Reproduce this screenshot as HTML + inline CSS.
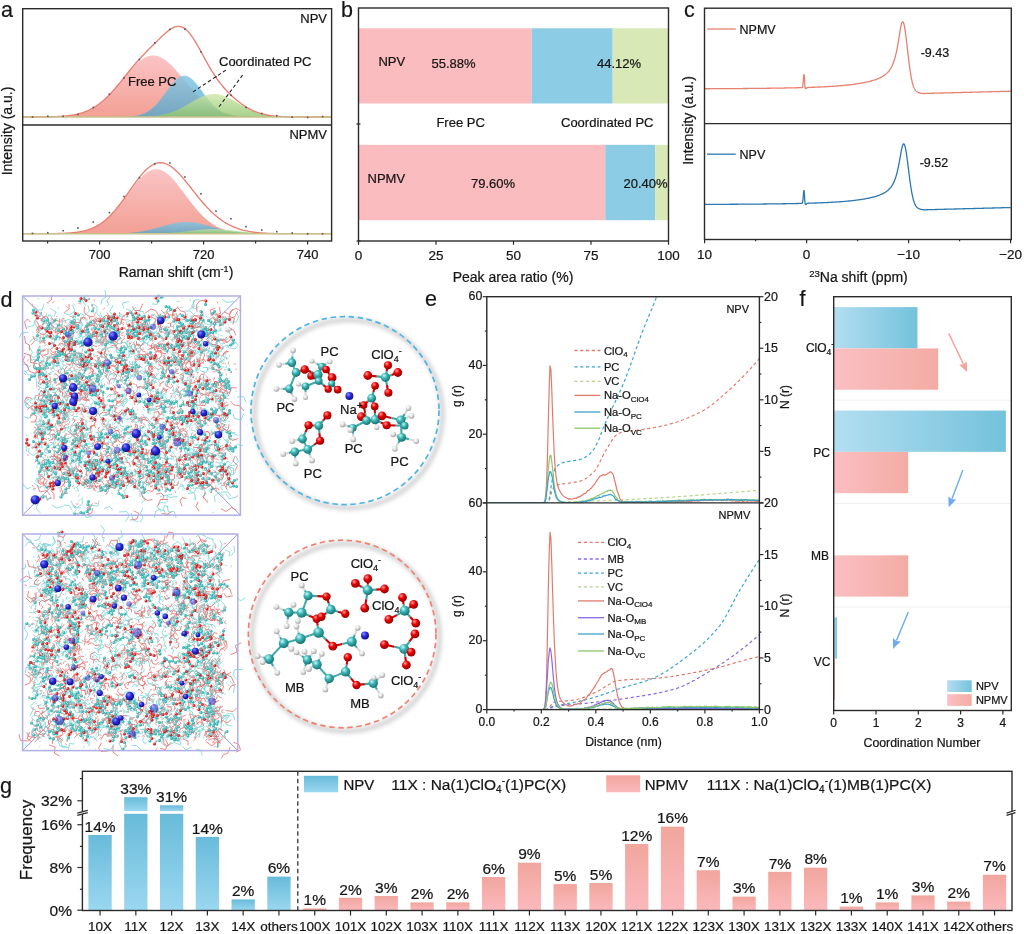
<!DOCTYPE html>
<html><head><meta charset="utf-8"><title>Figure</title>
<style>
html,body{margin:0;padding:0;background:#fff;overflow:hidden;}
svg{display:block;}
text{font-family:"Liberation Sans",Arial,sans-serif;fill:#161616;stroke:#161616;stroke-width:0.22px;}
</style></head><body>
<svg width="1024" height="934" viewBox="0 0 1024 934">
<rect width="1024" height="934" fill="#fff"/>
<defs><radialGradient id="at_C" cx="0.38" cy="0.33" r="0.72" fx="0.35" fy="0.3"><stop offset="0" stop-color="#c4fafa"/><stop offset="0.45" stop-color="#38b0b0"/><stop offset="1" stop-color="#176a6a"/></radialGradient><radialGradient id="at_O" cx="0.38" cy="0.33" r="0.72" fx="0.35" fy="0.3"><stop offset="0" stop-color="#ff9a9a"/><stop offset="0.45" stop-color="#e40000"/><stop offset="1" stop-color="#8a0000"/></radialGradient><radialGradient id="at_H" cx="0.38" cy="0.33" r="0.72" fx="0.35" fy="0.3"><stop offset="0" stop-color="#ffffff"/><stop offset="0.45" stop-color="#e4e4e4"/><stop offset="1" stop-color="#9a9a9a"/></radialGradient><radialGradient id="na_g" cx="0.38" cy="0.33" r="0.72" fx="0.35" fy="0.3"><stop offset="0" stop-color="#8c8cff"/><stop offset="0.45" stop-color="#2a2ad8"/><stop offset="1" stop-color="#0a0a80"/></radialGradient><filter id="blur3" x="-20%" y="-20%" width="140%" height="140%"><feGaussianBlur stdDeviation="2.2"/></filter></defs>
<line x1="22.6" y1="296" x2="54.6" y2="328" stroke="#8a8ac8" stroke-width="0.9"/>
<line x1="240.4" y1="296" x2="208.4" y2="328" stroke="#8a8ac8" stroke-width="0.9"/>
<line x1="22.6" y1="515.2" x2="54.6" y2="483.2" stroke="#8a8ac8" stroke-width="0.9"/>
<line x1="240.4" y1="515.2" x2="208.4" y2="483.2" stroke="#8a8ac8" stroke-width="0.9"/>
<g transform="scale(.5)" fill="none"><path d="M356 758l-3 4M421 678l-6-2M75 958l-4-2M237 634l-2 6M261 874l0-3M229 904l-3 4M427 934l0-5M172 919l-3-3M322 814l-4 4M385 683l-2-4M157 822l-4 3M321 911l0-5M457 729l2 3M261 710l-6 0M231 752l-5 0M375 807l-5 4M130 906l0 6M77 867l2 4M82 635l3 3M208 674l-2-2M123 655l-2-3M127 790l3-3M404 903l-4 2M313 694l-2 3M343 650l0 4M402 949l-6 0M452 707l-2-4M167 924l3-1M428 821l1 5M440 812l1-6M156 712l-3 0M349 901l-4 5M315 914l-1-3M339 952l-4 5M168 844l-3 2M188 874l-3-3M414 901l-1 5M78 886l-1-3M305 886l3 1M323 900l-4-1M319 959l-4 0M219 925l1 4M449 786l-5 3M177 648l-4 2M338 839l-5 2M381 829l-4-3M339 972l-2-4M185 751l4-1M150 740l-2-5M327 640l4 5M153 692l-4 3M115 844l-5 3M139 820l0-4M369 666l2 3M191 654l-3 5M372 761l4 1M170 881l2-2M186 757l4 2M96 967l-4 2M373 654l-6 1M191 688l1-6M243 807l5 3M253 946l-5-4M414 635l-3-6M225 712l-5-4M330 886l3-4M248 786l0 6M374 646l3 1M379 633l4-2M188 847l4-3M348 854l5 0M336 658l4 4M358 718l1 6M84 725l4-4M136 936l-5 0M111 659l-3 4M159 640l-1 3M345 791l5-2M132 896l-4-3M339 803l4 2M313 737l-3-1M139 881l-1 5M241 937l-1 3M312 877l-1 3M87 708l-3 2M131 845l3-2M404 667l0-4M172 737l-2 2M384 784l-2-3M151 637l-3 3M125 659l-5-2M169 673l4 3M163 747l-3 5M266 891l5 0M258 745l3 0M439 960l-3 4M453 734l-4 2M86 664l-3 4M288 637l4 1M432 667l-2-5M163 721l4-2M77 818l-1-6M372 857l2-4M87 763l0 4M405 648l-3 5M97 646l-3 6M222 764l1 4M232 884l-6 0M232 949l0-4M446 672l-5-1M303 871l-4-2M378 769l1 6M80 766l1 5M361 647l5 3M182 657l4 2M177 884l-3-4M362 952l-2 6M110 761l4 2M288 670l2 4M378 806l-3-4M436 895l6 1M166 899l3 0M287 768l3 2M400 899l1 6M134 858l3-5M224 882l-5-3M158 755l0-4M459 709l-1 6M276 946l4 4M97 724l3 3M371 870l2-4M279 745l3-1M112 664l2-4M402 726l1-5M240 678l-2 3M352 633l3 1M175 896l-2-6M371 636l3-5M444 717l5 4M380 703l6-1M125 714l5 0M352 946l-4-4M216 650l2-6M259 673l1 6M442 797l2 4M271 979l-2-4M218 961l-2 2M174 954l-2-6M296 722l5 1M189 918l0 5M383 676l0-4M415 882l0 6M100 965l-2 2M130 670l-3-6M196 664l5 3M154 638l3 1M307 807l-1 5M296 933l-6 1M414 655l2-3M222 677l-3 4M433 693l-2-5M418 798l-5-2M273 744l-1-5M398 884l-4 0M230 883l2-5M446 827l-3 0M113 765l-3 1M278 874l5-3M372 907l-2 4M393 688l3-1M193 771l-6-1M329 745l-3 5M221 820l-2 3M126 630l2 3M196 951l-6-1M230 948l0-3M159 686l-3-1M421 674l1-4M94 868l5 1M416 900l4 0M320 752l2-3M191 697l5 3M344 919l-3 0M125 836l0 6M310 699l-4-4M161 998l-4 5M334 1014l3-1M279 639l4-3M139 698l2-5M149 946l-4 5M128 600l-2-3M191 886l-5-1M294 676l1 4M341 842l0 6M365 678l-5 2M370 842l5 4M191 764l-6 1M435 792l4-4M315 918l3-4M281 912l-4 1M110 865l-3-5M71 961l4-3M131 662l3-3M385 927l2-3M292 664l-3-2M386 680l3-1M239 911l-4-1M109 714l1 6M263 695l-1 6M113 660l1-5M342 673l-3 2M381 848l4 1M88 809l-2 5M312 950l-3-5M274 752l2 4M166 790l-1 6M338 631l-5 1M79 921l-1 3M128 776l-3-3M101 693l4-4M328 715l-6-2M341 863l-5 0M332 654l3-1M224 721l-1-5M394 891l-5 0M310 830l-5 3M350 847l3-4M236 847l-4-5M216 779l-1-3M399 968l-5 0M335 863l-1 4M267 887l4 1M440 771l4-1M432 790l3-1M90 979l-2-5M374 720l3 3M261 950l2 4M85 776l3 3M296 796l0 4M85 849l-1-3M391 976l-6 1M382 945l3 4M93 730l4 5M459 818l0 4M210 644l-1-6M249 787l1 3M224 696l6-3M253 727l-4-4M376 840l-4 2M418 782l5-2M185 980l5-3M151 824l-3-3M182 964l0-3M240 958l0 6M300 891l4 3M99 924l2 3M219 682l-3 2M79 868l1-6M326 920l-1 6M284 898l2 4M189 641l-1-3M400 894l3 5M194 672l0-6M436 714l3 3M379 841l-5-1M121 844l-3 3M208 910l1-3M348 896l6 2M400 741l6 2M294 905l6 2M359 684l6-2M224 683l1 5M136 814l-3-5M376 839l-5-4M135 732l-3 0M323 675l1 3M106 953l-4 3M424 909l4-4M249 756l0-6M366 961l-3 4M212 665l-4 0M260 869l1-6M118 975l-3 1M258 748l2-4M222 901l6 2M270 681l-2 5M125 736l-3 4M295 969l6-1M381 742l5 2M434 951l-5 2M442 815l5 2M257 949l-2 3M125 882l-1-5M149 786l-2-4M178 796l-1 5M430 766l-4 1M411 923l-4 1M408 896l5-2M390 934l4 3M205 648l4-3M189 905l-1-3M424 770l-3-4M197 642l-3 1M214 715l-3-5M293 866l-5 0M294 834l-5 2M272 715l3-1M406 800l-3 5M188 962l-3-2M286 787l3 2M220 828l-5 0M311 904l3-3M137 772l-4-2M87 845l-4 3M233 670l4 4M313 653l2 6M228 678l-1 5M451 912l2-2M431 667l3 0M84 691l-4 4M397 785l4 4M192 974l3 4M187 683l2 3M420 637l-2-3M461 754l-4 3M424 641l-4-3M107 830l-5 1M277 648l-1 4M269 709l1-4M204 956l3 6M364 653l-6-2M385 906l3 1M168 734l-3-3M345 896l4 0M308 891l4-2M283 745l-3-3M261 867l3 0M335 870l4-1M140 894l-6-1M323 752l4-2M142 957l-3 3M365 800l3 5M134 964l5 1M159 830l3-4M133 965l-6-2M300 852l-2-3M328 762l-1 3M319 691l3-5M265 899l-5 0M442 926l-6 0M286 818l5 4M398 908l5-3M249 913l3 5M299 680l0-5M71 677l4 2M400 929l2 3M93 803l-1 4M294 788l-3-1M105 951l0-5M120 675l0 4M176 713l5 2M93 827l-2 2M355 753l-5 1M314 835l-2 6M383 843l-6 0M296 957l-4 5M401 919l-5-2M148 892l-6-1M253 785l2-6M345 910l-2-3M154 912l5 2M313 724l4 0M432 911l-2-3M136 629l3 0M399 773l2-3M179 872l-1-4M330 829l-3 4M413 709l0 3M162 678l-3-2M205 683l4-2M332 739l-1 6M230 802l-5-4M288 949l4 0M83 749l-2-5M427 951l-5 0M308 825l1 5M440 873l-2 3M253 709l-5 3M388 936l-2 3M364 679l1 3M175 640l-4 3M161 752l0-4M110 910l-3 0M312 702l-4 4M354 966l4-3M294 708l2-4M202 670l-4 5M91 805l5-2M262 933l-6 1M48 597l2 3M301 908l1 4M244 632l-4 2M89 668l2 5M182 639l0-4M267 633l-2 5M174 953l-1 5M223 956l3 3M355 739l-5-2M209 774l-5 0M238 705l-6-1M130 907l4-1M436 914l5 2M150 974l-2 4M148 843l-1 4M82 801l-3 0M338 885l-2-3M136 649l1-3M132 860l-3 3M273 685l1 3M286 663l-5 3M365 698l5 0M285 914l-2-5M417 925l3-1M190 928l1 4M129 738l-4-2M324 927l3-3M400 851l-3 2M196 727l4 0M446 932l6-1M186 968l-4-4M93 726l-5 0M76 657l3 4M87 790l-5-3M389 753l-5 3M140 737l0 4M395 735l-3-5M382 817l5 2M274 955l6 1M87 651l-3-2M297 968l-4-4M103 737l1 4M449 959l3-2M165 891l1 6M371 790l-1 6M135 830l-1 4M394 727l-5 3M166 714l-2 6M253 954l3 2M147 864l-1-3M119 961l5 3M389 652l-2-5M394 764l4 0M176 711l4-4M299 698l5 1M161 644l-2-5M158 893l1 3M129 690l3-2M124 636l5 1M402 759l0-4M93 658l-2-3M162 734l0-6M94 801l1 5M280 877l-3-4M112 847l-2 4M335 978l-4-1M320 671l3-1M432 970l-1 5M402 766l-4 2M365 705l5-2M396 898l-2-3M180 799l4-4M273 889l-6-1M117 676l2-3M392 734l-1 5M234 737l-5-2M235 854l-6 0M213 831l-4-3M224 679l3-2M273 653l-3 2M439 711l-3-2M409 798l3 4M225 646l-1-4M205 877l6 0M447 636l0-4M252 917l4 5M418 733l1 5M276 685l2 3M261 657l-3 5M363 791l-2 3M107 866l3 3M437 667l1 4M434 936l0 5M203 828l-4-2M264 713l-6 1M379 653l-4-2M116 762l-4-5M363 791l0 5M120 890l4-1M364 632l-4 3M335 718l-4 3M241 833l0-3M156 739l-4 0M349 697l4-5M386 799l2 5M169 809l2-3M85 808l1-5M231 815l3 4M190 793l0-4M196 969l-2 4M192 938l-4-3M181 951l-6-2M155 670l6 0M98 869l-2-3M106 783l-2 3M418 909l4 2M389 738l5 1M329 908l-2 4M302 943l-5 4M263 878l-3 4M167 931l2-3M334 915l2-3M442 894l-3-3M228 882l-3 3M406 890l5 3M169 663l3-5M138 723l-2-6M198 685l-5 1M399 724l-3-2M301 825l-1 5M217 676l4 1M239 934l-3-1M123 921l-6-1M398 896l3 1M417 716l6 0M418 932l-3 4M314 648l4-4M157 795l4-2M232 827l-4 3M284 903l-2-3M354 641l1-6M150 867l-3 0M98 807l5-2M198 828l-4-2M313 863l-2-2M76 767l0-5M129 787l4 1M89 957l0 4M162 672l-1-4M425 966l-3 2M253 825l-1 5M325 968l-5 1M232 893l5 0M92 847l-4 2M73 636l4 3M255 850l-5 3M191 798l4 3M327 752l-4-4M126 899l4-4M184 791l-2-3M343 704l-4 0M306 931l2 2M292 885l5 0M181 905l3 5M228 880l1-4M85 726l-2-5M388 639l1 6M124 925l-3-3M175 860l-4 1M109 972l-2 3M175 959l4-3M185 974l4 0M176 862l3-4M325 861l-5 0M451 884l5-3M241 968l3 2M396 858l0 3M146 979l3-3M213 637l1 6M132 690l4-3M91 947l-3 4M459 924l-4-2M189 648l3-2M48 746l4 4M277 962l-3-2M432 830l3-1M200 931l0 5M276 930l-6-3M262 658l0 4M439 807l-2-6M354 899l-1 3M217 679l-2 4M147 633l3-1M355 857l-2-4M132 662l3 3M352 927l4 3M163 899l5 1M432 935l-3-4M393 899l2 5M443 758l-2 3M163 869l6-1M166 768l-4 3M133 677l4 2M222 677l3 5M362 737l-2-4M392 975l4 1M152 828l5-2M445 786l3 2M140 890l5-1M394 694l-4-4M332 866l6 2M102 662l-2 4M455 940l3-3M291 904l4 0M433 792l-2-6M331 672l0 4M215 895l-4 3M161 853l4 1M294 715l5 1M238 916l-3 3M400 732l0-4M394 664l0-4M421 803l3 3M188 769l1 5M349 736l4 3M353 647l2-5M211 879l-2-6M53 1018l-1-3M336 958l1 5M455 647l2 3M119 673l3 2M366 648l-2 6M147 951l3-1M324 626l-3 4M343 780l3 1M288 641l-4 1M363 780l-3 5M55 808l-4-2M96 859l-3 2M414 890l2 6M336 651l0 6M250 805l-4-4M196 883l1 6M134 836l-3-5M421 702l6 0M139 934l-4-3M275 948l-1-4M324 664l-5 0M281 787l-2-6M118 831l1 4M245 676l-5 1M151 851l1-4M386 819l3-1M202 681l0 6M135 678l4 0M379 823l-3-2M368 712l1-4M392 995l-5 3M144 948l-3 1M348 721l4-1M152 632l-5 0M186 890l4 1M108 810l4 5M273 964l1-4M237 956l5 3M317 908l6 1M97 718l0 3M340 816l-4-2M200 664l0-4M195 660l4 2M173 929l3 2M324 877l3 2M411 885l3 1M300 641l1-3M375 805l3 3M143 716l-4 1M344 959l0 5M85 833l-1-5M420 691l-4-2M130 760l0-4M258 709l-1-4M376 628l-5 2M148 894l1 3M164 880l-1-4M92 912l-3 2M429 775l-2-4M293 906l1 3M346 794l5 2M183 690l-3 2M359 717l0-4M331 835l3 5M144 708l5 0M451 857l-2-6M460 843l-5-1M196 722l-3 1M303 909l0 5M323 768l3-3M307 667l4-5M329 713l-3 2M131 889l2-4M141 732l-4-2M309 917l-3-4M333 900l-2 4M311 960l3 0M446 798l1 6M87 751l3 1M102 630l-5 0M453 792l6 0M82 819l5 0M58 733l4-1M372 841l-4-3M230 759l-5-1M118 673l5 2M405 757l-3 2M114 917l-3-5M100 745l3 2M198 770l0 4M109 864l4 2M94 647l4-2M139 910l-3 2M323 698l-3-5M295 776l-4 0M239 951l-3 4M282 956l-5 3M327 953l-3 3M185 854l-4 4M281 729l-3 0M81 660l-6 0M355 772l2 3M406 645l-1-4M146 624l3 2M474 784l-3-4M368 721l1 4M154 652l0 3M244 902l5-2M201 890l1 3M374 898l3-3M354 914l-4-1M244 690l-2 6M369 779l0 5M364 978l5 3M223 929l-2-2M315 748l-3 5M420 779l-5-3M443 734l5 0M439 755l2-4M299 956l3 3M435 640l-5 1M420 891l-6 2M355 874l5-1M83 727l-6-2M372 938l0 4M157 887l4-3M277 708l-2-4M416 755l-4-1M439 934l2-5M193 670l3-1M205 884l5 1M215 916l-4 1M383 890l-1 5M72 931l3 5M276 953l1-3M392 957l-5 2M422 945l-5 1M119 864l3 4M304 844l0 4M96 877l3-1M172 705l2 2M98 882l-1-6M314 750l4-4M175 732l3-2M345 741l-4-1M437 875l2-4M202 726l2 5M284 930l-1-6M101 930l2-5M154 745l-3 2M316 740l0 3M88 860l0-5M211 715l3 3M418 704l-4-3M210 929l3 1M307 680l2 5M181 774l4-2M458 948l-3-5M357 847l-3 4M201 704l-2 5M200 744l3-1M293 720l-1 4M102 849l4 2M322 736l-1-3M344 880l4-4M122 833l-3-5M149 938l-4-4M256 948l3-5M136 823l6 2M162 665l-2-3M401 698l-2 4M84 945l-4-2M319 654l2-3M169 663l0-5M263 725l4 0M287 713l-4 0M374 716l-6 1M204 847l5 0M148 649l-1-6M118 672l3 2M437 673l-2 4M157 690l-3-5M184 939l-6 1M362 718l-6 0M227 989l-5-4M220 956l3 1M304 690l2 5M88 635l-4-1M139 809l-6 0M218 943l-6 1M430 718l3-3M406 856l0-4M286 906l-1 4M355 692l-5 3M151 884l-2-4M432 666l3-4M231 726l4-1M231 701l-3 5M231 757l-3 3M389 801l-4-1M150 633l1 4M80 835l-1 5M130 933l-3 1M108 748l3-1M217 719l0 3M253 906l-5 3M366 727l-6 1M134 717l5 2M117 910l4-2M353 636l1-4M283 908l-1-4M280 950l-5 1M180 634l3-2M149 896l-3-3M171 768l3-1M421 733l1-4M221 633l1-3M315 848l-5-4M190 934l-4-3M159 690l-4-4M104 655l-6-2M428 931l-5-4M177 868l-3-2M181 696l-5-2M333 643l2-5M104 883l0-3M411 847l-1 3M332 950l4-1M370 897l4-3M109 851l2 6M174 970l5 2M237 927l-3 3M318 764l-2-3M87 699l-5-1M368 859l-5 0M422 675l-2-4M129 758l3-5M152 908l1 4M155 982l-4-1M386 702l4-1M345 938l1 3M117 878l-2 5M425 926l0-5M321 918l-1-5M452 895l5 0M171 632l-3 3M293 968l1 3M227 955l6-1M288 906l-1 5M327 728l0-5M334 1014l-5-3M208 913l-5 3M180 727l-5 0M157 749l-5-1M379 719l-4 3M404 692l-1 4M241 945l-3 1M327 896l4-1M107 695l4 4M280 930l4 5M96 888l4 0M163 650l3 1M311 916l0-4M125 898l5 1M100 826l4 2M131 839l2 3M443 733l-4 5M390 881l-3-1M450 707l3-3M180 861l-3 1M338 769l0-6M311 748l4-1M412 917l4 1M80 953l-4-3M338 873l5 0M255 833l-3 2M214 689l-1 6M99 900l-5 4M243 712l3 3M333 690l0-4M409 689l3 5M344 867l-2-4M208 876l-2-5M453 735l-1-5M209 890l3-5M215 763l0 4M216 892l5 3M449 770l0-3M206 687l1-6M181 675l5-3M269 874l-5-1M250 959l-4-5M180 929l5-1M141 818l2-5M204 891l5-2M92 720l2-4M392 909l4 3M438 907l-5 1M84 769l4 4M108 752l2-5M75 778l5 2M320 969l3 4M382 954l-4-2M222 724l2 4M248 826l2-4M131 736l3-2M340 938l-1-3M309 864l2 2M405 810l1-4M215 635l-1-5M167 745l4-3M395 694l-2-3M407 750l6 0M112 798l5 2M384 750l-6 0M446 861l-4 2M364 737l3-4M204 877l5 3M132 731l-3-2M355 897l0-4M452 685l3-2M307 883l3 0M422 961l3-2M189 769l-3-4M317 842l-6 2M408 886l4-4M401 964l2 3M209 975l-3-3M218 679l-2-4M88 862l4-4M321 785l3-1M92 632l2-5M104 868l5 0M458 729l-2-4M338 925l-3 5M259 954l-1-5M353 660l4-2M123 690l2-5M319 964l5-1M456 826l6-2M95 676l-4-4M328 720l-2 2M118 767l-3 3M417 756l-3 1M443 746l4 0M214 957l-3-1M182 957l5-4M323 680l2 4M413 944l4 3M406 929l-2-5M333 862l3 5M211 825l3 2M332 900l-2-4M353 644l-3-1M313 659l3-4M165 795l5-3M314 728l-3-1M400 758l1-6M285 932l4-1M278 753l-3-2M254 918l0 5M172 860l-3 1M256 673l1-3M326 823l5-3M328 671l3-1M261 778l-3-4M131 671l3 2M256 900l-2-6M148 874l0-6M340 880l1-3M284 865l-2-5M189 805l2-2M318 890l-4 2M144 906l5 4M384 684l0-3M368 643l5 2M206 912l-2 4M320 654l3-4M79 775l-3-4M245 968l-4 0M337 822l5 0M444 795l-4 2M394 781l-3 3M459 907l3 2M222 652l-1-4M376 882l-4 3M281 675l-3 3M83 901l-3 2M226 844l-1 6M112 658l5 2M404 649l0-5M447 968l5-3M358 897l4 3M118 886l2-6M100 772l5 0M385 714l-2 4M222 925l-3 0M155 713l-5-2M403 667l3-1M171 641l-1-3M313 800l2 6M334 666l-2-3M390 813l4 1M171 854l4-2M263 826l3 1M123 747l4-3M343 967l-2 5M443 733l-6 0M96 850l4 2M254 687l3-5M281 974l2 4M297 764l-1-3M427 814l6 3M192 948l-5 2M438 633l-5-3M117 676l-4 1M260 955l-5 4M124 811l0 4M191 966l-6 1M356 953l-5-3M407 922l0-4M254 682l3 2M97 784l1-3M82 668l-2-3M102 705l-3-2M228 658l-2-4M206 694l0 5M345 940l-4 1M150 717l6 2M398 942l3 1M202 890l-3-2M351 675l-3 4M333 935l-1 5M136 946l0 4M155 754l3-6M403 788l3-1M231 631l5 0M436 889l1-5M69 982l-2-6M100 852l5-3M202 713l4 0M207 890l-3-1M308 782l-5 3M52 872l2-4M285 657l0-6M116 705l0 3M243 889l-1-5M317 658l6-1M76 887l-1 5M376 658l-1 3M389 976l-3-1M321 828l-4-1M207 873l0 4M363 691l0-4M151 747l-1 4M424 691l-5-2M170 654l4 0M370 662l3-3M182 855l1-4M228 673l3-2M124 969l4-3M321 894l-4 0M410 815l-1 4M303 921l4-3M249 676l-3-3M284 966l2-5M97 770l0 5M379 766l3 0M314 935l-6-1M155 656l3-3M281 692l-2-3M98 608l-5-3M125 865l4-2M264 941l-3-1M206 736l5 1M146 731l-5-2M372 662l-3-2M271 648l-3 1M451 813l0 5M146 925l-3 2M333 660l-1-3M120 978l-2-5M132 935l3-2M250 735l5 2M79 887l-1 3M93 813l0-3M354 650l0 5M302 871l-3-2M97 863l-3-5M390 635l-2-2M175 903l0-4M392 908l0-4M347 864l0 4M424 684l-2-6M359 946l-4 3M177 760l4 4M394 738l-1 6M135 660l5 1M424 1026l5-2M164 766l3-1M176 973l-4-2M426 771l6 1M337 955l-2 5M335 906l2-5M227 732l-1-3M359 788l5 2M293 641l2 5M388 841l-3 3M408 912l3-1M153 806l-3 2M203 736l0-6M152 718l1 4M126 756l-2 5M367 741l1 3M401 900l-5 0M124 932l5 3M399 841l1-6M231 691l1-6M113 864l5 4M138 923l1-3M325 897l-4 4M76 957l-1 3M353 969l4 2M97 949l-4-1M294 926l3-4M404 703l4-2M235 925l6-1M400 801l-1 6M84 824l2-5M108 764l-6-1M128 784l-1 4M179 779l1 5M233 771l0-4M175 957l-3 1M118 618l-2-4M132 935l4-2M395 753l-4 3M130 780l-6 0M104 649l-1 3M275 845l-5 2M124 738l3-6M135 737l3 2M394 666l3 4M381 602l-1-5M208 706l2-5M312 650l-2-3M269 979l-3 2M252 828l2 3M388 705l-5 4M157 638l-3 1M141 717l3-5M361 631l4 3M440 780l1-5M395 962l-1-6M448 740l4-1M301 925l6 2M91 777l-6 0M120 687l1 5M366 749l3-5M199 882l3-5M215 730l5 2M395 747l-2-4M344 650l-2-4M83 956l-6 0M300 661l-6 1M376 874l0-3M437 927l-3-3M181 957l-3 5M322 673l3-1M450 794l2-4M410 762l-1-5M343 694l0-3M331 711l-4 1M341 962l-3 2M371 835l4-2M440 647l-5-4M104 950l1-6M156 994l3-5M375 785l3 2M428 901l0-3M243 910l-4-5M110 801l3-3M252 715l4 1M112 725l-4 1M315 724l3 2M127 793l-2-2M444 703l-4 1M313 925l0-6M428 635l-3-4M99 954l-5 2M198 823l-1 4M420 979l-2 5M135 911l3 2M241 776l6-1M145 767l-3 2M138 852l-1 4M89 777l3 5M209 955l2 3M387 887l5 3M407 807l-4 5M307 672l5 0M154 786l-6 0M452 975l3 5M431 702l-3 5M259 640l-5-1M297 988l-2-3M106 830l-2-6M340 671l-2-3M210 670l1-4M364 726l2 3M253 960l-2-5M150 733l-4 5M258 670l-3 4M445 763l-3 5M447 786l0 5M449 778l-1 5M92 670l-3 1M151 635l2-6M266 700l4 4M328 838l-3-4M199 948l0-3M427 712l-1 6M428 954l-1-4M152 821l-3 2M99 662l-6 0M322 636l3-2M302 665l-2-4M349 696l5-4M133 911l1 4M210 727l5 0M420 948l0-5M158 715l-2 5M233 882l-6 0M367 892l-5-4M150 795l-2 3M305 975l2 2M335 954l3-3M368 778l3-5M279 836l4 3M403 694l1-4M345 695l3-2M416 769l-6 0M158 927l-1-3M391 675l3-5M168 848l1 5M350 734l1 5M75 597l4 1M354 603l6 0M134 906l0 3M375 754l-1 6M422 796l4 1M319 632l2-5M216 739l-4 1M262 776l3 0M352 919l4 2M327 773l1 5M113 691l-3-1M301 791l-5-3M416 835l-4-2M414 879l-3 5M446 663l-4-3M200 674l-5-4M225 812l2-3M345 943l-3-5M451 855l6 0M428 932l-3-1M116 798l-3-5M352 673l-1-6M93 920l3 3M127 671l2-5M418 937l-4 2M379 786l5-1M329 876l4 3M393 806l-5 3M157 866l3 3M423 677l0-3M79 908l3 0M290 901l1-4M403 889l1 4M221 685l3-2M363 596l3 2M263 792l3 3M405 691l-4 3M208 882l2 3M276 670l-2-6M120 849l-2 5M170 974l-2-4M284 669l3-3M375 657l-5 1M419 708l-2-4M369 763l0-4M383 664l-4-2M94 662l-3 2M403 822l1 5M263 659l4-2M448 822l-1 4M149 611l-2-4M423 871l-3 1M365 615l-6 0M198 951l-4 3M454 767l4-4M327 807l0-4M112 886l-3-3M261 773l-3-1M184 971l-6 2M118 841l-3 0M400 716l1-4M87 648l-4-3M249 637l-2-5M158 735l0 6M146 880l4 0M215 613l0-3M197 894l-1-4M210 754l4-1M110 855l4-1M84 896l-1-5M291 684l2 4M380 761l-1-5M105 836l3-5M381 707l0 4M299 821l-5 0M423 865l1-3M336 740l5-1M82 831l-2 3M178 720l3 3M452 710l-3 3M256 964l4 1M111 639l4-3M97 693l-4-3M153 664l4 3M277 905l-2 5M188 713l3-1M137 776l0 6M254 638l-3 5M382 858l4-3M453 708l-5 0M358 634l-1-6M152 948l-5-2M357 769l2-3M178 948l0-4M309 936l4 3M447 858l0 4M457 807l-2 5M256 697l2-5M322 676l3-1M287 791l3-2M184 678l4-3M301 796l-3 2M387 910l-6-3M253 942l-3-2M128 941l-4-4M153 925l-2 5M379 661l-1 4M369 747l0-4M450 738l-2 3M231 666l-2-6M192 931l1 6M450 656l5 0M130 751l-3 3M289 944l-4 0M84 731l4 4M161 787l0 5M128 890l3 4M225 777l-5 0M174 834l5-1M96 786l4-1M176 630l4 2M302 654l3 1M137 900l5 1M291 962l3 3M101 735l-1 3M385 823l5 0M333 954l-1-5M133 860l3 0M399 669l2 6M410 807l-2-5M454 662l5 2M103 650l-4 1M228 693l5-3M145 765l-6-3M139 656l5 2M120 931l-4 1M395 812l-3-5M440 656l-1 5M424 682l3-5M204 726l5-1M149 934l4-2M264 914l-6-2M100 810l4-3M336 727l-5 3M240 703l5 3M424 645l0 4M311 770l-3 1M413 850l-6 1M327 707l5 0M135 803l-1-4M137 701l-5-3M145 806l-3 2M257 697l6-1M135 882l1-5M383 948l-1-4M357 865l-1-3M408 896l-1 6M331 843l4-2M295 771l-1-4M183 762l3-6M324 827l3 2M92 853l6 0M158 900l0 4M332 784l0 6M100 637l4-2M98 924l-4-1M378 904l4-2M72 960l0 6M144 778l-4-3M276 821l-1-3M382 710l4 2M396 960l4-2M433 935l-1 3M75 928l1 3M73 874l4 5M423 689l0-5M92 730l-5 0M107 732l6-1M455 784l5 1M451 676l2 3M445 765l6 0" stroke="#8adada" stroke-width="1.4"/><path d="M325 756l4 0M306 906l0 3M77 791l-5 0M430 815l2 5M362 860l-4 2M142 767l3-1M114 764l-3 4M407 669l2 5M436 849l4 0M72 855l-5-1M182 742l-1-6M343 645l-2 3M86 941l2 3M137 817l-1 4M350 706l3 1M456 946l4-1M242 695l-1 3M343 863l-3 3M359 936l-5-1M124 902l2-3M213 851l-5 3M245 715l0 6M149 850l-5 2M314 632l5 3M426 920l-4-4M158 929l-1 6M340 902l-1 3M416 968l-3-2M100 885l4 0M271 752l-3-5M438 713l-5 0M438 654l3-2M229 660l4 1M324 952l-5 1M418 700l1-5M409 952l-2-6M117 692l3-5M116 711l-5-1M138 942l-1-6M202 659l0-5M82 641l4 1M162 933l3 4M367 860l5-3M337 698l4-2M145 832l2-5M146 946l3-4M89 685l-4-5M421 828l5 2M194 666l6 0M408 998l-1-4M422 713l-1 4M84 964l-1 4M76 910l0-5M452 747l1 4M146 807l1-6M79 732l6-2M342 794l3 0M248 892l-2 5M114 966l-3 4M399 875l-4 1M350 637l4 4M279 939l4 2M250 658l-3-5M415 787l-5-1M330 662l-3-5M311 792l-4-4M88 910l4 1M246 960l3 3M394 745l4-1M184 864l-5 1M164 966l0-4M283 799l-2-2M415 924l1-5M355 766l3-5M427 953l5-3M431 831l0-6M451 899l2-3M361 719l-3-5M121 843l2 3M122 762l1-4M226 687l4-1M350 912l1 3M101 731l-3-3M80 826l-5 0M295 650l0-4M379 920l-4 0M298 865l-4 4M156 629l0-4M397 662l4 0M355 713l-3 4M417 921l3 5M309 701l0-5M283 902l3 5M376 700l-4 3M347 726l-1 4M291 635l0-3M369 695l3-5M186 673l4 0M239 908l-3-2M381 921l0 4M123 820l4-4M239 629l0-5M72 900l3 1M101 804l1-4M264 646l-3-2M430 660l-3 3M385 772l-5 0M394 901l-3 2M380 738l2-3M398 866l-4 1M420 863l0 6M456 774l-1-3M285 841l1-4M84 643l0-3M105 835l5-1M133 646l-3-1M91 631l-3 4M339 947l4 2M66 613l-2-6M172 925l4-4M327 934l3-4M398 941l1 3M131 722l-1-4M99 950l-3 5M160 917l1 4M190 640l-4 4M302 710l-3-6M159 744l-5 2M417 807l-4-2M140 938l-1 3M408 778l3-3M277 633l-2 2M125 933l-6 2M260 747l-4 1M335 974l-6 1M368 960l4-5M357 713l-4 2M364 911l-3 5M81 745l-1 5M125 773l6-1M206 657l-4 4M151 775l2 3M147 645l-4-5M417 685l1-4M150 737l0 6M112 834l-4-2M218 704l-1-3M462 888l-2-4M259 688l4-3M322 790l1-6M225 676l-2-5M417 773l2 5M359 656l0-4M323 688l-4-2M397 647l-6 0M178 903l6 0M297 967l4 3M458 723l-2 4M296 657l3-1M317 932l3 6M123 693l2-2M184 745l-3-4M443 872l3 3M152 665l5-2M116 819l0-4M203 655l-5-1M123 935l3 0M136 712l-2 4M78 855l-4 1M425 737l4-4M131 958l2-4M331 934l3 4M341 646l-6 1M396 846l0 4M305 678l0 5M289 934l-2 4M87 802l-5-3M256 891l-3 0M253 942l4 1M408 742l0 3M453 938l4-4M189 940l-2-5M457 702l-3 3M122 643l4 3M393 913l0 6M274 925l3-3M124 899l-2-3M135 831l1-4M411 783l5 3M126 814l2 3M112 772l3-3M374 864l-2 3M370 869l5 0M215 644l1-5M455 893l4 0M187 890l-3 1M126 905l-3 2M346 681l-5-2M248 913l3-1M418 770l-2-4M181 843l-4-1M431 786l-4 3M454 916l1 3M205 784l-3-3M160 853l0 5M442 873l0-6M402 818l-3-4M128 835l-4 0M82 973l-1 3M247 793l-3 2M111 647l4 2M268 933l-2-5M379 889l3-5M208 843l-5 0M171 669l5 1M220 945l1-4M86 670l2-4M222 831l1 3M187 624l0-4M190 637l3-2M317 667l-3 2M220 880l4-5M268 797l3 1M375 778l5-3M431 932l5 2M140 633l6 0M359 840l5-1M362 749l5-4M385 741l-1 4M109 727l-2-3M292 761l0 5M91 825l2-4M278 655l5-2M256 761l4-1M275 895l3 2M84 963l0 4M163 915l3 2M318 694l-4-2M148 971l-4 3M151 710l-1 4M269 901l6 0M72 719l5 2M201 917l-1 3M184 863l-5 2M368 776l0 5M111 710l-4 1M303 780l4-4M329 951l5-2M430 965l-4-1M250 903l-2-3M436 712l5-2M381 936l-4 5M317 687l1-4M138 932l-2 6M267 757l3-3M348 847l-2-4M168 703l4 3M404 719l4 5M364 818l-4-1M267 792l1-5M408 719l-4 0M193 672l-1-5M331 938l4 4M270 968l-1-3M234 920l3-5M141 961l-5 2M320 965l1-6M337 683l1 5M152 1014l-5-4M114 673l-1-3M379 930l-3 3M450 633l0 5M185 898l4-2M133 943l4-3M452 715l2 4M325 934l0-4M162 739l-5 4M273 651l1 5M132 687l-3 3M259 685l2 3M122 933l-3 5M303 629l5 2M111 734l4-2M435 713l-2 6M142 909l2-4M184 656l0 3M222 791l-4 2M379 882l4 0M142 737l-5 1M121 666l0-4M403 828l3-1M356 741l-3 3M205 978l-4-4M355 845l-3 2M164 915l-3 3M236 666l-2-5M402 668l-1-6M77 878l-3-3M157 1008l-5 0M223 911l-4-3M366 640l-2-3M256 965l1 4M379 694l3-2M392 687l4 3M178 952l4 3M79 675l4-1M264 697l-2-6M258 779l5-3M353 686l-1 3M134 844l1-3M255 865l-4 2M224 656l-1-4M86 861l-6 0M124 801l3-1M176 682l6 0M421 915l-1-5M421 671l6 2M447 847l-5 0M164 893l-5-3M446 786l2 5M381 712l1-5M88 751l-4 1M155 760l-4-2M375 840l0-5M428 911l-5-4M206 619l4-3M334 843l-2 3M414 956l0-4M130 847l0-6M418 896l-6-1M98 900l4 2M238 888l2 2M170 779l2-6M197 664l-5 2M140 910l4 3M66 978l6-1M405 697l3-5M453 968l0 6M150 758l-4 1M368 737l5-3M286 695l0 5M443 634l4 4M273 794l-2-3M81 842l-4-2M214 885l3 5M144 656l-4 0M301 974l5-4M452 796l5 2M317 697l1-5M179 815l-3 3M271 740l2-5M87 677l1 5M274 741l-5 0M242 908l-1 4M139 836l-4 4M137 897l-5-1M74 743l-2-5M200 703l3 4M85 684l6 2M383 958l4-1M143 700l-5-1M77 753l3-2M349 633l-3-5M133 695l2-3M429 914l3-1M242 705l5 0M106 640l-4 0M169 763l3 3M445 710l3-4M156 946l2 6M200 840l5-1M203 651l0-3M121 798l0 3M429 756l-2 5M90 774l2 3M452 641l-3-3M391 689l3-2M280 665l1 5M146 767l-4 0M257 953l-5 2M312 877l0 5M400 852l2 4M118 915l-4 0M57 718l-2 5M334 704l0 4M254 838l3-1M73 666l2-4M326 898l3-3M201 652l5 0M105 940l0-6M184 699l4 3M226 665l6 3M396 863l-3-4M276 663l4 5M165 666l3-5M173 937l2 5M353 868l4 3M133 868l-3-3M163 608l-6-1M206 721l-1 4M294 916l3 1M112 931l-3-5M173 814l-2-2M319 642l5 0M181 653l4-3M296 947l-5 1M340 787l5 1M132 903l-5 0M412 905l3 1M387 693l1 3M119 891l1 3M439 959l-5-2M179 939l-4-1M81 701l4 3M191 712l5-1M439 908l2-5M202 690l0-6M444 971l4 0M127 658l-3 2M114 867l-3 4M105 725l1 4M258 966l5 1M185 745l1-3M79 656l5 0M77 671l5-1M196 692l5-2M451 726l-1 3M264 921l0 4M277 887l3-1M385 921l-6-1M232 724l3 2M169 960l5 3M453 663l-1-4M205 891l5-4M133 832l-1-5M356 847l-2-3M107 901l-4-4M127 921l0 3M138 777l-2 5M262 687l-5 1M448 777l3-6M308 939l2 3M265 907l4 5M455 660l3-1M160 932l-3-5M322 854l1-5M378 694l-5 4M89 752l3 0M449 637l-3 3M284 775l3 3M324 644l-2-5M213 669l-4 4M166 874l-5 2M242 842l4 5M124 874l0 6M419 765l4-2M434 948l-2-3M108 795l2 4M97 850l1 4M100 844l-1 5M231 683l-1-3M360 895l-2 3M431 950l4-3M343 938l5 0M167 639l4-4M297 964l1-3M448 640l-2 2M405 791l-5-2M87 744l0 3M420 791l2-2M292 950l-2 3M292 715l0 4M322 869l-5 2M346 914l-4-3M163 787l-3 6M438 804l4 1M232 737l3-4M434 603l2 4M131 825l3 2M350 981l1 5M158 917l-3-3M323 944l1-6M422 915l1 4M118 970l5 3M58 910l-4 0M80 691l-3 5M244 940l-2 3M448 948l-5 1M85 722l4 1M318 727l0 6M418 789l4-3M266 767l5 2M267 970l-1-6M97 855l3-1M364 778l5 3M188 599l1 4M452 780l2 4M400 814l5 3M375 915l-1-3M205 886l4 0M308 908l-4 0M211 685l-1-4M81 910l-5 1M80 657l3 1M397 688l-4-4M195 930l-1-3M94 805l1 3M79 950l6-1M120 935l1 5M144 643l0 5M213 928l1 5M133 754l-4 0M172 957l0 4M302 693l0-3M443 829l1 6M132 836l3-1M170 848l4 3M418 785l4 0M149 682l-5 4M85 856l2 3M246 811l-3 0M376 679l-1-4M321 766l-3 0M256 754l1-4M383 938l4 3M135 868l-5 3M415 675l1-4M362 675l4 0M195 1007l-6-1M169 719l-1 4M242 768l2 2M423 923l5 0M373 688l-4-3M98 922l1 5M227 742l-2-3M92 973l-3-4M136 719l2-5M442 959l-3-2M101 767l-1 4M102 914l-3 1M75 674l-4 0M441 744l1 5M344 703l3 4M429 832l-5 0M242 667l6-2M242 713l4 3M250 918l3-1M305 669l2-3M407 902l2-4M257 671l3 1M298 883l3-3M374 859l2 3M454 704l-1-4M160 755l-2-6M280 853l4-3M253 647l2 4M113 691l-5-2M414 1006l1-5M212 891l0-6M451 708l-2-2M440 893l5-2M378 761l-6 1M388 912l2 3M118 782l3 2M262 678l-5 3M77 808l-4 3M318 740l-4-3M61 830l0 5M416 913l-6 3M79 819l-2-6M429 754l-1 4M253 736l2 5M256 732l6 2M216 890l2-5M132 642l-5-2M78 800l-1-6M350 794l1-3M129 689l0-6M123 758l0-6M74 903l4 2M88 688l3-2M224 715l4-2M413 753l3 2M252 659l-4-3M349 782l4 2M313 633l-4-3M294 944l-4-2M439 723l5 2M121 827l-2 6M113 861l1-5M394 696l3 1M177 701l-2-2M265 846l2-3M388 630l3 3M393 940l-6-2M129 974l-2-6M129 879l-2-5M425 917l5-1M437 919l-6-1M236 699l-3-5M305 676l-2 4M173 947l2 5M380 748l1 4M452 766l-4-3M208 797l-4-1M334 904l-2 5M222 662l-6 0M179 708l2 5M309 966l3 1M338 948l5 1M113 742l4 0M324 974l1 6M84 766l-3 1M282 931l5 3M333 734l-1-5M287 709l-4 0M322 638l-4 3M213 961l3 2M417 863l-5 0M163 843l-4-4M454 835l1-3M96 717l-1-4M221 870l-4-2M237 806l-5 2M408 627l-4-3M301 942l-2-4M378 763l5-2M391 843l-4-2M339 631l-3-5M210 828l4 1M302 815l-3 5M102 766l-3-2M236 904l3-2M144 790l-5 3M411 767l6 0M124 656l2 3M178 938l-3-1M79 637l-6 0M286 937l2 3M293 886l-5 1M129 637l-5 1M206 903l4-1M388 751l-1-3M205 860l-3 4M329 657l5-3M428 712l-4-5M193 952l-5 2M285 814l4 2M431 924l3 0M398 903l0 4M283 873l3-1M353 895l-1 5M313 788l-2-6M120 852l6 0M184 787l2-2M475 991l-2 3M266 904l4-2M333 774l-2-6M383 663l4 5M137 870l2-3M419 950l-2-3M147 787l3 2M275 716l5 2M122 862l-6-1M104 707l-3 0M107 958l0-5M372 704l3 3M327 720l3-1M433 979l-1 5M81 957l-3-1M375 686l-1-3M298 950l-3-1M417 852l-2-3M301 742l5 1M160 859l-3-4M222 833l-3-2M104 606l5-3M217 928l-5 0M271 750l-1 3M253 991l-6 0M76 780l4-3M403 899l-3-4M390 816l-4 0M339 696l5-3M313 845l-4-4M69 925l3-3M329 692l-1-5M170 659l-1 4M330 714l-3-4M263 842l1 3M202 915l2-2M262 888l4 5M193 755l-1 4M160 861l2-6M94 857l5-2M83 754l5-2M411 844l2 4M438 627l3 2M150 648l4 3M300 929l-2 3M123 843l3 2M102 943l3-5M427 779l-1 3M237 870l4 0M73 888l-5 3M340 630l-2 2M196 736l4 3M128 956l2-3M216 759l-4-5M388 916l0-4M435 847l-1 6M122 665l-1 5M114 632l-2 2M415 796l4-5M189 647l3-3M157 951l3 4M90 701l3-4M157 920l2 4M295 687l1 5M293 980l-4 0M344 858l-1-5M95 699l4-1M174 936l-1 4M122 642l3-5M267 960l-4 4M175 893l4 4M337 847l1-5M325 972l-5 2M128 880l-5-3M157 786l4 3M154 712l3 2M341 875l1-3M178 965l3 2M411 672l4-3M299 675l4 4M195 636l-3 3M446 852l5-3M134 675l6 1M362 869l-5-2M258 798l5-1M406 626l-3-4M444 809l-3 3M364 817l-5 2M307 944l2 4M382 941l0 6M379 796l-2-4M226 683l-3 4M444 956l-1 6M454 966l3-3M297 709l-5-3M431 744l-6-1M231 928l3-2M259 654l4-1M417 883l4-2M369 886l-2 5M87 704l-2-4M403 719l2 3M192 822l4 2M139 838l-3-2M398 957l-5 0M431 977l-4 2M242 907l-6-2M195 714l4 4M215 750l-3 4M155 873l-3 3M111 715l4 4M329 739l-3 0M118 694l4 5M426 632l-6-3M140 729l-2 3M270 977l3-5M467 729l5-2M288 769l1 6M276 913l-1-3M166 899l3 2M328 885l6 0M208 716l5-3M175 767l3-6M239 637l-2-5M117 768l4 2M451 812l4-1M361 928l6 2M115 962l-4-3M271 939l-3-1M120 765l4 1M193 900l5-3M382 766l1-3M365 943l4 4M280 903l-5-2M289 839l3-4M117 865l5-2M379 798l1 5M441 847l0-4M168 872l3 2M136 749l1-5M331 732l2-4M413 671l-6 3M411 882l-4-4M79 637l6 1M112 974l1-5M403 867l3-2M414 657l-1 5M403 802l0 5M177 748l5-4M131 612l5 3M142 861l-5 2M190 975l-2 6M362 740l1-3M212 851l0 6M374 957l3 2M161 940l-4 3M256 674l3-1M192 785l-6-1M391 921l-3-5M289 849l-3-2M292 812l1-6M308 852l-5 0M473 740l-2-3M331 814l-4 3M387 664l-3-1M129 767l-3 0M309 712l-3 2M84 717l3-3M424 721l2-4M421 893l-2-3M75 923l0-4M154 934l-3-4M146 693l-3 3M148 824l-6 0M143 944l5 0M126 880l4 4M236 918l4 4M177 763l-3 5M324 640l0-6M342 734l3-3M263 895l0-5M339 946l0 5M200 943l3 0M349 887l5-1M347 802l3 4M300 973l5 0M83 681l0 3M123 764l1 4M115 769l5-3M242 763l5-2M220 953l-2 3M214 748l-3 6M256 747l-2-4M103 793l-2-5M77 716l3-1M361 944l-2-2M357 714l-1-5M187 824l2-5M413 799l-1 3M442 745l-4 1M383 656l4 1M122 739l3-2M307 931l5 3M94 657l0-5M399 755l1 4M322 673l2 2M178 698l4 3M192 679l-3-3M179 634l0 5M153 776l-3 3M379 857l1-4M436 859l5-3M397 691l3-1M166 914l-1-4M400 897l0 5M313 638l-3-2M263 663l5 4M292 744l-4 2M108 654l-4 2M223 856l-2 3M249 674l0-3M296 879l-3 1M325 885l0-6M99 717l1-4M370 838l3 2M361 670l3-2M389 849l4-5M100 972l-3-6M170 719l6-1M163 644l-3-2M413 965l-4 0M332 899l1 6M383 868l-1 4M399 819l6 1M270 918l-3-3M192 971l-1 4M217 696l-3 0M336 968l-3 2M302 820l3-5M120 979l1 5M140 734l4 1M118 949l3 4M378 735l4-1M177 893l-4-3M103 634l2 4M297 906l-5 0M459 875l1 3M429 830l-2 3M413 955l-3-2M104 886l4 1M142 862l-1-3M393 659l-1 5M370 915l6 1M297 950l4-3M382 654l1-5M244 649l0-4M287 685l-1 5M118 712l-5 3M444 729l4-4M354 881l-1 5M169 835l-4-3M124 776l-3 1M93 689l-4 3M439 799l1-3M138 974l-4 3M96 916l-1-3M241 710l-3 3M406 699l-6 1M344 653l3 1M166 637l-5-2M239 638l4 0M427 905l-5 3M401 793l-1 4M186 711l4 3M325 939l0-5M230 951l-5 0M438 739l-1-6M138 716l2-3M404 662l2 5M77 866l2-2M95 661l-2 3M350 749l-3-2M388 665l2-4M158 695l4-3M211 849l-6-1M346 885l-1 4M197 816l3-2M72 877l-6-3M379 833l5 2M85 939l-3 5M305 731l-2 4M221 713l3 0M386 692l-3-5M312 934l2-2M74 775l-1-4M388 614l-5 0M407 899l6-2M209 767l0 4M326 675l2 4M199 698l-3-1M304 724l-1 4M189 631l2-6M330 933l-2-3M370 716l-5-2M132 877l6 0M444 771l5 3M446 857l5 2M431 802l1 5M453 821l1-3M398 645l2 4M235 816l-5-2M439 968l5-3M133 756l5-2M358 729l-4-4M248 646l-3-3M309 671l-4 2M282 666l-3-1M449 796l1-5M71 796l1-3M183 773l6 0M221 742l2 6M447 676l-2 3M106 939l-2 2M309 952l-4-2M360 657l0-4M186 638l1 4M151 779l-2-4M404 772l-3-2M364 924l3 4M292 642l0-4M339 937l1-6M129 827l3-4M415 736l0 4M170 932l3-4M282 633l3 0M354 845l1 4M175 971l-5-3M192 723l-2-4M427 976l-5 0M142 853l3-5M109 894l-5 2M452 803l2 3M306 865l2 2M82 673l-2 6M211 680l-5 1M177 666l-3-2M319 684l3-2M406 724l1 4M373 944l5-1M109 798l2-4M97 974l-3 1M219 813l1-4M402 958l6-1M197 890l4 4M108 889l4-4M88 829l3-2M86 799l4 4M376 755l2-2M383 867l3-2M363 755l-5 3M413 895l5 0M86 636l-4 2M391 856l3-2M177 683l3 4M120 840l-3 2M343 853l5 3M114 905l4-1M422 878l-2-4M417 758l5 1M149 948l-3-1M104 970l-3 1M346 947l-6-1M363 943l-2 3M90 728l4 1M355 881l1 3M92 680l-5 2M447 903l3-4M316 822l2 6M363 906l-4-1M219 968l-2-5M333 728l4 3M298 940l6 2M334 959l2 3M340 910l5 4M231 855l-3-3M85 711l6 0M251 936l0 5M131 771l1 3M394 898l4-1M454 968l-5-1M159 941l-3-2M243 819l5 2M448 950l-6 2M138 770l-3 1M442 902l3-5M280 936l-1-3M195 720l-2 3M340 694l3-5M445 762l4 0M197 801l1-4M211 910l2-6M169 787l1 4M167 830l-5-3M409 907l3-3M217 860l-5 0M88 697l0 4M237 632l4-1M243 808l-4-5M290 656l5 0M456 935l3-3M168 976l3-2M436 765l-3 3M234 895l-1 5M239 663l3 2M150 799l-4-3M148 839l4 2M454 665l-4-4M440 818l4 2M392 755l0 5M211 942l-1 4M433 804l-2-4M232 683l3 3M296 663l1 5M295 651l1 4M243 648l-6 2M392 824l-2 3M193 704l3-1M312 666l4 2M201 909l0-4M142 673l-3 5M382 757l1 4M246 671l-5-1M309 777l5 4M382 727l-1 5M254 685l0-4M407 642l3 4M149 925l4-4M357 774l-3-3M64 970l4 5M392 960l-2 3M386 874l-5-1M136 799l-2-6M212 944l5 4M373 891l2-4M426 961l2-4M169 655l-1 6M171 688l4 2M357 702l3 3M236 891l-4-1M133 803l-3-5M323 971l2 5M233 928l-6-3M304 743l-4 3M352 882l-3 4M174 958l-5 1M125 679l2 4M346 698l-2-4M167 864l-2 4M172 930l-3-5M155 712l2-4M148 913l1-3M87 761l2 4M167 783l-4 1M161 775l-5 1M102 749l-6-2M199 639l-6 2M440 884l-3 1M142 754l5-1M393 773l-2 6M106 668l1 5M248 716l3-2M238 766l-4-2M429 646l2-4M123 783l-4 4M273 890l-2-3M107 961l-3-1M171 726l2-4M318 976l0 4M369 867l3 5M154 920l-3-3M246 651l2-4M193 736l3-2M289 937l2-4M101 738l4-3M251 781l-5-1M332 717l-3-2M253 908l4 2M275 713l-5-3M346 772l-4-4M324 884l4-2M351 677l6 1M445 848l-3 3" stroke="#ec7676" stroke-width="1.4"/></g>
<g transform="scale(.5)" fill="none"><path d="M242 837l-3 8 2 7 6 1M321 853l-7 2-5 7 3 5M146 720l-8-1-4 3M228 840l5 4 8-1 5-6M155 676l5-5 0-7M157 915l7 0 6-6-1-7M206 843l-3 6 5 6-6 6M255 911l4-6-5-6M199 892l4 4-2 7 3 4M215 913l-3 7 3 5-6 5M389 602l-6 11 7 5 7-5M133 800l-5-5 2-6M263 1027l3 13 10 4M427 940l6 6 8-1 0-9M122 740l-3-9-7 0M282 713l-4-6 4-8-5-7M76 828l8 7-4 13-9 1M103 933l-2 5-6 3M100 816l-8-2-4 5M383 679l0 5-8 3M134 867l-4 7-7 0M169 886l2-7 7-2M313 915l-6-5 3-5 6 3M80 854l-8-3 0-6M308 644l-2 8-5 2-5-5M204 917l1-8 7 0M73 712l9-7-3-13M284 918l5-5-1-5 5-6M214 679l-7 5-6-6-5 2M260 827l-6-6-7 5M215 824l-4-7-7 3M182 680l-6 3-8-3M115 734l4-8-2-5M404 685l-3 8-6-2-6 5M93 765l3-4 7 2M136 862l5 6 7 0 3-5M145 662l6 0 1-5 8-2M332 931l-2-7 6-6-1-5M120 918l-5 2 0 9 5 4M180 886l-8 1-4 5-7 1M161 841l8-2 6 5M439 723l7-2 4-7 6 3M206 831l8 0 4-4M306 718l9 1 5-4M371 761l1 5 7 2 4-6M96 783l-5-6 2-7-5-3M411 760l0 6-6 2M259 866l6 3-1 6-7 2M230 830l-6 2-4-4-7 2M415 836l0-8 4-4M351 690l-2 5-8-1M158 965l-2-5 4-5M195 984l11-3 0-8M159 690l3-7 7-2 2-5M347 892l-5 5-6-1M278 697l-9 1 0 9-6 2M255 744l-7 2-3-6-6 0M352 865l-1 6 5 3M164 703l3-8-5-8-6 0M407 966l-8 3-4-7M192 655l-3-6 2-5-8-4M407 909l2-7 4-3M126 749l-6-4 3-7M265 841l-5-4-6 3-4-3M446 937l6-3 8 3M426 910l-7-5-7 5-1 6M196 865l2 8 7 4M416 888l2 8-4 4-7-1M434 632l-1 11 12 6 8-5M247 768l-3-7 2-5M98 923l-6 4 0 6M189 732l0-5-7-1-4 6M138 832l-2 8 4 4-4 6M456 661l5 9-7 10-12-1M284 965l6 0 3 6-4 6M348 695l-4 5 3 5 7-1M440 792l-5 6-5-2M191 660l-3-5 2-6-7-3M345 752l-1-8-6-2-2-6M161 627l8 4 10-9-3-11M444 931l0 8-7 2M200 655l5-4-1-8M84 896l-1-5 2-5M158 689l0-9-8-4M272 747l-3 5-6 1-4-7M288 654l5 7 7 0M368 666l-6-4-7 6 2 7M444 926l7 2 3-5 5 1M437 813l6 3-2 6M345 788l7-5 1-8M460 880l-4-11 8-4 12 6M382 708l8-1 2-8M323 808l0 9 6 2 1 7M378 619l10-5-1-13 11-2M131 704l1 7-8 5M221 876l6-4 7 1 1 5M137 701l7 3-1 6 6 6M353 789l7 1 2 6-4 3M300 910l4 6 7-3-1-6M355 742l-7 3 1 9 6 3M275 809l4-5-2-5 5-5M222 936l5 0 3-4M418 686l6 6 7-2 5 6M144 691l6-6-4-4M203 702l2 6 6 3 5-3M216 875l-6 1-6-5-5 5M443 957l-2-6 5-4M80 1025l-8-9 6-13M71 902l6-7 0-13M150 720l2 7 5 3M331 874l8 0 6-6 6 3M376 908l5-3 6 2M107 743l-6 2-3 5M78 953l11-1 0-11 8-1M325 867l-5-2 0-8 8-1M330 1011l-4 7 5 10 11 2M266 857l-6 4 1 5-7 2M75 905l-9 6-9-6 1-9M442 879l-5 2-1 8M253 708l-3 4 5 4M172 792l-6-6 0-8 5-2M352 779l2 6 8-1M124 809l7 2 1 6-6 2M65 813l-11 2-5-10 8-6M147 700l1 6 6 4 0 8M209 772l-6-3-1-8 6-5M303 870l-4-7 6-6M229 748l-8 0-5 6 1 8M176 732l2-8-5-7 5-5M383 738l1-7 5-3 0-8M135 795l5-3 7 2 1 9M202 608l2-9 8-5-2-13M250 633l-9-5-8 11M100 725l7 4-2 6 5 4M78 701l-3 11-9 3-9-7M386 836l-5-4-7 5 3 6M417 824l-4-6-6-1M439 926l5-1 1-6-5-1M413 951l1-9 4-4M344 965l-6 1-4-5 3-5M422 859l2 6 9 0M475 794l12-1 5 11M303 964l-4-7 1-7M187 821l-8-2-2-6-6 1M309 733l7 6 6-2M97 907l-8-3 1-7 7-3M116 846l-5 2-1 5-5 0M361 700l9 2 6-3 2-6M347 775l-1 7 4 5M303 874l0-7-5-2M405 944l-5 5-9-1-1-8M227 949l1 7-5 2-3 7M211 842l-4-7-6 0-4-8M325 855l-3-4 4-6 7 2M313 934l2-7-6-3-6 4M255 666l3 4 8-1 5 4M323 870l-7 5-6-3M190 767l-7-2-4-8M156 917l5-1 4 4M274 749l4-6 7-2 4 5M272 754l-3-5-7 2-1 5M293 674l0 6-6 4M404 929l-1-5 6-4M151 726l-6 2 1 7M240 877l-6-3 1-5-4-6M366 882l-5 2 0 7 8 3M370 677l-6-2 0-8-7-6M257 960l1-6 8-5M415 738l-3 7-7-2M259 723l1 5 8 1 3-7M413 708l5-6 9 1M65 722l-5-8 5-9-5-9M259 780l-8 2-4-8M434 731l-1-5-5-3-2-7M260 973l8-6-3-8M370 916l3 4 8 2M125 921l-5 4-1 7M107 785l6-1 4-8 7 3M211 931l-4 3-8-2M319 914l8 3 5-6M292 668l1 7 4 3M142 852l-1 8 4 5 6-4M255 695l-1-8-6-3M199 669l-5 1-1 8M314 766l-8-4 1-5 7 0M235 947l2 5 9 1M214 794l4-5 8 0M186 893l-7 0-3 7M321 993l12-3 7 5 14-2M229 957l-3-7 3-6M445 599l9 6 13-2M126 736l4 6-1 6M183 918l-6 7 6 6M363 936l-6-3 3-8-4-5M193 941l5-5 0-6 7-4M451 845l-7-4-1-5 5-2M223 721l8 3 2 5M442 656l-1 6-8 0M355 814l0-8-5-4 2-5M216 852l0-9 7-3 4-8M153 917l7 4-3 7 5 7M87 638l8 0 1-7 8 1M276 915l-6-6-9 1M374 665l-5 2-3 7-7-2M225 695l-7 0-5 6-7-3M367 749l0 7-6 4M341 818l5 5-1 5 6 6M266 643l-6-2-7 4M284 651l5 5-3 7-8 3M440 965l4 4-3 7 5 4M261 836l6-3 7 5 5-1M168 875l6-1 2-8 8-3M321 751l8 0 4 4M76 825l-12 3-6 9-9-3M163 849l4 3 5-3 0-8M127 857l8-2 6 4M438 804l-7-5 1-9 5 0M161 873l7 2 4-4M254 970l-1 7-6 5 4 7M467 922l-9 9 5 12-4 12M104 889l-8 2-4-7M135 708l7-1 5 4-1 7M110 960l0-8 4-4-1-6M172 676l6 3 5-1-1-9M315 944l6 0 6 6M428 820l8-1 3-7M157 676l6-4-1-8 8-3M84 650l4-4-1-7-7-1M161 640l1 5-7 4M224 680l-6-1-5 5M283 651l8 4 4-3M269 913l-3-8 3-6M258 891l5-3-3-6M234 852l-3 5-7 1M147 912l-4 3-6-2-5 3M334 1011l3 13 11-1 4 12M195 763l2 8-5 3-5-4M260 965l-6 7-8-4-7 5M172 805l3-5-4-7-5 2M324 780l-4 6-7 0-2 6M207 643l4 7 5-2 0-6M239 944l8-3 8 3 4-5M315 820l-7-4-7 5M220 881l6 4-3 6M398 936l-7-1-2-6-8-3M424 785l0 7 4 5-2 6M304 917l-6 0-4-7M283 941l4-4-5-7 4-7M459 644l14 0 4-11-4-8M435 874l-5-1-3-7M168 1022l4 13 11-2M439 678l0 7 5 3 5-1M265 799l4 4 5-1 5 3M346 958l3 5-2 7-7 0M443 984l13 0 5 7M400 978l9 2 3 9-7 4M298 825l7-5 5 1M453 896l5 7 5-3-3-8M384 922l4 7-2 7-8 0M205 809l-6-6-8 1-7-5M346 745l-8-4 0-8-6-6M82 756l-5-7 4-5-3-8M129 627l10 3 11-8-5-12M434 901l4 3-2 7 6 2M435 710l5-5-3-6M367 971l-8 2-3 6M147 869l6-1 7 5 8-1M220 594l-6 7 4 9M172 908l-3-6 6-6 6 2M332 834l3 4 6 0 3 8M151 914l0-7-5-4-6 2M436 710l-6-2-5 6-6-2M165 928l5 2 6-5M284 663l-6 0-1-9M404 780l4-6 8-2 3-6M139 649l-6 6 3 6M417 763l0 5-8 2-3-8M112 790l-6 1-5 5-6-3M276 929l-8-4-1-7M107 819l6 2 0 8 6 6M104 684l5 7-4 6M285 654l-5 4-7-1-3 7M84 679l-5 5-6-3M431 783l-6-6-6 2-2 8M447 992l-9-8-9 8 1 11M163 916l-4-3 3-6M398 851l5-4-4-8M229 870l-7-3-5 3M93 722l4 5 8-2 4-7M139 807l6 2 5-6M261 838l2-5-2-6M153 886l4-5-1-5-6-2M395 819l-1-7-5-5 0-5M198 924l-4 4-6-1M256 692l-5-6-7-1M260 889l9-1 2 7M94 920l-1 7 8 3 5-3M215 810l-7 1-1 6M198 1002l-2 10-14-1-6 10M423 891l-8-1-3 6M264 647l7-3 4 6M202 746l-7 2 0 8-7 0M175 782l-1 6 7 3 3-4M149 810l2-7-5-3-8 4M318 872l2-9-6-3 2-5M270 953l1-8-4-5M189 731l3-5 9-1 5 6M154 659l7 5 8-2 7 5M121 767l4 8-3 6-5 1M357 674l-5-2-7 4 1 7M97 957l5 2 5-5 8 0M273 744l-3 5 2 5 8-2M304 667l-2 8 4 6M264 909l7-3-1-7-7-3M297 643l6-6-1-6 8-3M74 809l-5-10 2-9M314 661l-5 6-5-2-6 2M154 915l-1 8-7 2M396 918l3-5-2-6 6-6M203 692l-2-6-8 0M137 908l9 2 2 5-7 3M125 897l-4-3-5 4-5-4M406 635l-6 1-2 5 2 5M404 638l1 9-6 2 2 7M424 675l7-2 7 6 5-2M391 1000l-2-13-12-7M138 816l7 0 4-7-3-5M410 683l-6 0-1-7M447 724l-6-5 2-8 5 1M412 966l-5 6 3 6M105 940l0-8 5-1M252 866l3 4 9-1 4-7M414 903l3-5 5-2M160 876l3-5 5 1 5-7M189 883l-5 6-7-1M442 841l-4-4-7 4M472 913l5 10-8 8-8 0M278 643l7-2 0-6-5-4M76 869l12-1 5-13-10-4M390 768l7 2 6-5 5 2M94 816l-4 7 3 7M128 822l7 3-1 8M329 973l-1-10 8-5 12 2M140 863l5 7-3 5-7 2M305 780l-8 1-3-5-6 3M416 742l0-7-9 0M244 682l-3 6-5-1M276 691l8 0 5-5-5-6M461 696l9 2 6-7-8-11M378 717l4-4-1-7M183 787l8-4 0-7M183 731l7-1 6-7-2-9M421 669l-3 6 6 4M277 897l4 7-1 5M144 957l7 1 5-3 0-5M324 891l2 6 7-1 2-6M453 850l-9-2-1-7M439 639l9 1 0 5-5 6M292 773l-6 2-4-3-5 2M132 714l-2 5 3 5M71 638l-4 13-12 3M250 831l-8-2 1-5M98 826l0-6 7-3-2-9M180 671l-7-1-6 4M360 832l8 1 5-5M94 817l-4 3-7-4-4 5M201 658l-4 3-6-6-8 1M429 903l6-5 1-8M172 668l-4-7-9 1M117 892l5-2 1-7-5-7M448 775l7-3 4 5M144 715l3 5 7 1M190 827l6-3 0-7 5-3M125 917l6 0 2 6M295 764l4 4-3 6 5 6M88 816l-3 7-8 2M275 948l4 3 8-2 1-8M370 686l-6 1 0 7M279 904l4 3-4 7-5-2M276 901l-2 6 4 4M144 832l-7-6 3-6-5-7M188 912l-5 4-1 6M223 686l1-5 8-4 8 2M108 633l4-9-11-7M329 787l-6 2-7-4-1-7M293 873l2 5-6 6 1 9M306 690l8 0 4 5M147 1012l6 7-6 7M69 613l7 7 8 0 4-11M225 855l-8-1-3-6M248 691l-2 5-6 2-6-4M206 935l-5-2-4 5 0 6M365 884l-7 1-2 5-8 1M253 798l-5 0-2 6M405 789l7 2 2 6M355 680l6 4-3 8-7-2M271 615l-8 7-10-4M107 689l3-6-3-7M136 648l-3 4 1 8M98 799l1 7 7 0 1 6M233 871l-3-5-7-1-3-7M295 801l7-1 4 3 6-2M121 910l1-6 5-3 0-7M207 874l3-8 8 0 3 4M87 787l2 6 6 0 3 4M406 942l-1-6-7-3M394 714l1 8 4 2 2 5M162 747l-7 4-1 7M282 746l6 3 4-5-2-7M92 774l-2 6 7 4M425 711l7 5 6-5M191 777l-8 2-2 9 6 6M99 640l6 6 5-1 0-6M243 869l-8 1-4 5-6 0M108 891l-1-7 5-5M228 848l5-5-3-6M397 649l0-5 7-4M110 917l3 5 6-1M455 787l-9-1-7-10M426 923l-1 8-5 3M128 722l-6 1-4-7-7 1M87 832l-2-6 5-3M455 860l6 7 9-2M192 722l5 4 0 8-6 1M430 871l5 6-4 6 3 5M287 641l7-3 5 6-1 6M272 888l3-5 7 3-2 6M424 882l0 7-8 1M455 885l-4 13 10 6 11-7M132 794l-8-1-4-4-7 5M272 838l-5 4-6-4M227 777l-8-2-5 3M417 697l-6 6-7-1M366 876l6-3 3-5-4-7M329 1022l-10-4-8 5-2 12M416 691l-3 7-9 1-3-5M87 683l3-7 8-2 5 4M430 876l1-6-3-5M253 695l-8-1-3 7M363 655l7-1 0-5M295 947l8 3 5-4 5 1M272 828l-6 4 0 6M110 936l2 6-5 6M252 667l6 1 0 5 6 5M185 681l-5 7-7-4 2-6M393 799l1 6-6 5 1 7M408 640l1 6 8 4 8-3M409 695l-2 8-8-2-4 7M137 909l-1-7-5-2 1-8M441 690l5 3-2 7-4 3M317 806l-4-4 3-8M308 768l3-8 8-1M445 956l-2-7-6-2M215 911l1 7-5 5M89 843l-7-3-6 4-6-3M222 819l-5 4-1 5M159 970l-6 4 4 8M222 971l3-7-5-4-5 2M450 824l0 5 7 6M387 811l-2-8-8-1M384 845l-5 7-7 0M287 977l-4 12 8 9-7 8M156 1014l9-7-1-12M178 923l-7 2-7-3M389 627l-9 10 1 13M176 931l0-9 5-3M118 726l-7-1 1-7 5-1M81 749l9 2 3-8M88 733l-4-6 4-5M208 691l5-7-4-7 6-6M120 897l1-6 9-2 2-8M137 676l-5 6-8-3M398 825l-5 2-6-3M293 746l5 7-4 5M315 878l3-5 7-2M133 741l9 0 3 6 6 2M85 652l1 5-4 4-7-2M219 689l5-4 7 3M383 860l8 3 5-7-5-8M107 811l7-1 2-6-7-5M380 946l3 7-3 8 6 3M272 932l5 3-3 6 2 8M95 919l-6 0-5-6M436 771l-5 6 1 6-4 5M467 950l0-13-10-4M274 755l2-5-4-4 2-5M116 649l-3 7-8 0-3 6M453 892l4-8-7-4M102 875l-3-6-5 0-6-7M319 806l3-5 8-1M172 731l3 8 5-2M378 702l8-1 5 7M406 926l7 0 5 5 0 7M354 718l-6-1-2-9M221 865l4-5-6-5 0-7M399 860l6 4 4-4M354 634l-7 5 2 6M79 684l1-6-5-7M290 734l7-5 5 2 5-4M361 914l5-1 5-7-3-8M405 771l-6 1-5-6 5-6M83 726l-5 0-3-7-9 0M315 678l5-7-3-6 3-5M271 671l8 3 2 5M336 738l-3 4-8-1M240 788l0 8-5 0M101 711l-3 4-8-3M364 781l7 3 0 6 9 2M390 742l8-3 1-6-6-7M339 827l7 1 3 6-4 4M167 723l2 6 8 2M453 696l3-5 9 0 3-6M213 948l6-4 1-6M323 818l5 7 6-2M383 684l-3 5-8 2M405 802l6-2 2-5M101 913l7 0 2-5M393 889l6-1 4 4M447 693l8-3 3 6M136 796l-3 7 2 5 7-1M114 928l-6 0-6-5-6 5M299 943l6 2-2 8M293 752l-5 0-5 4M303 778l-3 7 3 6M316 789l6 3 8-2M171 611l-6-10 9-11M409 801l3-4-1-6 4-4M411 666l-8-4-1-8 6-3M201 776l2 8 8 3M116 956l9-1 7 6-3 5M184 782l-2 8-6-1-2 5M208 752l7-3 3-8M209 859l-5 0-4 7-8-1M298 683l-5 4-7-5-6 1M348 921l-4-4-6 0M221 941l-1 7 5 7 5-2M187 690l-4 5 0 7M423 693l7 0 3 6 7-1M91 866l-8-2-3 5 4 7M317 778l-2 5 7 5 6-6M305 608l9 1 3-11 10-3M247 830l-2-6 6-5M133 924l0 8-6 6-8-1M370 765l-7-4 1-5-5-6M215 648l-1-5-5-3-1-6M224 673l4 5-1 8-5 2M187 609l7 4 0 14 9 10M232 842l3-5 8 3 2 5M332 735l5 2 5-6M257 858l-8 4-5-5M377 944l-6 0 0-5-7-4M184 971l-1 6-8 0M226 971l4-8 8 3 0 7M377 785l2-5-5-3M314 670l-6 3-5-5 1-6M116 914l6 2 5-6M132 839l-6-5-4 3M303 937l4-7 7-2 3-6M375 883l3-8 6-2M322 891l-4-5-6-1-1 6M70 747l-13 3-7-8M230 830l-6-3 1-5 7 0M150 639l1-6-5-2M271 792l5-4 5 5M452 950l6-3 6 3 7-5M210 727l-6 1-7-5 2-6M206 637l-6 3-1 7-6 5M305 820l6 0 2-7M270 975l10 4 0 14M348 930l6-3-2-9 7-5M241 705l-6 0-3-6M394 647l1 8 9 0M380 760l0 7-5 5-8-5M354 634l-5-3-2-7 7-3M203 983l8-11 8 4 12-8M401 840l-2 7 4 5M310 795l5-2 3-8M369 709l3 7 8 4 1 7M437 969l-3-9-6 0M179 663l-7-3-5 4M381 824l6 3 8-4M286 635l3-6-3-7-9 2M194 965l6-4 1-6-5-1M335 970l5-4-1-7-6-4M126 1013l-13 3-9-6M48 744l10-5-4-10-9-1M308 833l-1 8 8 2M447 877l4 4 6-4M322 796l-3 7 7 4M283 961l-4-4 0-5 6-5M158 809l7-1 4 4M152 847l-1 9 5 1M332 1006l-11-1-7 8 8 10M197 790l4-7-4-7M215 737l5 6 0 7M107 802l-5-3-8 3-4-6M345 904l4 5-3 8M377 938l2-7-3-5M285 1017l-4 10 5 8-5 9M291 679l-6-4-6 6-7-4M425 635l6 1 0 9-5 5M118 655l6-5 1-8M124 640l5 4 7-6 7 3M324 863l-8-3-7 3M466 828l3 9 13 3 5-12M56 665l-13 1-4 9M105 737l4-6-2-6 3-5M278 853l6 4 7-4-2-5M129 709l-4-7-7 3M346 689l-7-1-4 4M107 674l5-3 8 4-2 7M155 873l-4-4 1-6M359 942l1-6-5-1 0-6M62 889l-10 3 1 10M376 898l-2 8 4 6 8-4M319 951l8-3-2-8M182 815l0-7 7-5M246 913l-3 8-7 1M417 679l1 8 8 2M125 932l-6-2-4 8M75 805l-6 5-11-7-7 8M104 879l7-3 1-7 8-3M257 715l3-8 8-1M387 893l2 9 8 4 2 8M159 683l5-1 2-7-5-3M393 726l5 0 3-5-5-6M386 907l1-7-5-3-4 5M423 704l6-4 5 6-2 8M277 844l4-8 8 3M453 842l-7-5 3-6 7 1M372 887l5-4-2-5 2-5M400 804l-1-7-6-5 1-6M319 724l5-3 4 4 0 6M146 947l-4-4 1-8M407 649l-6 5-8-2M327 948l-2-8 5-2M84 829l3-7-7-5-5 5M339 757l-7 6-1 7M228 751l6-3 7 5 0 9M88 656l7 0 3 4M370 917l0-8 5-3M115 944l-8-1-3-5 4-7M78 803l-9-7-8 5-10-5M298 920l-5-3-6 2M287 964l7-3 3-7M462 953l-4-11-9-4M280 838l-6 7-8-2M330 822l-5 3 2 7M405 706l-1-6 7-2 8 4M93 849l-4 5-6 0M230 692l-3-8-7-3M387 629l-7-7-10 0M394 658l1 7 6 4M239 927l6-1 5 3M87 758l4-6-3-6-8 3M379 898l-1-5-7-4 2-7M413 938l0 6 3 4M416 713l6-6 6 4 6-3M122 718l5 4-2 5 4 5M392 701l-7 1-6-5-8 1M342 706l3 5-4 4-7-3M137 680l6-1 5 3M360 968l5 1 1 6 7 4M245 844l0-8 6-6 0-9M247 616l-2-10 12-3M106 768l-1 8-8 3 0 5M375 675l3-7 7 2M270 690l-5-1-5 5-6-1M247 935l-8 4 2 8M188 708l-6 0-2-5M183 695l0-5-6-2-4-7M377 971l6 6-3 4M90 821l-5-3-6 4-6-4M297 797l8 2 4-4M261 967l-1-6 5-3M452 988l7 10 13-4M334 1004l0-14 10-1M451 795l2-9 7-2 2-7M227 632l-8-9 7-12M145 841l3-8 7 0M287 788l-5 6 3 7 6 4M236 857l6 6 5-3M238 644l-7 5-1 6M130 861l2-5-4-4M266 699l-7-6 1-6M104 799l0-7-9-1 0-8M236 665l1 7-5 4 2 5M377 689l4 6-4 4M340 809l-4-3-5 3-2 8M191 813l3-8 9 1 2-8M239 1024l14-1 6 8-8 12M375 953l6 0 7 5 8-2M217 893l-4-4 4-6 8 4M357 781l4 8 9-1M126 993l-1-9 9-10M167 634l-8 9 4 7M221 925l1-6-5-5M303 770l-5-4-4 4-5-4M303 663l4 5-1 6M234 758l-5 2-2 5M394 865l-5 5 3 8M470 879l-10-2-8 11M72 756l1 13 10 7M415 877l-8-2-5 5M253 797l3 4-6 7M247 814l2-5-5-4 3-5M441 850l4 4-2 9M294 873l-6-3 0-7M204 653l-5 5-6-1M82 954l-8 4 2 6M163 655l2-7-4-5M80 896l-1-5-5-1M406 644l-1-7-5-4 3-7M136 653l-3 8-8-2M274 930l6-1 3-5M75 635l-6 9 6 12 14-1M358 689l-3 4 5 6M291 861l8-4-2-8M61 975l-7 3-9-11M266 722l-1 7-6 1M323 664l-1-9-5-4M146 943l8-5 6 4M328 968l-7-2-6 6M196 906l-6 0-3-6M343 791l-2 7-6 2-5-7M211 634l-8 0-2-8M401 976l-9 0-4 9-11 2M441 836l5 6 6-1 5-7M350 834l5 7-4 7M237 972l-11 4-8-6-12 4M121 918l-7-4 0-8M302 664l5 5 4-3 6 1M466 896l9-7 10 2M142 1002l6 12 12 2M295 842l6 1 4 7 8-3M157 728l6 1 2-5M363 703l6 6-4 7M405 707l-4-6-5 1-5 7M284 691l5-6-3-6M248 793l4 3 1 6-7 3M265 774l-5-3-2-7M233 670l7-5 1-6M347 658l0-8 7-5M437 738l3-5-3-6 5-4M69 967l11 8 9-5M345 813l-3-6 5-6M183 852l-2 5-8-1-5-7M89 716l-3 6-7 0M350 862l-7 2 1 7 5 2M141 930l5 6-4 8 3 8M128 1010l10 1 6 9M415 823l3 7 8 2M224 813l8-3 6 3 6-6M339 614l0 9-12 2M208 732l-2 7-5 1-3 5M277 717l-6 1-2-6M101 778l-3-7 4-4M209 1017l10-4 6 6M360 685l7 1 1 6-7 4M313 959l6 3 5-5M299 842l-5-7-5-1-3-5M403 660l0 6 6 6 5 0M83 858l6 2 6-5M275 777l-2 7-8 4M344 732l1-6-6-5-5 0M141 745l7-4 5 2M99 912l4 5 5-1 5 4M122 815l4-8-4-5 5-6M76 679l-8-3-9 8M256 926l-4-6 2-5 5 2M193 685l6-5 7 5-1 6M225 859l-6 1-6-4-1-7" stroke="#74d4d4" stroke-width="1.6" stroke-linecap="round"/>
<path d="M188 851l-7 1-1 6M124 837l4 7-5 3M214 626l6 8 10-5M109 860l-7 0-3 7 7 4M299 731l5 7-6 7-5 0M226 866l6-6 7 4-1 5M389 733l-5 0-3-6M288 955l-4-7-6-1M278 689l-8 2-3-6M129 625l9-7 0-9M125 791l0-7-5-1-2-8M300 742l-3-8 6-3 5 6M323 865l4 6-4 5-7-4M233 809l1-6 6-1 5-6M202 712l-6 5 3 6M208 802l-1 5 5 4-4 7M80 687l4-6 5 1M438 734l-6-5-6 1-4 7M435 631l1 13-9 3M324 822l-1 7-6 1M182 832l6 3 5-3 1-6M381 936l8 3 0 6M412 951l3-7 5-2-2-5M290 908l5-1 4-7 7 1M316 910l4-7 6 1 3 5M174 639l-7-5-6 3 0 6M441 839l-3-9-5 1-5-5M176 735l7 1 4 4-2 8M382 931l5 7-6 6M321 897l9 0 1 6M229 976l-9-2-5-11 7-6M146 725l6 5 5-2M125 660l7 1 2-5-6-5M231 896l-6-4 2-6 7-4M204 688l8 0 5-4M274 634l1 8 11 6 7-5M145 728l3-6-4-6M328 688l-2 9 3 5M188 929l-6 4-2 5M145 721l-4 8-8-1M250 735l1 6 6 1M212 989l5-8-8-11M215 895l-4-7-7-1M291 656l3 5 6 1 1 5M378 709l4 7-3 6 3 8M187 909l6-1 3 5 6-2M368 831l-6 0-4 6M76 850l0 14 12 3-1 8M304 999l-9 2-9-5-4-13M243 827l-6 7-6-4M398 672l5 3 2 5-7 4M231 950l5-1 3-7-5-3M337 700l0-8-6-3M184 885l6 7 5-3M234 662l4-8-5-4-5 0M333 815l6-2 8 4 3-4M414 661l0 7 5 1M365 758l0 7 5 4M444 737l-6 4-6-2M389 761l-2 5-6 1-1 6M275 912l4-6 7 3M434 910l-7 2 1 7-4 4M265 840l6-3 1-5M184 668l2-5-4-5M128 857l0-5 7-4M76 815l-12-4-9 8M211 719l-5 6 2 5M76 663l3-10-6-11M457 791l-3-8-11-5M299 713l-5-5-5 3-2 9M293 722l-9-1 0-6 5-2M462 860l-7 4-7-7M445 817l4-5 7-2M323 621l7 8-5 7M92 737l-9-1-5-7M475 623l-6 11-13 3M226 771l5 3-1 8 6 4M332 888l0-5 6-4-2-7M199 924l0-6 5-4-2-7M121 748l-5-4 2-5M282 847l2-8-8-4M439 861l2-8-6-5M373 864l-6-3-7 3M446 856l7 5 4-4 1-8M392 655l8-2 3-8M178 976l8-5 8 3 8-4M213 825l-7-1-7 6M388 964l3 5 8-4 5 2M465 619l-6 10-10-5M327 801l6-1 2 7M328 755l8 1 3 7M459 787l4-12 10 1M104 653l-1-6-6-4M179 802l-4-3-8 1-5-5M434 858l4-4 9 0 2-5M332 785l1-6-6-2-3 6M170 962l-4-5 6-6 1-8M212 671l0 8 6 5M87 864l-3 5 3 7 6 3M279 837l4-3 6 1 5 6M193 639l-2 6 4 6-3 6M331 637l-1-6 4-5M356 662l5 2 4-6M296 917l-6 2 0 9M115 840l0 9 6 2 4-3M344 691l5 2 0 7M206 677l6-6-3-5M422 971l6 6 7-1 3 4M296 952l-4 7 1 6 8 1M454 685l-4-5-9 0M446 712l3-8 7-1M329 641l-7 5-2 9M89 920l-5 2 0 9M225 634l-1 5-7 0-2-7M422 889l7 1 1 8 7 4M382 656l8-1 2-8-7-5M286 889l-7-1-6-6M447 799l-7-4-6 4M379 719l-4 7-6 0-4 5M241 871l6 3-1 5M291 779l5 5 0 6 4 4M309 864l1 7 7-1 4-7M93 794l2 5 8 0 4-8M358 774l-4 6 4 6M420 835l-7-4-8 2M317 704l-7-4-1-5 6-3M371 653l-5-2-2-5-6 0M80 890l3-5 9-1M75 971l5 13 13-3 7 9M221 633l-10-2-7 7-9-1M446 684l9 0 6-5 6 4M412 864l-6 0-2 6-8 4M178 1028l-4-12 11-8M164 836l-2 8-5 2M420 761l-5-1-4 8 5 4M80 965l0-5 7-5M335 999l-14 0-5 12M235 687l-4 6 3 5M130 783l4 6-5 5M162 866l5 6-1 7M132 793l4-3 7 5 1 5M233 897l-3 7 5 5 5 0M347 971l8-1 2-6M170 797l2-5-4-5M367 894l-4-8 2-5 6-3M117 690l4-4 8 3M113 670l7-6 9 2 3 7M266 815l-4 8 4 6M326 776l4 6 6-4M80 823l-3-6-6-1-7 5M156 720l2 6 6 0M142 701l-6-2-5 4-1 8M191 784l-2 7 8 4M81 740l-2 6-7-1M164 684l2 5-5 5M118 663l5 2 6-2M256 865l8-2 2 5 8 0M61 644l-6-6-6 6 4 13M448 842l4-7-7-6-8 3M253 946l6 2 2 5 7-2M404 890l2 6-6 4M369 812l-3-5 1-5M431 696l6-2 4 3 6-1M273 897l-6-1-1-7 6-5M257 626l-12 7-3 14M69 746l-10-3-5-13M225 686l3-4 5 3 5-7M270 643l0-6 7-5M370 684l-5 3 1 6-6 7M252 792l2-6 5 0 3 8M85 968l6 0 3-7-4-4M259 909l6-4 1-8-8-4M161 887l-3 8-7 2-2-5M129 967l0-9 4-3M342 948l-5-3 2-5-6-6M316 666l4 3-1 6M105 979l2-12 12-5 0-8M398 1022l-6-9 4-9M223 916l-4-6-6 3M365 735l1-7-8-4-4 6M200 970l-2 6 3 7M189 632l-10 2-11-9 1-11M393 692l-5 5-4-3M118 658l-3-5 5-7-1-8M415 761l-2 7 4 7 6 0M369 652l1 8-7 3M337 666l7 0 6 6-2 7M214 857l6-2 1-6M156 889l7-4-2-6M397 930l3-7 9 1M220 651l5-7 6-1M318 632l-7-11-9-3-11 8M274 710l8-2 4 4M327 874l-6-2-2 5M139 698l5-3-2-8M95 605l8-5 0-9M125 780l3-5 5 2M186 919l8 1 1 7M211 671l0 6-5 3 0 6M275 664l-1 7-8 1M291 655l-6 2-8-3M152 731l5 4 5-1 3 7M280 690l-7-1 0-6M176 774l5 0 6 5M391 933l8-3 6 4M291 704l-6-2-5-8 5-7M252 785l7 1 3-7-6-5M416 668l2 6-5 5 4 5M333 969l1-6 6-5-3-6M284 712l7-4 7 5M335 885l-9-1-3 6 2 8M327 664l-7 0-1-7 7-4M136 913l-6-6-9 0M128 968l-6 7 3 9M196 967l-5-2-3-6M406 968l-1 6 6 3 5-3M312 712l-1-6 4-5 7 4M232 948l-5 5 3 7M299 797l6 0 5 6 7 0M189 651l-9-1-3 4-8 1M384 739l-8-1-5-7 4-7M339 846l6-2 3-8 7-1M443 1018l9 5 11-8 9 5M302 633l10 6-4 12-13 5M81 759l6 1 4 5 8-4M253 737l1-8-4-3 2-8M306 740l-3-8-5 1-1 7M126 683l8 1 3-8 8-2M111 748l6 4-2 5-5 1M132 657l5-1 7 5M295 841l-8-2-5 4-6-4M193 662l-5 0-2 6-6 0M406 788l-6-2-3-8-6 0M197 809l5-3 7 4M369 962l5-6 6 2 5-7M167 730l6 6-2 7M164 792l-2-7 5-7M313 988l9-2 6 6-3 7M251 640l-7-1-3 7M103 861l-5-7-7 2M117 811l5-2 0-5M279 862l1 7 5 2-2 8M214 956l-5-3-6 4M150 763l5 1 1 6-8 4M186 872l0 8 5 5 5-4M182 925l-6 2-4-5M387 844l-8-4 1-5-5-3M356 615l-10 7-2 13 10 8M159 645l-9 0-5 6-6-1M139 760l1 8 6 4M336 656l5-3 0-6M222 732l5-2 6 5 5-1M278 657l2 6-5 7 5 5M458 902l-6-9-13 5 1 10M172 779l-5-4 3-7M117 779l-7-3-7 4M106 973l-4 8 6 7 0 10M355 852l3 7 9-2M180 879l6 1 3-5 8 0M269 718l7 2 6-3 9 3M292 898l2 6-3 5-7 0M96 699l0 9-7 2M174 973l9-2 8 11M426 790l4 3 8-1M113 916l4-7 6 2 0 7M264 863l-5 2-4-2M262 780l-7-4-6 6M402 898l-3-5 3-5 9 1M357 738l-5 2-1 6 6 1M274 794l-1 6-5 3 1 6M104 919l8 0 3 5 7 1M312 813l8-1 2-6 6 1M420 843l-7-5-5 4M49 673l2 13 8 4 0 10M191 746l-7 3-3 8 3 4M155 952l4 3 2 7M169 893l5 5-1 6M177 650l8-1 4 5M63 797l-9-3-5 8 9 9M138 821l0-9-6-3-4 5M222 692l8-2 3 4M422 965l6-2 3-6 8 0M160 792l0-5-8 0M132 902l-3 6-8-2-4-8M189 657l-1 5 4 5M410 668l-3-6 3-8M327 763l-7 5 0 5M127 945l8 1 3-5M117 791l-6-1-1-5M154 856l4-5-3-6M399 960l-8 3 0 6-5 1M441 791l0 5 5 5M455 776l-7 10-10-4M368 727l1-7-8-2M133 954l5 6-5 5M204 639l-6 4-5-1-4-6M436 854l3 5 8 2M364 668l-6-2-3 8 3 4M275 735l3-4 6 4M434 768l-3 5 7 5 6-6M160 897l-4-5-7 0M466 648l3-11-10-4M236 961l7 1 2-8 6-1M411 600l-12 2-6 8 1 13M177 903l7-3 4 7M126 654l-7 3-1 6-7 1M109 713l7 5 0 8M316 843l-2-8-8-1-4 5M217 631l7 5 0 8-7 5M179 691l-4-4 3-5M393 723l7-2 0-6M380 774l-4 4 3 8M294 647l-1-6 5-5-1-6M238 860l-6 2-6-7-6-1M272 850l-3 8-5 2M340 928l-6-2-8 4M369 738l-5 2-4-8 4-3M63 826l11 7-4 11-8 0M82 969l-6-4 2-6M322 727l-4-6-6 3-7-6M134 733l-5 7 1 7M262 963l-2-8-6-3M320 697l-7 0-1-8M363 710l-6 0-1-5M289 986l7-5 9 2 7-11M278 925l1-5-4-7M76 718l-9 7 0 11 8 4M217 917l-2 8-8-1M454 674l-8 7-12-1M191 768l-8 0-5-5M308 749l-8 3-5-2 0-8M217 643l-6 0-1 5-5 2M198 635l5 5 8-4M361 749l5 2 0 8M386 709l-3 5-7-1M246 756l-4-6 3-5 8-1M373 938l-5-1 0-9-4-4M219 812l8-1 4 7M110 914l6 5 6-5M376 697l1-8 7-4-1-6M218 768l2-9 7-2M105 869l5 0 2 6-3 5M249 677l-5 4-1 6M125 780l5-5-3-4 4-6M406 622l-6 10-11-1-8 7M150 702l6 5 7-1 5 3M120 915l-1 6-5 3 0 8M218 741l-6 6-5-2 0-7M413 700l-6 1-3 5M313 672l-6 0-4 6M320 915l-3-7 4-4M376 722l7 3 6-5M384 681l-3 6-5 0 0-9M200 788l-4 3-6-5M196 749l2 8-5 2M150 664l-4 4 0 6M170 731l8-3-1-8M373 910l6 0 3 5M320 850l-5-6 3-7 9 1M308 898l7 1 3 7-3 7M138 822l-7 6-7-1-1-7M422 841l-7-1-3-7M393 718l5 2 2 6M265 968l-7-4-8 2M405 825l-4 6-6-1-3 8M274 743l2 6 6 2M205 685l-9-1 0-6-4-4M194 943l1-5-4-5M382 943l-3-8 5-3 5 6M103 965l4 5-4 6M119 675l5 2 2 6 6 2M307 686l-4 3 0 7-7 3M182 727l0 9 5 4-3 8M431 649l-4 4 4 7M431 694l6 3-2 5 3 7M82 641l4-6 7-2 4 4M419 639l7-4 4 5-1 7M372 633l-2-9-9-2-6-8M285 659l3-5-5-6M238 874l9 0 5-5M280 678l8 0 2-6M372 997l-8-2-4 7 4 10M234 916l5 7 6-1 2 6M116 667l-6-2 1-7M80 667l7 3 6-5M437 849l-7-4 0-6M84 748l-8 5 3 8-2 6M131 665l3-7-2-5M366 929l3-4-3-5-8-2M376 703l6-4 5 3-1 6M240 715l3-4 8 1M434 628l-12 0-2-8 10-3M164 809l4 3 1 7 7 3M309 689l-2 7-5 2M212 698l-2 7 4 5M437 761l-3 4 3 6M359 838l-1 7-4 4-6-2M346 645l2-8 6-3-2-7M205 890l0 7 5 0M440 785l0-5 6-5M169 751l4 6-5 4-5-1M229 758l5-6-5-5M96 978l-10-9 3-12-11-9M447 955l0-9 5-4M343 851l-1 8 6 6 8 1M388 766l6-4 5 1 2-6M90 766l7 1 4-6-1-7M193 975l-6-11 3-13M169 786l7 5-3 6-7-2M74 727l-13-2 0-14-12-4M112 703l-7 2-4-6 4-5M387 685l4 5-3 5M50 712l-4 9 8 11M109 825l-8 2-7-4-7 5M414 874l6-2-2-7-5-2M361 787l-3 6 5 5M199 962l5 0 3 6M417 791l-8-3-5 3M122 760l6-3 8 3 5-6M406 654l7 1 0 7M371 746l4-4 6 1M146 872l6 3 2 5 7 4M462 803l6 7 11 1 8 10M399 851l5 5-4 5M419 896l-6 5-7-5-7 5M332 962l5-1 2-8M243 803l-8 2-5-7M425 681l4-8-4-6 2-6M217 896l-6 4 2 7-2 5M407 752l-1 8 7 5 1 7M208 850l0-5-3-4M395 852l5 7-1 8M163 766l-6-1-4-7M407 963l-7 4 2 7 5 3M413 803l-3 8-8 0M341 714l7 5 1 7M271 973l1-13-11-6M199 864l-3-5 3-5M412 687l7-3 5 5 8 0M280 933l2-5-3-7 7-5M355 708l5-6-3-5-5 3M458 655l10 6 3 9M205 808l-2-5 5-3-2-5M454 951l2 9-9 6 6 11M243 821l-6 6-8-4 2-6M408 653l2 7 8 1M408 954l1 7-5 4-7-2M322 725l-3-8 5-7-3-7M229 883l5-2-2-6 4-5M215 717l-6-6 0-8M157 872l-5-3-7 1-5-5M280 776l-5-1-3-6M261 932l-3-7-8-1M165 844l1-6-5-2M431 740l6 1 3 5-1 7M149 935l6 2 2 4M327 740l-1-6-8-5M332 661l7 2-1 7-6 3M331 724l-1 5 8 4-1 6M160 800l5-3 5 4 8-1M103 710l7-2 2-5M335 767l-1 5 7 4 4-3M152 654l0-8-8-2-2 5M452 905l-2 6-7 0M324 809l-2 6-8 4M115 715l-2-8 5-5 6 3M406 832l-4-7-6 3M76 800l2-8 11-3 12 7M274 913l-6 4-2 9M324 1027l10 2 8-5M349 949l0 8-6 4 0 7M406 918l0-6-7-4M317 692l-3 6 4 4 8-3M443 940l5 3 6-3 3-8M394 647l6-5 1-6-8-3M79 870l5 2 7-3M406 725l-8 3-4-8M146 846l4-4-4-5M383 682l-7 3 0 7 6 1M266 781l4 8-5 6-6-2M441 772l4-7 6 1 3 5M133 925l1 9 5 2M160 863l-5 5-6-5M252 826l-8 0-4 4-7 0M416 790l5-6 7 3M320 827l-5-4-7 2M319 937l7 1 3-6 8 1M401 660l1 6 8 4M209 733l-6 2-3-5-7-2M384 960l4-4-3-6M250 881l-4 5-8-3-3-6M315 687l8 3 1 5M99 881l7-3 0-6M86 714l-6-7 2-5 8-1M458 634l3-11 11-7 10 7M226 637l-6 7 1 6M349 716l4 5 8-2 6 6M270 849l5 1 0 7M158 817l-5 4-6-3M411 723l-5-7 3-4-1-6M444 868l-6-3 1-6-5-7M349 630l-10 0-6-7 4-8M447 772l-5-3-2-6M331 969l1-5-7-6 3-7M343 695l-6 2-5-6 4-6M107 661l-6-6-6 1M306 766l-8-1-1-9M403 805l-4 6-8-2M262 660l-1 6-8 0M444 633l-7 8-9-2M331 708l-7-2-3-5M84 723l-6 4 2 7-7 2M470 942l5-11-9-9 4-9M311 692l-7 4-5-6M291 632l-3 12 6 11-7 8M202 726l-6 3-7-2M308 852l-6-1-5-7M123 953l2-5-4-8M229 774l-2 7 4 6 5-2M154 955l3 6-3 7M66 673l4 8-7 8M282 977l-6-9 3-10 8-2M191 855l-3-6 4-7M102 912l6 2 2-5M173 817l-8 2-2 6M333 738l-1 9-5 0M413 1002l-6-8 3-9M243 748l-4-6-6-1-7 5M275 775l6-2 7 3M386 712l-8-1 0-7M348 674l6 2 5-4 7 1M354 924l-1-5 6-3 2-7M386 662l3-6 6-1M345 815l-5 4 1 6M235 723l0 5-7 6-7-4M409 748l-7 1-4 6 1 5M193 693l-7-2-3-5-5-2M395 930l-5 0-6 6M156 785l6 1 6-6 5 3M268 829l-4-4-6 2-2-6M130 870l-2 9 3 5-6 7M109 905l-2 6 8 4 1 6M183 868l-4 8 4 5M388 895l8 0 5-5 7 0M390 705l-3 8-6-2-1-9M138 699l1 8-8 3-7-5M302 679l4-4-2-7-7-5M131 932l-5-4-7 5-1 8M268 1022l10 5-4 11-13 2M431 630l10-3-2-12M189 664l5 4-3 5-7-1M127 913l-3-4 2-8M285 608l-5 13-11 0-4-7M254 778l1-7 6-2 1-7M255 653l8 1 3-4-1-9M184 674l5-3 7 3 4-5M462 863l-5 12 8 6 11-4M203 882l-7 1-3 7M151 818l4 6 6-2 2-5M302 719l1-9-7-3M200 918l5 1 3-7M402 910l-2 8-5 1-1 9M399 849l0-7 6-1 4 4M185 1017l-1 8-9 5M128 938l7 3 3-4M270 925l1 6 6 3M181 861l2-9 7-2M191 644l-4-4-6 4M357 865l7 2 3 7 8-1M272 674l-7 3-6-7M119 643l-5-2-5 2-5-6M175 787l-7-3-2-5M121 938l-6-5-5 2-2 6M328 917l6 4-2 8-8 0M83 652l-7 1-3 8M258 655l-1 8 5 8M296 910l-6-1-4-7M422 968l-4 5-5-3-2-8" stroke="#e86a6a" stroke-width="1.6" stroke-linecap="round"/>
<path d="M77 707l1 7M233 722l3-6 7 0 5 4 6 0M114 962l-1 7-6 2-1 7M268 639l5-3M307 950l-4 5 4 6 7 1 5-5M203 867l-4 5 0 7M133 757l6 2 7-2 4-6 7-1M311 886l-4-6 0-7M153 683l-6 0-4-7M221 969l4-6 6 2M407 947l-6 4-6-1-6 4 1 7M148 715l-4 7-7 0M384 970l-7 1-2 6M216 944l-3-5 5-5M135 809l2 7 4 4 7-2 2-7M330 854l3 5 5 2 5-5-2-7M122 823l-7 0-4-4-2-6-6 0M151 752l5 6 7-2 2-6-5-3M178 922l-7 2-1 7 3 5 7 2M203 677l-4 5-7 0M402 768l5 3M395 780l-4-7M424 828l3-5-4-5M225 930l5-4 2-6-4-4-5 3M324 639l-1 7-6 1 0 6M388 827l-5-4 2-6-5-6-7-1M420 926l5-2-1-6 5-6M101 996l-6 2-4-6-6 0-6 4M394 736l4-5M104 724l6-1 5 3M431 765l-5 3M165 662l6 1 4-5-2-6 2-6M215 874l5-4 7 2 6-2 5 4M383 667l-6 1-4-5M80 755l-1-6 5-2M254 864l-4-6 5-5 7 0M354 928l-1 6M378 747l5-2M385 665l-6 3-3 7-5 3M317 910l-2-6M449 827l7 1M133 746l5 4-2 7-6 2M246 949l0-7-6-3M317 833l-5 6 0 8-5 3-1 6M145 661l-6 0M116 878l6-3 7 2 2 7-5 3M179 959l-4 5-6 0-5 4-6-2M159 907l4-5 6 0M79 902l4 5-3 5-6 2M143 689l3-6M298 771l-5-5 4-6M354 677l-1 7 3 6 7 2M123 651l-6-1-4 6 4 6M78 788l4-6 6 3-1 6 6 4M242 694l-2 6 3 5-5 5-1 6M118 836l-3-6-7 0-3-7M82 626l-3 6-7-2 1-7M302 965l-5 4M110 640l-4 5-7 2-4-6-7 1M315 793l-6 3 2 6M86 827l-4-5 2-6-6-4-6 2M435 699l1-6-3-7 2-6-5-3M141 787l-6-5M409 886l1-6 4-4-4-7-7-1M394 844l4-5-2-6M97 716l7-1 4 6M266 666l5-4 2-6 6-1M234 920l-4-5M138 682l1 6M109 759l1 6M170 822l6 4M308 752l-6-4M246 904l-3-5M141 701l0-6 4-5-4-5M306 887l4 6M254 633l1-6 7-2 5 4 0 6M298 752l-2-6-5-4M78 888l-6-1-5-4M86 648l6-3 5 5 1 7M131 665l4 6 7 0 4-5-4-6M197 704l5 3 1 7 7 1 4 6M234 723l6 0 5-4 5 4 0 6M149 1028l6 1 6-4 6 1M424 868l6-3 7 2 5-4M307 869l-4-4-6-2M356 944l5-5 6 0M386 836l5 3M379 825l-1 6-6 2M232 721l-3-5-6-1-2-5M154 797l7 0M225 638l5 3 5-5M111 818l-3-6M146 884l5-5M265 923l4 4M113 954l-2-7-5-3M277 677l-4-6 1-7-5-4M99 821l-7 2-4 5 4 6M270 736l-6 3-6-2M304 849l4 4M411 940l7 2 5 5 7-3 5 5M150 642l-3 6 3 5 6-1M343 721l6 1 3-5M226 936l6 1 3-6M462 674l5 6-1 6-5 4M264 963l-7-1-3-5 0-6M310 754l-6-1M322 658l7 0 2 7M77 737l-6-1-2-7 1-6 5-4M254 817l5 5 7 0 5 6 1 7M138 697l-1-6-7 0-3 6M283 650l6-2 1-6 7-2 0-6M430 648l-2 6 3 7-5 5-6 0M188 936l5-6 6-1M286 854l-6 4-6-2M364 822l-6 4M187 929l-6 1-6-2M82 937l2-6 5-3 1-7M88 933l4-6M93 934l4 6M83 743l3 6 6 3 1 6M128 901l-1 6 3 7-4 5-6 1M164 864l-3-6-7-3-3-5M173 730l-7 2-6-3M81 852l6-4-1-6M374 775l-3-6-6-4-1-7M107 778l-6 0M287 676l6-4M425 913l-7-2-4 5-1 7 6 4M196 780l-4 6M205 700l6-5 0-6 6-5M397 824l-4 6-7 3M368 792l6-2 0-7 5-3 1-6M337 716l1 7-4 4-6-1-1-6M271 723l1 7 5 5M102 942l3-7M115 904l-6-2M218 735l-1-7 5-4M289 758l1 6 4 4 7-1 2-6M359 703l0-8-6-3 0-6 4-4M182 782l6 0 1 7M153 962l2-6 6-4M461 893l4 5 6-3M85 933l0 6-6 3-1 6M72 745l-3 7-6 1-4 6M416 713l1 7 5 4M445 635l-6-2M440 941l5-4 4 4M173 779l-4-6-7-1-3 6M149 709l-6-1-4 6-6 3M303 807l-6 0-2 6 3 5-1 7M328 639l-3-6-7 0M388 958l-1 6 5 2M303 710l-1 7M214 657l-4 5M166 732l6-3 3-5-4-5M288 909l-6-3M233 655l4 5 7-2M109 935l5 2 4-5M368 839l-6 0-5-5-7 4M230 673l7-2 1-6M79 858l-6 1-4 6 2 6M333 905l-3 6 3 7-1 7M403 916l3 7-3 5 1 7 7 3M262 674l-6 1M377 834l1 6-3 6M236 744l-2-7 3-7M372 884l-2 5 1 7 6 3M358 639l1 6 5 3M127 658l-4 5M396 934l-5-3M391 949l4-5-3-5-5-1-4 5M331 883l-5-5M164 946l-4-5-7 1-1 7M176 735l-6 4-2 7-5 5 0 7M311 957l2 6M336 763l3-6 6 1 4 6 6-1M388 729l0-6M149 883l2-6 6 0 3 5 6-3M249 943l0-7-7-2M81 768l6-3 7 2-1 7M445 942l6 1 2 6 6 1M287 930l6 3 1 7 7 2 5-4M439 842l-6 2 0 7M150 952l-5-5-6 3-7 0-5-3M298 951l2 6M196 736l3-6 7 0M155 859l-1-6M166 713l-2 5M358 878l-6 1-5-4-2-5-5-4M459 821l-1 6-6 3M270 942l7 3 2 7 7 2M245 747l6 5 6-2 1-6-3-6M327 681l-3-6-5-3M119 926l-2-6 5-4M406 640l-5-4 3-5-1-7M106 934l-7-3-5 4-3 6 3 5M322 884l-1 7M197 728l-6 4M449 928l-4 6-6-2-5 3M285 898l-3-5-7 0M370 911l-6 3-4 6M358 729l-3-6-6-3 1-7-3-5M311 677l-7-1M154 892l-6 0-4 6 5 6-1 6M382 841l-7 1-6-5-6 1M203 773l-5-4-2-6 3-6-5-6M416 827l-5 2-4-5M262 898l0 7 5 4M240 967l-6-1-5 3 0 6M237 846l5-5-4-6M419 777l-6 0-2-6 5-4-2-7M229 787l5 5-3 7-6 4-7-1M315 968l-3-6 2-7-6-4M449 908l-5 4 1 6M216 897l0 7 5 5M208 820l-1-6-7-1-3-5-6-2M385 881l0-6 5-5M444 957l-6 4M251 698l-4 6 0 7-5 3M77 664l-3 7M425 627l4-5M395 906l-7 3-3 5-6 3M167 896l-4-5M278 630l-6-3-7 3-4-6M192 956l-2 5M135 957l2-7 5-4 1-6M194 951l5-5M268 671l-5 4-6-1-3-6 1-6M197 759l0-7M362 664l-3 6-7 1-6-4M308 921l-3 5 4 5 7-2 6 2M159 718l6 1 5-5 6 0 4-6M341 730l-4-6-6-2-3-6M107 965l-6 1-1 6-7 2M454 759l0 7-4 4 2 5 7 2M74 873l1-7 7-3 7 2M129 775l3-6-3-5-7 0M315 879l6 1 3-5-3-7M142 644l5-3-1-6M192 642l-4 5-7-2-4 5M297 798l-6 0-3 7 3 6M152 821l5-5 7 0 4 6M211 841l-5-3M283 845l-1-6M108 824l-3-5M358 674l-2 6 4 6 6 0M320 849l6 2 5-2M379 719l-4-5 1-7 7-2 4 5M381 753l0-7-4-5M178 722l5-5-3-5 0-7 4-5M343 743l5 4 0 7-6 2-4-4M206 938l6 2 4-6 1-7 4-5M111 678l2-5M141 927l4-6 6 1 5-5-2-6M264 951l-2-6M438 744l4 5M229 908l-6-5 0-6-6-3M162 870l-3 6-6 3M432 959l-7 1-7-3-7 3-5-3M188 838l-7-2M247 966l-1 6-5 5M221 648l-6 2-2 6-5 4-2 6M424 978l-2 6M458 957l1 6 7 2 4-5 5-2M241 760l-6 3-2 7 6 4M157 880l-1 7-5 4-6-4 2-7M354 633l-1 6-5 3M230 974l4-6 7 0 4-5M178 923l6 3 0 6-5 4 2 6M354 659l1-6M204 957l-6 4-7 0M361 812l5-4M173 770l1-7 6-3 0-7 6-2M190 839l-5 3M248 693l-5 4 1 8M139 971l0-7-3-5-7-1M242 921l-4-5M185 622l2-6-3-6M199 722l6 4 2 6 6 3-1 6M342 968l3 7-5 5-7-2-3 5M377 946l3 7 6 4 0 6-7 3M294 720l-3 5M208 882l-4 4-1 7-5 4-7 0M85 874l0-7M397 762l3 6-1 6 7 3M454 864l6 2 2 6M379 664l-6 2M404 866l-6-4-1-6 4-5-4-4M330 893l-5-4-2-5-7-1M366 881l3 6 7-1 5 4 6-5M353 803l-5 4-7 1M200 642l7-1 4 4M345 934l-2 6-5 3-7-2M270 693l1 6 5 4M203 668l1 5M98 841l-2 6 4 5-2 7M276 746l-2-5-5-2M189 880l-2-7M457 663l5-4M342 690l-7-2-6 3-6-4-5 3M397 684l-6-1-4-5 0-7M90 823l5-5-3-5M364 825l-5-4-5 3M315 962l-7 0M89 783l0 6-4 4 0 7M388 806l-5-3-7 1M130 816l-1-7-4-5M133 882l-5-3-4 3M337 634l-6 0M155 755l5-3 6 2M223 814l-4 6-1 6 5 5 6 2M198 796l4 5 0 6 6 2M252 947l-5-3-5 3-7-3 1-6M316 945l-2-7-7-1M362 731l-6-4-5 2M243 917l0 7M387 778l6 1 1 7-3 6-7 3M223 672l2-6 6-3M373 665l1-7 5-5 6 0M114 842l6 2M114 961l3-6 6 1 2 6M275 741l-6 3-5-3 1-7M316 602l-4-6 5-5 6 2M162 666l-1-7-6-2M161 709l-3 6-6 0M275 977l-6-4M127 675l0 6M109 894l6-4 5 4-2 6M92 656l2 7 5 3 2 7 4 4M72 894l-7 1M76 867l6-1M109 691l-4-5-7 1M213 970l6 0M446 790l3 5-3 6-6 1M176 940l5-3 6 1 2-6M199 742l4 5-2 5-6 3-2 6M367 673l6 2 6-3 3-5 6-4M257 902l-7 0M72 820l0-6 6-4M440 757l-2 6-6 3M122 702l2 6-5 3-6 0-6 4M173 721l-5-5M278 713l4 4 6 2M390 874l6 4M230 839l0-6M192 938l6 5 7-2M362 651l5 4 1 6-4 4-7-1M78 743l3-6 7 0 5-5M134 693l3-5 7-2M390 947l3 6-4 4 3 5M96 801l6-3-2-7-5-3M218 868l-6 0M315 951l4 4 6 1 6-5M411 609l0-7M85 878l-3 6M359 956l-5-5 3-7-2-5 4-5M392 959l4 6 6 1 4 4-2 7M302 655l-6-2M392 954l4 5M161 716l2 6 7 1 1 8M125 920l-2 7 2 6-5 5M173 755l5 3M223 905l5 5 7 1M317 875l1 6 6 4 7 0 4-4M364 688l-2-5-4-4M366 689l-7-1-4-6M126 955l-6 4-3 6M264 795l6 2 2 6 7 1M181 872l2 6M388 778l-4 6 1 7M182 961l-8 0-3 5-6 3M96 736l-5 3M110 813l6 3 4 6 7 3M152 909l6 4-1 7 3 5M176 774l6 4-3 6 5 5 7-1M298 878l-3-7M100 799l-7 2M181 964l5-3 3-7M384 742l-2 6 4 6M339 901l3-6M132 913l-3 5 0 8M416 908l-5-6M352 863l-5-3 2-5-5-5M409 666l-3-6 3-5M222 646l-2 6 5 4M364 885l0-7-6-3-4 4-6 0M120 807l-3-6 1-6-6-5M88 802l2 6-3 5M131 945l6 1 2-6 7 1 6-4M420 717l0-6 3-5 7 0M329 898l0-7M102 950l-5 2M362 896l1 6M195 781l6-1 5 4 0 7M339 874l1-7 6-2 4 6M149 684l1 6-6 2 0 7 5 3M369 947l-3-5M77 822l3-5M108 919l-2 5-7 0-3-5M184 946l-1-7 6-3M75 705l2-6M409 911l-6 2-7-2M349 621l-7-2-4-5-6-1M193 909l-5-3-1-6 3-5 5-2M161 754l-5 5 1 7 5 5 6-4M174 858l-7-2-5 5 2 6 5 3M391 679l3 7 6 4-2 7M325 737l-1 7 4 6-5 5M278 638l-3 6 2 6 5 1 1 7M430 883l1 6 4 4-1 7M168 733l1-6M194 921l-5 4M229 651l5-4-1-6-6-2-5-5M187 930l-6 3M215 685l7-1M400 919l2 7-5 3-1 7-7 1M84 656l7 2 6-4 5 2M321 948l-2-6-6-2 0-7 4-4M279 862l-6-2M403 910l0 6M75 913l-1 7 4 6M85 812l-3-5 1-7M279 964l-1 6M210 923l-6-2-4 4-7 1M168 894l4-5-4-7-7 1-2-6M253 745l-7-4 2-6 5-4M222 654l6 3 4-4M81 851l6-4 6 0 4 4 6-1M129 837l-1-7 4-5-2-5 2-6M251 822l4-4 6 3-1 7M417 641l6 3M151 706l7 0 4 5 7-1M422 659l-6 0-4 5 2 7M372 955l6-3 6 2-1 7M201 651l6 2M284 913l4 5 7 2 3 5M291 664l-3-4 4-4M147 790l5 3 0 6 6 1M287 967l-2 6 4 4-1 7M449 807l-5 4 3 6-3 6 4 6M129 666l7 0M288 633l-6 4-6 0M435 892l3 6 7 0M239 725l5 4M290 870l-6 5-1 6 3 7M156 766l-4-5 1-7M100 807l3-5 6 0 5 4 6 0M284 905l2 6M160 685l5 4 5-3 7 1 4-7M132 719l1-6-4-4M458 739l4 5M290 664l-5 4-6-2M391 799l-6 4M275 916l2 6M149 688l6 0 6-4 6 3M262 661l5-3-2-6-7-2M423 933l-4 4M306 946l-7-2-5 6M423 774l7-3 2-5M289 654l7 3M214 666l-5-3-6 0-5-5-7-1M99 903l-6-4 3-6-6-5M222 647l0-6 6-5 1-7M340 930l-1 6-5 4-7-1-4 5M364 738l6 2 2 6 7 2 4-5M151 627l6 2M197 878l7-4 5 3M334 702l-4-5-7-2M119 864l3-6 6-2M75 636l-2-7-7-2 1-6M217 972l7-4 7 2 5-3-1-6M359 862l1 7M268 834l-2-6M386 811l-6 0-4-4M411 958l3 5-2 7M401 710l2-6M459 964l-3 5 5 6 6-3 7 1M289 647l5 3 2 7 5 5-2 7M342 695l6 4M87 827l5 6M104 853l-7 3M312 960l3 6-4 5 1 6 6 4M407 803l7 1 3-5 7-1M226 930l-7 2 0 7-7 3M453 891l6 0 1 6 5 4M357 938l6 3 6-3 1-6 5-2M261 768l-5 2-5-3 1-7 4-5M138 688l-6-3M275 879l5 3M391 905l2 6 5 3M376 706l-7-2-4 7 1 6 6 1M314 805l-7-3 0-7-5-3M258 883l-2 6 5 6M432 781l-5 3M347 825l2 6-5 5-8 0-2 7M363 730l-2-7 3-7M306 899l0 6 5 4 6-2M438 816l-5 4-2 6-5 3M148 939l-5 4-6 1M280 937l-1 6-5 3M270 898l-2 5-6 0-2 6M264 902l6 3 6-4M280 650l3 6M391 639l-5 5 2 7-4 5M362 945l7 2 4-6M414 667l-3-6 0-7M329 895l-1-7-7 0M322 813l5 4 2 6M413 897l-7 2-4-5M306 934l1-7M168 772l3-5M212 658l7 2 5 5M160 955l-7 0M404 880l7 3 7-1M445 918l5-2-1-7-7-3M437 809l6-2M365 631l5 3 3 6 7 0 4 7M114 862l2 7-5 3M410 836l7 2 5-4-2-6M248 899l7 2 4-6 0-7-3-6M371 918l2-5 5-3M316 634l5-4M217 636l-2 6 3 5M133 756l-2 7-6 3-1 6M238 958l-3-5-7-1M375 641l-7-3-3-7-5-3M404 851l-4-6M197 951l-4-4 0-7 5-4 5 4M386 937l3-7M249 866l-1 7-7 1M171 770l6 1 6-2 3-5M311 925l-2-7-5-4 0-7 3-6M432 741l-5-3-2-6M308 907l6 2 1 6 6 3M382 646l2-6 6 1M237 791l7 1M178 675l2-6-3-5-7-1M410 846l0-7M172 704l6-5 7-1M325 863l-2 6-7-1M430 772l6-3 3-6M158 764l-6-2-3-6-6-4M211 953l2-7M99 729l-6-3 0-6 4-6M152 866l-1-6 4-6 7-2 3-5M184 971l-5-4-6 0M185 785l-6-3M364 848l4-5 0-7-7-2-6 4M120 827l6-1 4 6 6-1M309 716l-6-1M217 969l-1 7-5 5-7-1-2-5M458 771l-1-7-4-6M343 804l-6-2-6 1-4 5 3 6M193 665l-6 2-3 5-7 0-1 6M362 941l-1 7 4 5M441 649l6 0 1-7M386 685l-7 0M360 662l-7-2-6 2-7-1-4 5M318 935l0 7 7 2 4 5 6 2M160 602l2-5 6 0 4 4 6-3M76 811l-5-5M291 663l6 0 4 6-3 5 3 7M86 683l2-7 6-4 7 0 2-7M333 954l4 5 0 6-6 3M125 705l-6 3M124 702l-7 1-3-5M293 889l-3-6M417 970l-4-5-6-1-3 6-6 2M57 890l-4-4 1-7M177 913l1 7 6 4 7-3M420 718l7 1 2 7 6 1 4 5M428 698l5-4 6 0 5 3M238 670l2 6M174 1023l6-5 1-6-5-3 1-6M139 969l-1 7-6 2 1 7-6 2M364 680l2-6 6-1 5 4M169 771l-1 8-6 3M399 894l1 7 6 1M290 713l-3 5M312 723l2-5-3-6-6 0-4-6M439 642l4 5 6-3 3-6 6 0M237 981l0 6 7 4 3 5 7-2M131 985l-6 3-3 6M371 767l4 5M266 702l-6 0M63 817l6 3-1 6-5 4M148 654l-6 0M442 761l6 1M315 785l-4 5 1 6 5 2 6-3M230 876l1-6M296 725l5 4M223 778l-7-1M307 914l0 6-7 2-6-2M333 938l0 6-5 6M287 775l6 1 3-6 6-1 4 6M273 915l4-4 6 1M203 948l-5-4 3-5M436 957l-6-4M331 655l2 5-3 7 5 6-3 5M292 810l7 2 6-2" stroke="#5cc4c4" stroke-width="1.6"/>
<defs><path id="cba" d="M77 707h0M77 714h0M236 716h0M248 720h0M113 969h0M268 639h0M273 636h0M315 962h0M320 957h0M203 867h0M200 872h0M200 880h0M133 757h0M139 759h0M145 757h0M311 886h0M307 879h0M153 683h0M143 677h0M226 963h0M231 965h0M401 951h0M390 961h0M144 721h0M137 721h0M384 970h0M377 971h0M218 934h0M137 816h0M148 817h0M339 861h0M122 823h0M110 819h0M151 752h0M156 758h0M164 750h0M159 747h0M171 924h0M173 936h0M427 823h0M423 818h0M225 930h0M230 927h0M232 921h0M223 920h0M324 639h0M323 645h0M388 827h0M383 823h0M385 817h0M420 926h0M429 911h0M86 994h0M115 726h0M426 769h0M175 658h0M173 652h0M227 872h0M233 870h0M238 874h0M383 667h0M79 749h0M84 747h0M251 858h0M256 854h0M378 747h0M379 667h0M377 674h0M372 677h0M317 910h0M455 828h0M133 746h0M130 759h0M246 949h0M145 661h0M139 661h0M116 878h0M129 877h0M131 884h0M176 964h0M170 964h0M159 907h0M162 902h0M168 902h0M84 907h0M81 912h0M74 914h0M146 683h0M354 677h0M354 683h0M357 689h0M117 650h0M117 661h0M87 790h0M93 794h0M240 700h0M243 705h0M238 710h0M108 830h0M110 640h0M99 647h0M95 640h0M88 642h0M315 793h0M309 797h0M310 802h0M72 815h0M435 681h0M136 782h0M409 886h0M410 869h0M403 868h0M266 666h0M271 663h0M272 656h0M234 920h0M231 914h0M138 682h0M139 688h0M109 759h0M246 904h0M242 899h0M141 701h0M146 689h0M306 887h0M262 625h0M267 634h0M298 752h0M296 746h0M67 883h0M97 650h0M98 657h0M131 665h0M135 671h0M145 666h0M245 720h0M249 730h0M149 1028h0M162 1025h0M167 1027h0M430 865h0M442 864h0M303 865h0M356 944h0M361 939h0M367 939h0M391 839h0M223 715h0M221 710h0M154 797h0M225 638h0M229 641h0M111 818h0M108 812h0M111 947h0M273 671h0M274 663h0M269 660h0M99 821h0M88 828h0M91 834h0M270 736h0M263 740h0M257 738h0M304 849h0M308 854h0M423 947h0M147 647h0M156 651h0M343 721h0M352 717h0M232 937h0M467 680h0M466 686h0M461 690h0M264 963h0M254 950h0M329 658h0M77 737h0M71 736h0M75 719h0M259 822h0M266 822h0M272 835h0M283 650h0M291 642h0M297 640h0M430 648h0M431 661h0M426 665h0M420 665h0M193 930h0M364 822h0M357 826h0M181 930h0M176 928h0M82 937h0M83 931h0M88 928h0M92 927h0M93 934h0M97 940h0M86 749h0M93 758h0M127 908h0M130 915h0M126 919h0M155 855h0M152 850h0M166 731h0M160 729h0M87 848h0M371 769h0M107 778h0M287 676h0M293 672h0M412 924h0M419 928h0M196 780h0M192 785h0M211 689h0M393 830h0M373 790h0M373 782h0M378 779h0M379 773h0M338 723h0M334 727h0M272 730h0M277 734h0M115 904h0M216 729h0M221 725h0M289 758h0M294 768h0M358 695h0M352 692h0M189 789h0M153 962h0M162 952h0M465 897h0M471 894h0M85 933h0M79 943h0M69 752h0M63 753h0M59 759h0M422 724h0M450 942h0M173 779h0M169 773h0M162 772h0M159 778h0M149 709h0M139 714h0M303 807h0M297 807h0M297 818h0M328 639h0M325 633h0M318 633h0M210 662h0M176 724h0M282 906h0M114 937h0M368 839h0M362 839h0M350 838h0M230 673h0M236 671h0M237 665h0M79 858h0M334 918h0M406 922h0M404 927h0M411 937h0M377 834h0M374 846h0M234 737h0M369 889h0M370 896h0M376 899h0M359 645h0M365 648h0M127 658h0M391 949h0M396 944h0M387 938h0M383 943h0M331 883h0M153 949h0M170 739h0M163 751h0M311 957h0M336 763h0M339 757h0M348 764h0M149 883h0M151 877h0M166 880h0M249 943h0M249 936h0M242 935h0M94 767h0M94 773h0M445 942h0M293 933h0M294 940h0M301 942h0M434 844h0M434 852h0M150 952h0M145 946h0M128 947h0M196 736h0M199 730h0M459 821h0M459 826h0M279 952h0M245 747h0M257 743h0M318 672h0M119 926h0M406 640h0M404 630h0M402 623h0M99 932h0M322 884h0M322 891h0M197 728h0M449 928h0M440 932h0M282 893h0M358 729h0M355 724h0M350 714h0M144 898h0M149 909h0M369 837h0M363 839h0M203 773h0M196 762h0M194 750h0M416 827h0M411 829h0M407 825h0M419 777h0M413 778h0M411 772h0M416 768h0M225 802h0M218 801h0M449 908h0M444 912h0M216 897h0M215 904h0M197 808h0M191 806h0M384 875h0M437 961h0M251 698h0M247 704h0M242 714h0M75 671h0M425 627h0M429 623h0M395 906h0M388 909h0M379 917h0M278 630h0M265 629h0M135 957h0M138 950h0M199 946h0M268 671h0M255 668h0M255 661h0M197 759h0M197 752h0M362 664h0M352 671h0M304 926h0M308 930h0M315 929h0M321 931h0M341 730h0M331 722h0M94 974h0M454 766h0M450 770h0M452 775h0M459 777h0M75 866h0M89 865h0M129 775h0M132 769h0M129 764h0M315 879h0M324 874h0M321 868h0M142 644h0M148 641h0M181 644h0M177 649h0M288 804h0M291 810h0M168 822h0M108 824h0M326 852h0M377 708h0M381 746h0M178 722h0M180 712h0M206 938h0M213 940h0M217 934h0M222 922h0M111 678h0M114 673h0M145 921h0M157 916h0M263 946h0M438 744h0M442 750h0M229 908h0M217 895h0M160 876h0M154 879h0M418 957h0M406 957h0M188 838h0M241 976h0M216 650h0M213 655h0M424 978h0M459 963h0M469 961h0M235 763h0M151 891h0M145 887h0M147 880h0M348 642h0M230 974h0M234 968h0M241 969h0M245 964h0M183 926h0M183 933h0M354 659h0M355 653h0M198 961h0M361 812h0M366 808h0M173 770h0M179 753h0M185 751h0M243 696h0M244 704h0M139 971h0M139 964h0M136 958h0M129 957h0M238 917h0M185 622h0M206 726h0M208 732h0M214 735h0M213 741h0M340 980h0M334 978h0M377 946h0M380 953h0M386 962h0M203 892h0M192 896h0M85 874h0M85 868h0M399 774h0M454 864h0M459 866h0M461 872h0M379 664h0M373 665h0M404 866h0M398 862h0M397 846h0M325 889h0M369 886h0M353 803h0M348 807h0M341 808h0M207 641h0M338 943h0M331 941h0M203 668h0M204 673h0M98 841h0M100 851h0M98 858h0M187 873h0M342 690h0M329 691h0M318 691h0M397 684h0M391 683h0M387 678h0M90 823h0M95 817h0M364 825h0M89 783h0M388 806h0M382 804h0M130 816h0M126 804h0M133 882h0M128 878h0M124 882h0M337 634h0M155 755h0M166 753h0M223 814h0M218 820h0M252 947h0M247 944h0M235 944h0M314 937h0M244 924h0M394 786h0M385 795h0M223 672h0M225 666h0M231 663h0M373 665h0M374 658h0M119 845h0M116 955h0M265 734h0M316 602h0M317 592h0M323 594h0M162 666h0M155 656h0M161 709h0M109 894h0M119 899h0M101 673h0M213 970h0M446 790h0M449 795h0M440 801h0M176 940h0M190 932h0M199 742h0M203 747h0M195 756h0M193 762h0M367 673h0M373 675h0M379 672h0M382 667h0M388 663h0M72 820h0M440 757h0M122 702h0M124 708h0M119 711h0M113 711h0M108 715h0M173 721h0M278 713h0M390 874h0M231 832h0M192 938h0M362 651h0M368 662h0M364 666h0M357 666h0M81 737h0M87 737h0M92 732h0M390 947h0M393 953h0M393 963h0M101 791h0M212 868h0M315 951h0M319 955h0M411 609h0M82 884h0M356 944h0M396 965h0M406 970h0M302 655h0M161 716h0M163 722h0M170 723h0M171 730h0M173 755h0M178 758h0M335 881h0M364 688h0M366 689h0M359 688h0M355 682h0M126 955h0M120 959h0M116 965h0M280 803h0M384 784h0M182 961h0M174 961h0M166 969h0M116 816h0M120 822h0M127 826h0M152 909h0M159 912h0M158 919h0M161 924h0M182 779h0M184 790h0M191 789h0M100 799h0M181 964h0M384 742h0M339 901h0M411 902h0M348 855h0M409 666h0M407 659h0M222 646h0M220 652h0M225 656h0M364 885h0M365 879h0M359 876h0M349 880h0M111 790h0M88 802h0M90 808h0M87 813h0M139 939h0M146 940h0M420 717h0M420 712h0M424 706h0M329 891h0M362 896h0M206 784h0M339 874h0M340 867h0M350 872h0M149 702h0M106 925h0M99 925h0M96 920h0M77 700h0M403 913h0M342 619h0M338 614h0M332 613h0M193 909h0M157 767h0M162 772h0M174 858h0M164 867h0M400 690h0M325 745h0M328 751h0M323 756h0M277 650h0M283 658h0M431 889h0M435 893h0M434 900h0M168 733h0M194 921h0M235 647h0M228 639h0M223 634h0M182 934h0M215 685h0M222 683h0M402 927h0M397 929h0M91 658h0M96 654h0M321 948h0M314 940h0M318 928h0M279 862h0M403 915h0M74 920h0M78 926h0M82 800h0M279 964h0M278 970h0M210 923h0M200 925h0M172 889h0M159 877h0M253 745h0M222 654h0M228 657h0M87 847h0M129 837h0M128 830h0M131 814h0M262 821h0M417 641h0M422 644h0M161 711h0M416 659h0M412 664h0M413 671h0M372 955h0M378 952h0M383 954h0M201 651h0M287 917h0M294 919h0M297 925h0M152 793h0M285 974h0M289 978h0M288 985h0M447 817h0M448 829h0M129 666h0M136 667h0M288 633h0M435 892h0M243 729h0M290 870h0M283 881h0M152 761h0M153 755h0M100 807h0M109 802h0M114 806h0M120 806h0M286 911h0M160 685h0M165 690h0M170 686h0M181 681h0M129 709h0M458 739h0M290 664h0M275 916h0M149 688h0M161 684h0M167 687h0M262 661h0M265 652h0M423 933h0M306 946h0M299 944h0M294 949h0M432 766h0M296 656h0M214 666h0M197 658h0M190 657h0M99 903h0M96 893h0M340 930h0M334 939h0M364 738h0M373 746h0M383 743h0M157 630h0M197 878h0M203 874h0M334 702h0M330 697h0M66 626h0M67 620h0M217 972h0M224 968h0M231 970h0M235 961h0M360 869h0M266 828h0M386 811h0M375 807h0M413 963h0M403 704h0M456 968h0M467 972h0M473 973h0M289 647h0M298 670h0M342 695h0M87 827h0M93 832h0M104 853h0M98 855h0M312 960h0M315 966h0M311 971h0M318 980h0M407 803h0M415 804h0M417 799h0M226 930h0M213 943h0M460 897h0M466 902h0M357 938h0M363 941h0M370 931h0M375 929h0M255 770h0M251 760h0M255 755h0M138 688h0M131 684h0M280 882h0M393 911h0M397 914h0M369 704h0M372 718h0M314 805h0M308 795h0M256 889h0M261 894h0M426 783h0M344 835h0M336 835h0M363 730h0M361 723h0M317 907h0M433 820h0M431 825h0M426 828h0M260 909h0M276 901h0M386 644h0M384 656h0M362 945h0M414 667h0M411 662h0M411 655h0M329 895h0M327 887h0M320 887h0M322 813h0M327 817h0M329 823h0M413 897h0M168 772h0M172 767h0M411 883h0M418 882h0M445 918h0M365 631h0M373 640h0M381 640h0M384 646h0M117 869h0M111 873h0M417 838h0M422 834h0M420 828h0M248 899h0M255 901h0M316 634h0M215 642h0M235 953h0M375 641h0M365 631h0M404 851h0M194 940h0M199 936h0M386 937h0M249 866h0M183 769h0M309 918h0M304 914h0M426 737h0M315 915h0M382 646h0M391 641h0M244 791h0M178 675h0M176 664h0M169 663h0M410 846h0M172 704h0M185 699h0M325 863h0M323 868h0M316 867h0M430 772h0M439 763h0M158 764h0M152 762h0M99 729h0M93 726h0M151 860h0M162 852h0M367 843h0M367 836h0M360 834h0M302 715h0M216 976h0M211 981h0M204 980h0M202 975h0M458 771h0M457 763h0M453 758h0M343 804h0M337 802h0M331 803h0M330 814h0M187 668h0M183 673h0M176 672h0M174 678h0M441 649h0M353 660h0M336 667h0M318 935h0M329 949h0M335 951h0M160 602h0M168 597h0M297 663h0M298 673h0M87 676h0M333 954h0M337 959h0M337 965h0M125 705h0M118 708h0M117 703h0M293 889h0M290 883h0M417 970h0M404 970h0M184 924h0M190 921h0M429 727h0M435 728h0M438 733h0M433 694h0M174 1023h0M179 1018h0M176 1009h0M177 1003h0M139 969h0M132 978h0M364 680h0M366 674h0M372 673h0M169 771h0M168 779h0M399 894h0M290 713h0M288 718h0M301 705h0M439 642h0M452 638h0M238 987h0M244 990h0M247 995h0M131 985h0M125 988h0M122 994h0M375 772h0M260 702h0M68 826h0M442 761h0M448 762h0M315 785h0M324 795h0M230 876h0M231 870h0M296 725h0M300 729h0M215 777h0M307 914h0M307 920h0M300 922h0M333 938h0M293 776h0M296 770h0M282 912h0M198 944h0M431 953h0M333 660h0M335 672h0M292 810h0"/></defs><use href="#cba" stroke="#3db4b4" stroke-width="6.4" stroke-linecap="round"/><use href="#cba" stroke="#a8eaea" stroke-width="2.56" stroke-linecap="round" transform="translate(-0.96,-0.96)"/>
<defs><path id="rba" d="M107 971h0M106 978h0M307 961h0M307 873h0M407 947h0M395 950h0M375 977h0M216 944h0M135 809h0M150 810h0M333 859h0M344 857h0M342 850h0M109 813h0M163 756h0M178 922h0M170 931h0M395 780h0M391 773h0M424 828h0M317 647h0M80 998h0M398 731h0M110 723h0M431 765h0M165 662h0M215 874h0M385 665h0M449 827h0M240 938h0M312 839h0M126 887h0M158 966h0M79 902h0M364 691h0M88 784h0M118 836h0M115 830h0M106 823h0M72 630h0M72 624h0M82 822h0M79 813h0M435 699h0M436 693h0M430 678h0M141 787h0M410 880h0M414 875h0M397 833h0M108 721h0M278 655h0M170 822h0M302 748h0M141 684h0M310 893h0M255 627h0M78 888h0M142 659h0M202 706h0M234 723h0M240 724h0M307 869h0M297 863h0M379 825h0M378 831h0M372 833h0M232 721h0M234 636h0M268 927h0M277 677h0M418 942h0M349 723h0M234 931h0M462 674h0M257 962h0M254 956h0M138 697h0M137 691h0M127 698h0M298 634h0M187 929h0M92 752h0M128 901h0M120 920h0M173 730h0M101 778h0M425 913h0M386 833h0M337 716h0M328 726h0M218 735h0M359 703h0M356 683h0M182 782h0M155 956h0M417 720h0M439 633h0M440 941h0M445 938h0M294 813h0M393 966h0M301 717h0M166 732h0M236 659h0M244 657h0M109 935h0M71 872h0M333 905h0M333 924h0M404 934h0M262 674h0M257 675h0M236 744h0M358 639h0M123 663h0M396 934h0M390 931h0M392 939h0M161 942h0M355 762h0M388 729h0M161 882h0M87 764h0M451 942h0M454 948h0M140 950h0M298 951h0M206 730h0M164 718h0M358 878h0M352 879h0M346 869h0M453 830h0M277 945h0M254 738h0M401 636h0M94 936h0M191 732h0M445 934h0M285 898h0M370 911h0M359 920h0M311 677h0M154 892h0M150 904h0M382 841h0M375 842h0M234 967h0M238 835h0M414 761h0M308 951h0M207 814h0M247 711h0M385 914h0M272 626h0M192 956h0M263 675h0M257 673h0M165 719h0M170 714h0M176 714h0M180 708h0M337 725h0M107 965h0M101 966h0M100 972h0M123 763h0M152 821h0M157 816h0M206 838h0M105 819h0M356 680h0M383 705h0M376 740h0M183 717h0M184 700h0M348 754h0M337 752h0M218 927h0M425 960h0M182 836h0M247 971h0M458 957h0M465 966h0M354 639h0M178 923h0M191 961h0M173 764h0M190 839h0M342 968h0M345 975h0M204 886h0M397 762h0M406 777h0M366 881h0M380 889h0M200 642h0M345 934h0M343 940h0M96 846h0M335 688h0M92 812h0M308 962h0M375 805h0M330 634h0M228 832h0M198 796h0M202 801h0M242 947h0M236 938h0M316 945h0M308 936h0M243 917h0M387 778h0M392 792h0M378 652h0M385 652h0M114 961h0M264 741h0M312 596h0M269 973h0M127 675h0M94 662h0M99 665h0M72 894h0M82 866h0M109 691h0M99 687h0M219 970h0M187 938h0M257 902h0M72 814h0M282 717h0M287 719h0M396 878h0M230 839h0M198 944h0M205 942h0M367 656h0M78 743h0M137 688h0M324 956h0M412 602h0M85 878h0M402 966h0M396 959h0M123 927h0M125 933h0M120 938h0M318 882h0M362 683h0M358 679h0M264 795h0M272 802h0M181 872h0M183 878h0M172 966h0M180 785h0M298 878h0M382 748h0M342 894h0M132 913h0M129 919h0M130 926h0M343 850h0M355 880h0M120 807h0M117 795h0M137 945h0M431 706h0M97 953h0M195 781h0M346 866h0M149 684h0M149 689h0M143 699h0M369 947h0M80 816h0M190 936h0M396 911h0M349 621h0M188 905h0M167 856h0M162 861h0M391 679h0M398 697h0M278 638h0M275 644h0M430 883h0M169 727h0M229 651h0M84 656h0M273 860h0M403 910h0M75 913h0M85 812h0M204 920h0M169 882h0M246 741h0M248 735h0M253 731h0M103 850h0M129 820h0M251 822h0M255 818h0M261 828h0M422 659h0M383 961h0M206 653h0M287 659h0M147 790h0M153 800h0M444 811h0M283 637h0M276 637h0M438 898h0M239 725h0M103 802h0M284 905h0M132 719h0M133 713h0M279 667h0M391 799h0M385 803h0M267 658h0M258 650h0M289 654h0M208 663h0M90 888h0M222 640h0M228 635h0M229 628h0M370 740h0M151 627h0M123 858h0M75 636h0M379 811h0M296 657h0M348 699h0M312 976h0M424 798h0M220 933h0M453 891h0M369 937h0M261 768h0M275 879h0M365 711h0M308 802h0M303 792h0M432 781h0M347 825h0M334 842h0M364 716h0M306 899h0M306 905h0M311 909h0M280 943h0M267 904h0M262 903h0M270 904h0M391 639h0M306 934h0M153 955h0M450 916h0M444 807h0M370 634h0M410 836h0M371 918h0M217 636h0M218 647h0M133 756h0M228 952h0M197 951h0M193 947h0M204 940h0M177 771h0M311 925h0M303 907h0M308 907h0M385 640h0M237 791h0M178 700h0M143 751h0M211 953h0M213 947h0M155 854h0M165 847h0M364 848h0M309 716h0M193 665h0M360 948h0M364 953h0M360 662h0M348 663h0M318 942h0M162 597h0M172 601h0M71 806h0M301 669h0M100 672h0M102 665h0M331 968h0M124 702h0M114 697h0M413 966h0M406 965h0M57 890h0M53 886h0M54 879h0M177 913h0M420 718h0M427 720h0M438 694h0M377 677h0M162 781h0M400 901h0M311 711h0M450 644h0M459 639h0M254 993h0M371 767h0M266 702h0M148 654h0M142 654h0M312 796h0M317 798h0M223 778h0M332 944h0M302 769h0M306 775h0M273 915h0M332 677h0"/></defs><use href="#rba" stroke="#dc1c1c" stroke-width="6" stroke-linecap="round"/><use href="#rba" stroke="#ff9a9a" stroke-width="2.4" stroke-linecap="round" transform="translate(-0.9,-0.9)"/>
<defs><path id="wba" d="M233 722h0M243 716h0M253 720h0M114 962h0M307 950h0M303 954h0M149 752h0M157 751h0M147 683h0M221 969h0M388 954h0M148 715h0M213 939h0M141 820h0M330 854h0M115 822h0M103 813h0M180 938h0M203 677h0M199 682h0M192 682h0M402 768h0M407 771h0M228 916h0M317 653h0M380 811h0M373 810h0M426 923h0M424 917h0M101 996h0M95 999h0M92 993h0M394 736h0M104 724h0M171 663h0M175 646h0M220 870h0M377 668h0M373 663h0M80 755h0M254 864h0M262 853h0M354 928h0M352 934h0M383 745h0M315 904h0M138 750h0M136 756h0M246 942h0M317 833h0M313 847h0M307 850h0M306 856h0M122 875h0M179 959h0M165 968h0M143 689h0M298 771h0M293 766h0M297 760h0M123 651h0M113 656h0M78 788h0M82 782h0M242 694h0M237 716h0M82 626h0M79 632h0M302 965h0M297 969h0M106 645h0M86 827h0M84 816h0M433 686h0M394 844h0M399 839h0M97 716h0M104 715h0M110 764h0M176 825h0M308 752h0M142 695h0M254 633h0M267 628h0M291 742h0M72 887h0M86 648h0M92 645h0M142 671h0M197 704h0M203 713h0M210 715h0M214 720h0M250 724h0M155 1029h0M424 868h0M437 867h0M386 836h0M229 716h0M161 797h0M146 884h0M150 879h0M265 923h0M113 954h0M106 944h0M92 823h0M411 940h0M430 944h0M435 948h0M150 642h0M150 652h0M226 936h0M310 754h0M305 754h0M322 658h0M331 665h0M68 729h0M70 722h0M254 817h0M271 828h0M129 691h0M289 648h0M428 654h0M188 936h0M199 928h0M286 854h0M280 858h0M274 856h0M89 921h0M88 933h0M83 743h0M164 864h0M162 857h0M81 852h0M86 842h0M374 775h0M365 765h0M364 758h0M417 912h0M413 917h0M205 700h0M211 695h0M216 685h0M397 824h0M368 792h0M326 720h0M271 723h0M102 942h0M105 935h0M109 902h0M290 764h0M302 767h0M304 761h0M352 686h0M187 782h0M461 893h0M85 940h0M78 948h0M72 745h0M416 713h0M445 635h0M143 709h0M133 717h0M296 825h0M388 958h0M388 964h0M303 710h0M214 657h0M172 729h0M171 719h0M288 909h0M233 655h0M117 932h0M357 834h0M73 859h0M69 865h0M331 911h0M403 916h0M377 840h0M236 730h0M372 884h0M326 879h0M164 946h0M154 942h0M176 735h0M168 746h0M162 758h0M313 963h0M344 758h0M388 723h0M157 877h0M81 768h0M460 949h0M287 930h0M305 938h0M439 842h0M133 950h0M301 958h0M155 859h0M155 854h0M166 713h0M347 875h0M341 866h0M270 942h0M286 953h0M250 752h0M256 750h0M327 681h0M323 675h0M117 920h0M121 916h0M106 934h0M91 941h0M94 947h0M434 934h0M275 893h0M364 914h0M349 721h0M347 709h0M304 676h0M148 892h0M198 768h0M198 756h0M262 898h0M263 905h0M268 909h0M240 967h0M229 970h0M229 976h0M237 846h0M241 841h0M229 787h0M234 792h0M231 799h0M315 968h0M312 962h0M314 955h0M444 918h0M221 909h0M208 820h0M200 813h0M385 881h0M389 870h0M444 957h0M77 664h0M167 896h0M163 891h0M261 624h0M190 961h0M143 946h0M143 940h0M194 951h0M359 670h0M346 667h0M308 921h0M159 718h0M329 716h0M454 759h0M74 873h0M82 863h0M321 880h0M146 634h0M192 642h0M188 646h0M297 798h0M291 798h0M164 817h0M211 841h0M283 845h0M282 839h0M358 674h0M360 686h0M366 686h0M320 849h0M331 849h0M379 719h0M376 714h0M387 710h0M381 753h0M180 705h0M343 743h0M348 747h0M342 757h0M141 927h0M151 921h0M155 910h0M264 951h0M223 903h0M223 898h0M162 870h0M432 959h0M411 960h0M247 966h0M221 648h0M208 659h0M206 665h0M422 984h0M474 959h0M241 760h0M233 770h0M239 775h0M157 880h0M156 887h0M354 633h0M178 936h0M180 943h0M204 957h0M179 760h0M185 842h0M248 693h0M242 921h0M187 616h0M184 610h0M199 722h0M331 983h0M386 956h0M379 965h0M294 720h0M290 725h0M208 882h0M198 896h0M400 768h0M396 856h0M400 850h0M330 893h0M324 883h0M317 882h0M376 886h0M386 885h0M211 646h0M270 693h0M272 699h0M277 703h0M276 746h0M274 741h0M269 738h0M189 880h0M457 663h0M462 659h0M323 688h0M387 671h0M359 821h0M354 824h0M315 962h0M90 789h0M86 793h0M85 800h0M130 808h0M160 751h0M218 826h0M222 831h0M203 807h0M209 809h0M362 731h0M356 727h0M351 730h0M393 779h0M114 842h0M122 956h0M125 962h0M275 741h0M269 744h0M161 658h0M158 715h0M152 715h0M275 977h0M128 681h0M116 889h0M121 894h0M92 656h0M105 677h0M65 895h0M76 867h0M105 686h0M446 801h0M181 937h0M201 753h0M250 901h0M78 810h0M438 763h0M432 766h0M168 715h0M134 693h0M143 686h0M390 957h0M96 801h0M103 798h0M97 788h0M218 868h0M330 951h0M359 956h0M354 951h0M355 939h0M358 934h0M392 959h0M404 977h0M296 653h0M392 954h0M125 920h0M223 905h0M228 910h0M236 911h0M317 875h0M324 886h0M331 886h0M270 796h0M388 778h0M385 791h0M96 736h0M90 739h0M110 813h0M176 774h0M295 872h0M93 801h0M187 961h0M189 954h0M386 754h0M416 908h0M352 863h0M346 860h0M410 654h0M116 801h0M131 945h0M152 936h0M329 898h0M102 950h0M362 902h0M201 781h0M206 791h0M143 692h0M365 942h0M77 822h0M108 919h0M184 946h0M183 939h0M75 705h0M409 911h0M188 899h0M191 894h0M196 892h0M161 754h0M156 759h0M168 767h0M169 871h0M394 686h0M325 737h0M282 651h0M189 924h0M234 641h0M187 930h0M400 919h0M395 936h0M388 938h0M101 657h0M319 941h0M314 932h0M81 807h0M193 926h0M168 894h0M161 883h0M233 653h0M81 851h0M93 847h0M97 851h0M132 825h0M151 706h0M157 706h0M168 711h0M284 913h0M291 664h0M291 655h0M159 801h0M287 967h0M449 807h0M444 823h0M445 899h0M284 875h0M286 888h0M156 766h0M177 688h0M462 744h0M285 669h0M277 921h0M155 688h0M419 937h0M423 774h0M430 772h0M202 663h0M93 899h0M222 647h0M339 935h0M327 939h0M324 944h0M380 748h0M208 877h0M323 695h0M119 864h0M129 856h0M73 629h0M236 967h0M359 862h0M268 834h0M411 958h0M412 970h0M401 710h0M459 964h0M461 974h0M294 651h0M300 663h0M220 940h0M459 891h0M250 767h0M391 905h0M376 706h0M366 716h0M258 883h0M349 830h0M438 816h0M148 939h0M143 943h0M137 944h0M280 937h0M275 946h0M270 898h0M264 902h0M280 650h0M284 656h0M388 651h0M369 947h0M372 941h0M406 900h0M402 894h0M306 927h0M212 658h0M219 659h0M224 665h0M160 955h0M404 880h0M449 909h0M443 906h0M437 809h0M114 862h0M259 896h0M259 888h0M256 883h0M373 912h0M379 909h0M320 630h0M131 763h0M125 767h0M124 773h0M238 958h0M368 638h0M360 628h0M400 845h0M389 930h0M249 873h0M242 874h0M171 770h0M186 765h0M306 902h0M432 741h0M425 731h0M314 909h0M320 918h0M180 669h0M410 840h0M436 769h0M149 756h0M94 720h0M98 714h0M152 866h0M184 971h0M179 967h0M173 967h0M185 785h0M179 782h0M355 838h0M120 827h0M126 826h0M129 832h0M135 831h0M217 969h0M327 808h0M362 941h0M446 649h0M447 642h0M386 685h0M379 685h0M341 661h0M325 944h0M178 598h0M76 811h0M291 663h0M301 680h0M86 683h0M94 671h0M398 972h0M178 920h0M428 698h0M444 697h0M238 670h0M240 676h0M181 1012h0M138 976h0M133 986h0M127 988h0M406 902h0M312 723h0M314 717h0M305 711h0M443 647h0M237 981h0M63 817h0M69 820h0M63 830h0M311 790h0M294 920h0M327 950h0M287 775h0M277 911h0M203 948h0M201 939h0M436 957h0M331 655h0M330 666h0M298 812h0M304 810h0"/></defs><use href="#wba" stroke="#a8a8a8" stroke-width="4.6" stroke-linecap="round"/><use href="#wba" stroke="#f4f4f4" stroke-width="1.84" stroke-linecap="round" transform="translate(-0.69,-0.69)"/></g>
<circle cx="160.67" cy="320.62" r="3.72" fill="url(#na_g)"/>
<circle cx="152.96" cy="326.79" r="3.1" fill="url(#na_g)" opacity="0.55"/>
<circle cx="113.11" cy="336.04" r="4.65" fill="url(#na_g)"/>
<circle cx="87.92" cy="342.21" r="4.65" fill="url(#na_g)"/>
<circle cx="68.12" cy="334.5" r="3.1" fill="url(#na_g)" opacity="0.55"/>
<circle cx="201.29" cy="334.5" r="4.03" fill="url(#na_g)"/>
<circle cx="205.66" cy="343.75" r="2.79" fill="url(#na_g)"/>
<circle cx="107.46" cy="362.78" r="3.41" fill="url(#na_g)" opacity="0.55"/>
<circle cx="171.72" cy="371.77" r="2.79" fill="url(#na_g)" opacity="0.55"/>
<circle cx="62.98" cy="378.2" r="4.03" fill="url(#na_g)"/>
<circle cx="73.26" cy="387.46" r="4.34" fill="url(#na_g)"/>
<circle cx="92.54" cy="388.48" r="4.03" fill="url(#na_g)" opacity="0.55"/>
<circle cx="74.55" cy="396.2" r="3.72" fill="url(#na_g)"/>
<circle cx="73.26" cy="401.85" r="4.03" fill="url(#na_g)"/>
<circle cx="128.53" cy="391.05" r="3.1" fill="url(#na_g)" opacity="0.55"/>
<circle cx="138.82" cy="394.91" r="2.48" fill="url(#na_g)"/>
<circle cx="149.1" cy="400.05" r="2.48" fill="url(#na_g)"/>
<circle cx="139.33" cy="377.69" r="2.79" fill="url(#na_g)" opacity="0.55"/>
<circle cx="190.23" cy="393.62" r="2.79" fill="url(#na_g)" opacity="0.55"/>
<circle cx="54.76" cy="405.96" r="3.1" fill="url(#na_g)"/>
<circle cx="93.06" cy="411.11" r="4.03" fill="url(#na_g)"/>
<circle cx="119.54" cy="418.3" r="2.36" fill="url(#na_g)" opacity="0.55"/>
<circle cx="192.8" cy="411.62" r="2.79" fill="url(#na_g)"/>
<circle cx="203.86" cy="412.9" r="3.41" fill="url(#na_g)"/>
<circle cx="215.94" cy="420.1" r="3.1" fill="url(#na_g)" opacity="0.55"/>
<circle cx="218.51" cy="434.76" r="3.72" fill="url(#na_g)"/>
<circle cx="136.25" cy="433.73" r="4.65" fill="url(#na_g)"/>
<circle cx="162.47" cy="427.04" r="3.1" fill="url(#na_g)" opacity="0.55"/>
<circle cx="177.38" cy="442.47" r="4.03" fill="url(#na_g)" opacity="0.55"/>
<circle cx="200" cy="432.19" r="3.1" fill="url(#na_g)"/>
<circle cx="159.38" cy="437.33" r="2.36" fill="url(#na_g)"/>
<circle cx="110.54" cy="431.67" r="2.79" fill="url(#na_g)" opacity="0.55"/>
<circle cx="125.96" cy="447.61" r="4.34" fill="url(#na_g)"/>
<circle cx="155.53" cy="450.95" r="4.65" fill="url(#na_g)"/>
<circle cx="116.97" cy="450.18" r="3.41" fill="url(#na_g)" opacity="0.55"/>
<circle cx="97.69" cy="446.58" r="3.41" fill="url(#na_g)"/>
<circle cx="64.27" cy="447.87" r="3.1" fill="url(#na_g)"/>
<circle cx="65.55" cy="457.89" r="2.79" fill="url(#na_g)" opacity="0.55"/>
<circle cx="88.69" cy="453.01" r="2.48" fill="url(#na_g)" opacity="0.55"/>
<circle cx="107.97" cy="461.23" r="2.48" fill="url(#na_g)"/>
<circle cx="92.54" cy="477.43" r="3.1" fill="url(#na_g)"/>
<circle cx="111.83" cy="477.94" r="2.79" fill="url(#na_g)" opacity="0.55"/>
<circle cx="57.84" cy="483.08" r="3.1" fill="url(#na_g)"/>
<circle cx="35.22" cy="499.79" r="4.65" fill="url(#na_g)"/>
<circle cx="118.77" cy="385.91" r="2.17" fill="url(#na_g)" opacity="0.55"/>
<rect x="22.6" y="296" width="217.8" height="219.2" fill="none" stroke="#b0b0e4" stroke-width="1.5"/>
<line x1="22.6" y1="534" x2="54.6" y2="566" stroke="#8a8ac8" stroke-width="0.9"/>
<line x1="237.8" y1="534" x2="205.8" y2="566" stroke="#8a8ac8" stroke-width="0.9"/>
<line x1="22.6" y1="750.6" x2="54.6" y2="718.6" stroke="#8a8ac8" stroke-width="0.9"/>
<line x1="237.8" y1="750.6" x2="205.8" y2="718.6" stroke="#8a8ac8" stroke-width="0.9"/>
<g transform="scale(.5)" fill="none"><path d="M112 1159l2-5M441 1155l-3-4M285 1156l-6-3M407 1306l-2 4M337 1144l0-4M178 1400l-3 4M307 1126l4 2M143 1461l-4-4M126 1475l-3 5M139 1452l6 0M137 1353l1-4M281 1171l3-2M414 1097l4-3M325 1127l-4-4M436 1159l4 0M82 1340l-1-5M236 1093l-3-2M435 1245l1 3M192 1475l3-1M324 1343l-1-3M209 1417l2 5M400 1227l-4 2M351 1314l6 1M383 1441l-1 3M78 1134l2-2M148 1405l3-2M155 1436l3 5M381 1410l0-5M150 1422l-1-6M181 1182l3-4M294 1113l-1 3M74 1306l1 4M380 1152l-4 0M298 1280l-4 2M202 1144l-5-2M331 1396l3 4M287 1087l2-5M246 1332l-4-4M369 1452l-4 4M372 1243l4-1M273 1451l5 0M116 1315l3 1M124 1343l-5 1M89 1446l-3 4M373 1315l2 3M288 1373l2-6M160 1188l-6 1M376 1188l0 5M134 1153l-5 1M213 1106l2-5M335 1397l2-5M423 1089l-4 4M81 1439l4 3M423 1326l-5 0M158 1364l3 0M414 1142l-4 1M269 1135l3 0M295 1124l6-2M229 1117l-3-1M120 1389l-4 1M202 1120l-3 1M419 1106l-3 4M131 1190l1-5M282 1409l2 3M208 1191l-2-4M402 1335l1-5M154 1085l-5 1M161 1346l-3-2M221 1128l6 0M244 1433l4-4M328 1195l-5-3M270 1227l4 3M385 1186l-3-2M90 1388l0 4M221 1231l5 0M363 1163l-4 3M199 1404l-3 4M285 1423l3 0M178 1116l-1-3M177 1331l3-3M157 1231l5-2M401 1411l3 4M128 1119l3-2M168 1458l-1 4M395 1476l2-4M334 1184l-5-3M128 1164l-2 3M295 1429l-1-3M446 1370l-5 2M393 1138l-2 5M131 1402l-5 1M362 1209l1 3M254 1351l-5-2M179 1240l0-4M156 1473l0-3M213 1097l5 3M306 1181l-3-4M395 1320l5-1M320 1120l-1-4M258 1456l4-5M150 1208l-2-4M172 1391l1-4M154 1157l2-4M331 1377l4-2M403 1135l-4 2M175 1417l0 3M398 1111l-3 3M426 1157l-1-4M382 1112l5 1M445 1176l1-5M432 1366l2-5M132 1152l1 5M133 1195l-1 5M402 1213l1-3M400 1258l-3-4M71 1463l-2 4M104 1449l3 1M246 1104l1 3M454 1368l-3-4M87 1364l3-4M124 1149l2-2M238 1451l0 4M397 1299l3-2M208 1215l-5 0M195 1396l4 0M141 1133l-1-6M332 1472l3 2M296 1097l4-2M206 1452l2 3M95 1262l4-2M132 1399l-3-1M178 1152l-3-1M445 1415l-5-2M99 1333l5 0M411 1378l-5-2M238 1231l0-4M370 1290l3-1M412 1251l-6 0M175 1482l0 6M112 1448l-2-6M301 1103l1-4M401 1089l3 5M423 1445l-3 0M80 1474l3 4M136 1197l5-3M338 1453l5-2M395 1290l6 0M320 1451l-3 1M67 1387l5 4M323 1190l-6 0M120 1139l2-3M95 1259l0-4M133 1360l-4-1M74 1346l4 1M306 1162l2-6M403 1154l3-3M180 1137l0-4M277 1350l-4-1M266 1115l1 5M116 1219l5 3M399 1176l2 3M385 1451l5-4M430 1114l-4 0M314 1222l3-3M73 1381l3 3M87 1305l5-1M367 1292l4 1M401 1384l0-4M325 1453l-2-5M411 1275l3-4M302 1221l-1-5M179 1334l-2 5M133 1332l-3 1M175 1183l6-3M305 1318l-4 3M403 1432l6 1M113 1352l0 5M232 1196l0-5M276 1458l-4 2M96 1431l-5 1M183 1105l-4 4M290 1421l3 2M77 1476l-2 3M142 1109l6-1M126 1116l-2 3M409 1118l-3-1M367 1278l4-4M321 1105l2 5M142 1347l0 3M94 1281l3 0M415 1150l3 2M102 1398l4 0M162 1470l1 4M311 1212l2-3M399 1396l0-5M71 1214l1-4M102 1099l2-3M98 1433l3 1M164 1177l-2-4M84 1236l1 5M366 1249l-5-2M299 1132l-5 0M80 1475l5-3M319 1189l-2 3M348 1437l6 1M407 1407l3 3M238 1473l-6 1M131 1154l-6-1M183 1466l1-4M219 1089l3 3M307 1121l0-6M411 1191l3-3M275 1453l6-2M438 1237l5-3M210 1221l-5 0M416 1146l-5 1M429 1395l-4-4M449 1420l-6-1M295 1134l1-3M333 1122l-5 4M111 1334l2-3M412 1388l-1-6M240 1247l-1-6M78 1347l0-6M385 1232l2-3M309 1095l1 3M352 1365l-1-5M77 1495l4-4M92 1233l5 1M422 1329l-4-2M135 1298l3 2M310 1271l1-4M121 1314l-5-3M77 1450l-1-4M294 1423l-2 4M390 1284l-6-3M309 1241l-2 2M148 1307l3-5M325 1400l0 6M82 1428l-4-4M385 1125l0-6M352 1460l4-3M360 1108l4-2M387 1235l-4-3M209 1385l-6 2M181 1109l4 2M183 1472l-2 2M426 1103l-2 2M273 1131l4-1M100 1389l-5 2M115 1378l0 5M423 1275l1-5M154 1134l-3 4M283 1440l5 0M223 1255l-5-2M151 1432l-3 2M347 1448l-2-2M124 1438l3 0M369 1227l-6-2M185 1448l2-5M422 1204l2 3M413 1168l-4 2M131 1315l3 0M440 1138l-3-1M137 1224l-1-3M412 1204l-2 3M149 1093l-1-6M137 1246l5 0M330 1186l-4-4M375 1260l1-3M382 1224l-4 0M422 1424l-3 3M264 1089l-2-5M116 1225l6-3M155 1122l2 5M78 1252l2 6M368 1382l4-4M157 1380l0 5M444 1423l6 3M414 1301l2 4M67 1298l4-2M363 1361l3-3M109 1354l-3 0M249 1466l-3 0M92 1329l4 1M284 1317l2 5M219 1374l-1 3M358 1099l-4-3M357 1330l5 1M327 1352l-6-1M84 1277l4 2M128 1204l-5 2M173 1368l4 0M345 1463l-6 1M159 1370l2-5M126 1117l-3-2M102 1199l1-6M303 1138l-6-1M106 1422l-1-3M275 1405l1-6M391 1395l2-4M253 1112l-3-5M265 1398l-3-3M293 1302l-4 0M307 1088l4 1M181 1447l-5 1M404 1090l0-6M378 1265l-3-4M87 1253l3 3M151 1222l-1-6M307 1409l3 5M395 1097l-3 3M240 1318l0 3M266 1454l-2 3M145 1279l1 5M81 1463l-3-1M353 1102l-5-1M263 1270l4-3M71 1302l3-2M181 1123l4-5M359 1220l-4 2M107 1300l2-3M81 1411l-6 0M147 1183l1-5M403 1148l1-4M148 1250l-5-4M141 1145l-3 3M248 1427l0-6M136 1133l-2-2M381 1420l-4 4M371 1441l1 3M290 1407l5 4M226 1112l-4 1M95 1377l4-1M207 1240l2 4M294 1114l2 5M427 1439l4-1M93 1194l-1-4M332 1292l-6 0M159 1455l4-2M415 1405l-1-6M297 1162l1-3M359 1192l1 4M248 1151l5 1M326 1403l-2-3M225 1091l4 3M181 1125l-3 4M401 1149l-4-4M307 1328l-3-2M424 1394l6-1M79 1185l3 1M406 1165l-5 3M74 1116l4-5M199 1455l-3 1M403 1418l6 0M145 1126l1-4M119 1110l-4-3M187 1415l4 0M69 1461l4-5M404 1286l4-5M91 1132l5 2M413 1404l-5-2M334 1151l-3 1M138 1225l-4-3M335 1480l-1-6M435 1332l-4 1M192 1497l-2 3M429 1227l6 0M241 1132l-3-5M387 1196l-5 0M83 1238l-3-1M98 1091l-5 0M144 1170l6 3M394 1277l0-4M377 1143l6-2M165 1407l1 4M72 1265l3-2M117 1227l5-2M239 1321l1-3M269 1126l4 1M93 1432l-4-4M153 1355l-5 1M49 1490l6 0M176 1252l-1 4M81 1172l4 1M269 1259l-6 0M374 1301l-3-3M354 1424l-4 0M440 1119l5-2M103 1114l6-2M315 1160l-3 3M437 1158l0 4M395 1174l4 3M213 1480l-1 4M310 1096l2-4M439 1245l-4-1M175 1098l1-3M428 1126l-3-3M364 1253l-6 0M426 1287l-5-3M223 1479l-1-6M222 1320l0 6M417 1232l5-1M281 1128l2 5M194 1152l-1-4M428 1403l3-5M219 1457l1-4M236 1444l2-3M291 1308l5-3M404 1268l-3-2M289 1425l-4 2M108 1426l3-5M173 1267l5 1M422 1145l-4 2M378 1369l6 1M205 1438l5 4M207 1113l1 4M244 1331l0-3M339 1418l4 4M421 1307l-2-3M389 1094l-3-2M186 1099l-3-5M425 1298l-5-3M260 1421l4 0M277 1254l-3 2M242 1405l3 3M407 1092l-1-4M79 1314l1-5M198 1407l-4-3M362 1268l-3-2M411 1324l3 5M255 1469l-1-6M336 1126l-3 3M177 1299l-3-1M81 1284l-2-6M182 1364l-3 2M167 1213l3 2M222 1454l-4-2M285 1469l2 3M409 1433l1 4M313 1292l-6 0M280 1137l-3-1M304 1216l4 0M132 1323l-4-1M146 1445l3-6M401 1163l-3-4M205 1138l4-4M253 1460l-1 4M367 1415l3-2M244 1434l-2-4M74 1275l5 0M334 1369l5-1M433 1200l-1 5M74 1242l0 3M113 1256l3 2M439 1313l-3-4M426 1398l-2 6M256 1317l6 0M371 1146l5-3M262 1348l-2 4M281 1160l-4-4M418 1403l3 4M172 1319l2-3M269 1081l4 3M251 1123l0 4M295 1475l0-4M119 1352l-2 3M278 1283l-3 1M96 1430l2-2M110 1415l6 1M334 1440l0-6M271 1416l3-2M141 1441l-4-1M157 1247l-4-5M211 1159l-5 2M434 1417l-1 3M275 1166l1 4M354 1445l2-6M228 1398l-1 4M422 1274l3-2M425 1131l4 2M421 1356l-2-3M220 1241l6-1M80 1339l1 3M278 1401l4 1M448 1228l-4-5M74 1126l-3 3M361 1116l0-4M257 1142l6-1M418 1113l-4-3M395 1388l-4 1M355 1151l3-3M108 1442l-4 1M125 1403l4 3M216 1401l3 0M74 1094l3-4M386 1178l2 4M437 1391l-3-3M418 1471l-4 0M336 1101l2 5M367 1177l5 3M386 1180l3 2M160 1114l-4-2M107 1297l-4 1M429 1114l5 1M254 1395l6 2M429 1321l2-3M421 1461l-5-1M325 1439l-4-1M200 1452l3 4M160 1449l2 4M102 1444l-3-5M82 1451l-3 0M227 1133l-2 3M205 1336l3 0M185 1463l-3-2M139 1385l6 0M87 1091l3-4M236 1462l-4 2M307 1394l-3-3M263 1114l-6-2M247 1145l1-3M417 1127l-3 1M108 1466l3-3M290 1410l-4-2M114 1231l3 1M429 1226l3 2M416 1306l-2-6M98 1257l5-3M302 1222l-4 1M433 1327l4 0M358 1397l2 4M98 1218l1-3M74 1412l-3 1M428 1204l3 5M220 1464l3-2M424 1360l-3-2M170 1480l-1 4M316 1420l-3 4M310 1397l-3 5M417 1366l5-3M159 1173l-3-1M92 1446l-3-1M289 1158l-3-2M122 1369l-4 4M95 1268l2 4M169 1492l-3 5M412 1314l2 4M123 1338l-4 5M161 1361l1 3M269 1088l5 3M201 1145l3-4M239 1466l4 2M106 1457l1 3M420 1416l4 2M272 1220l-1 4M312 1477l-4 0M432 1288l-1-6M66 1381l2 3M213 1183l-5-3M91 1109l-5 3M442 1144l4 3M265 1268l0-5M243 1392l-1-5M281 1437l3 4M159 1216l-3 2M69 1217l2 3M288 1124l2-6M427 1288l-5 2M356 1375l-3 5M292 1198l0 3M111 1482l4-1M178 1133l0-6M409 1388l6-1M174 1266l-4 4M89 1467l-3 3M433 1398l0-5M216 1358l-3 2M84 1435l1-6M408 1425l-5 0M317 1090l3 3M325 1422l3-4M277 1141l-4 3M416 1200l4-5M144 1232l2 4M425 1249l-3 0M248 1304l0 6M406 1417l1-5M329 1466l0-6M406 1342l2-2M147 1161l1 5M463 1130l-1 5M193 1386l-4-2M358 1461l-3 0M372 1248l4-1M417 1099l6-2M376 1248l3-1M150 1212l-4 2M165 1396l5-4M119 1194l-4 2M275 1086l6 1M420 1353l3 2M88 1326l-3-3M165 1107l3 4M319 1181l-3 2M313 1087l0-5M282 1419l-4 0M110 1207l-5 0M346 1194l-3-1M419 1349l2 2M403 1089l2 6M447 1295l3 2M192 1447l1 3M280 1159l5-2M266 1317l-5 3M70 1406l5 2M400 1392l1 6M269 1464l5 3M351 1472l-5 1M415 1463l-6 1M225 1402l3 0M390 1242l-2 6M403 1220l-4-5M80 1325l-5-3M368 1452l0 4M387 1419l-3-2M126 1423l0 4M322 1151l1-5M88 1412l-3-2M73 1321l1-3M154 1324l5-3M129 1453l-2 4M403 1219l6 3M243 1406l-2 4M288 1109l3-4M334 1450l3-3M417 1358l0-3M381 1369l1 4M71 1163l1-3M332 1161l4 0M397 1239l6-1M170 1200l0-3M169 1135l-1-3M88 1296l-1-3M435 1443l-3 3M394 1469l1 3M107 1239l-5 2M99 1316l-3-1M407 1325l-5 4M71 1162l4-1M436 1431l6-1M310 1434l5 1M324 1430l-1 5M319 1177l3-5M356 1289l-4-1M137 1326l0 3M226 1091l3 0M183 1302l-2 3M399 1459l-1 4M366 1199l-5-3M336 1319l-3 2M370 1114l-1-4M301 1254l-3 2M367 1374l-2 3M223 1400l-4 4M75 1477l3 3M163 1200l4 0M154 1107l4 2M153 1112l-2-2M263 1199l4 0M423 1211l3-3M321 1462l2 3M407 1273l-2-3M375 1223l2-4M300 1416l-2-2M349 1220l4-5M171 1445l3 4M69 1197l4 0M222 1463l4 2M129 1176l-4 2M127 1288l-1 3M105 1238l4-4M135 1159l5 1M202 1443l3 3M389 1153l3 3M378 1284l3-3M71 1393l-2 4M390 1155l-3 1M394 1196l0-3M67 1479l2-5M170 1279l5 0M366 1411l-5 3M397 1163l3-3M357 1367l-3-1M202 1163l-2 3M74 1168l1-6M182 1160l5-1M183 1098l0-5M249 1467l-2 4M344 1099l1 5M368 1389l-2-3M424 1143l1 4M227 1457l-5-4M138 1146l-6-1M125 1156l-5-1M234 1343l-2-5M240 1444l2 3M318 1379l-2 4M350 1471l-5-1M431 1110l0-5M365 1299l3-3M204 1151l-4 2M108 1157l1 6M363 1249l-2-4M233 1255l-2-3M446 1177l-4-4M375 1442l3 2M96 1154l-5 0M416 1268l-6-2M406 1471l1 6M231 1109l5-3M124 1371l-1-3M227 1111l-4 0M166 1190l-4 2M320 1205l-3-2M318 1385l4-2M352 1217l4 2M399 1235l0 6M308 1145l-3-3M185 1128l-5-2M79 1083l3 1M219 1270l-4 4M187 1131l4 5M335 1103l4 5M417 1196l3 3M302 1396l-4 4M87 1473l-3-5M377 1433l3-5M263 1297l-3-4M324 1415l4-1M377 1089l3-2M96 1421l-5 0M431 1307l5-1M344 1096l-6 0M442 1265l-3-1M394 1384l-3 3M261 1164l-4-4M171 1199l-1-3M218 1177l-3-1M438 1331l-1-5M310 1440l2 3M199 1446l5-3M430 1430l5 0M153 1348l1-6M402 1416l4-1M351 1249l0-6M67 1255l-6 2M123 1418l-3 1M181 1411l-3-5M122 1356l1-3M114 1220l6 2M396 1247l3 3M365 1180l4 1M263 1157l-4 0M95 1227l1-3M380 1443l2-3M105 1163l0 4M289 1424l3 4M165 1250l-5 4M270 1086l-1 3M370 1213l5 0M75 1149l3 2M378 1404l1-3M186 1447l-4 2M413 1199l3-5M86 1315l4 1M90 1134l5 1M246 1461l5 3M262 1102l3 3M222 1178l-4-4M348 1456l-3-2M79 1187l4 0M81 1093l-1 4M372 1189l3-6M322 1099l4 1M323 1168l4 5M110 1254l6 1M290 1247l-4-4M81 1187l3 2M402 1269l-3-2M351 1169l3-4M93 1259l6 1M199 1285l2-6M434 1241l1 3M393 1284l-4-1M431 1325l2 4M238 1197l-1-4M84 1094l6-2M95 1389l1-4M90 1361l2-3M248 1422l0 4M124 1326l-4 0M259 1214l-1-4M194 1470l-5 0M139 1202l-1 3M191 1459l3 1M170 1121l2-5M179 1137l4-1M288 1162l0 4M110 1408l1-3M249 1463l-1 6M112 1307l-1 4M438 1303l-3 3M100 1436l1 6M384 1248l0-3M198 1300l-1 6M184 1236l-5-2M324 1444l4-1M124 1199l3 4M112 1191l-5 1M420 1403l-2 5M398 1414l2 5M352 1161l-6 1M230 1134l-5 1M145 1379l-2-4M309 1142l5-1M360 1321l1 3M102 1125l-2-4M82 1147l6 0M206 1435l3 5M110 1258l-5-3M178 1169l4 5M194 1466l3-2M403 1117l-5-1M128 1371l-4 1M117 1287l-4 2M183 1108l3-3M198 1385l2-4M153 1092l-5-2M404 1361l3-2M252 1464l1-3M331 1378l1-6M423 1168l-2-3M249 1162l-4-2M142 1298l5 1M354 1187l-3 5M255 1413l1-3M145 1389l5 3M144 1268l0 3M79 1202l-1-5M195 1465l-3 2M374 1164l2 3M378 1294l-3 3M187 1462l5 2M110 1389l1 5M103 1424l4 3M202 1163l5-1M339 1414l3 1M151 1449l5-2M98 1177l-2 4M174 1150l-3 5M400 1185l-2 4M437 1322l3 2M206 1392l-3-3M106 1116l0-3M142 1250l5 2M417 1477l-5 2M71 1466l3 2M133 1440l-3-4M209 1453l-6-1M128 1207l-2 3M442 1160l3-2M137 1146l3 1M371 1197l-5 3M159 1406l4 4M206 1468l3 1M293 1422l2-3M66 1112l3 4M374 1150l2 6M145 1112l4 1M401 1161l5-3M281 1123l-4-2M146 1341l-2-3M95 1312l-2 4M232 1180l3 2M373 1160l1 4M360 1355l-2-6M204 1446l-2 3M255 1107l-5 3M389 1261l-5 2M244 1302l-4 5M369 1415l2-4M156 1419l-1-3M368 1362l-6-1M307 1208l-5-2M153 1148l-4-1M165 1401l-1 6M70 1330l3 5M88 1158l-3 5M315 1474l2-4M199 1110l-1-3M357 1219l-1-3M252 1298l3 1M320 1287l0 3M366 1385l-3-4M279 1429l-2 4M107 1413l4 4M113 1440l3-5M384 1430l4-1M209 1214l0-3M437 1128l-6 2M126 1353l-3-6M424 1428l5-2M102 1128l-3 3M73 1426l-4 0M394 1370l-2 3M169 1447l3-5M261 1450l3-4M127 1374l-1 4M183 1161l-4 0M325 1306l-3-2M274 1297l-4 3M113 1388l-3 1M238 1451l-2-4M366 1367l-2-3M214 1391l0 5M371 1104l1-5M97 1291l-4 0M152 1109l6-1M107 1342l0 4M271 1162l-1 6M323 1379l0-6M171 1195l5-1M256 1425l-3 0M59 1211l0 3M162 1471l-1 3M197 1413l4 4M67 1393l-1-4M173 1456l4 3M424 1456l2-4M319 1407l0-5M106 1129l-5-2M308 1160l5 0M207 1232l5-2M449 1130l6 2M418 1243l0-6M76 1186l2-5M321 1246l-6 1M214 1165l-1-3M353 1450l-4-5M416 1352l0 6M164 1434l2-6M232 1461l3 0M343 1372l-1-5M396 1306l-4 0M72 1317l-4 1M264 1465l-2-3M146 1269l2-4M327 1165l4 1M216 1152l-2-2M131 1344l-2 4M303 1458l1 4M407 1391l-4-1M173 1309l-3 1M145 1360l0 5M404 1383l-1-4M282 1175l1-5M422 1235l5 2M292 1203l4 2M380 1201l1 3M276 1446l1 6M169 1122l-2-4M115 1328l-2 3M200 1472l-1-4M229 1169l4 3M219 1167l0-3M447 1387l5 2M420 1151l5 4M97 1427l4-4M114 1313l5-4M221 1203l2-3M139 1260l2-3M408 1350l1-5M81 1245l-3-1M84 1260l4 4M99 1194l4-3M103 1389l5-3M114 1225l3 4M352 1212l-3-3M436 1344l-2-4M137 1465l0-3M441 1168l-4 4M117 1310l2 4M389 1435l-2-4M412 1342l-4 0M136 1168l-5 2M202 1464l-3 0M418 1207l5 3M177 1375l-1 4M160 1167l3-4M261 1126l-1-6M186 1195l2-3M196 1169l1 5M70 1120l3 3M223 1148l-4 5M197 1449l3-5M108 1319l3-4M115 1462l-1-3M98 1420l-2 3M169 1372l4 3M152 1443l-1 6M94 1104l-4-3M388 1473l3 3M74 1356l-1-5M99 1309l5 3M304 1441l3-5M413 1373l4-2M181 1437l4-2M80 1104l-4-3M153 1414l3-1M290 1251l4-1M101 1343l3 5M145 1312l-4-3M365 1186l-1 5M153 1323l5 2M446 1110l-6-2M84 1419l0 4M433 1137l-1-5M291 1171l2-5M376 1122l-4 3M202 1130l-6 2M172 1397l-3-4M252 1406l-5-3M259 1096l-3-4M81 1206l-4-1M158 1364l2-3M422 1291l0-4M411 1261l5 3M185 1420l-4 3M158 1111l5 4M353 1354l-1 5M401 1123l3-1M320 1176l6-1M301 1281l1 3M411 1147l4 3M406 1375l-2 3M284 1442l1 6M128 1110l-4 1M116 1243l4-1M123 1211l-4 0M188 1410l4-2M417 1156l0 4M278 1415l1 5M239 1423l6-2M370 1177l-6 2M302 1407l-5-2M390 1368l3-2M127 1199l-3-1M138 1430l3-3M71 1348l0 6M124 1131l-3 2M409 1190l2 3M394 1155l1-3M225 1400l4 2M103 1328l5-4M448 1448l-2 4M153 1140l3 3M86 1390l-3 3M425 1430l3-2M183 1434l-4 0M84 1410l-5-1M286 1399l0 5M113 1235l-1 5M93 1377l-2 6M167 1408l-5-3M181 1271l4-4M374 1253l-4-4M369 1387l-3 3M317 1421l-3 4M382 1098l5-3M326 1112l-4-3M374 1152l5-1M291 1114l-3-6M62 1212l1 6M70 1296l3-4M304 1393l5-1M374 1456l-3-4M333 1405l4-4M132 1405l-2-6M345 1430l-4-1M262 1160l2 5M107 1122l0-5M183 1465l5 3M286 1175l-3 0M294 1408l6-1M85 1179l-1-4M163 1464l-3-1M369 1411l-3 5M261 1318l3 3M434 1192l-6 1M266 1165l-1-4M413 1246l4 2M98 1464l3-4M161 1103l-4-5M133 1175l-4 3M357 1339l3-1M266 1138l-2-4M273 1350l2-4M99 1279l5 1M374 1337l-2 5M429 1228l-3-2M234 1166l-1 4M409 1329l-1-4M125 1173l-4 1M74 1281l-3 1M413 1165l3 1M99 1253l5-2M215 1153l4-1M402 1183l-3 1M369 1193l-1-5M211 1106l-2-3M114 1449l-1-5M437 1289l2-3M98 1420l5 0M439 1367l-3-1M229 1102l5-4M268 1416l-1-6M163 1135l-5 3M71 1345l2-5M106 1313l4 3M65 1235l3 1M428 1318l3 0M424 1393l1 6M296 1305l3-2M195 1441l3 4M210 1243l-4 3M172 1379l-1 4M100 1411l5 3M161 1385l-4-1M389 1366l2 4M362 1377l-2-5M112 1401l6 1M443 1139l-5-1M126 1300l-3-4M304 1133l-5 1M274 1406l2 6M386 1245l6-2M430 1419l-5 2M98 1261l3-1M253 1223l0 6M98 1387l3-6M248 1401l-5-1M279 1135l-4 4M342 1147l-1-4M403 1385l-4 0M122 1240l-5 2M139 1316l-4 3M283 1318l4-2M415 1364l-2 5M374 1274l0-5M75 1198l3 4M320 1435l5 0M390 1247l3-3M374 1221l-1 5M257 1472l-3-3M423 1325l-3 2M190 1171l2 3M82 1130l4-3M412 1335l-3-2M388 1383l2-3M318 1125l2 2M309 1175l3-4M426 1413l5 3M390 1451l-6-2M116 1252l-3 5M342 1411l1 4M67 1197l-5 1M360 1238l6 2M142 1129l3 2M346 1078l4 3M288 1400l-3-2M165 1307l-2-6M98 1137l4-5M238 1427l-3-3M341 1105l-4-2M313 1436l-5 3M284 1131l0-4M445 1174l0 6M194 1441l3-5M403 1142l5-1M167 1458l-5-4M247 1358l4 1M339 1471l-3-4M293 1149l4 5M384 1453l-2-6M175 1445l4 2M167 1131l3-3M401 1447l4-5M436 1477l4 0M87 1349l4-1M89 1126l0 4M231 1165l2-3M327 1200l-2 4M328 1461l-2 3M286 1142l4-3M152 1383l-3 0M91 1336l-5 2M159 1171l-3-5M256 1484l-3-4M275 1137l3 3M151 1106l0-5M254 1109l3-3M412 1383l2 2M82 1351l-3 2M279 1101l-5-1M313 1274l1 5M152 1361l4 0M139 1131l-1-5M75 1170l5-2M297 1136l-4 3M395 1347l1-3M213 1169l-4-3M302 1480l-2 4M435 1175l5 4M262 1443l4-1M385 1239l1 6M400 1188l2 3M390 1258l-4 5M331 1468l2-4M377 1373l4 4M406 1344l3 5M155 1406l4-3M138 1410l3 5M123 1261l-2-3M163 1169l-3-2M135 1192l-3 6M430 1480l-4 0M293 1278l3 1M287 1438l3 0M203 1280l2 5M291 1408l3-4M417 1209l-2 3M168 1467l4 1M204 1421l4 4M183 1452l-1 6M128 1411l-3-2M74 1223l2-5M236 1428l0 6M120 1238l0 3M247 1238l0 4M330 1093l2-5M189 1125l-5 3M315 1146l5-2M251 1139l5-1M87 1272l0-4M366 1135l4 1M355 1477l-1 5M140 1384l-6 2M192 1136l-2-3M358 1103l5 1M284 1448l2 5M251 1146l5 2M208 1115l3-2M431 1147l-3 4M166 1412l5-1M141 1095l-4-2M416 1295l-4 0M235 1104l5 3M160 1469l4 1M385 1378l5 3M77 1356l5-2M433 1125l-3 0M303 1097l5-2M218 1168l5-2M116 1249l-4 5M221 1227l5-1M131 1292l-5-3M71 1208l-3-2M361 1397l4-2M230 1248l-3-4M308 1113l3-5M91 1165l-6-1M72 1169l-6-1M276 1457l-6 2M339 1375l1 5M129 1201l-5 2M219 1439l4-4M282 1443l2 4M350 1200l4 2M349 1471l3 1M76 1251l-5 0M354 1227l1-6M156 1171l-1-3M317 1398l2-2M106 1336l3 3M445 1240l4 2M400 1429l-3-5M188 1452l-2-5M103 1387l-5-3M229 1159l1 5M383 1196l-4-1M102 1317l-5-1M83 1264l-1 5M104 1170l4-3M138 1220l6-2M258 1370l-5-1M161 1199l-3 2M91 1236l-2-6M376 1215l-3 3M171 1380l-1 4M357 1363l-5 2M232 1160l4 0M307 1393l0-3M78 1483l4-1M340 1145l2-5M270 1400l4 5M199 1088l-1-5M137 1207l-2-2M113 1233l-4 1M132 1110l-5 2M288 1429l-2 4M406 1319l4 2M118 1299l5-2M313 1414l-2 4M352 1139l1-6M191 1400l-3 2M187 1392l2-3M431 1382l-4 1M241 1152l3-3M423 1461l-6 1M156 1152l-3 3M234 1108l-2-5M108 1267l1-4M168 1357l-2 5M382 1133l3 3M117 1381l0-5M329 1215l-4-2M80 1372l-1-6M327 1346l2-3M360 1440l5-2M194 1412l0-5M407 1369l5-4M256 1446l4 4M124 1289l-4 2M393 1375l1 4M110 1266l2 3M402 1420l0-6M131 1406l-4-1M99 1381l4 3M86 1469l-1-3M151 1434l3-5M396 1455l-2 5M375 1193l-4-4M427 1461l5-1M242 1408l-3-3M343 1174l-4-2M116 1138l3-3M305 1442l-6 1M312 1215l-2-4M193 1317l2-3M333 1411l3-3M400 1145l-3-1M350 1350l4 0M426 1128l4-1M398 1342l-1 6M176 1173l2-6M366 1286l6-1M332 1178l6 3M409 1349l-2-5M91 1133l-2 3M386 1444l-4-3M393 1138l1-5M419 1360l4-2M152 1237l-4 4M366 1448l4-1M439 1375l4-3M433 1378l-5-2M352 1166l1 3M82 1326l4-5M442 1389l3-2M355 1151l1-3M310 1114l2-4M114 1125l-3-4M367 1322l-3-3M387 1293l2 3M270 1395l0 5M459 1372l-4-4M295 1397l-3 1M74 1459l-4-3M262 1283l-2-5M70 1216l3-6M438 1293l-3 2M184 1473l-4 1M117 1084l2-4M70 1328l-1 6M321 1457l-6 1M146 1123l-4-1M375 1401l-4 3M377 1423l5 3M306 1110l-3-2M175 1457l0-6M347 1170l0-4M408 1164l2-5M196 1209l4-2M398 1335l3-2M366 1186l6 1M78 1192l2 2M328 1160l0-4M348 1435l-3 0M267 1156l-2-3M165 1362l3 4M359 1116l1 5M146 1208l-4 1M106 1358l5-2" stroke="#8adada" stroke-width="1.4"/><path d="M312 1092l-4-2M309 1353l-4-2M242 1387l5 4M351 1371l-5 2M348 1151l1-6M427 1408l3 1M152 1238l3-4M182 1190l0-4M200 1414l-3-3M336 1370l2 3M201 1125l2-4M203 1126l3 4M75 1346l1 3M214 1157l3 4M153 1226l1 5M253 1171l-6-2M268 1107l-4 4M173 1343l4 1M429 1242l1-4M337 1091l4 4M334 1460l-2 3M250 1126l4 3M363 1327l2-5M429 1179l5 3M91 1422l-5 2M414 1349l-1-5M227 1410l3-2M173 1130l-5-2M168 1151l1-5M170 1086l6-1M282 1230l-3-5M372 1217l2 5M408 1329l2-5M103 1121l-5 0M424 1323l4 4M176 1469l4 0M147 1249l2 3M371 1470l0 3M88 1266l-1-3M156 1211l3 3M342 1124l3 4M320 1411l-2-4M416 1322l3 4M218 1091l-4-2M241 1453l-2 6M144 1260l-4-3M166 1197l3 1M104 1256l-2-3M283 1147l-5-3M233 1128l0 3M152 1119l2 3M385 1288l2 4M176 1398l-3 4M265 1437l-3-2M197 1134l-2-6M145 1336l3 1M265 1293l1-3M86 1386l4-1M434 1222l3 5M428 1125l1-4M213 1159l-6-1M298 1187l1-4M168 1163l-1-4M104 1293l5-4M129 1417l3-5M412 1419l4 0M265 1106l1 3M86 1265l-4-4M280 1248l4 3M262 1450l-6-1M98 1443l4-2M436 1298l-4-2M187 1407l-5-3M426 1420l-5 1M133 1337l-3 5M307 1410l1 6M171 1179l4 1M333 1162l-4 2M382 1408l5 1M152 1456l-1-6M194 1107l3 5M279 1114l6-1M347 1446l0-4M413 1219l5 2M158 1431l3-2M389 1290l0 6M431 1195l0 5M217 1249l3-1M381 1227l-2-6M266 1308l-1 3M72 1421l-5-3M178 1417l5-3M402 1245l4 1M344 1178l2 3M408 1411l5-3M445 1472l-1 4M151 1245l5-2M305 1466l-1-4M136 1361l2-4M163 1429l3 3M175 1437l5-2M434 1424l-4-1M170 1411l1-4M93 1463l3-2M297 1457l1 4M113 1106l1 4M370 1420l3-3M267 1131l5-2M279 1380l-3 0M147 1415l3 2M403 1235l2 3M167 1439l-5 0M408 1334l-1-6M419 1221l5 0M242 1169l6 0M203 1158l-2-5M422 1444l-2-3M389 1266l-5 3M272 1166l4 1M394 1384l-4-3M108 1289l-3-3M300 1114l-3 3M379 1204l2-5M134 1457l3 2M253 1135l-3-2M401 1380l2 5M253 1479l-6-1M323 1428l3 3M226 1421l-3 4M384 1430l-2-3M378 1135l-3-2M330 1251l1 5M421 1270l-5 2M403 1300l0-5M71 1349l4 0M349 1403l1 4M235 1266l6-1M253 1327l3-1M140 1459l-3 3M201 1406l-4 2M382 1233l3 5M393 1354l-3 6M313 1343l5-1M96 1323l5-3M160 1247l-3 2M254 1116l-5-5M139 1430l-5 0M271 1442l0-3M412 1183l-2 4M302 1435l-5-1M196 1141l-5 1M416 1393l1 4M193 1134l3-3M412 1415l-4-3M321 1117l4 4M367 1314l-2-3M237 1449l4-3M258 1422l-2 4M438 1317l4 4M66 1414l0 6M115 1348l-3-5M244 1129l3 4M153 1122l0-4M288 1356l-6 1M284 1112l4 0M162 1460l3-1M363 1126l0-5M216 1452l0 4M126 1375l3-1M115 1163l2 4M84 1212l3 3M286 1142l-2 4M326 1274l-6 2M120 1112l2-4M89 1411l0-4M152 1333l3-2M148 1336l-3 1M153 1099l-1-3M304 1379l-4 1M384 1150l2 6M116 1342l0 5M429 1317l4 2M439 1230l3-3M116 1087l0 4M221 1133l-2 3M428 1300l3 1M100 1323l-1 3M386 1207l-6-1M142 1199l-4 4M75 1162l3-2M294 1467l1-3M266 1108l-4 0M215 1221l-4-1M267 1440l3 2M336 1380l1 3M369 1330l-3 3M200 1111l3-1M416 1350l5 0M99 1108l-1-6M274 1444l-1-5M181 1395l0 6M368 1442l0 4M302 1220l-6 2M283 1345l-3 3M295 1399l6 2M235 1136l6 2M417 1414l-3-3M189 1394l0-4M301 1267l3 3M248 1101l3 5M352 1114l-6 0M223 1406l-3 2M177 1449l-4 0M446 1420l-4 2M247 1480l-2-3M128 1381l4-2M102 1285l-5 1M255 1128l-3 1M350 1430l5 0M400 1093l-3-3M435 1403l-5 2M244 1390l6-2M98 1472l0-4M125 1480l-3 4M339 1141l-3-5M244 1436l6 3M398 1249l-5 1M414 1478l-3 4M69 1249l-2-3M84 1121l-4-4M361 1322l3 5M191 1440l1-6M284 1404l5 3M376 1465l-6 2M91 1181l-1-6M391 1477l-4 5M388 1356l-5-1M417 1310l3-1M444 1349l-2 3M431 1218l4 0M389 1451l-4-1M150 1320l1 4M242 1185l-4-3M71 1198l-3 5M364 1134l-2 2M135 1431l-3-3M424 1337l-2-6M301 1172l-3-3M177 1238l-5 2M270 1090l5 3M405 1108l4 3M373 1215l3-5M147 1329l2 3M440 1104l3-2M295 1470l-2 4M354 1164l-4 1M86 1086l4 3M288 1439l-4 1M96 1186l-4-4M421 1383l1 4M150 1110l-4 1M391 1458l4 1M272 1135l3-5M386 1223l-4-4M339 1197l-4-4M315 1088l4 0M69 1241l4 1M185 1390l2-6M321 1400l-3-5M358 1211l-2-4M379 1461l1 5M330 1314l0 3M343 1388l-5-3M445 1106l2 4M304 1109l-4-4M385 1462l1 3M118 1328l4-2M163 1392l3-2M413 1368l1 4M302 1118l-2-3M174 1151l-2 4M225 1464l0 5M314 1436l-3-3M383 1339l-5-1M201 1130l5-2M211 1094l4-3M306 1367l1 3M228 1399l-4-2M358 1275l-2 4M71 1205l4-5M185 1169l1 6M67 1300l-5 4M184 1104l-1-4M400 1254l1 3M280 1379l-4 0M172 1447l3 1M377 1143l1 3M240 1460l2 4M412 1083l1-3M92 1095l1 5M171 1415l-1-5M403 1297l1-3M220 1404l0-4M330 1391l-4 2M402 1240l3-4M405 1446l-3 5M86 1310l2 2M235 1464l4-1M300 1195l3-3M365 1191l-5 2M200 1178l-4 3M209 1077l-2-3M315 1495l-4 5M318 1445l4 1M316 1434l0 3M78 1124l1-3M120 1226l-4 0M107 1169l-3-5M207 1419l3-1M119 1296l-2 6M287 1115l-6 2M212 1130l-3-3M99 1287l0-4M74 1094l4-2M82 1109l4-4M376 1131l-2 6M186 1463l4 3M111 1334l4 4M303 1146l2-6M279 1472l-4 1M162 1456l4-1M107 1226l-2 5M142 1376l2 5M426 1240l-5 1M231 1406l-2-4M69 1344l-1 4M374 1394l-3-4M83 1296l3-5M181 1447l-1 4M156 1224l4-1M336 1192l-4-2M329 1143l-6-1M354 1352l2-4M305 1432l3-2M398 1384l1 5M88 1293l-5 2M200 1099l3-4M436 1220l-5-2M117 1396l-4-1M345 1270l-2-5M428 1231l-1 5M192 1452l-5-1M447 1088l5-1M293 1097l-1 3M276 1108l3 2M121 1227l2-4M370 1171l-5-2M374 1366l-5-2M382 1254l3 2M313 1464l-1 4M232 1121l3 0M245 1379l-3-2M418 1474l-2-5M381 1146l-4 3M391 1329l1-4M307 1178l4 4M251 1146l4-2M215 1107l-5-1M426 1147l0-6M325 1444l-2 5M399 1337l-4 0M110 1195l4-4M417 1266l-1-4M302 1286l3-2M273 1455l3 0M390 1401l4-5M85 1143l4 2M111 1226l3-4M238 1094l-4-2M408 1373l3-3M205 1186l-5 0M78 1179l0 4M342 1298l5-4M120 1147l2 4M375 1393l2-3M308 1383l0-6M426 1415l1 4M76 1153l4-5M356 1271l-3-2M371 1356l3-3M338 1363l5 1M114 1084l3-2M71 1366l-6-3M404 1297l-4-2M225 1101l-1 4M166 1120l-1 4M201 1242l4-2M309 1169l-1 4M404 1445l0-6M229 1405l3-3M363 1093l0 5M342 1401l-5 3M343 1150l0 6M199 1418l-1-4M207 1128l-5-2M440 1487l-3-5M310 1336l-5-2M297 1325l0-4M134 1490l-4-3M445 1297l2 3M228 1470l0 4M417 1263l-4 2M424 1162l-3-5M388 1281l-5-4M366 1211l2 3M398 1243l4 0M278 1433l-4 1M365 1335l6-2M238 1150l-5-1M100 1457l5 3M141 1176l4 3M316 1285l3-5M86 1214l-4 4M226 1167l4-2M301 1171l2-4M306 1095l-4 3M120 1320l5-1M280 1258l-4 2M317 1393l-1-5M307 1193l-3-2M396 1119l5-3M100 1158l4-1M375 1322l0-4M147 1203l5 1M92 1224l0 5M394 1137l-2-3M274 1438l2-3M91 1416l-4 1M69 1146l0-6M116 1269l-5 3M81 1374l3-4M356 1174l-1 4M438 1336l3-1M401 1258l1-6M166 1198l3-3M349 1466l-5-3M368 1205l1 3M373 1410l-3-1M131 1331l4-4M447 1432l6 2M256 1313l-1 6M409 1384l-3 3M272 1441l1 6M72 1340l4 1M356 1197l3-5M130 1155l2 6M267 1407l-4 1M131 1451l4-3M367 1438l1 4M433 1307l2 2M81 1248l4-2M221 1122l-4-2M368 1440l4-2M154 1357l6 1M81 1366l0-4M268 1357l5 3M129 1112l4 0M210 1428l0-4M142 1241l3 1M419 1453l-4 2M315 1439l4-2M80 1381l5 1M119 1457l0-5M123 1213l5 2M301 1399l6-1M227 1430l3 5M115 1341l2-5M285 1385l-4-5M181 1381l0 6M341 1371l-2 3M76 1240l-1 3M79 1140l-4-5M428 1445l5 2M144 1394l1-3M418 1216l-4-4M256 1472l2 3M352 1406l2 3M217 1317l-4 2M110 1296l-2-5M134 1174l6-1M69 1187l3 5M148 1103l-5 1M185 1154l-4-1M121 1283l-6-1M385 1454l0-3M414 1124l2 3M142 1225l3 4M270 1226l-2-5M295 1395l-2 6M155 1374l-1 5M357 1146l-3 2M411 1226l-5-2M143 1469l-3 1M98 1160l5 2M226 1309l-2 6M266 1435l4 0M226 1123l6 0M398 1213l4-2M325 1436l2 2M88 1092l3 1M442 1291l4-2M79 1323l-6 0M388 1463l-1 5M139 1314l0 4M433 1320l-3 3M274 1461l-4 1M363 1207l5 1M417 1227l-5-4M70 1096l-5-1M361 1172l-3-2M200 1462l3-4M82 1465l-1-4M217 1398l5 3M423 1389l3-2M191 1130l-5 4M107 1298l3-6M442 1424l4 1M323 1140l-3 5M303 1228l6-1M390 1108l-4-4M346 1478l3-2M446 1260l4-4M398 1112l-6 2M107 1404l-3-5M161 1109l-1 6M201 1426l1-3M159 1320l-1-4M261 1307l-1-4M133 1278l-3-2M376 1164l-2-3M294 1106l6-1M319 1182l2 5M437 1335l-2-5M209 1440l2-5M101 1272l-5 1M435 1332l3 5M76 1220l-2 4M70 1259l3 0M175 1382l-1 5M341 1431l-1-4M129 1467l2-5M348 1346l-3-5M282 1132l5-2M75 1434l2-3M141 1407l4-1M448 1245l5 3M213 1444l2-3M285 1466l-1-4M428 1301l0 5M231 1452l-3 3M279 1403l4 4M340 1473l3 1M370 1358l0 5M219 1150l-5-2M104 1450l-2-3M261 1130l0 4M435 1478l-1-4M195 1229l-3-2M332 1303l-4-2M260 1288l-2-4M353 1440l-5 1M140 1461l-3-1M237 1305l4 1M233 1142l4-2M336 1176l3 4M306 1410l4 1M99 1263l-4 4M104 1250l4-4M424 1098l2 3M355 1102l5 3M321 1087l-1-3M119 1106l0-4M227 1423l-1-5M404 1321l-3-5M306 1175l3 5M166 1405l3 0M188 1374l-3-4M137 1240l-2 5M324 1148l-4 3M347 1218l-5 4M393 1254l3 2M358 1190l0 4M271 1344l-1 3M73 1281l0 4M308 1150l-1-6M405 1360l1 4M353 1096l1 3M271 1405l-4-3M334 1176l0 5M67 1288l0 4M150 1325l3 0M304 1262l0 6M102 1463l-3 4M365 1306l-4 2M327 1353l2-5M438 1351l-3 4M71 1216l-1 3M117 1282l1 4M96 1109l2 4M383 1415l5 2M252 1358l1-6M183 1380l-4 0M426 1093l4-4M376 1324l3 3M110 1452l-3 4M89 1224l4 2M301 1122l-6 2M239 1176l0 4M443 1309l-1-3M163 1106l4 5M134 1347l3 0M374 1459l-4-1M426 1457l2 3M372 1296l-2 4M223 1120l-2 3M267 1244l-4 1M132 1087l-5-3M126 1231l1-5M410 1188l-2 5M197 1113l5 3M111 1429l0 6M73 1331l4 3M313 1103l-3-2M281 1330l-3 3M361 1436l3-5M415 1253l4-1M102 1125l2-5M259 1471l-5-3M96 1275l3 3M431 1485l-6-3M287 1384l-5 3M392 1479l-4-4M107 1159l4-1M278 1227l-6 0M230 1127l2-4M89 1361l4-1M425 1344l1 5M265 1464l0 3M354 1387l-5-4M142 1206l0 3M71 1331l-5-3M120 1335l3 6M281 1096l3-4M106 1228l-1-3M70 1364l-4 3M393 1173l3-2M233 1120l3 0M250 1317l4-1M84 1290l2-5M129 1379l2-4M393 1136l5-1M435 1455l-5 1M318 1108l-4-5M230 1221l-3 2M205 1146l-5-3M124 1097l6-1M328 1477l-2-3M441 1231l-4-4M90 1408l5 3M276 1130l-1-6M232 1184l4-3M169 1393l1 5M124 1377l-5 0M259 1454l2-3M213 1196l5 1M373 1270l5 0M170 1195l6 0M266 1468l-6 0M106 1338l-4-2M360 1325l4-1M267 1463l-4 1M435 1429l3 2M216 1435l-5 0M172 1450l-1-5M112 1436l4 5M292 1412l-1 6M363 1100l-4-3M174 1432l-1-6M239 1153l-2-4M439 1111l-4 1M233 1095l-2-4M244 1463l-6-1M180 1462l-4-1M424 1425l-5 2M166 1100l0-4M90 1255l-1 4M231 1414l-5 4M201 1469l2 3M109 1113l-6-1M439 1217l-5 3M95 1242l-2 2M146 1458l-2 4M90 1289l1-3M74 1176l2 3M134 1319l-2 2M297 1435l-2-3M382 1461l5 3M236 1119l-3-3M120 1375l4 2M357 1410l3-1M338 1459l-5-3M195 1473l3-3M289 1469l-4 5M94 1435l-2-4M431 1167l1 6M351 1181l-4 4M331 1184l-5-3M206 1444l-6 0M77 1281l1 4M207 1159l-4-2M257 1190l-6 2M272 1275l1-5M238 1397l-2 3M83 1339l4-1M354 1324l-3 1M128 1190l-3-2M96 1420l3-5M444 1281l4-2M355 1284l-6 2M153 1194l-3 1M350 1230l6-1M329 1371l2-2M308 1213l-3-3M406 1374l-4 4M110 1212l-3-4M157 1171l-3-2M369 1327l-6-2M305 1153l-5-1M216 1382l-1-5M282 1405l6 0M242 1464l-1 6M408 1098l-2 4M133 1256l-4 3M329 1187l3-1M209 1319l-3 1M284 1134l1 4M231 1170l6 1M82 1213l1-4M392 1401l-1 3M137 1115l3-4M429 1411l-1-4M287 1218l-4-4M70 1299l-1 4M98 1323l3 5M211 1416l-2-3M420 1136l-3-5M244 1346l-5 0M371 1257l1-5M121 1309l4-3M423 1338l-5 0M352 1173l2 4M126 1406l1 6M218 1161l5 2M429 1221l-4-2M280 1147l-4 0M314 1451l-4-4M91 1315l1-3M364 1177l4 3M317 1330l2-3M159 1203l-2 2M87 1327l-6-2M215 1471l-1 3M300 1449l1-6M171 1087l-2 3M142 1147l3 2M137 1328l-3 3M238 1443l-3 5M411 1196l1 6M435 1147l-1 4M403 1402l1-5M148 1156l1 5M180 1129l3 4M396 1218l2 5M181 1442l4 3M76 1141l5-2M307 1136l4 4M90 1158l3-2M95 1456l4 1M397 1395l-5 1M296 1447l-2 4M441 1168l-4 4M428 1178l3-1M414 1088l1 4M316 1091l-4-5M160 1164l-3 5M259 1128l4 1M67 1470l-5 0M188 1476l3 4M452 1283l-4 1M122 1191l-5 4M293 1104l-5-3M424 1401l-4 0M423 1260l1 5M161 1217l-4 1M369 1254l-1-4M114 1287l-3-2M358 1228l6-2M442 1278l-6-1M157 1405l-4 0M191 1178l3 2M111 1387l-1 3M189 1424l4 0M429 1349l-1-4M412 1223l-4-2M388 1303l-4 4M318 1218l-4 3M71 1199l-5-3M95 1396l0-3M401 1254l0 4M69 1449l2 5M422 1348l4-2M422 1184l4 0M390 1395l4-3M91 1179l-2-5M156 1384l0 5M427 1322l-3-4M135 1301l-2-4M190 1452l3 0M152 1464l1 6M326 1140l-1 5M236 1474l0-5M267 1159l-5-1M146 1261l0-6M362 1437l2 6M309 1125l-1 3M139 1120l-3 1M389 1126l-5 0M208 1148l4 0M203 1474l-4 3M105 1235l-4 5M76 1458l-3-1M414 1458l2 4M262 1475l1 6M168 1465l0 4M157 1412l2-5M115 1173l-1-4M183 1405l3-5M242 1186l-4 4M280 1362l1-4M417 1442l-4 0M299 1319l-6-2M379 1108l2-4M128 1323l-1 5M220 1300l4 2M108 1434l0 3M296 1460l1-3M54 1171l-5-1M334 1454l4 1M326 1466l3-1M79 1228l-2 3M243 1141l-2 4M413 1396l4 4M343 1430l0-4M102 1190l-2-5M342 1380l-2 3M226 1474l3-3M378 1297l-3-1M93 1281l1-5M261 1105l-4 3M321 1181l4-4M429 1433l3 1M306 1405l1-4M113 1172l-2 5M338 1158l-4 3M419 1214l-2-3M80 1327l-2 3M224 1235l4-2M217 1147l-2 3M118 1457l3-3M370 1387l2-3M439 1395l6 1M265 1132l-2-5M371 1323l-4 0M193 1180l5 1M262 1452l-6-3M379 1091l-5-3M113 1445l3 4M236 1135l3-5M437 1473l2-6M210 1147l6-1M379 1334l5-2M293 1421l-4 0M401 1391l-5-2M140 1108l4-3M83 1099l2-5M86 1400l6 3M163 1442l-1-3M130 1118l2 5M291 1120l-4 4M392 1316l3-2M309 1131l-6 1M381 1176l-3 1M115 1153l3-6M128 1121l4 2M419 1441l-5 4M260 1366l-5-2M356 1395l-6 2M68 1223l3 5M363 1376l1 5M414 1231l1-4M271 1410l-2 5M376 1325l5 3M235 1430l2 3M204 1107l2 3M371 1128l2-6M383 1408l-2-2M208 1408l-1 4M61 1232l-3 3M322 1344l0 3M268 1167l-5 4M309 1214l3 5M360 1362l4-4M417 1334l-2 6M347 1122l-1 3M187 1457l-1-3M445 1225l3-2M359 1228l-6 1M149 1348l-2 6M165 1112l-6 0M172 1453l-3 2M443 1124l-4 3M127 1280l4-2M150 1392l3-2M428 1217l1-5M96 1260l3 3M131 1111l5 0M356 1343l1-6M331 1436l2 2M159 1213l-1-4M430 1358l4-4M404 1211l4 1M418 1459l2-4M344 1227l6 1M346 1278l-4 0M81 1389l2-4M91 1299l2-3M159 1471l4 1M243 1144l6 1M392 1365l-4 3M253 1449l2-3M406 1155l-5 1M93 1182l-3-5M117 1419l0-4M78 1344l5 4M420 1452l2 3M131 1283l3 4M314 1195l0-4M398 1406l4-1M110 1198l3-5M330 1216l6 1M440 1394l-6-3M132 1234l2-3M244 1369l3-6M385 1379l3-4M93 1199l-2 3M340 1242l0 4M102 1135l3-2M329 1099l-5-3M274 1140l-3-6M334 1119l-4-2M184 1430l3 1M93 1273l-3 2M376 1346l-5-4M176 1196l-3-6M156 1121l-2 3M132 1138l-4-3M172 1386l-2 4M418 1166l-4-2M68 1331l-2 3M148 1456l-6 0M366 1475l0 5M304 1133l3 0M165 1156l0 4M353 1421l6-2M194 1245l0 6M143 1088l-2 4M424 1485l4 1M194 1226l0-6M296 1166l-2 4M99 1132l3 4M441 1174l2-5M253 1198l1-6M136 1224l1-4M195 1379l2 6M294 1130l2 3M232 1472l2 3M72 1134l0 4M396 1232l4 1M301 1120l5 0M327 1324l0 4M127 1403l4 2M423 1435l1-6M449 1245l2-4M137 1474l3-2M196 1091l4 0M308 1125l-4-4M399 1129l-6-2M158 1388l5 1M155 1105l-1-4M230 1241l6 2M163 1319l4 1M97 1358l0-5M424 1359l-4-3M106 1117l0 5M66 1305l-2-4M193 1437l3-5M250 1143l4 0M99 1366l4 4M86 1102l-4-5M367 1240l0-4M440 1459l3-1M278 1246l-1-6M335 1417l2-3M329 1263l3-1M68 1355l5 0M357 1447l4 4M356 1230l4 5M81 1176l1 5M225 1317l-3-2M329 1212l-5-4M231 1168l3 1M314 1275l4 4M116 1175l3-1M135 1275l2 2M113 1281l-6 2M412 1092l0-3M350 1092l5 0M247 1167l3-5M110 1200l2 4M114 1309l-5-4M426 1436l-2-6M102 1301l5 0M187 1397l-5 0M374 1143l4 0M221 1132l-6 1M284 1104l1-5M220 1132l0-4M366 1335l4 1M330 1171l5 2M180 1422l5-2M114 1133l-1-5M343 1108l0 4M282 1163l4 3M436 1116l3-1M413 1122l-4-2M228 1369l4 4M106 1166l-1-4M73 1154l-5-2M206 1442l-2-2M382 1383l4 0M255 1461l-4 2M400 1471l-4-4M143 1115l2 2M100 1383l4 0M325 1412l-3-1M409 1274l2-3M314 1374l-3 1M114 1282l3 3M437 1312l4 2M66 1438l-2 5M116 1279l-4 3M391 1086l-4 2M205 1251l1-5M366 1089l5-3M432 1373l5 3M115 1257l3-2M147 1281l4 4M225 1457l2 6M105 1183l4-3M255 1200l3-2M153 1198l0 3M248 1212l-3 0M199 1164l0 6M351 1203l-4 3M438 1142l5 0M124 1330l-3-4M294 1372l-1-4M427 1390l3 5M319 1450l-2 4M398 1094l5-3M135 1166l-3 1M245 1422l-5 0M445 1440l-3 4M338 1089l-2 2M436 1462l5 3M416 1338l3 1M223 1087l4 2M244 1363l0 6M242 1177l1 3M82 1165l-5 3M200 1152l5 0M280 1146l-4-5M291 1469l0-3M95 1110l-4-1M297 1413l2-3M84 1234l2-5M143 1106l2 3M99 1154l1-4M163 1387l0-4M385 1284l-3-4M205 1273l-5 2M187 1334l-1-3M360 1132l-2 4M307 1112l4-4M270 1450l-2-2M312 1425l0 5M224 1439l-1-4M448 1104l0 4M118 1329l-1 3M95 1186l-6 3M394 1396l-5 0M379 1254l1 5M388 1239l6 1M84 1390l5 2M182 1429l-3 3M110 1190l4 0M176 1155l3 6M369 1207l-4 1M417 1129l-3-2M278 1347l-4-1M336 1148l-3-3M348 1250l-2-3M226 1457l-3 3M89 1467l-2 5M278 1327l5-3M241 1160l-3-2M148 1201l-2-4M169 1355l6 0M397 1469l4-3M300 1204l5-3M150 1107l-2-3M406 1409l-5 1M374 1367l-6 3M325 1355l-1-3M338 1438l-1 3M433 1384l-2 5M354 1185l-4 2M424 1325l1 6M247 1460l-5 0M412 1195l-2 3M340 1104l3-2M262 1445l3 3M181 1151l1-6M104 1450l4 2M111 1236l-2 4M301 1290l3 2M205 1264l-2-3M104 1245l1-5M317 1090l-5 1M128 1156l0-4M275 1151l-3-4M205 1386l-4 0M90 1473l-6-1M318 1387l-2-3M165 1190l-5 3M94 1195l-4-2M430 1098l1-5M245 1316l4-3M389 1374l2 5M327 1145l5-1M123 1296l4-4M425 1118l-2-3M373 1268l-3-3M245 1234l-5 3M69 1273l-2-4M359 1443l4 4M440 1325l-2-5M364 1131l-2-2M199 1124l-3-1M426 1354l-5-1M224 1444l3 5M371 1349l-3-5M96 1143l3-5M251 1133l-4-4M359 1314l-4-3M430 1090l3 4" stroke="#ec7676" stroke-width="1.4"/></g>
<g transform="scale(.5)" fill="none"><path d="M83 1324l0 6 5 5-2 9M123 1277l-4 4 0 7M289 1473l-4 7 3 6 5 0M316 1213l7 5 7-2 4 6M428 1494l10-2-1-13-8-6M365 1493l7 7 11-6M187 1128l-6 3-5-4M325 1139l1 6-4 4 3 8M121 1423l0-7 6 0M231 1097l-6 1-3-6-5 1M421 1155l-5 1-4 7M303 1236l-4-7 1-5 6-3M308 1427l5-2 0-7M276 1325l-4-4-8 0M75 1361l-3-4 3-7-3-5M462 1111l7-8-1-11M196 1158l-8-1-3-5-8 1M162 1381l-4-7-7 2M408 1188l-1-6 5-6M126 1442l-5 0-1-7M201 1406l-3 5 1 6M298 1396l-4-6-5 3-9-3M219 1204l5 7-4 4M180 1407l-5 2-5-5M200 1267l-7 5 1 7-6 5M129 1269l5-4-3-6M404 1230l2 5-5 5M124 1114l-5 6-7-5 0-8M141 1220l7-1 3 4M467 1385l2-13-9-10M297 1177l-8-1-2 6-6 2M185 1454l0-7-6-2M221 1445l6-5 7 1 0 5M424 1443l4 6 7 2M95 1191l4-4 8 2M301 1306l-7 5-4-4 2-8M276 1223l7-4 2-9M278 1141l4-2 4 6 7-3M114 1337l2 5 8 0 3 5M198 1192l7-4 6 6M422 1419l4 4 8-3 6 5M112 1403l-7-4-6 1-3-5M412 1383l-4-5 4-7 6 2M351 1238l-6-2-2 4 2 8M295 1274l7-1 3-4-5-6M304 1404l-3-7-5-2 1-7M101 1154l-5-4 2-7M71 1196l1 10-9 7M256 1289l-6 3-4-4-5 3M341 1379l-1-8 8-3 6 2M180 1199l-3-7-7 0M259 1242l-9-1-5 6-7 0M132 1471l5 3 6-5-1-8M268 1363l7-1 2 7-5 4M271 1272l8 4 5-3M358 1107l8-3 6 2 3 7M140 1391l8 1 3 6M263 1092l7-2 2-5-4-7M383 1201l-5-3 0-6 6-3M283 1300l-2 8 5 6-1 8M392 1147l-5-4-1-6-6-4M84 1321l-5-7 6-7 8-1M81 1335l-3 7-6 1-3 8M378 1210l7 1 0 6M304 1423l-6 3-7-4 2-6M156 1265l4-6-3-4M458 1432l-6 8 0 9 11 3M379 1181l6 5 1 6M263 1407l-5-3 0-8-8-3M328 1400l3 8 7 2 5-4M304 1251l4-6-3-4M291 1266l-3-6-9-1-4-4M409 1424l-7 2-3-6-6 0M245 1154l1-7 6-2 2-6M89 1191l5 2 5-6-1-7M336 1490l13-5 11 5M137 1305l0-7 8-1M172 1388l5-2 3 4-5 5M216 1273l6-6-1-6M382 1152l3 4 9 2M157 1084l8 0 2-11M84 1246l-4-3 0-6-8-2M289 1225l-7 1 0 7-8 1M270 1458l-8 2-4 6-7-3M307 1215l-7 3-7-5M112 1137l4-3 6 2M83 1248l-4-3-1-9-5-1M423 1398l3-7 5-2 0-7M336 1248l3-5 7 4M383 1292l-8-1-1-5M257 1475l7-8 10-1 2-8M366 1229l-1-6 7-2M200 1291l-5 7-6-2M134 1255l5-5 0-7M442 1444l4-13 13 0M117 1350l-7 3 2 7 5 1M162 1170l-3 7-7-1-2-5M96 1302l-1-8-7-4M264 1374l5-6 7 4M141 1393l6-6-3-6M284 1459l5-1 3-8M363 1185l-3 5 5 4M414 1237l-4 5 1 5M154 1182l-5 1-4-8 3-7M326 1196l5 3 8-4M403 1376l-3 8 4 8M297 1100l4-4-5-6M248 1139l-1-8-5 0-2 5M176 1376l-7 3-5-2M423 1410l-1 6 7 2 7-3M76 1088l9 10 12-7M444 1444l-3 13-8 6M286 1313l4 5-1 9M329 1339l-2-6-5-2M362 1425l0 7-3 4-8-2M224 1321l4-4 6 1 2-6M300 1097l-5-5 3-6M333 1453l4 3 4-2 4 4M409 1389l1-6-3-5 2-6M441 1355l10-5 5 7M366 1174l8 0 2-5M424 1415l5-2 5 4M91 1125l5-6-1-8M403 1264l4 3 7-2 5 3M408 1447l-3 6-7 1M335 1100l2-8-7-4-5 6M424 1384l-2 8-7 3-6-4M333 1216l-6 5-7-6M264 1337l-2 6-5 2M413 1142l-7-2-7 6M248 1217l-8-2-5-7-7-1M421 1250l5-1 5 6M91 1253l1 5 9 0M90 1401l0 8 6 6M88 1443l-7-2-8 5M210 1344l7 6 5 0M297 1268l-3-5 5-5M57 1143l3 13-8 7-12-1M400 1100l-5 5-5 0-4-5M207 1130l4 6 7 1M208 1497l13 3 7-11M114 1248l-4-3 1-5 7 0M399 1369l5 1 4-7M396 1241l-6-5-5 1-6-5M272 1471l4-6 7 3 4-4M218 1217l6-3 1-7M280 1093l-7 3 2 5-2 5M185 1313l2 7 7 4M278 1317l-6 0-3 5-7 2M426 1093l-1 8 7 4 0 8M76 1224l-6-1-4 3-7-1M199 1401l8 0 1-6 7-3M272 1400l-5-6 3-8-5-2M280 1347l8-4 0-6M458 1112l2-8-10-4M218 1193l-5 0-2 5M224 1117l-4-7 7-5M132 1092l13 3 4 7M385 1279l4 8-6 4M411 1327l9 0 3-5M432 1206l4-6-6-6 3-5M310 1125l-3-6-8 0-4-7M175 1415l-6-7 2-8M246 1446l5 5 8-3-1-7M312 1219l7 2 5-2 2-5M227 1322l6 3 3-4M310 1359l-7-1-5-5M247 1253l-5 0 0-5M63 1334l-11 1-1 10M330 1172l6-4 4 4-4 5M300 1435l5-2 7 5M144 1163l-7-6-6 1M96 1178l-6-5 0-7M68 1288l1-13 8-5-1-11M366 1320l5 4-4 6M434 1173l-1 5-5 2M273 1215l-8 1-5-6M316 1375l-3 8 3 7M285 1109l5-1 3-6M284 1236l-8 4-7-3M234 1192l0 7 6 6M305 1400l1 7 7 5M303 1164l8-4 2-6-7-4M254 1345l3 6 7 0 4-7M396 1401l5-6-3-6M295 1286l5 0 1-6 7-2M202 1229l5-6 5 3 7-4M231 1458l6 4 8-2M221 1390l-7 6-8-1M417 1114l5 5-2 6M404 1327l-7-1-2-8M340 1337l-8 0-4-6M230 1422l0 6 4 4M212 1155l8-3 6 3M136 1237l-7 0-3-8M264 1120l0 7-7 4M368 1394l5 1 3 6-2 5M416 1167l-1 5-7 2-4-4M131 1398l-3 8-6 0-5-5M122 1476l-7 4 5 12 12 1M249 1220l5 2 0 9 7 5M126 1312l1-8 5-1 3 4M408 1453l-3 7-8 1M303 1444l-8 3 1 5 6 4M338 1274l3 4-1 6M346 1422l-7 3-7-3M284 1129l0-5 8-3M378 1280l1-7 8-2 2-5M194 1398l-2-6 6-3-2-5M250 1090l-8-1-5-13M418 1104l-6 5-8-3-6 5M287 1230l5 6 9-2M158 1107l-4-7 4-3M310 1363l0-7 6-2M149 1393l6-2 2-6M233 1090l3-13 9-4-3-12M112 1198l-1 6-7-1-2-5M385 1342l-7 5-5-2-3-7M112 1461l-7 4-7-6-7 4M184 1173l-4 3-1 6-5 3M252 1266l1-7-4-5 2-5M420 1190l-1 6-5 1-2 6M303 1347l1 7 7 1 3 5M184 1420l-1 8-7 3M236 1302l-5 3-4-4-6 6M350 1394l-4 6-6-3M459 1432l-12 7-6-6M294 1360l4 8 7-2M163 1207l1 7-5 6 2 5M364 1383l1-6-6-5M276 1331l5-7-1-9M148 1488l-9-1-2 12M88 1395l6 3 2 8M120 1125l-1-6-5-2M299 1269l-5-3 0-5M429 1159l-2 9-7 1M197 1253l2-6-7-5M437 1169l1 6 9 1M394 1222l-5-2-3 4M80 1149l-1-5-8-3M110 1436l0 7 8 2M232 1335l7-2 2-7M263 1320l6-1 4 5-4 5M290 1387l6 2 4-7M262 1436l-3-4-7-1M245 1445l-4 7-5-2M211 1339l5 2 0 7 4 4M325 1155l1-9 8 0M268 1096l0 5 6 3M291 1468l4 6 7 2 3-8M396 1345l-3 8-8-2M328 1174l7-2 4 7M317 1189l4 7-3 8 4 5M234 1455l2-5-5-5M443 1191l-1 10 7 9-3 13M79 1087l12 4 3 11M385 1120l-8 0-1-7M131 1226l1 6 5 0 1 6M408 1235l-4 6-5-1-3 4M265 1117l0 5-6 1M191 1265l2 6-4 8 4 6M271 1197l-6 1-7-6-1-6M101 1303l0-6-5-3-1-5M441 1311l-8 9 4 13M394 1129l3-8 9 2 2 6M360 1344l6 6-3 5-6-1M279 1303l-9 0-4 7 3 7M277 1200l-1 5-5 2M258 1109l4 7-3 5 7 6M118 1172l7 2 2 5-3 5M310 1354l9-3-1-7M146 1137l7 3-1 8M333 1298l-6 0-4 4-6 0M362 1310l-1 6-8 0M285 1354l-7 5-5-5 6-6M225 1325l-3-5-7 1M293 1113l2 8-6 3M195 1206l6 1 4-8M195 1196l3-4-3-9M363 1427l-8-3 0-7M386 1389l7-4-1-6M109 1214l-2-5 3-4 7 0M113 1125l5 4 6-2M223 1341l6-2 2-7 7-3M287 1162l4 5-2 5-6-1M67 1087l-10-3-7 8M270 1276l6-2 5 7M317 1398l-4 4 1 8 5 0M310 1418l-7-2-4 7 2 6M145 1461l-5-4-1-9 4-3M202 1091l-11-3 0-9M107 1101l2 7-3 5M107 1310l9 1 2 6M305 1308l-5 2-3 8 5 5M276 1260l-5 7-8 0M74 1332l6 1 2 9M331 1147l6 4-2 9-6 2M198 1359l-3 4-7-2 0-5M66 1456l-3 12 7 8M77 1322l8 3-1 9M143 1179l-3 4-8-1M137 1332l8-4 0-7M190 1411l3 5 7-1M145 1152l8-2 5-7M80 1390l3-5-3-4M235 1301l-4-7 6-7M82 1128l-5 7 4 4 7-4M121 1441l8 4-2 7M142 1295l-6-6 0-8M238 1308l6 0 1 6-7 3M386 1432l-1-8-7-4-2-8M203 1309l-7 1-5-5-7 2M155 1155l-4-7-6 2M427 1233l-5 1-3 5-6 1M343 1261l8 2 5-4M312 1163l2-9 6 0 3-5M68 1368l10 1 5-8M355 1213l-6-3-4 3 4 8M141 1397l4 8-2 8 4 5M270 1117l0 6 5 5 5-3M200 1380l-2-7-5 0-6 5M290 1432l-2 8 4 7M430 1094l2-5-5-3-2-8M208 1083l-4-11 5-12-7-9M336 1119l4 4-4 6M149 1365l0 8-6 5 3 5M426 1312l-6 5 3 5M377 1278l0 6 9 1 2-6M218 1303l5 1 2 8-4 3M270 1264l-5 6-5 1-6-6M200 1109l4 3 5-2M398 1157l-7-3 1-8 4-4M341 1428l-3 5-7 0-6 6M76 1384l-1-6-5-5-4 3M140 1094l6 0 2-7-6-4M412 1305l-6-3-7 3-6-6M427 1462l-4 6-6 0-4 7M185 1086l5-11-5-9M440 1101l4-12-4-7M426 1386l-2 6-8 3-3-4M364 1091l-8-8-11 7M94 1306l6 2 3 6M210 1236l-5-5-5 1M380 1467l0-7 4-3M164 1429l-4-5-7 2-3-5M262 1297l-4 6-6-2-3 4M285 1167l4-6-4-5M428 1222l-7-1-2 7M180 1381l2-7 6-1 1-6M191 1095l-5-2-7 5M93 1256l-7-1-5 7 4 4M413 1191l4 7-2 5M401 1329l0-8 5-2M233 1188l3 8 8 4 3 8M175 1472l-6-1-5 3 2 5M128 1170l-5 4 2 7-3 7M237 1251l1-6 7-1 3 7M432 1361l0-9 5-4M255 1287l9-1 3 8M124 1246l-2 8-5 2-1 7M392 1457l-6 1-4-7M387 1220l3-7 7-2M70 1404l-9 7 5 9-6 12M125 1122l-5 1-6-6M344 1171l3-6-4-4M398 1203l5 2 5-3M196 1329l5 2-1 9-7 2M369 1467l-4 3 4 6 6 0M266 1406l-8-3-1-6M104 1306l-4-6-5 0M349 1360l-1 5 5 4M385 1133l8-1 0-6 6-2M410 1324l-5 7-8-1-2 6M107 1396l2-4 5 1M368 1471l-7 2 1 6M76 1103l-2-8 4-5M286 1090l3-11-5-10M147 1305l-6-5 3-5 7 1M283 1174l7 0 3-4M142 1343l-2-5 6-6 7 4M385 1176l-5-6-7 3 0 7M383 1143l4 4 0 7 8 3M104 1107l-6-6-5 3 3 6M226 1209l-4 3-5-2 0-7M178 1435l8-4-1-6-8-1M95 1335l4 3 5-5M74 1431l-7 0-4 4 6 6M91 1146l1 7 5 4M203 1282l-8-3 2-6M195 1370l4-3 8 0M86 1452l-7 3 1 8M70 1345l3-11 11 1 9-9M350 1257l-5-7 1-6 4-3M136 1290l6 6 8-1M136 1495l-12-1-2-13-10-7M138 1171l-7-3-4 7-6 2M371 1155l2-7-6-3M183 1345l-6 4-2 8-8 1M282 1167l5 1 2-5M338 1475l-12 1-3 10 10 8M77 1130l-5 7-5-1 0-7M398 1436l5 0 5-5M93 1468l-7-2-4 3M346 1253l0-5-7-2-3-5M347 1382l-8-2 1-5M224 1417l8-2 4 7-2 8M179 1457l2 5-5 4 2 5M256 1276l1 8-4 6 3 5M307 1142l-7 5 5 7M188 1098l-5-3 0-6M86 1348l6-6 0-7M128 1111l9 2 2 5M107 1125l-5 3-6-1-1-5M102 1419l-5 6 1 5-5 3M429 1322l3 5 7 1 6-5M371 1212l5-2 4-7M337 1347l-2-6 6-3M360 1094l7 5 5-4-2-5M90 1445l1 9 7 2M272 1415l-3 7-8 0 0-8M321 1408l4-5 8 0 4-4M390 1111l6 0 4 5M254 1444l5-1 4 6M65 1287l4-10 8 2 5-12M398 1130l8 2 7-4 6 2M235 1309l-5-2 2-8-6-5M393 1369l-1-5 5-4 1-8M345 1098l-8 1-7-5M205 1444l0 6 6 2 2 5M50 1280l6-12-7-10 2-11M426 1367l5 6 7-5 5 2M385 1085l-5 6-10-5-5-12M174 1107l-3 5 4 3M412 1249l-5 0-1-7M200 1313l-3 8 6 4 6-2M104 1092l7-7-4-10M176 1418l7-1 5 4M349 1462l-6 0-5 5-4-3M327 1405l-3 8 4 3 0 8M328 1257l-4 7 3 8 9-2M303 1192l-5-4-7 5M350 1475l9 2 3 13M232 1464l-7 4-5-1-4 6M86 1149l-7 6-5-3M428 1384l5-4-5-7-7 3M206 1239l-2-5 5-6 7 0M57 1317l7-5 10 7M139 1285l-5 5 1 9M82 1246l-1-8-6-4M178 1477l10-4 6 9M221 1247l-5-8 6-6M391 1121l-4-5 4-7M126 1268l2 5 7 4 0 8M171 1147l0-6 8-1M235 1400l2-7-3-4M356 1278l-6 3-5-4-5 0M83 1369l-1-5 7-2 3-6M349 1416l5 3-2 5M208 1363l-6-6-8 4-4-3M246 1171l6 6-4 7M139 1443l6-2 1-6M391 1350l-3-8-5-2M295 1093l3 5-4 4 1 5M83 1094l-3 5-5 0M290 1466l-1-6-8-1M417 1281l-7 2-3 5M197 1469l0-8-6-6M337 1266l4 4 0 9M393 1452l-3 6-6 1M389 1087l-8 0-1-9M204 1263l-1 6-5 3M162 1271l-6 6 1 8 8 1M108 1110l-1 9-6 4 2 7M328 1422l-9 2-3-5M140 1152l-4-4 1-8-4-4M114 1176l-5-3 1-6M266 1292l1 5 5 2M98 1316l4-4 4 3M141 1418l-5-3-5 5M474 1194l7 8 9-6M275 1185l-2-7 4-5M341 1123l3 7 5 1-1 8M131 1302l-7 3-4-4M355 1400l5-7-3-8-6-1M109 1174l-6-5-8 0-6-5M334 1246l7-3 0-6 7-5M377 1461l-5 7-7-3M316 1456l3-5 8 2 1 6M252 1317l-4 5 1 8 9 0M156 1340l-3-4-6 1 0 7M428 1478l9 2 0 13M264 1491l9 0 10 10M198 1340l5 3 4-5M93 1099l5 4 7-3M393 1498l10 3 1 9M327 1252l4 3 8-3 5 5M403 1457l7 3 3 8M425 1295l-7 4-7-6M236 1206l-5 1-4 6 6 4M106 1309l-1-8-5-2-4 3M326 1419l6 0 1 5M319 1423l-6-3-2-9M377 1450l2-5-3-7M392 1460l1-5 8-1 3-8M310 1459l-2 8-8 2-5-3M179 1262l5-6-4-5M236 1118l5-2 5 3 0 6M127 1294l-8-2-2-5-5-2M402 1219l5-1 2-6 6-2M82 1397l6-7 4 3 7-1M93 1304l-5 7 2 7 9 1M66 1089l-5-9-8-2M421 1225l6 2 1 7 5 1M72 1198l10-8-3-11M366 1116l0-7 7-1 6 6M272 1210l-8 1-3-5M405 1460l-5 5-1 9M436 1325l-3 7 4 4M247 1137l-2 5-8 0M229 1101l-1-5-6-2M398 1134l-6-6-5 1M369 1102l4 5-3 6 1 5M393 1416l-3-5-7 2-3 4M384 1138l7-3 3-8M144 1300l5-2-1-8M274 1181l1 5-5 3M232 1285l7-3 1-5 7-1M104 1113l-3-4 4-6M311 1145l-5-2-3-6M93 1130l-7 2-4-6M300 1453l-4-7-6 1-5-4M244 1183l8-2 6 6 6-2M130 1132l8 0 3-4M324 1193l-5 1 0 5 6 1M344 1463l3 7 9-1 5 6M116 1180l0-5 5-3 0-7M124 1131l-7 6 2 7-5 5M147 1237l-3-8 5-4-5-7M438 1195l-6-5-6 2M360 1304l-4 3 1 6 6 6M192 1113l7 5 6-3M160 1388l-4-5-7 4M168 1193l-8-3-4 7-5 2M282 1144l2 5 6 1M237 1130l2-5 8 0 4-7M75 1322l8 2 4-8 8-4M265 1093l7 0 2-7 6-3M71 1254l5-13 14 1M392 1074l9-6 11 5M419 1443l0 8-7 2M306 1197l-3-4 1-7M426 1079l-11-4-6 6M296 1122l1-6 8-1 7 5M209 1120l-7 6-9-1M203 1108l3-5 6 0 3 5M305 1181l-5-5-6 4-6-3M172 1091l4 13-11 8 3 11M156 1237l2-6 8 1M211 1145l-5-3-7 5M436 1369l-6 5-8 0M148 1396l6 3 0 7-5 4M298 1392l-5 5-4-3-6 2M414 1206l4 8-7 4M229 1310l8 0 5-5 7 4M379 1258l-6 3 0 5-4 4M385 1122l-6-6-6 4M195 1185l-1 9 6 5 8-2M435 1139l5 6-3 5 3 5M211 1328l-3 6 5 6-3 7M295 1418l1 5 7 2 3-5M153 1093l-2 6 4 6M121 1097l-1 6-7 1M231 1112l6-1-1-8M184 1093l-3 5 4 7 6-1M443 1239l-5-6-9 0-5-12M472 1358l-6-9 4-10 14 0M258 1321l7 2 3-4M355 1111l-1 5 6 2 5-6M284 1396l6-2 5 5M245 1392l4-7 9-2M147 1095l6-1 2-7M212 1362l-7 2-2 7M329 1444l5 3 8-2M374 1132l-6 2-4-5M104 1210l6-5 6 6-2 6M240 1096l-7 5 2 8M158 1301l2-7-5-6M470 1440l-5-13-12 1-9 10M408 1267l2-7 5 0 4-6M144 1402l5 3-2 7M386 1240l1-9-8-3-5 5M331 1378l-6-5-6 3M406 1264l-3-6-5 1M293 1293l-2 6-8-1-3 5M205 1289l-5 2 1 6-7 4M104 1202l-6-4-7 5-8-3M341 1222l-5-1-3 7-9 0M404 1355l-1-6-7-1-1-6M345 1307l2-6-3-6M307 1166l1-7 6 0M103 1462l5-4 1-8 7-4M351 1263l-2-6 6-6 0-6M394 1246l-2 7-6 1M148 1279l0-6-7-5 0-7M387 1313l3 4 7-2M220 1155l5-6-2-6M316 1384l5-5-3-5-7 2M176 1436l5-3-2-6M330 1284l-2 6 6 6M81 1070l-3 9-8 2M81 1253l-7 5 3 5M115 1268l8-1 3-7M370 1354l-8 3-5-7M195 1158l2 8 6 0M251 1228l-3 7 6 6 6-2M132 1211l8 0 3 5-4 8M75 1171l-5 3-8-2-5 4M349 1153l4-5 6 1M339 1139l-5-1 1-7 5-1M318 1398l-2 8 4 5M379 1144l5-7 6 2 1 7M282 1323l-5-1-5 3 2 6M436 1420l-1 7 5 5M414 1447l3-7-2-5 5-3M240 1451l-5-6 1-5 6 0M387 1333l3 4-4 6-8-1M315 1154l8-2 0-6-6-4M154 1394l-4 5 6 6M298 1317l-5 6-9 1M200 1199l-5-7 4-6 8 4M335 1332l7 0 3 4M360 1213l-2 8-5 3 2 6M128 1437l0-6 4-4-4-7M97 1225l7 0 2 7M173 1477l3-11-9-8-10 5M178 1492l0-8-9-5M90 1088l13 2 7-7-4-10M278 1333l2-7 9 1M420 1347l2-6-5-3-6 4M79 1323l-4-3-8 1M65 1385l6-10 13-3 10 7M320 1146l-9 1-4 6-6 1M383 1214l5 2 0 6 6 3M167 1323l-5-3-1-5M138 1306l-5-6-6 3-3 9M127 1115l-3 8-7-1-6 6M233 1350l-5 6-6-3M134 1447l7-2 5 5 6 0M221 1284l-1 6-6 0M326 1426l4-6 7 1M184 1106l7-5 5 2M421 1415l-3 6 6 4M362 1476l-8 4-12-3 0-12M138 1260l4 7 7-1 4 5M288 1102l-1-8-6 0-5-4M110 1392l-2 5 4 7-4 5M315 1286l1-7-5-4M199 1448l-1 5 5 3 8-2M244 1281l-6-2-4 4M301 1113l-7 4 1 5-4 5M410 1364l2-8 8 1M150 1258l4 7 5 2 7-5M350 1234l-6 0-3 6 2 5M306 1261l3 7 6-1 2 5M107 1382l-8-2-1-5M110 1253l8-2 2 6-3 4M112 1095l7 1 2-5-3-7M260 1417l-4 6-5 1-6-7M432 1469l-6-1-6 5M93 1264l-1-7 4-4M337 1236l3 8-3 6M105 1358l-3 5 3 6 8 3M83 1169l6-3-2-6M418 1334l-7-5-4 4M435 1140l-6-3-3-8M396 1101l3-8 7 1M418 1109l-2 9 4 7M317 1237l3 4 6-3 1-9M138 1359l1 7-5 2-6-6M220 1394l-2 6-7 1M72 1154l-3-7 2-8M77 1261l-7 4-5-4M314 1132l-3-4 2-8-7-4M221 1191l5 3 9-2M257 1221l2-6 6-1 3-5M362 1464l-8 2 1 5M320 1374l-1 9 6 5M400 1384l-2-8 5-6 8 4M239 1436l9-2 5 6M311 1127l-3-6-5 1-5-6M148 1112l3-8 7 0 5 5M148 1103l-5-2 2-7-7-5M397 1277l-5 6-5-1M112 1195l7-2 2-5M225 1410l3 6-2 5M163 1115l7 2 1 8M258 1352l4-4 6 4M193 1292l8-3 3-5-3-6M112 1174l6 0 4 6M184 1316l5-6 6 4M359 1383l3-7 8 0 2 8M168 1406l-5 3-5-2-3 5M119 1297l-6-7 1-6M360 1107l4 4-1 7-7 6M403 1347l7-2 3 7M158 1113l4 4 0 5M300 1367l6 5 5-4 6 2M395 1438l-8 0-5 7M55 1354l9-5 7 7-3 8M123 1093l-3-8 7-5-1-6M127 1391l-5-5-7 2M204 1417l3-8-5-3-5 2M85 1302l4 6 8 1 1 6M180 1125l-2-7-8-2-1-6M193 1370l1-6-7-3-7 6M264 1155l0-7-5-4M410 1417l4-3 4 4M194 1359l-4-4-8 3M156 1278l-4 5 2 5M243 1497l-5-11 7-11M400 1463l-6 0-5-6M123 1376l6 3 2 6M289 1108l-8 1-3 6M352 1094l-6 2-2 5 7 6M304 1321l-4 4-1 8M101 1092l-8-5-7 2-3 7M231 1415l0 7 7 3 4-4M113 1456l5-2-1-9 6-2M230 1158l6 3 5-4M88 1262l-6-3 0-6 6-6M350 1140l-7 2-2 5M261 1366l3-7-4-6M250 1344l-3 7-8 4M196 1304l2-6 9-3-1-5M424 1384l1-6 8 0 1-6M79 1377l-4 3-2 6 7 3M406 1346l-1-7-5-2M322 1238l-7 6 3 7M154 1460l-6-2-2-7 5-6M427 1169l-7-2-6 3 1 9M90 1453l-2 6 4 7-6 6M144 1175l-5 1-2 6M258 1244l0 5-5 2-5-2M222 1108l6 3 7-5M317 1428l-4-3 2-8-7-3M106 1427l-6 4-5-5 5-7M51 1128l0 8-8 2M427 1206l7-3 3 4-1 8M414 1248l8 1 3 7M232 1337l-3-7 6-4M417 1321l-4 8 2 6 6 0M334 1272l-7 3 1 7M432 1327l4-6 5 3M392 1260l5-5-4-6 1-7M156 1270l-5 3-1 7 4 5M432 1460l7-3 5 5M226 1335l-1-6 5-3M365 1461l7 5 6-1M407 1435l0-6 7-4M132 1228l0 7-8 1-3-5" stroke="#74d4d4" stroke-width="1.6" stroke-linecap="round"/>
<path d="M360 1224l-5 6-5-3M149 1304l3-5-2-6M71 1475l-14-2-3-8M445 1478l-10 6 0 11M428 1419l7-6 5 4 5-5M163 1215l-5-4 4-6M165 1326l-5 4-5-1M242 1247l-6 1-2-5 7-6M165 1225l-3 6 1 5M141 1311l-1-9 8-3 4 3M245 1392l-5-3-4 2-4-4M347 1255l6 6 7 0 3-8M440 1486l-10-10-13 4M187 1133l2-7 5-1 5 7M365 1384l-6 6-1 9M135 1313l1-5 8-2 4-6M163 1184l-7 4 0 7M345 1317l-3-5-5-2M343 1259l-2 8 3 6-5 4M141 1110l8 2 3 7M88 1416l-9 2-3-7M113 1130l6-6 0-8 7-5M188 1445l5 7 5-3 5 1M87 1234l4 7 5-2M178 1187l5 3 5-4 5 3M367 1202l3-5-4-7-7 2M253 1217l6-1 2-8 8-4M366 1131l4 5 7-2M164 1172l3 7-4 7-8 0M161 1362l-2-7 5-4M406 1126l5 6 7-2 4 3M276 1267l-6-4-5 3M396 1449l-3-7 4-5-6-5M320 1106l5 0 3 7M435 1196l7-3 2-5M97 1272l2-7 6 0 3-5M230 1362l-4-3 1-7M211 1420l5 1 1 6 6 3M245 1305l-4 4 0 5-5 0M223 1458l0-8 7-3M193 1351l-3 6 1 5M407 1451l-2-6-6-1-6 4M72 1185l0 13-11 7-9-9M159 1330l7-6 9 0M140 1212l0 8-6 3 1 9M422 1225l-3 8 4 7 8 0M106 1149l6 1 7-6 0-7M308 1181l-9 1-6-5M152 1304l2-5 6-2-1-7M238 1242l-3-6-8-1-5 5M209 1438l9-1 4-4 5 3M408 1255l5 5 5-1 5 4M216 1148l0 8 8 2M275 1140l6 4-2 6M396 1139l-5 4-7-2M240 1092l-7 2-1 6M285 1371l6-3-2-6M340 1446l-2-4 4-8M215 1253l5-4-1-8-7-3M204 1371l6 0 1 6-5 3M229 1356l2 8 6 3M225 1412l-2-6-5-2M387 1361l4 5 7-2M287 1451l-1-8-8-1-4 7M198 1411l-3-5 6-5M226 1492l0 12 9 7M214 1145l4 3 7-2M441 1484l-8 0-9 8-11-8M346 1444l-6 3-6-3M325 1166l7-6 8 3M280 1291l4 8 9-2M272 1273l5-5-2-7-7 1M181 1157l-2-6 3-7-3-4M428 1279l7-3 6 4-1 8M438 1353l-2 6 5 3M176 1442l-5-5-4 4M259 1289l-1-6 4-5M241 1360l4-3-1-6 3-4M225 1466l-4 6-6 0-5-6M316 1083l7 6 13-4M207 1335l7 4 4-5M202 1445l4-4 6-1M179 1186l6-5 8 2 2-5M319 1091l1-8 8-1 2-10M248 1395l-2 7-6 3 1 9M253 1113l-2-5 8-5-1-8M421 1405l-1 6-7 1-3-4M188 1208l-6 0-4-7M278 1113l-6-5-9 1-1 5M155 1437l-7 0-1-7M149 1475l9-8 10 3M232 1218l-4-3 0-9 5-6M208 1149l-6-3 1-8M325 1462l7 3 5-4 5 4M165 1281l5 3-1 6M334 1363l-2 8 7 5M90 1239l-6 3-6-5 4-7M278 1259l7-2-1-9 5-4M377 1215l-8 3-4 7-5-2M381 1307l-2 6-6 0M377 1441l2 5-3 7 6 5M445 1182l8-8 7 4 3 10M367 1478l9 4 0 8M363 1376l-5 6-8-1-6 5M59 1465l-5 12 9 6M312 1389l-6-1-6 5-1 7M380 1332l-3-6-6-2M208 1375l1-8 7-1 2 8M186 1153l4 5 7-5 7 2M443 1442l-1-14-12-2-3 7M194 1096l-6-3 2-7-5-7M314 1361l-7 1-5-7M412 1312l7-4 1-8M145 1115l-9-2-2-8 5-3M432 1369l-1-8-5-2M72 1194l-9 3-8-4 2-10M399 1241l5-4 0-8M420 1184l-8-1-3-5M413 1443l8-2 3-6M420 1395l4-5-2-7 4-5M448 1187l5 7 12-2M433 1463l2 6-6 6 1 6M122 1162l-5 3-1 6 4 4M159 1359l-7 5-4-5 0-8M130 1235l-9 2-3-5 4-8M252 1322l-3 4 2 5M337 1253l-2-7-7-1-4-7M462 1309l12-5-3-13 11-5M177 1353l1-8 5-2 6 3M427 1350l1-8 5-4M141 1177l7 4 0 8 4 3M86 1109l5 2-1 5-6 2M233 1203l-1 7-5 3M430 1237l6 5 6-1 4-6M84 1452l0 7 5 4M255 1128l-2-5 3-7M247 1175l-6 0-6-5 1-7M144 1355l5-7 7 2M313 1223l5-5 7 2 7-4M359 1464l1-6 8-3 6 3M290 1412l-8 0-5 6M432 1129l6 4 6-3M272 1196l0-6-7-2M92 1136l3 5-3 4M358 1140l-5 3 0 7-5 5M203 1486l-6 10 5 7 14-1M391 1306l-4 5 6 6 6-3M327 1478l1 10 8 4 6-7M430 1231l0 9-8 1M438 1384l-6 1-4-7M108 1324l3-8-4-8-8-1M115 1273l6 3-2 7M186 1259l-3-7 5-7 9 1M323 1183l7 0 4-4 0-7M361 1139l-6-3-7 4M414 1269l-1 9-6 5M394 1376l5-5 5 2 4-5M70 1135l-12-2-3-12M87 1337l-6 1-4 7M308 1259l-6-6-6 4 1 5M150 1126l4 6 9 0 3 4M223 1252l3-7 6 1M420 1278l-5 5-5-2-5 2M341 1273l5-2 3-5M283 1344l-2 6 5 4-1 7M93 1324l-1-6-6 0M452 1421l14 2 7-7M144 1296l-5-1-3-5M252 1126l-2-6 5-7-2-7M220 1133l6-5 0-8M99 1198l-7 4-5-5 2-5M319 1429l3-8 7-3M448 1340l3 8 12 6 5 12M243 1469l-1 9 8 2M129 1371l-5 5-4-4 3-6M374 1392l7 5 4-5-4-7M155 1100l2 5-3 5 4 3M431 1336l-1 7 8 3 4-6M316 1350l1-8 7-5M70 1293l1-9 9-5 10 7M245 1142l6 4 1 8M328 1345l3 8 6 2M413 1229l0 7 8 4 6-3M181 1345l4 4 4-3M114 1135l5-4 0-8-4-4M338 1197l-6 2-3-6M349 1131l-4 4 3 9 6-1M255 1365l-6 4 2 6 5 3M311 1379l0-8-6-1M307 1135l-8 0-2-7M460 1495l-5 12-8 2-4 7M432 1363l1-5-3-4M220 1370l4-5 8 4 0 6M103 1260l8 0 6-6-4-5M158 1337l3-4 6 1 3 5M374 1119l2 5-3 8 5 7M190 1260l6 4 0 7M317 1302l-6 2-5-4M136 1104l6 0 2-5M187 1177l-3-7 2-6 5 0M385 1259l3-8-6-6M199 1201l-6-4-6 4 3 7M233 1191l3 6-5 7-5 1M81 1465l-6-4-2-8M401 1349l7 5-2 7 5 6M259 1137l-1-8-5-1-4-8M268 1182l-3 5 5 5M136 1347l-3-5 6-5-2-7M340 1130l5 6-1 9M76 1297l-3-8-6 0-4 7M425 1345l0 6 5 6 6-1M129 1230l-5-4 4-8M438 1381l-8 1-7-4-6 6M438 1307l3-8 5-2M146 1222l8 0 5-6 5 1M430 1189l-2-8 6-5 7 0M179 1131l-8-2-6 4M398 1095l0 5-6 5M291 1107l-6-3 0-7M441 1412l-3 10-13 1M221 1303l-2-8-8-2-1-5M315 1460l8 3 0 7M333 1075l5-11 9 2-1 11M90 1466l-5 4-8-2M90 1311l-3 6 3 6-4 7M378 1241l-3-5-5-1-3 5M105 1325l1 9-4 3M207 1319l-1 8 5 2-2 6M383 1267l0 8-5 4M117 1381l5-2 3 4M393 1098l0 5-6 0-5-5M131 1411l5 2 4-5 5 2M236 1191l1-6 8-5 5 5M434 1238l6 6-1 5M117 1071l10 4 4-8M425 1277l-5 5-5-2M86 1442l1-7-4-6 3-7M425 1439l-3-8 4-4-1-5M77 1345l5 0 4 5-3 4M185 1122l4-5 6 0 4-4M268 1310l6-3 6 3M120 1463l7-2 3-5M118 1347l-2-5-5-2M141 1239l-1-5 7-5 5 3M84 1253l-1 9 6 2 2 7M320 1358l0-6-6-1-4 3M96 1217l5-1 1-5-6-3M453 1282l1 13-6 7M153 1285l3 7-3 5M203 1175l2-8-7-5 1-5M437 1229l-3-7 5-3M125 1480l-10-7-9 2-1 12M277 1258l-6 3-5-7 4-5M351 1399l5 3 6-5M340 1172l-8 0-1-7-5-3M411 1083l-8-4-8 8M179 1219l-6-7-4 3M346 1409l4 6-2 5M336 1424l7-4-1-6-8-2M173 1134l5 4-1 7M131 1128l-2-6-5-3 1-6M297 1231l-2-9 5-5-3-5M261 1306l5-3 7 3M93 1311l2 8-6 3-2 6M110 1366l-6-7-5 2-6-7M375 1115l7 1 2-5 8 1M51 1349l10 6-1 11-10 4M205 1131l-5 2-2 7M301 1113l3 8-7 5 3 8M357 1428l-5 3 1 6-7 3M280 1086l8 4 7-11 14-1M117 1121l1-5-7-4M234 1209l-3-5-8 2M284 1301l6-1-1-8-7-4M425 1222l-4-3-1-6-5-1M193 1221l-6 3-6-6 1-7M344 1454l6-4 6 2 5-5M263 1397l-4 4 1 5-7 4M148 1182l2 8 5-1M401 1374l8-4 0-8-5-4M256 1288l6-1 3-5 7 3M411 1231l-5-7 1-8-5-1M277 1188l-7 3-5-2-3-7M316 1128l1 6-4 3M220 1215l-6 3-7-4M274 1224l6-4 4 4M405 1296l-7 2-3 7 4 5M310 1185l-7 4-8-2M63 1157l-10-5-11 7M334 1389l-5 3 1 5 8 2M407 1333l2 7 8 3 0 8M223 1408l-5-7 2-5 7 1M236 1432l-7 6 4 6-1 8M387 1305l-7-1-2 7M236 1360l-4-6-7 2-3 6M291 1302l0 6 6 5M401 1386l-5 3-4-6M434 1267l-6-2-3 7 6 3M186 1240l2-6-5-5M225 1475l8-8-3-10 6-7M165 1326l5 2 0 7-6 5M197 1181l2 8-3 7 2 6M429 1207l-6 6-6 0-4-4M287 1437l-4 3 4 6 8-1M104 1119l2-6-3-7-5-2M256 1216l7 3 0 5M215 1277l0-6-5-2M347 1268l1 8 5 2 1 7M168 1428l-4-5 6-6 9 0M310 1322l6-5-2-6 5-6M140 1257l1-8-6-5M83 1141l-6-2-1-6M148 1268l1 9-5 3 1 5M204 1236l-2-6-9 1-3 8M203 1364l6 0 5-5M277 1362l2 7 6 2 3 8M397 1131l-5 4 4 6M336 1340l-4 5 4 7 8 2M351 1152l-5-2-6 6-8-3M160 1373l3 8 7 0 1 8M148 1100l5 6 7-1 3 8M194 1404l5 5 6 0 1-7M384 1377l-3 8-6 2M119 1155l5-6-3-4M178 1355l-5-7 3-7M220 1211l-6-4-5 4 1 5M238 1128l-3 8 3 6M282 1323l5-5 8 3M302 1261l-5 3-4-4M440 1225l-9 0-2-5-7-2M106 1175l4 5 8-1M138 1312l5 7 8 2M140 1406l-3-4-8 2M351 1258l-3 5 5 5M138 1135l-5 1-4 6M189 1171l5 3-3 8 3 4M426 1467l3 6 8 0M353 1231l0-8-7-2-4 8M359 1223l5-2 2-8 7 1M270 1457l-6-1 0-7M352 1114l5 4-1 7 5 6M198 1439l-4 5 2 6M131 1167l-7 3-4-5 6-6M358 1331l-5 7-9 0M316 1156l5-4-2-9 5-6M94 1150l-1-8 6-6-4-4M370 1150l2-9-5-2M182 1468l7-4 2-5 8-1M283 1197l-8 3-5-6M125 1337l6 5-1 7M441 1174l5-12 13-3M339 1325l2 9 6 2M393 1414l5-7-3-6 4-5M230 1152l3-7 8-2 6 3M220 1280l4 7-3 6 4 4M188 1277l-8 1-5 7M123 1470l-7 3-1 6 6 5M318 1116l-4 4 3 6 7-1M134 1271l5 5-4 5M279 1138l3-7 6-3M156 1300l-1-6-7-3M178 1273l3-5-7-5 2-5M149 1435l-3 5 4 5M403 1442l1-7-8-4-7 3M274 1321l4-5 6 0 4 6M83 1436l8-1 6 5 0 7M77 1110l2 7-5 7M184 1158l-9-3-3-8M304 1345l-5-5 3-6M329 1451l-7 4-2 8M78 1423l-7 0-2 6M404 1181l-3 6-7-2-6 3M348 1293l4 4 5-3 1-8M102 1351l-4-4-5 1M353 1315l-5 1-5-4M254 1432l-8-1-3 5M267 1092l-1 10 10 10-8 10M431 1283l-6 1-3 7M351 1379l2 5 5-1 5 4M351 1460l-2 5-8-1M468 1485l9 3 4 12-8 4M360 1320l-6-6-6 0-1 5M302 1188l0-6-7-1-3 6M187 1360l2-8-5-6M101 1404l0-9 6-1 2-6M198 1323l-4-5-6 1-1 7M313 1157l-7 3-7-4M208 1162l-7-1-1-8M266 1471l-5-7 5-5-3-8M323 1325l6-2 2-8M176 1234l3-6-2-7M75 1157l-6 6 0 5 7 2M462 1440l-8 6-8-5-6 6M456 1348l-12 3-5-7M192 1092l4-6-5-5 3-5M299 1289l-3-7 3-5M296 1147l1-5-7-5-5 1M318 1324l-6 5-6-2-3-7M340 1241l2-5 5 0 3-6M260 1300l-3 5-8 1M404 1406l-4-6-7 1-2-6M261 1338l-1-7-6-4-4 4M119 1142l8 0 1 6M322 1134l4 8-7 5M188 1145l5 7-2 7M331 1479l5 10-5 10-10-2M205 1368l1-6 6-4 7 2M119 1119l5-4 7 4M154 1317l6-5 7 1M170 1259l5-2 2-6 7-2M320 1430l-7 3-6-3M356 1209l2 8 5 4 0 5M99 1490l11 4-1 12 10 6M407 1343l5-2-2-9M223 1397l6 6 7-1M156 1448l3-7-3-6 7-4M382 1126l-7-1-2 5M145 1270l-5-4-1-6M224 1411l-2-8 6-5 5 1M131 1364l-6-3-5 3-7-2M378 1100l5 2 4-7M424 1430l3 7 5 2 7-5M310 1313l4-6-2-8-5-3M193 1138l-6-6-7 1M191 1354l-6 3-5-5-5 2M314 1293l4-5 6 3-2 7M471 1369l-9 3-4 8M313 1348l-7 1-5 7-6 1M375 1156l-9-1-3-8M442 1384l5-10-3-11M92 1268l-8-2-6 4M241 1450l-4-8-8 3-7-5M140 1181l-3-7-7-3-5 6M421 1405l5-7 6 1 3-5M268 1449l-5 0-4 6 3 5M393 1219l0-8 3-4M313 1424l6 1 3 6 7-3M202 1479l6-10 12-2 8 11M157 1361l-8-4 1-7 6-2M404 1239l7-3 0-6M403 1380l-7 2 0 6-7 2M395 1394l7 4 6-2 3 6M337 1332l-3 4-6-2-1-7M97 1445l3 7-5 4 2 6M294 1401l-1 7-6 3 1 8M103 1341l-7 0-5 5 2 5M109 1243l4-7-3-4M271 1209l-3-7 1-5M196 1229l2 8 5 3 5-3M441 1299l10-6-4-9M114 1098l1 9-6 2 1 9M107 1130l-7 5-6-3M219 1089l3-8 12-1 3 13M133 1226l-3 7 4 4M232 1329l8 2 1 5M437 1359l6 4-2 7M230 1175l4 5 7-2M402 1252l6-1 5 3M89 1148l-5 5-6-1M289 1221l-6 3 0 9 4 3M194 1182l-6-6-7 1M262 1407l-6 1-6-5 4-6M256 1455l7 1 2 6M288 1232l-8 0-4-5-7-1M123 1225l-4-6 2-7 7 0M320 1119l-2 6 2 5-3 8M283 1340l2-7-3-6 4-4M183 1168l-5 4 1 5M389 1255l9-1 2 8-8 3M198 1416l1 6-7 4M113 1378l-6 1-3 5-6-1M277 1283l5 4 9 0 2 9M415 1104l-3-7 7-6M197 1290l-7 1-6-6-8 4M383 1342l-5 7 5 6 6 0M223 1340l0-7 9-2M127 1145l8-2 3-8M158 1309l-1-6 7-5M412 1470l3-8 8 2M390 1141l2-7 6-4 7 4M129 1112l-7-5 4-8M299 1252l8 4 5-4-3-8M415 1151l-4-3-5 6-5-3M285 1362l5 3-3 6-5 0M398 1182l-4-8 3-5-3-4M91 1204l-6-3-6 3 0 6M250 1128l2-7 5-1M426 1399l4 5 8-3M117 1094l5-4-1-6-7-4M339 1452l6 5-2 5M245 1302l5-1 0-6M141 1265l0-7 6-1M156 1259l-8 2-6-6 3-4M344 1208l-2 5-7 2-4-4M292 1352l-8 1-2 5-7 2M291 1353l5-2 1-5 5-1M426 1137l3-5 6 0M335 1359l-4 4 0 7M275 1137l3 6 5-1 3-5M461 1345l-11 7-10-4-9 4M399 1361l3 7-3 5-7 1M63 1362l4-9-11-9M223 1392l-1 7 7 2M411 1323l-3 4 2 8-6 2M327 1405l2 5-5 7M420 1476l-11-5 3-8 13-1M446 1461l-8-4-8 10 5 12M211 1189l-6-3-5 5 3 4M241 1388l-6-5 2-5M170 1101l0 6-7 5 2 7M330 1343l-5 5 1 9-5 3M354 1118l4-4-4-6M430 1175l-6-3-6 3-7-2M374 1415l4-3-1-8 8-4M312 1088l-10-8-11 1M343 1251l-5-7 6-5M143 1130l2 7-4 5-8-2M216 1390l-8 2-4-7-8 0M317 1375l5 4-1 7 5 4M175 1433l-3 8 3 5M115 1252l3 4 5 0 5-7M162 1364l4-7 7 3M135 1386l-4-3-8 2-2 6M136 1130l5-4 5 2 4-5M77 1435l4-8 7-2M185 1319l-5-2 2-9 7-4M105 1388l-9 1-1-6 3-6M71 1464l8 10-9 10M261 1257l-5 5-6-4-5 3M278 1124l7-5-3-6M106 1165l1 9-5 3 0 7M344 1261l0-9 8-2 4-6M433 1421l-7 5 3 5M254 1307l2 8-6 5M353 1330l6 6-1 7-7 4M272 1247l5 3 7-2 4 5M413 1423l-6-4 2-7M65 1474l-10 8-14-1-3-12M206 1422l-8-3-5 6M292 1444l3-7 7 2M283 1107l3 6-4 7 5 4M332 1123l8 4-1 7 5 5M178 1388l-4-6 5-7 0-6M303 1177l-7 2 1 7M112 1315l-6 5-8-2-2-7M296 1310l-7 4-6-7-8 1M149 1397l6 4 4-4 8 4M288 1279l-4-4 2-7-4-5M390 1132l4 8 8 2 4 8M270 1207l5-7 8-2M262 1112l7 1 7-5-3-8M279 1112l-6 2 0 8 4 5M237 1248l5-7-3-6 6-6M344 1461l5 0 2-7 7-3M171 1272l-2 7 3 5 7 0M242 1302l6-3 1-6M233 1432l-6 4-1 6-5 4M277 1394l0 7 6 2M426 1465l-8-1-1-7M355 1472l4-3 4 5 6-4M86 1258l5 7 7-2M209 1141l-6-4-5 6 1 9M186 1179l4-6-6-6-5 2M412 1082l-8 3-6-12M289 1214l1 9-6 3 1 6M151 1110l5-3 2-8M420 1232l5-3-1-8M105 1149l-4 3-1 7M268 1365l-9-2-3 7M224 1169l2 8-8 3 1 8M353 1359l-2 8 5 3-1 9M129 1458l-5 4 2 7-7 5M122 1426l8 3 3-4-2-7M379 1236l2 8-6 3 2 7M134 1234l5-7 7 1M156 1210l5-1 5-8-6-4M419 1213l-5 8 1 5-4 5M240 1410l-3-8 4-4M119 1129l-1 9-7 3-2 9M392 1184l-2 5 7 4-1 7M369 1154l5 3 0 7 6 6M189 1239l-3-5-8-2-7 5M278 1202l3-8-4-4-5 4M193 1247l0 8 6 4-1 7M218 1359l7-2 0-7 5-2M258 1461l5 1 4-5M372 1430l-8 4-2 6-7 1M265 1340l6 1 5 5M380 1427l1 9 7 1 3-6M226 1134l-2-7 4-7" stroke="#e86a6a" stroke-width="1.6" stroke-linecap="round"/>
<path d="M403 1150l5-5M252 1475l7-2M141 1424l-2 6 4 5M374 1175l0 7 5 5M418 1321l-5-4-7 1M354 1199l1-6-4-5 5-5 1-6M412 1240l-7-1M391 1158l6-2 1-6-6-3M147 1330l1 6M315 1431l6-4 5 2 6-2 3-7M399 1385l6 0M110 1177l2 6M336 1108l-7-1-2 6 3 6M262 1264l1-6M179 1226l0 6-6 2-5-5M356 1342l-7 0-3 5M358 1437l-6-3 1-6M268 1402l6 5 1 6-6 5-6-2M188 1348l-4 5-7 0-7 3-1 7M233 1133l2 5-4 4-6-1-3-6M346 1469l5-4 1-6 5-4M243 1483l7 3 2 7-5 5M249 1111l7-2M404 1188l6-1 3 6-3 5-7 2M292 1202l7-2 0-6-6-2M146 1461l6-1 3-6 7 2M173 1145l7 1 4-6M102 1255l-1 7M347 1189l4-5-1-7M129 1359l-1-6-7-3M65 1200l4 5M94 1250l-4-5 0-7 6-2M423 1360l-6-4-1-7 5-5 7 2M406 1102l-3-5 5-5 7 1M385 1369l-5 4 1 7-5 2M290 1098l-6 3-2 6M135 1437l-7 0-3 6-6 1M128 1265l-4 6-7 1M101 1162l7 2M239 1145l6-1 4 6 7 2 5 5M114 1166l4-5M114 1310l-2-6 5-4M434 1325l4-5M105 1160l-5-4 2-7-5-3 2-7M370 1464l4 5 6 0 5-5-2-7M276 1105l6-4 7 2M404 1304l-2 6M324 1163l-7 0-4 6 0 7M278 1282l-1-7 5-5 1-6M423 1276l-7-1-5 3-6-2-5 4M140 1112l3-6-4-5-6 1-2 7M269 1406l0 6M94 1228l-5-5-5 3-6-3M77 1442l4 5 1 6M251 1166l6 0 4 4 6-3M94 1260l-4-6-7-2-2-6M201 1405l-7-2-3 6 2 6M363 1118l-4 5M245 1165l5 3 0 6-5 4M251 1335l6-2 6 2M105 1137l0-6-5-4M424 1288l-4 6 2 5-6 4M246 1269l3-5 0-8M216 1444l-1 7 5 5-3 5M102 1180l-2-6-6-3 0-8M158 1198l6 3 1 7 5 6M157 1217l6-4 3-6M323 1125l-5 3-7-1-5 4M423 1196l5-4-1-7M328 1107l6 4M384 1104l-7-1-3-6-6-1M440 1128l0-7-5-5-7 3M231 1429l0-7 3-6M97 1230l-1-6 3-5M193 1149l1-6-5-4-7-1M224 1365l0 6 6 3 4-5 7-1M281 1450l-1-7M212 1168l-2-6M383 1230l2-6 5-3 5 4M88 1311l-7-2-4-4M232 1272l-1 8-4 6M419 1399l-6-3M107 1438l7 1 2 6 5 4M434 1306l-7 0M201 1366l1 7-3 6M101 1260l-6 2-4 5-7-2M250 1151l4 5 6-1 4-5M227 1406l-1 7 6 4M168 1129l6 3 1 7 5 4-1 6M145 1436l0-7M113 1398l7-3 5 5M67 1279l7 1 4 4-3 5-6 4M369 1369l6-5 6 2 5-5M190 1348l7 0 1 5M345 1389l-2 7 5 3M335 1151l7-4 2-7-3-6M220 1211l-6-2-4 6M423 1103l-5 3-6 0-4-6M373 1089l6 2 6-4 4 4 0 6M383 1115l6 4-3 6M348 1464l5 5-2 6 5 4M439 1107l5 4M255 1407l-3-6-6-2-6 3 1 6M141 1407l6-1 5 4M419 1133l6-1M93 1228l-6 2-4-6M293 1301l-6-4M110 1314l-1 7 5 2 2 7M257 1090l2-6 7-1M109 1413l-5 6 3 5 6-2M410 1128l-2 7M76 1255l-4 4M390 1246l-7 1-6-2-4 6M245 1161l5-2 5 6M226 1470l6 3M344 1119l-1 6 5 4 0 6-6 5M340 1290l1-6M341 1128l-6 3 2 7M224 1271l7-1 2 7 7 0M382 1385l-4 6 5 5M161 1372l0-6M404 1195l7 1 1 7M123 1146l-2 7-7 3-4-5 1-6M205 1181l6 2-1 6 3 7M187 1414l-3 7-6 3-6-1M118 1135l2-6 5-4-3-7-6-1M173 1463l-5-2-5 5-1 6 4 5M417 1293l3 5-3 6-7 1M111 1114l-3-5M388 1265l-3 6 3 6 7 1 0 6M421 1289l5 4M187 1156l-1-6 4-7M117 1073l0-8 7-1M345 1174l4 4M440 1135l1-6-3-5 4-5 0-6M206 1174l3-6-2-6-7-2-5 4M410 1225l2 6-5 3M163 1198l6 1M263 1238l-6 4-1 6 5 5M391 1332l-7 0-5-4-2-5-7 0M108 1403l4-4M445 1366l1-6 4-5-1-6-6 0M368 1167l4-4-1-7M363 1386l-6-3-1-6-7-1M120 1179l6 0 6-4 7 3 3 7M221 1105l7 1 5-5M142 1449l-7 3M223 1423l-5 5-2 7 3 5-4 6M122 1447l6 1 4 6-1 6M330 1350l4-5 6-2M103 1168l-5-3 0-7M420 1449l2-7M207 1165l-4-4 0-6 4-5M129 1421l3 5 6 3M103 1159l3 5M165 1245l-7-1M364 1110l5 2M421 1429l-3 5M209 1316l1 6 6 4-2 6M142 1339l6 0 3-6 7 1M378 1459l-6-5M189 1443l-6-2-5 4M429 1447l-1-6-5-4-1-7M81 1147l-6 3M441 1273l5-4 1-7M334 1167l-1 7-7 2 0 6M246 1133l6 0M399 1310l6-3-1-7 5-4M424 1469l0-6 4-4M162 1444l4-6-2-6M255 1322l6 1 3-6M227 1451l-5-5 3-6M316 1109l-2-6-7-3M405 1182l-7 2-4 6M134 1234l6 4 3 7-1 6-5 5M187 1116l4-5M91 1299l4-6-1-6 4-6-3-5M158 1196l6-2 3 5 0 6M424 1443l1-6M203 1115l3-6-2-6-6-3M103 1301l-6-1-3 6M116 1370l7-1M158 1143l-4 4M95 1337l-1 6M352 1428l-3 5M426 1333l-6-4M158 1451l1-7M163 1187l2-7-5-5-7 0-2-6M74 1322l-6 4-6-1M351 1447l3-7-6-4-6 1-5 5M414 1359l3 6-2 6M146 1284l3 5-2 6-6 2-1 6M316 1106l4-4M208 1210l4-6M304 1283l-3-6-7 1-5 5M71 1333l-4-6-7-2-3 5 3 7M133 1421l-5-3-2-6 3-7-3-7M201 1416l4-4 5 3M198 1424l-6 4-5-5-1-6-6-1M355 1117l4-4 7-1 4 4M83 1191l4-6M441 1239l2 6M227 1221l-3 7M366 1472l5-4 6 4M211 1114l5 5 1 7-5 4-6 1M246 1443l-6 2M205 1421l-6-2 0-7-3-5 0-7M270 1309l-4 4-6-2 1-5-6-4M415 1351l-4 6-6-1-4-4M426 1148l-4 6-6 1M386 1312l-7-1-4 7-7-2M412 1425l4 6-1 7-6 1M172 1195l-5 4 0 6 4 5-1 6M294 1116l-4 4-7 1-5-5 4-5M151 1194l-2 5M420 1269l-6-3-7 3-6-5-2-7M416 1304l-2 7-7 3-4-5M340 1139l6 2M108 1180l-5-3-5 3M361 1421l-2 6M392 1342l5 5M423 1347l1-7-4-5-1-8M250 1228l-7 1-5-3-1-7 5-4M396 1106l-3-5-6-2-5 3M431 1285l5 6 6-3M381 1142l5-5 1-7M399 1349l2 6-6 4-6 0M419 1410l2 7 6 3 0 6M99 1104l0 7-7 3-5-4 2-7M422 1432l-6-5M391 1474l1-7-4-5-6 3-5-4M376 1447l7 3 5-4-2-6 2-7M128 1351l6 1 6 5 6 1 2 6M132 1418l-8 0-4 6-6-1M362 1228l-3-6 4-6-2-6 4-5M408 1292l-5-5-6 3M197 1212l7-1 5-4M102 1142l-1 6M441 1127l-2-5M96 1185l5-5M438 1163l3 6 7 0 6 3M386 1365l-6 3M430 1331l-3 5-7 1-5-2-6 3M441 1353l5 5 5-3-1-6M370 1450l7 2 6-3 7 1M140 1251l6 1 5-4 7 3M353 1442l-3 6 3 5 0 7M400 1168l-2-7-6-4M375 1253l-4 6 4 5-4 6-6-2M171 1196l-3-7 2-5-5-4-7-1M181 1442l-3 6 1 7 5 4 6-3M374 1383l5-5M151 1395l6-5 6 2M115 1379l-1 7M333 1319l6 4 6-1 6 3 6-3M361 1209l4 7M181 1260l2 7 6 3 5-5-1-7M364 1395l6-2 2-6-6-3M70 1307l-3 6-6-1M147 1253l3 6 5 4 1 7-4 5M379 1381l6-1 1-6M251 1400l-7 1M120 1255l-4 5M253 1329l-2 6M132 1113l2-6-2-6M404 1211l-5 5 2 7-3 7 2 6M201 1145l-4 6 3 6 6 2 4 6M91 1354l-6 2 1 7 5 5-3 6M136 1408l-6 3M270 1475l-2-5-6-5-6 1M166 1090l-6 2-5-5-6 2-5-5M189 1093l-5 3-6-4-6 2M427 1464l-5 5M394 1330l2-7 7 0M150 1091l6-3 4 5 6 2M110 1149l6 4 0 6 6 4 0 7M227 1407l7 3 4-5 7-2M264 1272l2 5-3 5M76 1347l-6 1M113 1442l6 2M147 1316l3 5M216 1144l-5-4-1-6M90 1100l-7-1M282 1149l3 5 6 0 5-4M392 1189l-2-7M438 1201l-4-6M237 1160l3 5M290 1458l7 1 3 6 6-1 6 3M373 1250l3 5M146 1374l-4 5-6-3-4 4-2 7M341 1146l3-4 6 1 1 7M107 1478l-7-2-4-6 3-7 7-2M375 1318l6-4 7-1M92 1405l0 7 3 5M320 1251l2-7-4-5-1-7M301 1474l2-6 5-2 3-6M326 1087l-6 5-5-3 0-7-7-2M192 1265l-5-3-5 2-5-5-2-7M414 1365l5-4 0-6M393 1259l5 5 6-3 1-7-4-4M116 1240l0-7 4-6M283 1091l-4-5 4-5M100 1163l-3-6 4-5-4-6-7 2M385 1310l7-3M76 1315l6-1 1-7-3-5 4-6M365 1417l6 2 6-4M87 1317l-6-2 1-7M392 1102l6 1 3 6M332 1394l-5 5-7 0M322 1112l-3-5M276 1357l-7-1-4-5-6 2M419 1166l6 4 0 6M435 1132l-7 3-5-5-6 4-7-1M367 1308l5 2 5-4 0-6M87 1180l7-2M95 1394l6 2M304 1423l-4 5 2 6-6 3M380 1403l6 2 2 7M401 1178l1 6-6 4M395 1153l1 7 7 3M332 1461l0-6-5-4-3-7M91 1184l6 3M349 1142l5-4 5 3 6-2M439 1378l2 7M434 1448l2-5M414 1354l5 4 6-2M177 1104l-5-4-5 5-6-2-6 4M395 1190l5 6M382 1154l5-4M75 1450l-6 1-6-4M422 1262l1 7-3 5M332 1116l6-2M130 1407l1-7-5-4 0-6M123 1459l5 2M218 1328l-7 3M357 1471l0 8-7 1-7-2 0-7M381 1396l-1-7-7 0-3 5-6 0M94 1186l7-2M410 1304l-3-6-7 1M361 1371l7 3M438 1290l-2-6 3-5 7-2M295 1160l-6 5-2 6M278 1124l-1 7-6 3-6-4-2-6M143 1268l4 5 0 6M217 1445l5 3M70 1341l-5-5-5 3M265 1107l6-3 5 4-1 7-5 4M394 1130l6 3M402 1425l-4-6 0-6M284 1183l-6-3-6 1-5-3M304 1440l-2-5-6 1-3 6M319 1445l-6-1 0-7-7-3M420 1469l3-5-4-4M190 1458l6-4 3-7 6-3 0-6M408 1190l-7 0M336 1371l-5-4M339 1470l3 5M183 1241l6 0M93 1323l5-4-1-7M399 1434l6 3 6-4 0-8M422 1372l-2 7 5 5-4 5-6-2M291 1123l-2 6M438 1367l-3-6 4-6 6-1 2-6M210 1430l7-2 4 4 7 1 1 7M110 1442l4 6-3 5 4 4M141 1360l-7-2-5 4 1 6M435 1178l0 7M390 1090l3 7 6-1 3-5 7-2M131 1422l-5-5 0-6M167 1460l-8 0M358 1186l1-6-5-3M283 1423l-7 3-4-5M216 1469l2-5M168 1465l6 2 2 6-3 6M309 1184l-5 3-6-1-6 3-2 6M259 1412l-4-7 5-5M258 1129l-3 7-7-2-5-5-5-2M418 1167l2-6 6-3M154 1138l-4 5M145 1233l5 4 5-1 6 1M157 1130l-3-5M262 1086l3-6 6 1 0 7 6 4M422 1353l-6-5M95 1109l0 7 5 5-3 5M125 1218l-5 2-6-1M140 1381l2 7-3 6M279 1416l4 5-2 6M312 1141l0-7M110 1379l7 1 5-4 7-1 4 6M75 1349l-7-1-4-4 2-6M312 1117l-4-6 4-6M413 1187l-6 2-6-4M427 1236l1-6 5-3M281 1120l5-5 0-7-3-5M206 1255l6 0 4-5 7 1M102 1381l-2-6 4-7M98 1429l-4 6-6 2-7-2-5 5M373 1343l-6 4-1 6-7 1-3 5M446 1278l4 4M146 1120l-7 0-3-5-6-1M255 1412l1 6M379 1231l-7 0M382 1129l7-2 3 7M381 1337l-5 5-1 7 6 4 6 0M146 1203l0-7 5-3M454 1463l-4 4-1 7M384 1306l3-6 6 0 3 7 6-1M84 1315l-1-6M276 1110l1-8M113 1434l4-4M361 1121l1-6-4-4M415 1337l7 2 3-5-3-6 2-6M422 1471l6 1M311 1167l3 5M223 1215l-1 6-4 4M116 1462l-2 6-7 0-2-7M209 1414l5-5-1-7-5-4 3-6M127 1224l0 6M192 1190l-2 7-6 4M343 1457l-2 5-7 0M141 1170l3-6 6-2M220 1345l-6 1-3-7M165 1423l-6-1-1-7 6-2M394 1349l6 1 3 5M130 1291l0-7 3-5M270 1290l-1 6-6 3 0 7-6 2M142 1464l-4 5-1 7-4 5M366 1204l4 6-1 7M156 1133l-2 7 3 5M104 1351l-6 1-3 7M445 1386l-4-5M140 1404l-7 2 0 6 7 3 6-1M85 1288l4 5-2 6-6 3-7-2M240 1255l-6-1-3 5 3 5 0 6M393 1391l4-4-1-7M433 1146l5-3-3-7M173 1373l0-7M213 1403l0-6 5-3M340 1164l-6 3-1 7M391 1171l0 6-6 2-5-5M139 1240l2 7 7 0 3 6 7 2M344 1440l-6-2-4-5M259 1445l1-7 6 0M180 1449l3-5-2-6M211 1358l-2-6-6-1-2 6-7 3M68 1370l-3 6 4 5M292 1144l-5 4-1 6 4 6M417 1188l7 2 5 5 7-4 6 1M152 1209l4 4 5-4 0-7 6-2M213 1262l-3 5-7 2-4-6 4-5M360 1135l5-4-1-6-7 0-4-6M112 1130l7 1M278 1140l-2 5M327 1391l-5-4M403 1234l-5 3 0 6M349 1250l3-5-5-5 3-5M65 1248l-7 3-5-5M300 1472l4 5-4 5M207 1147l5-3 6 3 2 6-1 7M103 1421l4-4-2-6 3-6 0-6M366 1195l4-5M319 1301l1 7M291 1463l7-1 5 3M377 1301l7 0 2 6-6 4-5-3M146 1114l-7-1-5-5-6 0-2-6M423 1354l1-6 4-5 6 2M357 1204l-4-4-1-6 4-6M216 1128l5-3 7 2 5-6M113 1168l6-2 5 2M362 1354l-5 4 1 7M388 1177l7 2 3-5 6-3 4 4M349 1399l-6 0-3-5-7 2-3 7M379 1358l-7 2M179 1439l-7 1-4 3-6-3-7 4M293 1432l2-6 5-3M412 1191l-3-5-5-3-3-5M347 1407l6 1 7-2 5 3M150 1225l-7 2-1 6M349 1475l-5-5-7 2M146 1363l6-3 3-5-1-7M268 1464l-7-2-4-4-6 3-2 7M104 1200l2 6 6-1 1-6M109 1235l-6-2 0-8-6-3-6 1M248 1143l6 0 5-3 5 5 1 6M306 1169l-2-6M90 1251l0 6M128 1438l6-2 7 2M297 1298l0 6 4 5 7 2M228 1148l-5-4M128 1389l-3 6-6 2M89 1130l-3 6 3 6M150 1286l5-3 1-6-4-6 3-5M300 1430l7-1M124 1344l-7-3M367 1167l1 6 6 3 4 5 6 1M237 1310l-6 1-6 5 2 5M100 1121l-2-6M99 1125l-6-4M436 1460l-5-2-3-6M389 1161l-7 2M342 1374l-7 0M332 1391l-6 1-6-5M103 1310l-3 5-6 3-7-3M360 1410l2 6M390 1364l-6 0M260 1455l7 2 0 7-7 2-5-4M279 1428l-4 4M295 1426l7 0 3-6M400 1405l5 4M224 1154l1 6-4 5-1 6M251 1099l5 3 5-4 1-6-4-5M187 1166l5 2M343 1394l-7 0-6-4-7 1M310 1215l-4-5M70 1459l-5 5 3 6 7 0 1 6M193 1385l-4-5-7 1-3 6M316 1216l5 4M367 1295l6 0 4-4M418 1133l0-6M313 1141l6 3 3 6 6 2M309 1353l-1 6M116 1413l7-3 0-6M145 1450l-1 6 5 4 6-5M76 1279l-6 4 0 6-5 5M323 1474l-4 7-7 2-3 6M357 1399l7 1 4 4-3 5 1 6M377 1309l-4 6M97 1278l-7 1-5 6-6-3-3-6M307 1461l-6-2M123 1210l1 6 6 3 3 6 6 1M353 1100l-4-5-7 3-2 6M296 1167l6-3 1-7 4-4 7 3M362 1243l-7 0-2-7M225 1450l-6-4 0-6 6-1 0-6M369 1163l4 6M107 1465l6 1 5-5M203 1404l6-2 7 3M225 1211l6-1 0-6 5-2M161 1410l2 6M145 1109l2-6-4-5 3-5M317 1138l-6 4M443 1222l6-2 2-6M117 1228l-6-2-3-6 5-4 1-6M117 1264l1 6-5 4-5-5-6 3M410 1128l5 2-1 6-5 5 0 7M324 1326l5-4 0-6M134 1354l-3 6 3 5-5 5 0 6M154 1273l-2 5-5 3-7-2M195 1112l6 4M246 1275l7 0 6 5 6-4M229 1212l-7 0-5-3M311 1094l6 2M108 1290l-3 5 5 6 7 2M163 1196l4-5 6-2M202 1145l-2 6-7 2-5 5-1 6M380 1456l-7-1-4-5M152 1324l-2-5M223 1452l5 6M414 1218l-5-2-1-7M156 1408l3-5-3-6M235 1151l-5 5 3 6 7 1 5-3M102 1184l-3 6 5 4-1 6M145 1391l7-2 4-4M290 1107l-5 4 1 7 5 5M306 1116l-5-5 3-5M227 1187l-4 6 4 5M347 1155l-2-5 2-7 7-3-1-7M276 1464l-4-5-1-7M302 1415l2 6-3 7 4 5-1 7M361 1113l-7-2-2-6 4-6-1-6M136 1435l4-6M73 1383l1 7-4 6-6 2-7-2M344 1101l-7 2-7-2-4 4M135 1136l5 2 5-5M222 1464l7 1 3-6 5-3M201 1421l4 4 6 1M342 1116l-5 3-7-3M133 1311l4 5 7-1 4-6M184 1338l5 5 5-2-1-6M180 1161l6 1M412 1318l-2-6-6-5M322 1416l7 0M153 1376l6-1 4-6M234 1472l-6 2-2 7-6 1M408 1269l6-1 6 3 2 5M224 1168l-5-3M324 1353l6 0 5-6M341 1222l-6-5M371 1195l6 0 5 4 6-1 4 6M400 1142l-6 0-4 6-7-1M415 1416l-2 5 4 4 6-3 4 4M381 1184l-6-2-2-6M316 1462l3 7 7 1 3-5-3-5M291 1138l-6 2 0 6M295 1086l-5-4-5 2-3 7-6-1M339 1148l-7-1-2-6-7-3M145 1366l-6-3M435 1136l7 3M273 1169l-5-4-3-7 5-3M155 1333l-5 5-8 0" stroke="#5cc4c4" stroke-width="1.6"/>
<defs><path id="cbb" d="M403 1150h0M252 1475h0M141 1424h0M143 1434h0M374 1183h0M379 1187h0M407 1319h0M354 1199h0M356 1193h0M352 1188h0M357 1183h0M412 1240h0M391 1158h0M396 1155h0M147 1330h0M321 1427h0M405 1385h0M110 1177h0M112 1183h0M336 1108h0M329 1107h0M327 1114h0M330 1120h0M263 1258h0M168 1230h0M350 1342h0M347 1348h0M358 1437h0M352 1435h0M268 1402h0M273 1407h0M274 1413h0M269 1418h0M262 1416h0M188 1348h0M177 1352h0M170 1356h0M169 1363h0M235 1139h0M232 1143h0M226 1142h0M352 1459h0M357 1454h0M249 1485h0M246 1498h0M413 1193h0M410 1198h0M299 1201h0M298 1195h0M292 1193h0M152 1460h0M154 1454h0M162 1455h0M173 1145h0M180 1147h0M183 1140h0M102 1255h0M351 1184h0M350 1177h0M128 1353h0M70 1205h0M421 1345h0M428 1346h0M406 1102h0M414 1092h0M385 1369h0M381 1380h0M376 1382h0M290 1098h0M285 1101h0M128 1438h0M119 1445h0M128 1265h0M117 1272h0M101 1162h0M245 1144h0M249 1150h0M114 1166h0M118 1161h0M97 1146h0M370 1464h0M375 1469h0M385 1463h0M383 1457h0M276 1105h0M404 1304h0M402 1310h0M318 1163h0M314 1175h0M423 1276h0M415 1275h0M410 1278h0M140 1112h0M269 1406h0M90 1223h0M81 1454h0M251 1166h0M261 1171h0M267 1168h0M94 1260h0M90 1254h0M83 1252h0M81 1245h0M191 1409h0M363 1118h0M245 1165h0M249 1168h0M250 1174h0M245 1178h0M105 1137h0M422 1299h0M417 1304h0M216 1444h0M215 1452h0M220 1457h0M102 1180h0M95 1171h0M95 1163h0M158 1198h0M164 1201h0M165 1208h0M169 1214h0M163 1214h0M318 1128h0M307 1130h0M423 1196h0M428 1192h0M428 1184h0M328 1107h0M378 1103h0M369 1096h0M435 1116h0M231 1429h0M99 1218h0M193 1149h0M224 1365h0M224 1372h0M240 1369h0M281 1450h0M212 1168h0M210 1162h0M385 1224h0M88 1311h0M232 1280h0M228 1285h0M419 1399h0M434 1306h0M427 1306h0M201 1366h0M199 1380h0M101 1260h0M96 1262h0M92 1268h0M85 1265h0M227 1406h0M168 1129h0M175 1139h0M145 1429h0M120 1395h0M67 1279h0M74 1279h0M78 1284h0M75 1289h0M197 1348h0M342 1147h0M341 1134h0M214 1209h0M210 1214h0M412 1105h0M408 1099h0M385 1126h0M353 1469h0M351 1476h0M356 1480h0M439 1107h0M444 1111h0M255 1407h0M246 1399h0M241 1402h0M242 1408h0M419 1133h0M87 1231h0M293 1301h0M110 1314h0M114 1323h0M114 1423h0M410 1128h0M408 1135h0M72 1260h0M378 1245h0M374 1251h0M255 1165h0M344 1119h0M335 1131h0M337 1138h0M224 1271h0M231 1271h0M240 1278h0M382 1385h0M378 1391h0M384 1396h0M161 1366h0M412 1202h0M111 1150h0M112 1144h0M211 1184h0M210 1189h0M172 1423h0M120 1129h0M126 1125h0M173 1463h0M168 1461h0M163 1465h0M162 1471h0M417 1293h0M410 1304h0M111 1114h0M388 1265h0M426 1293h0M187 1156h0M190 1143h0M117 1066h0M443 1119h0M443 1113h0M206 1174h0M207 1162h0M200 1161h0M194 1165h0M163 1198h0M170 1199h0M391 1332h0M380 1328h0M371 1323h0M443 1349h0M372 1156h0M357 1377h0M350 1377h0M132 1176h0M139 1179h0M221 1105h0M232 1101h0M142 1449h0M223 1423h0M218 1427h0M216 1434h0M219 1440h0M128 1448h0M330 1350h0M420 1449h0M207 1165h0M203 1155h0M207 1150h0M103 1159h0M417 1433h0M209 1316h0M216 1326h0M148 1339h0M378 1459h0M372 1454h0M184 1440h0M179 1444h0M429 1447h0M428 1441h0M422 1430h0M75 1150h0M441 1273h0M447 1262h0M333 1174h0M326 1176h0M405 1307h0M409 1296h0M424 1463h0M429 1459h0M166 1438h0M227 1451h0M222 1446h0M225 1440h0M308 1100h0M405 1182h0M394 1190h0M143 1245h0M142 1251h0M137 1256h0M98 1281h0M165 1194h0M206 1109h0M204 1103h0M116 1370h0M123 1369h0M154 1147h0M95 1337h0M94 1343h0M349 1433h0M426 1333h0M159 1444h0M150 1169h0M74 1322h0M62 1325h0M336 1442h0M414 1359h0M418 1365h0M147 1295h0M140 1303h0M316 1106h0M320 1102h0M304 1283h0M71 1333h0M58 1330h0M60 1337h0M133 1421h0M129 1405h0M126 1398h0M205 1412h0M210 1415h0M180 1416h0M366 1112h0M441 1239h0M443 1245h0M227 1221h0M224 1228h0M376 1472h0M212 1130h0M246 1443h0M205 1421h0M199 1419h0M198 1412h0M195 1407h0M195 1400h0M266 1313h0M260 1310h0M255 1301h0M415 1351h0M405 1356h0M401 1351h0M422 1154h0M379 1311h0M375 1318h0M172 1195h0M167 1199h0M167 1205h0M171 1210h0M294 1116h0M283 1121h0M278 1116h0M149 1200h0M420 1269h0M415 1266h0M402 1264h0M400 1257h0M416 1304h0M108 1180h0M103 1177h0M98 1180h0M359 1427h0M397 1347h0M424 1340h0M250 1228h0M243 1229h0M387 1099h0M382 1102h0M431 1285h0M386 1137h0M399 1349h0M401 1355h0M395 1360h0M419 1410h0M421 1416h0M427 1426h0M99 1104h0M416 1426h0M382 1465h0M387 1446h0M385 1440h0M128 1351h0M132 1418h0M120 1424h0M362 1228h0M359 1222h0M363 1216h0M362 1209h0M408 1292h0M403 1287h0M397 1290h0M197 1212h0M204 1211h0M102 1142h0M101 1149h0M441 1127h0M439 1122h0M96 1185h0M100 1180h0M441 1169h0M448 1168h0M454 1172h0M386 1365h0M381 1368h0M419 1337h0M414 1335h0M451 1354h0M449 1348h0M370 1450h0M377 1453h0M382 1450h0M151 1248h0M353 1442h0M350 1448h0M353 1461h0M400 1168h0M391 1157h0M375 1253h0M371 1260h0M371 1271h0M365 1269h0M171 1196h0M168 1189h0M184 1460h0M190 1457h0M151 1395h0M163 1392h0M333 1319h0M339 1323h0M345 1322h0M351 1325h0M358 1322h0M361 1209h0M365 1216h0M183 1267h0M68 1312h0M147 1253h0M149 1259h0M155 1262h0M379 1381h0M120 1255h0M253 1329h0M133 1107h0M399 1235h0M201 1145h0M198 1151h0M201 1158h0M91 1354h0M86 1356h0M87 1362h0M136 1408h0M270 1475h0M268 1469h0M262 1465h0M256 1465h0M160 1091h0M154 1086h0M143 1083h0M189 1093h0M177 1092h0M172 1094h0M396 1323h0M150 1091h0M156 1088h0M160 1093h0M166 1095h0M116 1152h0M116 1158h0M122 1169h0M227 1407h0M233 1410h0M237 1406h0M264 1272h0M76 1347h0M113 1442h0M147 1316h0M150 1321h0M90 1100h0M83 1099h0M282 1149h0M285 1154h0M291 1154h0M296 1150h0M392 1189h0M300 1466h0M311 1468h0M376 1255h0M130 1388h0M341 1146h0M345 1142h0M351 1143h0M352 1150h0M107 1478h0M100 1476h0M99 1463h0M106 1461h0M375 1318h0M381 1313h0M92 1405h0M95 1417h0M320 1251h0M322 1244h0M318 1240h0M316 1233h0M303 1468h0M308 1466h0M311 1460h0M315 1089h0M175 1252h0M414 1365h0M397 1264h0M403 1262h0M116 1240h0M116 1233h0M120 1227h0M283 1091h0M280 1086h0M283 1081h0M100 1163h0M102 1152h0M385 1310h0M391 1307h0M76 1315h0M81 1314h0M365 1417h0M371 1419h0M377 1415h0M87 1317h0M82 1315h0M327 1399h0M322 1112h0M265 1350h0M259 1353h0M425 1170h0M435 1132h0M424 1129h0M417 1133h0M410 1133h0M367 1308h0M372 1310h0M378 1299h0M87 1180h0M93 1178h0M95 1394h0M102 1396h0M304 1423h0M300 1428h0M380 1403h0M386 1404h0M402 1184h0M396 1160h0M402 1163h0M332 1455h0M91 1184h0M96 1187h0M358 1142h0M364 1140h0M439 1378h0M434 1448h0M436 1443h0M424 1356h0M171 1100h0M166 1105h0M160 1103h0M154 1107h0M382 1154h0M387 1149h0M75 1450h0M63 1446h0M422 1262h0M130 1407h0M349 1480h0M343 1477h0M380 1389h0M370 1394h0M94 1186h0M401 1299h0M438 1290h0M446 1277h0M289 1165h0M288 1171h0M278 1124h0M277 1131h0M264 1130h0M263 1124h0M147 1279h0M217 1445h0M70 1341h0M66 1336h0M265 1107h0M270 1120h0M402 1425h0M399 1413h0M267 1178h0M304 1440h0M319 1445h0M313 1436h0M420 1469h0M419 1460h0M196 1454h0M198 1447h0M205 1444h0M408 1190h0M339 1470h0M343 1476h0M93 1323h0M399 1434h0M406 1437h0M415 1387h0M438 1367h0M435 1361h0M439 1354h0M444 1353h0M229 1433h0M110 1442h0M114 1448h0M116 1457h0M129 1362h0M399 1096h0M408 1089h0M131 1422h0M167 1460h0M159 1460h0M276 1426h0M218 1464h0M175 1473h0M289 1194h0M259 1412h0M261 1401h0M258 1129h0M418 1167h0M150 1144h0M151 1238h0M162 1238h0M154 1125h0M271 1082h0M277 1093h0M422 1353h0M97 1126h0M119 1220h0M140 1381h0M143 1387h0M279 1416h0M110 1379h0M121 1376h0M68 1348h0M312 1117h0M308 1111h0M401 1185h0M427 1236h0M428 1230h0M281 1120h0M286 1115h0M283 1103h0M212 1255h0M216 1250h0M223 1251h0M102 1381h0M99 1374h0M87 1438h0M80 1436h0M75 1441h0M368 1347h0M359 1354h0M446 1278h0M136 1116h0M371 1231h0M389 1127h0M376 1342h0M146 1203h0M454 1463h0M387 1300h0M393 1300h0M402 1306h0M84 1315h0M276 1110h0M276 1103h0M117 1430h0M361 1121h0M358 1111h0M415 1337h0M422 1339h0M422 1328h0M314 1172h0M222 1221h0M218 1225h0M116 1462h0M114 1468h0M108 1468h0M213 1402h0M207 1397h0M192 1190h0M184 1201h0M341 1462h0M334 1462h0M141 1170h0M144 1164h0M220 1345h0M165 1423h0M163 1413h0M394 1349h0M404 1356h0M130 1284h0M264 1299h0M258 1308h0M137 1476h0M369 1210h0M368 1217h0M156 1133h0M153 1140h0M98 1352h0M140 1404h0M134 1406h0M134 1412h0M147 1414h0M88 1293h0M81 1301h0M240 1255h0M235 1271h0M393 1391h0M395 1380h0M436 1136h0M173 1373h0M213 1403h0M391 1171h0M385 1179h0M380 1174h0M139 1240h0M147 1247h0M150 1253h0M156 1256h0M344 1440h0M337 1439h0M333 1434h0M259 1445h0M180 1438h0M203 1351h0M287 1148h0M286 1154h0M290 1160h0M424 1190h0M429 1195h0M152 1209h0M161 1208h0M167 1200h0M213 1262h0M203 1269h0M204 1259h0M360 1135h0M363 1126h0M356 1125h0M352 1119h0M112 1130h0M276 1145h0M327 1391h0M322 1387h0M399 1237h0M399 1244h0M349 1250h0M352 1245h0M54 1247h0M300 1472h0M300 1482h0M219 1147h0M220 1160h0M103 1421h0M105 1410h0M108 1405h0M108 1399h0M369 1190h0M319 1301h0M320 1308h0M291 1463h0M377 1301h0M384 1301h0M374 1307h0M146 1114h0M133 1108h0M128 1108h0M126 1101h0M423 1354h0M352 1195h0M356 1189h0M216 1128h0M222 1126h0M229 1127h0M119 1166h0M362 1354h0M357 1358h0M358 1365h0M398 1174h0M404 1171h0M408 1176h0M349 1399h0M340 1394h0M334 1396h0M331 1403h0M179 1439h0M172 1440h0M168 1443h0M155 1443h0M294 1426h0M347 1407h0M349 1475h0M344 1470h0M336 1471h0M261 1462h0M257 1458h0M251 1461h0M104 1200h0M114 1200h0M104 1225h0M248 1143h0M259 1139h0M264 1144h0M265 1150h0M306 1169h0M304 1162h0M90 1257h0M134 1435h0M223 1144h0M128 1389h0M120 1397h0M86 1136h0M150 1286h0M155 1283h0M156 1277h0M152 1271h0M155 1266h0M377 1181h0M231 1311h0M100 1121h0M98 1115h0M99 1125h0M94 1120h0M431 1458h0M427 1452h0M382 1163h0M342 1374h0M335 1374h0M320 1387h0M87 1316h0M260 1455h0M260 1465h0M275 1433h0M400 1405h0M224 1154h0M226 1159h0M222 1164h0M260 1098h0M261 1093h0M192 1168h0M323 1391h0M306 1210h0M70 1459h0M68 1470h0M188 1380h0M316 1216h0M321 1220h0M367 1295h0M373 1295h0M378 1291h0M322 1151h0M328 1153h0M116 1413h0M123 1411h0M145 1450h0M144 1457h0M149 1461h0M71 1288h0M323 1474h0M319 1481h0M364 1400h0M368 1404h0M365 1409h0M377 1309h0M90 1279h0M85 1285h0M123 1210h0M130 1219h0M139 1226h0M353 1100h0M302 1164h0M313 1155h0M354 1236h0M225 1438h0M107 1465h0M118 1460h0M203 1404h0M215 1405h0M230 1203h0M163 1416h0M145 1109h0M148 1102h0M317 1138h0M311 1141h0M449 1220h0M117 1228h0M113 1217h0M119 1270h0M410 1128h0M408 1142h0M408 1149h0M324 1326h0M329 1316h0M131 1360h0M147 1281h0M246 1275h0M259 1280h0M264 1276h0M229 1212h0M317 1097h0M105 1296h0M117 1303h0M163 1196h0M173 1189h0M202 1145h0M200 1151h0M193 1153h0M188 1158h0M380 1456h0M373 1455h0M152 1324h0M228 1458h0M159 1402h0M156 1396h0M230 1156h0M245 1160h0M102 1184h0M104 1194h0M102 1200h0M145 1391h0M152 1389h0M156 1385h0M285 1111h0M286 1118h0M291 1122h0M303 1106h0M347 1155h0M345 1150h0M354 1133h0M276 1464h0M272 1452h0M302 1415h0M305 1433h0M361 1113h0M354 1112h0M140 1429h0M74 1390h0M70 1396h0M64 1397h0M344 1101h0M337 1103h0M135 1136h0M140 1139h0M145 1134h0M230 1465h0M232 1458h0M237 1456h0M206 1425h0M212 1426h0M342 1116h0M330 1116h0M133 1311h0M138 1316h0M184 1338h0M188 1343h0M193 1336h0M180 1161h0M186 1162h0M410 1312h0M322 1416h0M153 1376h0M160 1375h0M234 1472h0M228 1474h0M226 1481h0M408 1269h0M420 1271h0M224 1168h0M324 1353h0M335 1217h0M371 1195h0M382 1199h0M394 1142h0M382 1147h0M415 1416h0M413 1421h0M417 1425h0M423 1423h0M427 1427h0M381 1184h0M375 1182h0M316 1462h0M319 1468h0M326 1469h0M327 1459h0M285 1140h0M284 1084h0M281 1091h0M275 1090h0M333 1147h0M138 1364h0M273 1169h0M271 1155h0M149 1338h0"/></defs><use href="#cbb" stroke="#3db4b4" stroke-width="6.4" stroke-linecap="round"/><use href="#cbb" stroke="#a8eaea" stroke-width="2.56" stroke-linecap="round" transform="translate(-0.96,-0.96)"/>
<defs><path id="rbb" d="M259 1473h0M139 1429h0M397 1149h0M148 1337h0M315 1431h0M326 1429h0M333 1427h0M262 1264h0M179 1226h0M356 1342h0M353 1428h0M233 1133h0M222 1136h0M243 1483h0M249 1111h0M256 1109h0M410 1187h0M292 1202h0M101 1262h0M347 1189h0M129 1359h0M121 1351h0M90 1245h0M417 1357h0M416 1350h0M135 1437h0M256 1152h0M117 1300h0M282 1101h0M289 1103h0M276 1275h0M281 1270h0M405 1275h0M400 1279h0M143 1106h0M139 1102h0M134 1103h0M132 1110h0M78 1223h0M193 1416h0M251 1335h0M257 1333h0M420 1294h0M250 1257h0M100 1174h0M166 1208h0M188 1139h0M234 1370h0M281 1443h0M383 1230h0M390 1221h0M81 1309h0M232 1272h0M107 1438h0M114 1439h0M250 1151h0M260 1155h0M179 1148h0M145 1436h0M113 1398h0M126 1400h0M381 1367h0M385 1362h0M190 1348h0M199 1354h0M345 1389h0M345 1140h0M220 1211h0M423 1103h0M418 1105h0M373 1089h0M348 1464h0M152 1410h0M266 1083h0M347 1136h0M341 1141h0M341 1284h0M161 1372h0M411 1196h0M123 1146h0M114 1156h0M213 1196h0M187 1414h0M185 1421h0M178 1424h0M123 1118h0M418 1304h0M108 1110h0M388 1278h0M395 1279h0M421 1289h0M124 1064h0M442 1128h0M262 1253h0M385 1332h0M378 1323h0M108 1403h0M450 1355h0M363 1386h0M358 1383h0M120 1179h0M126 1179h0M142 1185h0M98 1159h0M129 1421h0M133 1425h0M139 1428h0M106 1164h0M158 1245h0M364 1110h0M214 1332h0M142 1339h0M189 1443h0M81 1147h0M446 1270h0M252 1133h0M404 1300h0M261 1323h0M265 1317h0M315 1103h0M398 1184h0M134 1234h0M91 1299h0M94 1287h0M95 1276h0M203 1115h0M198 1100h0M103 1301h0M97 1300h0M158 1143h0M352 1428h0M163 1187h0M152 1176h0M146 1284h0M149 1289h0M301 1276h0M67 1327h0M61 1325h0M126 1412h0M201 1416h0M198 1424h0M359 1113h0M83 1191h0M216 1119h0M206 1131h0M270 1309h0M426 1148h0M386 1312h0M368 1316h0M412 1425h0M409 1439h0M290 1120h0M413 1311h0M406 1314h0M402 1308h0M340 1139h0M346 1141h0M361 1421h0M242 1215h0M396 1106h0M436 1291h0M389 1360h0M92 1114h0M86 1110h0M376 1447h0M209 1208h0M430 1331h0M140 1251h0M158 1252h0M398 1161h0M375 1265h0M165 1179h0M158 1179h0M179 1456h0M374 1383h0M114 1387h0M193 1257h0M369 1392h0M156 1270h0M385 1380h0M251 1400h0M116 1260h0M251 1335h0M88 1373h0M148 1088h0M184 1096h0M427 1464h0M122 1162h0M296 1459h0M146 1374h0M136 1377h0M388 1313h0M420 1356h0M400 1251h0M98 1147h0M83 1308h0M392 1102h0M332 1394h0M269 1355h0M425 1177h0M377 1305h0M302 1434h0M388 1411h0M396 1188h0M332 1461h0M354 1138h0M418 1358h0M395 1190h0M421 1274h0M126 1397h0M127 1390h0M123 1459h0M128 1461h0M357 1471h0M342 1470h0M381 1396h0M364 1394h0M271 1134h0M274 1115h0M394 1130h0M400 1134h0M398 1419h0M278 1180h0M272 1182h0M306 1433h0M190 1458h0M401 1190h0M422 1372h0M289 1130h0M447 1347h0M230 1440h0M141 1360h0M130 1368h0M435 1178h0M126 1418h0M126 1412h0M354 1177h0M168 1465h0M172 1480h0M309 1184h0M304 1186h0M244 1129h0M420 1161h0M145 1233h0M156 1236h0M157 1130h0M262 1086h0M266 1081h0M95 1109h0M139 1393h0M283 1421h0M312 1135h0M129 1375h0M132 1381h0M407 1189h0M373 1343h0M356 1359h0M139 1120h0M392 1134h0M384 1306h0M396 1306h0M363 1116h0M422 1471h0M214 1409h0M190 1197h0M400 1350h0M264 1307h0M142 1464h0M138 1469h0M366 1204h0M441 1381h0M85 1288h0M235 1254h0M218 1394h0M334 1167h0M391 1177h0M211 1358h0M194 1361h0M435 1192h0M441 1193h0M200 1263h0M304 1477h0M207 1147h0M303 1465h0M380 1310h0M388 1177h0M372 1360h0M162 1440h0M293 1432h0M299 1423h0M412 1191h0M353 1408h0M360 1406h0M150 1225h0M154 1348h0M249 1468h0M97 1223h0M254 1143h0M128 1438h0M297 1298h0M301 1309h0M308 1311h0M126 1395h0M307 1429h0M124 1344h0M373 1176h0M237 1310h0M225 1316h0M227 1321h0M103 1310h0M267 1457h0M267 1464h0M302 1426h0M405 1409h0M221 1170h0M187 1166h0M343 1394h0M330 1390h0M310 1215h0M181 1381h0M313 1141h0M319 1145h0M309 1353h0M66 1294h0M309 1488h0M302 1459h0M348 1094h0M296 1167h0M306 1153h0M355 1243h0M219 1445h0M219 1439h0M225 1432h0M369 1163h0M113 1465h0M209 1402h0M161 1410h0M143 1098h0M146 1093h0M115 1211h0M117 1264h0M114 1274h0M329 1322h0M140 1279h0M223 1212h0M217 1209h0M311 1094h0M150 1319h0M223 1452h0M414 1218h0M240 1164h0M227 1187h0M223 1193h0M354 1140h0M304 1421h0M301 1428h0M304 1440h0M357 1101h0M356 1094h0M330 1101h0M149 1309h0M164 1369h0M220 1482h0M422 1277h0M331 1353h0M377 1195h0M392 1203h0M373 1176h0M329 1464h0M295 1086h0M289 1082h0M324 1139h0M268 1165h0M265 1158h0M155 1333h0"/></defs><use href="#rbb" stroke="#dc1c1c" stroke-width="6" stroke-linecap="round"/><use href="#rbb" stroke="#ff9a9a" stroke-width="2.4" stroke-linecap="round" transform="translate(-0.9,-0.9)"/>
<defs><path id="wbb" d="M409 1146h0M374 1175h0M418 1321h0M413 1317h0M358 1177h0M405 1239h0M391 1146h0M336 1421h0M399 1385h0M179 1232h0M173 1234h0M184 1352h0M346 1469h0M351 1464h0M251 1492h0M404 1188h0M402 1200h0M146 1461h0M65 1200h0M94 1250h0M91 1238h0M96 1236h0M423 1360h0M402 1097h0M407 1092h0M380 1373h0M282 1107h0M125 1444h0M124 1271h0M109 1164h0M239 1145h0M261 1157h0M114 1310h0M112 1304h0M434 1325h0M438 1319h0M105 1160h0M100 1156h0M102 1149h0M99 1139h0M381 1468h0M324 1163h0M314 1168h0M278 1282h0M282 1264h0M269 1412h0M94 1228h0M85 1226h0M77 1442h0M81 1447h0M257 1166h0M201 1405h0M194 1403h0M359 1123h0M263 1335h0M105 1131h0M100 1127h0M424 1288h0M246 1269h0M250 1264h0M218 1462h0M157 1217h0M323 1125h0M312 1126h0M334 1111h0M384 1104h0M374 1097h0M440 1128h0M440 1121h0M428 1119h0M230 1422h0M233 1416h0M97 1230h0M96 1223h0M193 1143h0M181 1138h0M230 1375h0M395 1224h0M77 1305h0M413 1396h0M116 1445h0M122 1449h0M202 1374h0M254 1156h0M264 1150h0M226 1413h0M232 1417h0M174 1132h0M180 1142h0M69 1293h0M369 1369h0M375 1364h0M343 1396h0M349 1399h0M335 1151h0M379 1091h0M386 1087h0M390 1091h0M390 1097h0M383 1115h0M388 1120h0M252 1401h0M141 1407h0M147 1407h0M425 1132h0M93 1228h0M83 1225h0M287 1297h0M109 1321h0M116 1330h0M257 1090h0M259 1084h0M109 1413h0M105 1419h0M108 1424h0M76 1255h0M390 1246h0M384 1247h0M245 1161h0M250 1160h0M226 1470h0M233 1474h0M343 1126h0M347 1130h0M340 1290h0M341 1128h0M233 1278h0M404 1195h0M121 1153h0M205 1181h0M118 1135h0M118 1117h0M166 1476h0M420 1298h0M385 1272h0M395 1285h0M186 1149h0M117 1073h0M345 1174h0M350 1178h0M440 1135h0M439 1123h0M208 1169h0M410 1225h0M411 1231h0M406 1234h0M263 1238h0M257 1242h0M257 1248h0M112 1399h0M445 1366h0M446 1360h0M449 1349h0M368 1167h0M372 1163h0M227 1106h0M135 1452h0M215 1446h0M122 1447h0M132 1454h0M131 1460h0M334 1345h0M341 1343h0M103 1168h0M98 1165h0M422 1442h0M203 1161h0M165 1245h0M369 1113h0M421 1429h0M210 1322h0M151 1333h0M158 1334h0M423 1437h0M334 1167h0M326 1182h0M246 1133h0M399 1310h0M424 1469h0M162 1444h0M164 1431h0M255 1322h0M316 1109h0M140 1238h0M187 1116h0M190 1111h0M95 1293h0M158 1196h0M168 1199h0M167 1205h0M424 1443h0M425 1437h0M94 1306h0M420 1329h0M158 1451h0M165 1180h0M159 1175h0M68 1327h0M351 1447h0M353 1440h0M347 1436h0M341 1437h0M416 1371h0M140 1296h0M208 1210h0M212 1205h0M293 1278h0M289 1283h0M128 1418h0M192 1428h0M187 1423h0M186 1417h0M355 1117h0M370 1116h0M87 1185h0M366 1472h0M370 1468h0M211 1114h0M217 1126h0M240 1445h0M261 1305h0M411 1357h0M416 1155h0M416 1431h0M415 1438h0M171 1216h0M282 1111h0M151 1194h0M408 1268h0M392 1342h0M423 1347h0M420 1335h0M419 1327h0M238 1226h0M237 1218h0M393 1101h0M442 1287h0M381 1142h0M387 1130h0M427 1420h0M99 1111h0M88 1104h0M422 1432h0M391 1474h0M392 1467h0M388 1462h0M377 1462h0M382 1450h0M388 1433h0M133 1352h0M139 1357h0M145 1358h0M147 1363h0M125 1418h0M115 1422h0M366 1204h0M438 1163h0M427 1336h0M407 1338h0M441 1353h0M446 1357h0M389 1451h0M147 1252h0M353 1453h0M170 1184h0M181 1442h0M178 1449h0M379 1378h0M157 1391h0M115 1379h0M181 1260h0M189 1270h0M194 1264h0M364 1395h0M371 1387h0M365 1384h0M70 1307h0M61 1312h0M152 1275h0M385 1374h0M244 1401h0M132 1113h0M131 1101h0M404 1211h0M399 1216h0M401 1223h0M398 1229h0M206 1160h0M211 1166h0M92 1368h0M131 1411h0M166 1090h0M422 1469h0M394 1330h0M404 1324h0M110 1149h0M244 1404h0M267 1278h0M263 1282h0M69 1348h0M119 1444h0M216 1144h0M211 1141h0M209 1135h0M389 1183h0M438 1201h0M435 1195h0M237 1160h0M239 1165h0M290 1458h0M306 1465h0M373 1250h0M142 1380h0M132 1381h0M96 1470h0M92 1412h0M301 1474h0M326 1087h0M320 1092h0M315 1082h0M308 1080h0M192 1265h0M187 1262h0M182 1264h0M177 1259h0M419 1361h0M393 1259h0M404 1255h0M98 1157h0M91 1149h0M79 1303h0M83 1297h0M82 1308h0M398 1103h0M401 1109h0M320 1399h0M319 1107h0M276 1357h0M419 1166h0M428 1134h0M296 1437h0M401 1178h0M395 1153h0M327 1451h0M324 1444h0M349 1142h0M441 1384h0M414 1354h0M177 1104h0M400 1195h0M69 1451h0M423 1269h0M332 1116h0M338 1114h0M131 1400h0M218 1328h0M212 1330h0M356 1479h0M373 1389h0M101 1184h0M410 1304h0M407 1298h0M361 1371h0M368 1374h0M436 1284h0M439 1279h0M295 1160h0M143 1268h0M147 1273h0M222 1448h0M61 1339h0M271 1104h0M276 1108h0M284 1183h0M301 1435h0M296 1436h0M292 1442h0M313 1444h0M423 1464h0M205 1439h0M336 1371h0M331 1367h0M183 1241h0M189 1241h0M97 1319h0M96 1312h0M412 1433h0M412 1425h0M420 1379h0M425 1385h0M421 1389h0M291 1123h0M210 1430h0M217 1428h0M221 1432h0M112 1453h0M134 1358h0M435 1185h0M390 1090h0M393 1097h0M401 1091h0M358 1186h0M359 1180h0M283 1423h0M272 1420h0M216 1469h0M174 1467h0M298 1186h0M292 1188h0M256 1405h0M255 1135h0M249 1134h0M239 1127h0M426 1158h0M154 1138h0M272 1089h0M416 1348h0M95 1116h0M100 1121h0M125 1218h0M113 1219h0M281 1427h0M312 1141h0M117 1380h0M75 1349h0M64 1344h0M66 1338h0M311 1105h0M413 1187h0M433 1227h0M286 1108h0M206 1255h0M103 1368h0M98 1429h0M94 1435h0M367 1353h0M450 1283h0M146 1120h0M130 1114h0M255 1412h0M256 1418h0M379 1231h0M382 1129h0M381 1337h0M375 1349h0M381 1353h0M387 1353h0M146 1195h0M151 1192h0M450 1466h0M449 1474h0M83 1309h0M113 1434h0M425 1333h0M425 1322h0M428 1472h0M311 1167h0M223 1215h0M106 1462h0M209 1414h0M210 1392h0M127 1224h0M127 1230h0M343 1457h0M150 1161h0M215 1346h0M212 1339h0M159 1423h0M158 1415h0M130 1291h0M133 1279h0M270 1290h0M269 1296h0M134 1481h0M156 1145h0M104 1351h0M95 1359h0M445 1386h0M141 1415h0M87 1298h0M74 1300h0M231 1259h0M235 1264h0M397 1387h0M433 1146h0M438 1143h0M172 1367h0M213 1397h0M340 1164h0M333 1174h0M141 1247h0M260 1438h0M265 1437h0M180 1449h0M183 1443h0M208 1352h0M200 1358h0M68 1370h0M65 1376h0M69 1381h0M292 1144h0M417 1188h0M157 1212h0M161 1202h0M210 1268h0M365 1131h0M119 1131h0M278 1140h0M403 1234h0M347 1240h0M351 1235h0M65 1248h0M59 1252h0M213 1143h0M221 1153h0M107 1416h0M366 1195h0M298 1462h0M385 1307h0M139 1113h0M424 1347h0M428 1343h0M434 1345h0M357 1204h0M353 1200h0M234 1122h0M113 1168h0M124 1168h0M395 1179h0M343 1399h0M379 1358h0M410 1185h0M404 1182h0M401 1177h0M365 1409h0M143 1227h0M142 1232h0M146 1363h0M152 1360h0M155 1355h0M268 1464h0M107 1207h0M112 1206h0M109 1235h0M104 1233h0M92 1224h0M90 1251h0M141 1437h0M297 1304h0M228 1148h0M89 1130h0M89 1142h0M300 1430h0M117 1340h0M367 1167h0M367 1174h0M382 1183h0M436 1460h0M389 1161h0M332 1391h0M326 1392h0M100 1315h0M94 1319h0M360 1410h0M362 1416h0M390 1364h0M384 1364h0M255 1461h0M279 1428h0M295 1426h0M305 1420h0M251 1099h0M255 1103h0M257 1088h0M336 1394h0M65 1463h0M75 1470h0M77 1476h0M193 1385h0M178 1387h0M418 1133h0M418 1128h0M308 1360h0M123 1405h0M154 1456h0M76 1279h0M70 1282h0M312 1483h0M357 1399h0M367 1416h0M374 1315h0M97 1278h0M79 1282h0M77 1276h0M307 1461h0M124 1216h0M133 1225h0M342 1098h0M340 1104h0M303 1157h0M362 1243h0M225 1450h0M373 1169h0M225 1211h0M231 1210h0M235 1201h0M443 1222h0M451 1214h0M112 1226h0M109 1221h0M109 1270h0M103 1273h0M415 1130h0M414 1136h0M134 1354h0M135 1364h0M130 1370h0M130 1376h0M154 1273h0M152 1278h0M195 1112h0M201 1117h0M253 1275h0M108 1290h0M110 1301h0M167 1192h0M186 1164h0M369 1450h0M409 1216h0M408 1209h0M156 1408h0M235 1151h0M233 1163h0M99 1190h0M290 1107h0M306 1116h0M301 1111h0M227 1198h0M348 1143h0M272 1459h0M353 1106h0M136 1435h0M73 1383h0M58 1395h0M326 1105h0M222 1464h0M201 1421h0M337 1119h0M145 1315h0M194 1341h0M412 1318h0M404 1307h0M329 1416h0M414 1268h0M219 1165h0M335 1347h0M341 1222h0M388 1198h0M400 1142h0M390 1147h0M291 1138h0M285 1146h0M339 1148h0M331 1142h0M145 1366h0M435 1136h0M442 1139h0M142 1338h0"/></defs><use href="#wbb" stroke="#a8a8a8" stroke-width="4.6" stroke-linecap="round"/><use href="#wbb" stroke="#f4f4f4" stroke-width="1.84" stroke-linecap="round" transform="translate(-0.69,-0.69)"/></g>
<circle cx="119.54" cy="546.99" r="4.03" fill="url(#na_g)"/>
<circle cx="138.05" cy="564.99" r="4.03" fill="url(#na_g)" opacity="0.55"/>
<circle cx="44.22" cy="564.22" r="4.03" fill="url(#na_g)"/>
<circle cx="57.84" cy="588.64" r="3.41" fill="url(#na_g)"/>
<circle cx="97.17" cy="573.21" r="3.1" fill="url(#na_g)" opacity="0.55"/>
<circle cx="118.25" cy="588.12" r="3.41" fill="url(#na_g)"/>
<circle cx="153.73" cy="577.84" r="2.79" fill="url(#na_g)"/>
<circle cx="176.61" cy="592.49" r="4.03" fill="url(#na_g)" opacity="0.55"/>
<circle cx="193.32" cy="601.75" r="3.1" fill="url(#na_g)" opacity="0.55"/>
<circle cx="93.06" cy="599.18" r="3.41" fill="url(#na_g)"/>
<circle cx="123.91" cy="597.63" r="3.1" fill="url(#na_g)"/>
<circle cx="129.05" cy="604.06" r="2.79" fill="url(#na_g)" opacity="0.55"/>
<circle cx="114.4" cy="606.12" r="2.79" fill="url(#na_g)"/>
<circle cx="68.12" cy="606.89" r="2.79" fill="url(#na_g)"/>
<circle cx="83.03" cy="613.06" r="2.48" fill="url(#na_g)" opacity="0.55"/>
<circle cx="157.33" cy="613.06" r="2.79" fill="url(#na_g)"/>
<circle cx="165.3" cy="616.4" r="2.79" fill="url(#na_g)"/>
<circle cx="168.38" cy="623.34" r="2.48" fill="url(#na_g)" opacity="0.55"/>
<circle cx="137.02" cy="632.6" r="4.65" fill="url(#na_g)" opacity="0.55"/>
<circle cx="184.32" cy="633.62" r="2.79" fill="url(#na_g)"/>
<circle cx="197.94" cy="634.91" r="2.48" fill="url(#na_g)"/>
<circle cx="71.98" cy="640.82" r="3.41" fill="url(#na_g)" opacity="0.55"/>
<circle cx="66.32" cy="647.25" r="2.79" fill="url(#na_g)"/>
<circle cx="195.37" cy="651.11" r="3.41" fill="url(#na_g)"/>
<circle cx="73.78" cy="667.3" r="2.79" fill="url(#na_g)" opacity="0.55"/>
<circle cx="52.7" cy="681.18" r="3.72" fill="url(#na_g)"/>
<circle cx="70.18" cy="681.95" r="3.41" fill="url(#na_g)"/>
<circle cx="87.92" cy="678.1" r="2.79" fill="url(#na_g)" opacity="0.55"/>
<circle cx="97.17" cy="679.9" r="2.79" fill="url(#na_g)" opacity="0.55"/>
<circle cx="101.54" cy="676.81" r="2.48" fill="url(#na_g)"/>
<circle cx="182.01" cy="683.24" r="2.48" fill="url(#na_g)"/>
<circle cx="55.27" cy="697.89" r="3.41" fill="url(#na_g)" opacity="0.55"/>
<circle cx="99.74" cy="693.01" r="3.1" fill="url(#na_g)"/>
<circle cx="129.82" cy="696.09" r="4.34" fill="url(#na_g)"/>
<circle cx="154.24" cy="708.43" r="4.34" fill="url(#na_g)" opacity="0.55"/>
<circle cx="141.39" cy="704.58" r="2.79" fill="url(#na_g)"/>
<circle cx="185.6" cy="696.61" r="2.79" fill="url(#na_g)"/>
<circle cx="212.08" cy="701.23" r="3.72" fill="url(#na_g)" opacity="0.55"/>
<circle cx="59.64" cy="720.51" r="4.65" fill="url(#na_g)" opacity="0.55"/>
<circle cx="116.2" cy="721.54" r="4.03" fill="url(#na_g)"/>
<circle cx="120.82" cy="717.94" r="2.79" fill="url(#na_g)"/>
<circle cx="132.39" cy="733.88" r="3.72" fill="url(#na_g)" opacity="0.55"/>
<rect x="22.6" y="534" width="215.2" height="216.6" fill="none" stroke="#b0b0e4" stroke-width="1.5"/>
<circle cx="348.5" cy="414.1" r="94" fill="none" stroke="#cccccc" stroke-width="4" filter="url(#blur3)"/><circle cx="345" cy="410.6" r="94" fill="none" stroke="#4db5e6" stroke-width="1.7" stroke-dasharray="5.5 3.6"/>
<circle cx="345.7" cy="637.5" r="93.8" fill="none" stroke="#cccccc" stroke-width="4" filter="url(#blur3)"/><circle cx="342.2" cy="634" r="93.8" fill="none" stroke="#f08272" stroke-width="1.7" stroke-dasharray="5.5 3.6"/>
<line x1="291.8" y1="362.7" x2="293.95" y2="367.6" stroke="#3aa8a8" stroke-width="2.1"/>
<line x1="293.95" y1="367.6" x2="296.1" y2="372.5" stroke="#3aa8a8" stroke-width="2.1"/>
<line x1="296.1" y1="372.5" x2="292.7" y2="380.65" stroke="#3aa8a8" stroke-width="2.1"/>
<line x1="292.7" y1="380.65" x2="289.3" y2="388.8" stroke="#3aa8a8" stroke-width="2.1"/>
<line x1="296.1" y1="372.5" x2="300.4" y2="371" stroke="#3aa8a8" stroke-width="2.1"/>
<line x1="300.4" y1="371" x2="304.7" y2="369.5" stroke="#d00000" stroke-width="2.1"/>
<line x1="304.7" y1="369.5" x2="311.35" y2="372.1" stroke="#d00000" stroke-width="2.1"/>
<line x1="311.35" y1="372.1" x2="318" y2="374.7" stroke="#3aa8a8" stroke-width="2.1"/>
<line x1="311.1" y1="376" x2="314.95" y2="378.55" stroke="#d00000" stroke-width="2.1"/>
<line x1="314.95" y1="378.55" x2="318.8" y2="381.1" stroke="#3aa8a8" stroke-width="2.1"/>
<line x1="318" y1="374.7" x2="319.9" y2="370.65" stroke="#3aa8a8" stroke-width="2.1"/>
<line x1="319.9" y1="370.65" x2="321.8" y2="366.6" stroke="#3aa8a8" stroke-width="2.1"/>
<line x1="318" y1="374.7" x2="318.4" y2="377.9" stroke="#3aa8a8" stroke-width="2.1"/>
<line x1="318.4" y1="377.9" x2="318.8" y2="381.1" stroke="#3aa8a8" stroke-width="2.1"/>
<line x1="321.8" y1="366.6" x2="323.95" y2="368.05" stroke="#3aa8a8" stroke-width="2.1"/>
<line x1="323.95" y1="368.05" x2="326.1" y2="369.5" stroke="#d00000" stroke-width="2.1"/>
<line x1="326.1" y1="369.5" x2="329.1" y2="373.6" stroke="#d00000" stroke-width="2.1"/>
<line x1="329.1" y1="373.6" x2="332.1" y2="377.7" stroke="#d00000" stroke-width="2.1"/>
<line x1="332.1" y1="377.7" x2="331.9" y2="380.7" stroke="#d00000" stroke-width="2.1"/>
<line x1="331.9" y1="380.7" x2="331.7" y2="383.7" stroke="#3aa8a8" stroke-width="2.1"/>
<line x1="331.7" y1="383.7" x2="329.95" y2="386.45" stroke="#3aa8a8" stroke-width="2.1"/>
<line x1="329.95" y1="386.45" x2="328.2" y2="389.2" stroke="#d00000" stroke-width="2.1"/>
<line x1="331.7" y1="383.7" x2="334.7" y2="386.7" stroke="#3aa8a8" stroke-width="2.1"/>
<line x1="334.7" y1="386.7" x2="337.7" y2="389.7" stroke="#d00000" stroke-width="2.1"/>
<line x1="318.8" y1="381.1" x2="312.15" y2="383.7" stroke="#3aa8a8" stroke-width="2.1"/>
<line x1="312.15" y1="383.7" x2="305.5" y2="386.3" stroke="#3aa8a8" stroke-width="2.1"/>
<line x1="318.8" y1="381.1" x2="323.5" y2="385.15" stroke="#3aa8a8" stroke-width="2.1"/>
<line x1="323.5" y1="385.15" x2="328.2" y2="389.2" stroke="#d00000" stroke-width="2.1"/>
<line x1="385.4" y1="377.3" x2="386.7" y2="371.3" stroke="#3aa8a8" stroke-width="2.1"/>
<line x1="386.7" y1="371.3" x2="388" y2="365.3" stroke="#d00000" stroke-width="2.1"/>
<line x1="385.4" y1="377.3" x2="391.6" y2="374.9" stroke="#3aa8a8" stroke-width="2.1"/>
<line x1="391.6" y1="374.9" x2="397.8" y2="372.5" stroke="#d00000" stroke-width="2.1"/>
<line x1="385.4" y1="377.3" x2="376.6" y2="376.4" stroke="#3aa8a8" stroke-width="2.1"/>
<line x1="376.6" y1="376.4" x2="367.8" y2="375.5" stroke="#d00000" stroke-width="2.1"/>
<line x1="385.4" y1="377.3" x2="386.9" y2="385" stroke="#3aa8a8" stroke-width="2.1"/>
<line x1="386.9" y1="385" x2="388.4" y2="392.7" stroke="#d00000" stroke-width="2.1"/>
<line x1="375.1" y1="385.8" x2="373.4" y2="392" stroke="#d00000" stroke-width="2.1"/>
<line x1="373.4" y1="392" x2="371.7" y2="398.2" stroke="#3aa8a8" stroke-width="2.1"/>
<line x1="371.7" y1="398.2" x2="367.65" y2="401.65" stroke="#3aa8a8" stroke-width="2.1"/>
<line x1="367.65" y1="401.65" x2="363.6" y2="405.1" stroke="#d00000" stroke-width="2.1"/>
<line x1="371.7" y1="398.2" x2="373.2" y2="402.3" stroke="#3aa8a8" stroke-width="2.1"/>
<line x1="373.2" y1="402.3" x2="374.7" y2="406.4" stroke="#d00000" stroke-width="2.1"/>
<line x1="363.6" y1="405.1" x2="365.1" y2="412.85" stroke="#d00000" stroke-width="2.1"/>
<line x1="365.1" y1="412.85" x2="366.6" y2="420.6" stroke="#3aa8a8" stroke-width="2.1"/>
<line x1="374.7" y1="406.4" x2="374.9" y2="413.05" stroke="#d00000" stroke-width="2.1"/>
<line x1="374.9" y1="413.05" x2="375.1" y2="419.7" stroke="#3aa8a8" stroke-width="2.1"/>
<line x1="361.4" y1="416.7" x2="364" y2="418.65" stroke="#d00000" stroke-width="2.1"/>
<line x1="364" y1="418.65" x2="366.6" y2="420.6" stroke="#3aa8a8" stroke-width="2.1"/>
<line x1="366.6" y1="420.6" x2="370.85" y2="420.15" stroke="#3aa8a8" stroke-width="2.1"/>
<line x1="370.85" y1="420.15" x2="375.1" y2="419.7" stroke="#3aa8a8" stroke-width="2.1"/>
<line x1="366.6" y1="420.6" x2="359.7" y2="424.2" stroke="#3aa8a8" stroke-width="2.1"/>
<line x1="359.7" y1="424.2" x2="352.8" y2="427.8" stroke="#3aa8a8" stroke-width="2.1"/>
<line x1="375.1" y1="419.7" x2="378.55" y2="417.75" stroke="#3aa8a8" stroke-width="2.1"/>
<line x1="378.55" y1="417.75" x2="382" y2="415.8" stroke="#d00000" stroke-width="2.1"/>
<line x1="382" y1="415.8" x2="391.4" y2="417.95" stroke="#d00000" stroke-width="2.1"/>
<line x1="391.4" y1="417.95" x2="400.8" y2="420.1" stroke="#3aa8a8" stroke-width="2.1"/>
<line x1="386.7" y1="425.3" x2="395.7" y2="425.5" stroke="#d00000" stroke-width="2.1"/>
<line x1="395.7" y1="425.5" x2="404.7" y2="425.7" stroke="#3aa8a8" stroke-width="2.1"/>
<line x1="400.8" y1="420.1" x2="402.75" y2="422.9" stroke="#3aa8a8" stroke-width="2.1"/>
<line x1="402.75" y1="422.9" x2="404.7" y2="425.7" stroke="#3aa8a8" stroke-width="2.1"/>
<line x1="400.8" y1="420.1" x2="401.25" y2="428.7" stroke="#3aa8a8" stroke-width="2.1"/>
<line x1="401.25" y1="428.7" x2="401.7" y2="437.3" stroke="#3aa8a8" stroke-width="2.1"/>
<line x1="375.1" y1="419.7" x2="380.9" y2="422.5" stroke="#3aa8a8" stroke-width="2.1"/>
<line x1="380.9" y1="422.5" x2="386.7" y2="425.3" stroke="#d00000" stroke-width="2.1"/>
<line x1="327.4" y1="415.4" x2="323.1" y2="420.55" stroke="#d00000" stroke-width="2.1"/>
<line x1="323.1" y1="420.55" x2="318.8" y2="425.7" stroke="#3aa8a8" stroke-width="2.1"/>
<line x1="318.8" y1="425.7" x2="313.65" y2="425.5" stroke="#3aa8a8" stroke-width="2.1"/>
<line x1="313.65" y1="425.5" x2="308.5" y2="425.3" stroke="#d00000" stroke-width="2.1"/>
<line x1="318.8" y1="425.7" x2="319.45" y2="433.2" stroke="#3aa8a8" stroke-width="2.1"/>
<line x1="319.45" y1="433.2" x2="320.1" y2="440.7" stroke="#d00000" stroke-width="2.1"/>
<line x1="308.5" y1="425.3" x2="305.5" y2="432.15" stroke="#d00000" stroke-width="2.1"/>
<line x1="305.5" y1="432.15" x2="302.5" y2="439" stroke="#3aa8a8" stroke-width="2.1"/>
<line x1="320.1" y1="440.7" x2="313.9" y2="445" stroke="#d00000" stroke-width="2.1"/>
<line x1="313.9" y1="445" x2="307.7" y2="449.3" stroke="#3aa8a8" stroke-width="2.1"/>
<line x1="302.5" y1="439" x2="305.1" y2="444.15" stroke="#3aa8a8" stroke-width="2.1"/>
<line x1="305.1" y1="444.15" x2="307.7" y2="449.3" stroke="#3aa8a8" stroke-width="2.1"/>
<line x1="307.7" y1="449.3" x2="301.25" y2="450.55" stroke="#3aa8a8" stroke-width="2.1"/>
<line x1="301.25" y1="450.55" x2="294.8" y2="451.8" stroke="#3aa8a8" stroke-width="2.1"/>
<line x1="293.1" y1="350.3" x2="292.45" y2="356.5" stroke="#d8d8d8" stroke-width="2.1"/>
<line x1="292.45" y1="356.5" x2="291.8" y2="362.7" stroke="#3aa8a8" stroke-width="2.1"/>
<line x1="279" y1="364.8" x2="285.4" y2="363.75" stroke="#d8d8d8" stroke-width="2.1"/>
<line x1="285.4" y1="363.75" x2="291.8" y2="362.7" stroke="#3aa8a8" stroke-width="2.1"/>
<line x1="312" y1="361" x2="316.9" y2="363.8" stroke="#d8d8d8" stroke-width="2.1"/>
<line x1="316.9" y1="363.8" x2="321.8" y2="366.6" stroke="#3aa8a8" stroke-width="2.1"/>
<line x1="330" y1="361.8" x2="325.9" y2="364.2" stroke="#d8d8d8" stroke-width="2.1"/>
<line x1="325.9" y1="364.2" x2="321.8" y2="366.6" stroke="#3aa8a8" stroke-width="2.1"/>
<line x1="298.3" y1="384.1" x2="301.9" y2="385.2" stroke="#d8d8d8" stroke-width="2.1"/>
<line x1="301.9" y1="385.2" x2="305.5" y2="386.3" stroke="#3aa8a8" stroke-width="2.1"/>
<line x1="305.5" y1="397.4" x2="305.5" y2="391.85" stroke="#d8d8d8" stroke-width="2.1"/>
<line x1="305.5" y1="391.85" x2="305.5" y2="386.3" stroke="#3aa8a8" stroke-width="2.1"/>
<line x1="276.4" y1="388.8" x2="282.85" y2="388.8" stroke="#d8d8d8" stroke-width="2.1"/>
<line x1="282.85" y1="388.8" x2="289.3" y2="388.8" stroke="#3aa8a8" stroke-width="2.1"/>
<line x1="294.4" y1="399.1" x2="291.85" y2="393.95" stroke="#d8d8d8" stroke-width="2.1"/>
<line x1="291.85" y1="393.95" x2="289.3" y2="388.8" stroke="#3aa8a8" stroke-width="2.1"/>
<line x1="376.8" y1="427.4" x2="375.95" y2="423.55" stroke="#d8d8d8" stroke-width="2.1"/>
<line x1="375.95" y1="423.55" x2="375.1" y2="419.7" stroke="#3aa8a8" stroke-width="2.1"/>
<line x1="342.6" y1="424.4" x2="347.7" y2="426.1" stroke="#d8d8d8" stroke-width="2.1"/>
<line x1="347.7" y1="426.1" x2="352.8" y2="427.8" stroke="#3aa8a8" stroke-width="2.1"/>
<line x1="350.3" y1="430" x2="351.55" y2="428.9" stroke="#d8d8d8" stroke-width="2.1"/>
<line x1="351.55" y1="428.9" x2="352.8" y2="427.8" stroke="#3aa8a8" stroke-width="2.1"/>
<line x1="353.3" y1="439.4" x2="353.05" y2="433.6" stroke="#d8d8d8" stroke-width="2.1"/>
<line x1="353.05" y1="433.6" x2="352.8" y2="427.8" stroke="#3aa8a8" stroke-width="2.1"/>
<line x1="408.5" y1="408.1" x2="404.65" y2="414.1" stroke="#d8d8d8" stroke-width="2.1"/>
<line x1="404.65" y1="414.1" x2="400.8" y2="420.1" stroke="#3aa8a8" stroke-width="2.1"/>
<line x1="411.5" y1="415.8" x2="406.15" y2="417.95" stroke="#d8d8d8" stroke-width="2.1"/>
<line x1="406.15" y1="417.95" x2="400.8" y2="420.1" stroke="#3aa8a8" stroke-width="2.1"/>
<line x1="393.1" y1="434.3" x2="397.4" y2="435.8" stroke="#d8d8d8" stroke-width="2.1"/>
<line x1="397.4" y1="435.8" x2="401.7" y2="437.3" stroke="#3aa8a8" stroke-width="2.1"/>
<line x1="416.2" y1="441.1" x2="408.95" y2="439.2" stroke="#d8d8d8" stroke-width="2.1"/>
<line x1="408.95" y1="439.2" x2="401.7" y2="437.3" stroke="#3aa8a8" stroke-width="2.1"/>
<line x1="394.8" y1="448.8" x2="398.25" y2="443.05" stroke="#d8d8d8" stroke-width="2.1"/>
<line x1="398.25" y1="443.05" x2="401.7" y2="437.3" stroke="#3aa8a8" stroke-width="2.1"/>
<line x1="292.3" y1="441.1" x2="297.4" y2="440.05" stroke="#d8d8d8" stroke-width="2.1"/>
<line x1="297.4" y1="440.05" x2="302.5" y2="439" stroke="#3aa8a8" stroke-width="2.1"/>
<line x1="283.3" y1="454" x2="289.05" y2="452.9" stroke="#d8d8d8" stroke-width="2.1"/>
<line x1="289.05" y1="452.9" x2="294.8" y2="451.8" stroke="#3aa8a8" stroke-width="2.1"/>
<line x1="295.7" y1="463.4" x2="295.25" y2="457.6" stroke="#d8d8d8" stroke-width="2.1"/>
<line x1="295.25" y1="457.6" x2="294.8" y2="451.8" stroke="#3aa8a8" stroke-width="2.1"/>
<line x1="312" y1="460.4" x2="309.85" y2="454.85" stroke="#d8d8d8" stroke-width="2.1"/>
<line x1="309.85" y1="454.85" x2="307.7" y2="449.3" stroke="#3aa8a8" stroke-width="2.1"/>
<circle cx="293.1" cy="350.3" r="2.86" fill="url(#at_H)"/>
<circle cx="291.8" cy="362.7" r="4.4" fill="url(#at_C)"/>
<circle cx="279" cy="364.8" r="2.86" fill="url(#at_H)"/>
<circle cx="296.1" cy="372.5" r="4.4" fill="url(#at_C)"/>
<circle cx="304.7" cy="369.5" r="4.18" fill="url(#at_O)"/>
<circle cx="311.1" cy="376" r="3.85" fill="url(#at_O)"/>
<circle cx="318" cy="374.7" r="4.62" fill="url(#at_C)"/>
<circle cx="318.8" cy="381.1" r="3.85" fill="url(#at_C)"/>
<circle cx="321.8" cy="366.6" r="3.85" fill="url(#at_C)"/>
<circle cx="312" cy="361" r="2.53" fill="url(#at_H)"/>
<circle cx="330" cy="361.8" r="2.53" fill="url(#at_H)"/>
<circle cx="326.1" cy="369.5" r="3.85" fill="url(#at_O)"/>
<circle cx="332.1" cy="377.7" r="4.4" fill="url(#at_O)"/>
<circle cx="331.7" cy="383.7" r="3.52" fill="url(#at_C)"/>
<circle cx="328.2" cy="389.2" r="3.63" fill="url(#at_O)"/>
<circle cx="337.7" cy="389.7" r="3.85" fill="url(#at_O)"/>
<circle cx="305.5" cy="386.3" r="3.85" fill="url(#at_C)"/>
<circle cx="298.3" cy="384.1" r="2.53" fill="url(#at_H)"/>
<circle cx="305.5" cy="397.4" r="2.53" fill="url(#at_H)"/>
<circle cx="289.3" cy="388.8" r="4.18" fill="url(#at_C)"/>
<circle cx="276.4" cy="388.8" r="2.86" fill="url(#at_H)"/>
<circle cx="294.4" cy="399.1" r="2.86" fill="url(#at_H)"/>
<circle cx="385.4" cy="377.3" r="4.62" fill="url(#at_C)"/>
<circle cx="388" cy="365.3" r="4.07" fill="url(#at_O)"/>
<circle cx="397.8" cy="372.5" r="4.4" fill="url(#at_O)"/>
<circle cx="367.8" cy="375.5" r="4.4" fill="url(#at_O)"/>
<circle cx="388.4" cy="392.7" r="4.07" fill="url(#at_O)"/>
<circle cx="375.1" cy="385.8" r="3.85" fill="url(#at_O)"/>
<circle cx="371.7" cy="398.2" r="4.4" fill="url(#at_C)"/>
<circle cx="363.6" cy="405.1" r="3.85" fill="url(#at_O)"/>
<circle cx="374.7" cy="406.4" r="3.85" fill="url(#at_O)"/>
<circle cx="361.4" cy="416.7" r="4.4" fill="url(#at_O)"/>
<circle cx="366.6" cy="420.6" r="4.4" fill="url(#at_C)"/>
<circle cx="375.1" cy="419.7" r="4.62" fill="url(#at_C)"/>
<circle cx="382" cy="415.8" r="4.4" fill="url(#at_O)"/>
<circle cx="386.7" cy="425.3" r="4.07" fill="url(#at_O)"/>
<circle cx="376.8" cy="427.4" r="2.53" fill="url(#at_H)"/>
<circle cx="352.8" cy="427.8" r="3.85" fill="url(#at_C)"/>
<circle cx="342.6" cy="424.4" r="2.86" fill="url(#at_H)"/>
<circle cx="350.3" cy="430" r="2.86" fill="url(#at_H)"/>
<circle cx="353.3" cy="439.4" r="2.86" fill="url(#at_H)"/>
<circle cx="400.8" cy="420.1" r="4.62" fill="url(#at_C)"/>
<circle cx="404.7" cy="425.7" r="3.85" fill="url(#at_C)"/>
<circle cx="401.7" cy="437.3" r="4.4" fill="url(#at_C)"/>
<circle cx="408.5" cy="408.1" r="2.86" fill="url(#at_H)"/>
<circle cx="411.5" cy="415.8" r="2.86" fill="url(#at_H)"/>
<circle cx="393.1" cy="434.3" r="2.86" fill="url(#at_H)"/>
<circle cx="416.2" cy="441.1" r="2.86" fill="url(#at_H)"/>
<circle cx="394.8" cy="448.8" r="2.86" fill="url(#at_H)"/>
<circle cx="327.4" cy="415.4" r="4.07" fill="url(#at_O)"/>
<circle cx="318.8" cy="425.7" r="4.4" fill="url(#at_C)"/>
<circle cx="308.5" cy="425.3" r="4.07" fill="url(#at_O)"/>
<circle cx="320.1" cy="440.7" r="4.07" fill="url(#at_O)"/>
<circle cx="302.5" cy="439" r="4.4" fill="url(#at_C)"/>
<circle cx="307.7" cy="449.3" r="4.4" fill="url(#at_C)"/>
<circle cx="294.8" cy="451.8" r="4.4" fill="url(#at_C)"/>
<circle cx="292.3" cy="441.1" r="2.86" fill="url(#at_H)"/>
<circle cx="283.3" cy="454" r="2.86" fill="url(#at_H)"/>
<circle cx="295.7" cy="463.4" r="2.86" fill="url(#at_H)"/>
<circle cx="312" cy="460.4" r="2.86" fill="url(#at_H)"/>
<circle cx="349.4" cy="396.1" r="4" fill="url(#na_g)"/>
<line x1="308.1" y1="595.7" x2="317.3" y2="596.15" stroke="#3aa8a8" stroke-width="2.1"/>
<line x1="317.3" y1="596.15" x2="326.5" y2="596.6" stroke="#d00000" stroke-width="2.1"/>
<line x1="326.5" y1="596.6" x2="328.7" y2="603.1" stroke="#d00000" stroke-width="2.1"/>
<line x1="328.7" y1="603.1" x2="330.9" y2="609.6" stroke="#3aa8a8" stroke-width="2.1"/>
<line x1="330.9" y1="609.6" x2="338.1" y2="611.65" stroke="#3aa8a8" stroke-width="2.1"/>
<line x1="338.1" y1="611.65" x2="345.3" y2="613.7" stroke="#d00000" stroke-width="2.1"/>
<line x1="330.9" y1="609.6" x2="326.15" y2="613.15" stroke="#3aa8a8" stroke-width="2.1"/>
<line x1="326.15" y1="613.15" x2="321.4" y2="616.7" stroke="#d00000" stroke-width="2.1"/>
<line x1="316.7" y1="618.8" x2="309.2" y2="615.8" stroke="#d00000" stroke-width="2.1"/>
<line x1="309.2" y1="615.8" x2="301.7" y2="612.8" stroke="#3aa8a8" stroke-width="2.1"/>
<line x1="301.7" y1="612.8" x2="304.9" y2="604.25" stroke="#3aa8a8" stroke-width="2.1"/>
<line x1="304.9" y1="604.25" x2="308.1" y2="595.7" stroke="#3aa8a8" stroke-width="2.1"/>
<line x1="301.7" y1="612.8" x2="295.25" y2="612.6" stroke="#3aa8a8" stroke-width="2.1"/>
<line x1="295.25" y1="612.6" x2="288.8" y2="612.4" stroke="#3aa8a8" stroke-width="2.1"/>
<line x1="316.7" y1="618.8" x2="317.65" y2="625.65" stroke="#d00000" stroke-width="2.1"/>
<line x1="317.65" y1="625.65" x2="318.6" y2="632.5" stroke="#3aa8a8" stroke-width="2.1"/>
<line x1="318.6" y1="632.5" x2="309.5" y2="635.6" stroke="#3aa8a8" stroke-width="2.1"/>
<line x1="309.5" y1="635.6" x2="300.4" y2="638.7" stroke="#3aa8a8" stroke-width="2.1"/>
<line x1="300.4" y1="638.7" x2="292.05" y2="640.95" stroke="#3aa8a8" stroke-width="2.1"/>
<line x1="292.05" y1="640.95" x2="283.7" y2="643.2" stroke="#3aa8a8" stroke-width="2.1"/>
<line x1="283.7" y1="643.2" x2="276.4" y2="651.15" stroke="#3aa8a8" stroke-width="2.1"/>
<line x1="276.4" y1="651.15" x2="269.1" y2="659.1" stroke="#3aa8a8" stroke-width="2.1"/>
<line x1="318.6" y1="632.5" x2="325.7" y2="639.35" stroke="#3aa8a8" stroke-width="2.1"/>
<line x1="325.7" y1="639.35" x2="332.8" y2="646.2" stroke="#d00000" stroke-width="2.1"/>
<line x1="332.8" y1="646.2" x2="342.3" y2="644" stroke="#d00000" stroke-width="2.1"/>
<line x1="342.3" y1="644" x2="351.8" y2="641.8" stroke="#3aa8a8" stroke-width="2.1"/>
<line x1="307.4" y1="659.9" x2="312.2" y2="662.3" stroke="#3aa8a8" stroke-width="2.1"/>
<line x1="312.2" y1="662.3" x2="317" y2="664.7" stroke="#3aa8a8" stroke-width="2.1"/>
<line x1="317" y1="664.7" x2="323.1" y2="671.6" stroke="#3aa8a8" stroke-width="2.1"/>
<line x1="323.1" y1="671.6" x2="329.2" y2="678.5" stroke="#3aa8a8" stroke-width="2.1"/>
<line x1="329.2" y1="678.5" x2="337.4" y2="675.15" stroke="#3aa8a8" stroke-width="2.1"/>
<line x1="337.4" y1="675.15" x2="345.6" y2="671.8" stroke="#3aa8a8" stroke-width="2.1"/>
<line x1="345.6" y1="671.8" x2="346.7" y2="664.55" stroke="#3aa8a8" stroke-width="2.1"/>
<line x1="346.7" y1="664.55" x2="347.8" y2="657.3" stroke="#d00000" stroke-width="2.1"/>
<line x1="345.6" y1="671.8" x2="351.05" y2="678.4" stroke="#3aa8a8" stroke-width="2.1"/>
<line x1="351.05" y1="678.4" x2="356.5" y2="685" stroke="#d00000" stroke-width="2.1"/>
<line x1="356.5" y1="685" x2="364.85" y2="684.1" stroke="#d00000" stroke-width="2.1"/>
<line x1="364.85" y1="684.1" x2="373.2" y2="683.2" stroke="#3aa8a8" stroke-width="2.1"/>
<line x1="367.8" y1="590.3" x2="367.8" y2="584.5" stroke="#3aa8a8" stroke-width="2.1"/>
<line x1="367.8" y1="584.5" x2="367.8" y2="578.7" stroke="#d00000" stroke-width="2.1"/>
<line x1="367.8" y1="590.3" x2="361.6" y2="586.85" stroke="#3aa8a8" stroke-width="2.1"/>
<line x1="361.6" y1="586.85" x2="355.4" y2="583.4" stroke="#d00000" stroke-width="2.1"/>
<line x1="367.8" y1="590.3" x2="376.15" y2="589.65" stroke="#3aa8a8" stroke-width="2.1"/>
<line x1="376.15" y1="589.65" x2="384.5" y2="589" stroke="#d00000" stroke-width="2.1"/>
<line x1="367.8" y1="590.3" x2="366.3" y2="599.25" stroke="#3aa8a8" stroke-width="2.1"/>
<line x1="366.3" y1="599.25" x2="364.8" y2="608.2" stroke="#d00000" stroke-width="2.1"/>
<line x1="404.7" y1="610.8" x2="403.6" y2="604.15" stroke="#3aa8a8" stroke-width="2.1"/>
<line x1="403.6" y1="604.15" x2="402.5" y2="597.5" stroke="#d00000" stroke-width="2.1"/>
<line x1="404.7" y1="610.8" x2="409.2" y2="607.6" stroke="#3aa8a8" stroke-width="2.1"/>
<line x1="409.2" y1="607.6" x2="413.7" y2="604.4" stroke="#d00000" stroke-width="2.1"/>
<line x1="404.7" y1="610.8" x2="396.75" y2="615.1" stroke="#3aa8a8" stroke-width="2.1"/>
<line x1="396.75" y1="615.1" x2="388.8" y2="619.4" stroke="#d00000" stroke-width="2.1"/>
<line x1="404.7" y1="610.8" x2="410.25" y2="617" stroke="#3aa8a8" stroke-width="2.1"/>
<line x1="410.25" y1="617" x2="415.8" y2="623.2" stroke="#d00000" stroke-width="2.1"/>
<line x1="404.2" y1="648.9" x2="394.3" y2="646.75" stroke="#3aa8a8" stroke-width="2.1"/>
<line x1="394.3" y1="646.75" x2="384.4" y2="644.6" stroke="#d00000" stroke-width="2.1"/>
<line x1="404.2" y1="648.9" x2="409.6" y2="641.4" stroke="#3aa8a8" stroke-width="2.1"/>
<line x1="409.6" y1="641.4" x2="415" y2="633.9" stroke="#d00000" stroke-width="2.1"/>
<line x1="404.2" y1="648.9" x2="407.7" y2="650.5" stroke="#3aa8a8" stroke-width="2.1"/>
<line x1="407.7" y1="650.5" x2="411.2" y2="652.1" stroke="#d00000" stroke-width="2.1"/>
<line x1="404.2" y1="648.9" x2="405.3" y2="656.95" stroke="#3aa8a8" stroke-width="2.1"/>
<line x1="405.3" y1="656.95" x2="406.4" y2="665" stroke="#d00000" stroke-width="2.1"/>
<line x1="301.7" y1="585.4" x2="304.9" y2="590.55" stroke="#d8d8d8" stroke-width="2.1"/>
<line x1="304.9" y1="590.55" x2="308.1" y2="595.7" stroke="#3aa8a8" stroke-width="2.1"/>
<line x1="276.4" y1="606.8" x2="282.6" y2="609.6" stroke="#d8d8d8" stroke-width="2.1"/>
<line x1="282.6" y1="609.6" x2="288.8" y2="612.4" stroke="#3aa8a8" stroke-width="2.1"/>
<line x1="293.5" y1="604.7" x2="291.15" y2="608.55" stroke="#d8d8d8" stroke-width="2.1"/>
<line x1="291.15" y1="608.55" x2="288.8" y2="612.4" stroke="#3aa8a8" stroke-width="2.1"/>
<line x1="286.7" y1="626.1" x2="287.75" y2="619.25" stroke="#d8d8d8" stroke-width="2.1"/>
<line x1="287.75" y1="619.25" x2="288.8" y2="612.4" stroke="#3aa8a8" stroke-width="2.1"/>
<line x1="297.8" y1="621" x2="299.75" y2="616.9" stroke="#d8d8d8" stroke-width="2.1"/>
<line x1="299.75" y1="616.9" x2="301.7" y2="612.8" stroke="#3aa8a8" stroke-width="2.1"/>
<line x1="296.5" y1="626.5" x2="298.45" y2="632.6" stroke="#d8d8d8" stroke-width="2.1"/>
<line x1="298.45" y1="632.6" x2="300.4" y2="638.7" stroke="#3aa8a8" stroke-width="2.1"/>
<line x1="276.6" y1="631.2" x2="280.15" y2="637.2" stroke="#d8d8d8" stroke-width="2.1"/>
<line x1="280.15" y1="637.2" x2="283.7" y2="643.2" stroke="#3aa8a8" stroke-width="2.1"/>
<line x1="357.7" y1="627.8" x2="354.75" y2="634.8" stroke="#d8d8d8" stroke-width="2.1"/>
<line x1="354.75" y1="634.8" x2="351.8" y2="641.8" stroke="#3aa8a8" stroke-width="2.1"/>
<line x1="362" y1="653.5" x2="356.9" y2="647.65" stroke="#d8d8d8" stroke-width="2.1"/>
<line x1="356.9" y1="647.65" x2="351.8" y2="641.8" stroke="#3aa8a8" stroke-width="2.1"/>
<line x1="257.6" y1="656.1" x2="263.35" y2="657.6" stroke="#d8d8d8" stroke-width="2.1"/>
<line x1="263.35" y1="657.6" x2="269.1" y2="659.1" stroke="#3aa8a8" stroke-width="2.1"/>
<line x1="262.7" y1="662.1" x2="265.9" y2="660.6" stroke="#d8d8d8" stroke-width="2.1"/>
<line x1="265.9" y1="660.6" x2="269.1" y2="659.1" stroke="#3aa8a8" stroke-width="2.1"/>
<line x1="277.3" y1="672.8" x2="273.2" y2="665.95" stroke="#d8d8d8" stroke-width="2.1"/>
<line x1="273.2" y1="665.95" x2="269.1" y2="659.1" stroke="#3aa8a8" stroke-width="2.1"/>
<line x1="291.4" y1="648.8" x2="287.55" y2="646" stroke="#d8d8d8" stroke-width="2.1"/>
<line x1="287.55" y1="646" x2="283.7" y2="643.2" stroke="#3aa8a8" stroke-width="2.1"/>
<line x1="296.5" y1="652.3" x2="301.95" y2="656.1" stroke="#d8d8d8" stroke-width="2.1"/>
<line x1="301.95" y1="656.1" x2="307.4" y2="659.9" stroke="#3aa8a8" stroke-width="2.1"/>
<line x1="382.3" y1="675.1" x2="377.75" y2="679.15" stroke="#d8d8d8" stroke-width="2.1"/>
<line x1="377.75" y1="679.15" x2="373.2" y2="683.2" stroke="#3aa8a8" stroke-width="2.1"/>
<line x1="373.7" y1="677.8" x2="373.45" y2="680.5" stroke="#d8d8d8" stroke-width="2.1"/>
<line x1="373.45" y1="680.5" x2="373.2" y2="683.2" stroke="#3aa8a8" stroke-width="2.1"/>
<line x1="380.7" y1="695.5" x2="376.95" y2="689.35" stroke="#d8d8d8" stroke-width="2.1"/>
<line x1="376.95" y1="689.35" x2="373.2" y2="683.2" stroke="#3aa8a8" stroke-width="2.1"/>
<line x1="325.4" y1="689.5" x2="327.3" y2="684" stroke="#d8d8d8" stroke-width="2.1"/>
<line x1="327.3" y1="684" x2="329.2" y2="678.5" stroke="#3aa8a8" stroke-width="2.1"/>
<line x1="304.5" y1="651.6" x2="305.95" y2="655.75" stroke="#d8d8d8" stroke-width="2.1"/>
<line x1="305.95" y1="655.75" x2="307.4" y2="659.9" stroke="#3aa8a8" stroke-width="2.1"/>
<line x1="313.8" y1="651.2" x2="310.6" y2="655.55" stroke="#d8d8d8" stroke-width="2.1"/>
<line x1="310.6" y1="655.55" x2="307.4" y2="659.9" stroke="#3aa8a8" stroke-width="2.1"/>
<line x1="321.8" y1="653.8" x2="319.4" y2="659.25" stroke="#d8d8d8" stroke-width="2.1"/>
<line x1="319.4" y1="659.25" x2="317" y2="664.7" stroke="#3aa8a8" stroke-width="2.1"/>
<line x1="303.2" y1="672.1" x2="305.3" y2="666" stroke="#d8d8d8" stroke-width="2.1"/>
<line x1="305.3" y1="666" x2="307.4" y2="659.9" stroke="#3aa8a8" stroke-width="2.1"/>
<line x1="309" y1="668.9" x2="313" y2="666.8" stroke="#d8d8d8" stroke-width="2.1"/>
<line x1="313" y1="666.8" x2="317" y2="664.7" stroke="#3aa8a8" stroke-width="2.1"/>
<circle cx="301.7" cy="585.4" r="2.86" fill="url(#at_H)"/>
<circle cx="308.1" cy="595.7" r="4.62" fill="url(#at_C)"/>
<circle cx="326.5" cy="596.6" r="4.18" fill="url(#at_O)"/>
<circle cx="330.9" cy="609.6" r="4.73" fill="url(#at_C)"/>
<circle cx="345.3" cy="613.7" r="4.18" fill="url(#at_O)"/>
<circle cx="301.7" cy="612.8" r="4.95" fill="url(#at_C)"/>
<circle cx="288.8" cy="612.4" r="4.62" fill="url(#at_C)"/>
<circle cx="276.4" cy="606.8" r="2.86" fill="url(#at_H)"/>
<circle cx="293.5" cy="604.7" r="2.86" fill="url(#at_H)"/>
<circle cx="286.7" cy="626.1" r="2.86" fill="url(#at_H)"/>
<circle cx="297.8" cy="621" r="2.86" fill="url(#at_H)"/>
<circle cx="316.7" cy="618.8" r="4.18" fill="url(#at_O)"/>
<circle cx="321.4" cy="616.7" r="4.18" fill="url(#at_O)"/>
<circle cx="296.5" cy="626.5" r="2.86" fill="url(#at_H)"/>
<circle cx="318.6" cy="632.5" r="5.28" fill="url(#at_C)"/>
<circle cx="300.4" cy="638.7" r="5.28" fill="url(#at_C)"/>
<circle cx="283.7" cy="643.2" r="4.95" fill="url(#at_C)"/>
<circle cx="276.6" cy="631.2" r="2.86" fill="url(#at_H)"/>
<circle cx="332.8" cy="646.2" r="4.4" fill="url(#at_O)"/>
<circle cx="351.8" cy="641.8" r="4.95" fill="url(#at_C)"/>
<circle cx="357.7" cy="627.8" r="2.86" fill="url(#at_H)"/>
<circle cx="362" cy="653.5" r="2.86" fill="url(#at_H)"/>
<circle cx="269.1" cy="659.1" r="4.95" fill="url(#at_C)"/>
<circle cx="257.6" cy="656.1" r="2.86" fill="url(#at_H)"/>
<circle cx="262.7" cy="662.1" r="2.86" fill="url(#at_H)"/>
<circle cx="277.3" cy="672.8" r="2.86" fill="url(#at_H)"/>
<circle cx="291.4" cy="648.8" r="2.86" fill="url(#at_H)"/>
<circle cx="296.5" cy="652.3" r="2.86" fill="url(#at_H)"/>
<circle cx="307.4" cy="659.9" r="4.62" fill="url(#at_C)"/>
<circle cx="317" cy="664.7" r="4.73" fill="url(#at_C)"/>
<circle cx="329.2" cy="678.5" r="4.73" fill="url(#at_C)"/>
<circle cx="345.6" cy="671.8" r="4.73" fill="url(#at_C)"/>
<circle cx="347.8" cy="657.3" r="4.18" fill="url(#at_O)"/>
<circle cx="356.5" cy="685" r="4.18" fill="url(#at_O)"/>
<circle cx="373.2" cy="683.2" r="4.73" fill="url(#at_C)"/>
<circle cx="382.3" cy="675.1" r="2.86" fill="url(#at_H)"/>
<circle cx="373.7" cy="677.8" r="2.86" fill="url(#at_H)"/>
<circle cx="380.7" cy="695.5" r="2.86" fill="url(#at_H)"/>
<circle cx="325.4" cy="689.5" r="2.86" fill="url(#at_H)"/>
<circle cx="304.5" cy="651.6" r="2.86" fill="url(#at_H)"/>
<circle cx="313.8" cy="651.2" r="2.86" fill="url(#at_H)"/>
<circle cx="321.8" cy="653.8" r="2.86" fill="url(#at_H)"/>
<circle cx="303.2" cy="672.1" r="2.86" fill="url(#at_H)"/>
<circle cx="309" cy="668.9" r="2.86" fill="url(#at_H)"/>
<circle cx="367.8" cy="590.3" r="4.95" fill="url(#at_C)"/>
<circle cx="367.8" cy="578.7" r="4.4" fill="url(#at_O)"/>
<circle cx="355.4" cy="583.4" r="4.4" fill="url(#at_O)"/>
<circle cx="384.5" cy="589" r="4.4" fill="url(#at_O)"/>
<circle cx="364.8" cy="608.2" r="4.4" fill="url(#at_O)"/>
<circle cx="404.7" cy="610.8" r="4.95" fill="url(#at_C)"/>
<circle cx="402.5" cy="597.5" r="4.4" fill="url(#at_O)"/>
<circle cx="413.7" cy="604.4" r="4.4" fill="url(#at_O)"/>
<circle cx="388.8" cy="619.4" r="4.4" fill="url(#at_O)"/>
<circle cx="415.8" cy="623.2" r="4.4" fill="url(#at_O)"/>
<circle cx="404.2" cy="648.9" r="4.95" fill="url(#at_C)"/>
<circle cx="384.4" cy="644.6" r="4.4" fill="url(#at_O)"/>
<circle cx="415" cy="633.9" r="4.4" fill="url(#at_O)"/>
<circle cx="411.2" cy="652.1" r="4.4" fill="url(#at_O)"/>
<circle cx="406.4" cy="665" r="4.4" fill="url(#at_O)"/>
<circle cx="365" cy="635.5" r="4" fill="url(#na_g)"/>
<text x="320.5" y="355.8" font-size="13" >PC</text>
<text x="276.4" y="411.5" font-size="13" >PC</text>
<text x="344.7" y="452.7" font-size="13" >PC</text>
<text x="390.5" y="465.5" font-size="13" >PC</text>
<text x="303.8" y="478" font-size="13" >PC</text>
<text x="371.3" y="359.3" font-size="13" >ClO<tspan font-size="9" dy="3">4</tspan><tspan font-size="9" dy="-8">-</tspan></text>
<text x="340" y="413.7" font-size="13" >Na<tspan font-size="10" dy="-5">+</tspan></text>
<text x="290.5" y="581.1" font-size="13" >PC</text>
<text x="285" y="691.7" font-size="13" >MB</text>
<text x="350.2" y="707.8" font-size="13" >MB</text>
<text x="350.7" y="568.4" font-size="13" >ClO<tspan font-size="9" dy="3">4</tspan><tspan font-size="9" dy="-8">-</tspan></text>
<text x="372.1" y="610" font-size="13" >ClO<tspan font-size="9" dy="3">4</tspan></text>
<text x="390.9" y="684.8" font-size="13" >ClO<tspan font-size="9" dy="3">4</tspan><tspan font-size="9" dy="-8">-</tspan></text>
<text x="0.5" y="306.8" font-size="21.5" >d</text>
<defs><linearGradient id="ga_p" x1="0" y1="0" x2="0" y2="1"><stop offset="0" stop-color="#fbc4c6"/><stop offset="1" stop-color="#f2a094"/></linearGradient>
<linearGradient id="ga_b" x1="0" y1="0" x2="0" y2="1"><stop offset="0" stop-color="#7fc6e3"/><stop offset="1" stop-color="#5aa6c8"/></linearGradient>
<linearGradient id="ga_g" x1="0" y1="0" x2="0" y2="1"><stop offset="0" stop-color="#cde6a4"/><stop offset="1" stop-color="#8cc56a"/></linearGradient></defs>
<polygon points="22.7,117 22.9,116.99 24.2,116.99 25.5,116.99 26.8,116.99 28.1,116.98 29.4,116.98 30.7,116.98 32,116.97 33.3,116.97 34.6,116.96 35.9,116.96 37.2,116.95 38.5,116.94 39.8,116.93 41.1,116.92 42.4,116.91 43.7,116.89 45,116.88 46.3,116.86 47.6,116.83 48.9,116.81 50.2,116.78 51.5,116.75 52.8,116.71 54.1,116.66 55.4,116.62 56.7,116.56 58,116.5 59.3,116.43 60.6,116.35 61.9,116.26 63.2,116.16 64.5,116.05 65.8,115.93 67.1,115.8 68.4,115.64 69.7,115.48 71,115.29 72.3,115.09 73.6,114.87 74.9,114.62 76.2,114.35 77.5,114.06 78.8,113.73 80.1,113.38 81.4,113 82.7,112.59 84,112.15 85.3,111.66 86.6,111.14 87.9,110.59 89.2,109.99 90.5,109.35 91.8,108.66 93.1,107.93 94.4,107.16 95.7,106.34 97,105.47 98.3,104.55 99.6,103.58 100.9,102.56 102.2,101.49 103.5,100.38 104.8,99.22 106.1,98 107.4,96.75 108.7,95.44 110,94.1 111.3,92.71 112.6,91.29 113.9,89.84 115.2,88.35 116.5,86.83 117.8,85.29 119.1,83.74 120.4,82.17 121.7,80.59 123,79 124.3,77.42 125.6,75.85 126.9,74.29 128.2,72.76 129.5,71.25 130.8,69.77 132.1,68.33 133.4,66.94 134.7,65.6 136,64.32 137.3,63.1 138.6,61.96 139.9,60.89 141.2,59.91 142.5,59.01 143.8,58.2 145.1,57.49 146.4,56.88 147.7,56.37 149,55.96 150.3,55.67 151.6,55.48 152.9,55.4 154.2,55.44 155.5,55.58 156.8,55.83 158.1,56.19 159.4,56.66 160.7,57.23 162,57.9 163.3,58.67 164.6,59.54 165.9,60.49 167.2,61.52 168.5,62.64 169.8,63.83 171.1,65.08 172.4,66.4 173.7,67.77 175,69.19 176.3,70.65 177.6,72.15 178.9,73.68 180.2,75.23 181.5,76.79 182.8,78.37 184.1,79.95 185.4,81.54 186.7,83.11 188,84.67 189.3,86.22 190.6,87.75 191.9,89.24 193.2,90.71 194.5,92.15 195.8,93.55 197.1,94.91 198.4,96.23 199.7,97.51 201,98.74 202.3,99.92 203.6,101.05 204.9,102.14 206.2,103.18 207.5,104.17 208.8,105.1 210.1,105.99 211.4,106.84 212.7,107.63 214,108.38 215.3,109.08 216.6,109.74 217.9,110.35 219.2,110.93 220.5,111.46 221.8,111.96 223.1,112.42 224.4,112.84 225.7,113.24 227,113.6 228.3,113.93 229.6,114.24 230.9,114.51 232.2,114.77 233.5,115 234.8,115.21 236.1,115.41 237.4,115.58 238.7,115.74 240,115.88 241.3,116.01 242.6,116.12 243.9,116.22 245.2,116.32 246.5,116.4 247.8,116.47 249.1,116.54 250.4,116.59 251.7,116.65 253,116.69 254.3,116.73 255.6,116.77 256.9,116.8 258.2,116.82 259.5,116.85 260.8,116.87 262.1,116.89 263.4,116.9 264.7,116.92 266,116.93 267.3,116.94 268.6,116.95 269.9,116.96 271.2,116.96 272.5,116.97 273.8,116.97 275.1,116.98 276.4,116.98 277.7,116.98 279,116.99 280.3,116.99 281.6,116.99 282.9,116.99 284.2,116.99 285.5,116.99 286.8,117 288.1,117 289.4,117 290.7,117 292,117 293.3,117 294.6,117 295.9,117 297.2,117 298.5,117 299.8,117 301.1,117 302.4,117 303.7,117 305,117 306.3,117 307.6,117 308.9,117 310.2,117 311.5,117 312.8,117 314.1,117 315.4,117 316.7,117 318,117 319.3,117 320.6,117 321.9,117 323.2,117 324.5,117 325.8,117 327.1,117 328.4,117 329.7,117 331,117 331.6,117" fill="url(#ga_p)" fill-opacity="1"/>
<polygon points="22.7,117 22.9,117 24.2,117 25.5,117 26.8,117 28.1,117 29.4,117 30.7,117 32,117 33.3,117 34.6,117 35.9,117 37.2,117 38.5,117 39.8,117 41.1,117 42.4,117 43.7,117 45,117 46.3,117 47.6,117 48.9,117 50.2,117 51.5,117 52.8,117 54.1,117 55.4,117 56.7,117 58,117 59.3,117 60.6,117 61.9,117 63.2,117 64.5,117 65.8,117 67.1,117 68.4,117 69.7,117 71,117 72.3,117 73.6,117 74.9,117 76.2,117 77.5,117 78.8,117 80.1,117 81.4,117 82.7,117 84,117 85.3,117 86.6,117 87.9,117 89.2,117 90.5,117 91.8,117 93.1,117 94.4,117 95.7,117 97,117 98.3,117 99.6,117 100.9,117 102.2,117 103.5,117 104.8,117 106.1,117 107.4,116.99 108.7,116.99 110,116.99 111.3,116.99 112.6,116.98 113.9,116.98 115.2,116.97 116.5,116.96 117.8,116.95 119.1,116.93 120.4,116.91 121.7,116.89 123,116.86 124.3,116.82 125.6,116.77 126.9,116.72 128.2,116.65 129.5,116.56 130.8,116.46 132.1,116.33 133.4,116.18 134.7,116 136,115.79 137.3,115.54 138.6,115.25 139.9,114.91 141.2,114.52 142.5,114.07 143.8,113.55 145.1,112.97 146.4,112.31 147.7,111.57 149,110.74 150.3,109.83 151.6,108.83 152.9,107.73 154.2,106.54 155.5,105.25 156.8,103.88 158.1,102.42 159.4,100.87 160.7,99.26 162,97.58 163.3,95.86 164.6,94.09 165.9,92.31 167.2,90.52 168.5,88.75 169.8,87.01 171.1,85.33 172.4,83.72 173.7,82.21 175,80.82 176.3,79.56 177.6,78.45 178.9,77.52 180.2,76.76 181.5,76.21 182.8,75.85 184.1,75.7 185.4,75.77 186.7,76.04 188,76.52 189.3,77.19 190.6,78.06 191.9,79.1 193.2,80.3 194.5,81.64 195.8,83.1 197.1,84.67 198.4,86.33 199.7,88.05 201,89.81 202.3,91.59 203.6,93.38 204.9,95.15 206.2,96.9 207.5,98.6 208.8,100.24 210.1,101.81 211.4,103.3 212.7,104.71 214,106.03 215.3,107.26 216.6,108.4 217.9,109.44 219.2,110.39 220.5,111.25 221.8,112.02 223.1,112.71 224.4,113.33 225.7,113.87 227,114.35 228.3,114.76 229.6,115.12 230.9,115.43 232.2,115.7 233.5,115.92 234.8,116.11 236.1,116.27 237.4,116.41 238.7,116.52 240,116.61 241.3,116.69 242.6,116.75 243.9,116.8 245.2,116.85 246.5,116.88 247.8,116.91 249.1,116.93 250.4,116.94 251.7,116.96 253,116.97 254.3,116.97 255.6,116.98 256.9,116.99 258.2,116.99 259.5,116.99 260.8,116.99 262.1,117 263.4,117 264.7,117 266,117 267.3,117 268.6,117 269.9,117 271.2,117 272.5,117 273.8,117 275.1,117 276.4,117 277.7,117 279,117 280.3,117 281.6,117 282.9,117 284.2,117 285.5,117 286.8,117 288.1,117 289.4,117 290.7,117 292,117 293.3,117 294.6,117 295.9,117 297.2,117 298.5,117 299.8,117 301.1,117 302.4,117 303.7,117 305,117 306.3,117 307.6,117 308.9,117 310.2,117 311.5,117 312.8,117 314.1,117 315.4,117 316.7,117 318,117 319.3,117 320.6,117 321.9,117 323.2,117 324.5,117 325.8,117 327.1,117 328.4,117 329.7,117 331,117 331.6,117" fill="url(#ga_b)" fill-opacity="0.82"/>
<polygon points="22.7,117 22.9,117 24.2,117 25.5,117 26.8,117 28.1,117 29.4,117 30.7,117 32,117 33.3,117 34.6,117 35.9,117 37.2,117 38.5,117 39.8,117 41.1,117 42.4,117 43.7,117 45,117 46.3,117 47.6,117 48.9,117 50.2,117 51.5,117 52.8,117 54.1,117 55.4,117 56.7,117 58,117 59.3,117 60.6,117 61.9,117 63.2,117 64.5,117 65.8,117 67.1,117 68.4,117 69.7,117 71,117 72.3,117 73.6,117 74.9,117 76.2,117 77.5,117 78.8,117 80.1,117 81.4,117 82.7,117 84,117 85.3,117 86.6,117 87.9,117 89.2,117 90.5,117 91.8,117 93.1,117 94.4,117 95.7,117 97,117 98.3,117 99.6,117 100.9,117 102.2,117 103.5,117 104.8,117 106.1,117 107.4,117 108.7,117 110,117 111.3,117 112.6,117 113.9,117 115.2,117 116.5,116.99 117.8,116.99 119.1,116.99 120.4,116.99 121.7,116.99 123,116.98 124.3,116.98 125.6,116.98 126.9,116.97 128.2,116.96 129.5,116.96 130.8,116.95 132.1,116.93 133.4,116.92 134.7,116.91 136,116.89 137.3,116.87 138.6,116.84 139.9,116.81 141.2,116.78 142.5,116.74 143.8,116.69 145.1,116.64 146.4,116.58 147.7,116.51 149,116.43 150.3,116.34 151.6,116.23 152.9,116.12 154.2,115.99 155.5,115.84 156.8,115.68 158.1,115.5 159.4,115.3 160.7,115.08 162,114.83 163.3,114.57 164.6,114.27 165.9,113.95 167.2,113.61 168.5,113.23 169.8,112.83 171.1,112.39 172.4,111.93 173.7,111.44 175,110.91 176.3,110.36 177.6,109.77 178.9,109.16 180.2,108.52 181.5,107.86 182.8,107.18 184.1,106.47 185.4,105.75 186.7,105.01 188,104.26 189.3,103.5 190.6,102.75 191.9,101.99 193.2,101.24 194.5,100.5 195.8,99.78 197.1,99.08 198.4,98.41 199.7,97.76 201,97.16 202.3,96.59 203.6,96.07 204.9,95.61 206.2,95.19 207.5,94.83 208.8,94.54 210.1,94.3 211.4,94.14 212.7,94.03 214,94 215.3,94.03 216.6,94.14 217.9,94.3 219.2,94.54 220.5,94.83 221.8,95.19 223.1,95.61 224.4,96.07 225.7,96.59 227,97.16 228.3,97.76 229.6,98.41 230.9,99.08 232.2,99.78 233.5,100.5 234.8,101.24 236.1,101.99 237.4,102.75 238.7,103.5 240,104.26 241.3,105.01 242.6,105.75 243.9,106.47 245.2,107.18 246.5,107.86 247.8,108.52 249.1,109.16 250.4,109.77 251.7,110.36 253,110.91 254.3,111.44 255.6,111.93 256.9,112.39 258.2,112.83 259.5,113.23 260.8,113.61 262.1,113.95 263.4,114.27 264.7,114.57 266,114.83 267.3,115.08 268.6,115.3 269.9,115.5 271.2,115.68 272.5,115.84 273.8,115.99 275.1,116.12 276.4,116.23 277.7,116.34 279,116.43 280.3,116.51 281.6,116.58 282.9,116.64 284.2,116.69 285.5,116.74 286.8,116.78 288.1,116.81 289.4,116.84 290.7,116.87 292,116.89 293.3,116.91 294.6,116.92 295.9,116.93 297.2,116.95 298.5,116.96 299.8,116.96 301.1,116.97 302.4,116.98 303.7,116.98 305,116.98 306.3,116.99 307.6,116.99 308.9,116.99 310.2,116.99 311.5,116.99 312.8,117 314.1,117 315.4,117 316.7,117 318,117 319.3,117 320.6,117 321.9,117 323.2,117 324.5,117 325.8,117 327.1,117 328.4,117 329.7,117 331,117 331.6,117" fill="url(#ga_g)" fill-opacity="0.78"/>
<polyline points="22.9,116.99 24.2,116.99 25.5,116.99 26.8,116.99 28.1,116.98 29.4,116.98 30.7,116.98 32,116.97 33.3,116.97 34.6,116.96 35.9,116.96 37.2,116.95 38.5,116.94 39.8,116.93 41.1,116.92 42.4,116.91 43.7,116.89 45,116.88 46.3,116.86 47.6,116.83 48.9,116.81 50.2,116.78 51.5,116.75 52.8,116.71 54.1,116.66 55.4,116.62 56.7,116.56 58,116.5 59.3,116.43 60.6,116.35 61.9,116.26 63.2,116.16 64.5,116.05 65.8,115.93 67.1,115.8 68.4,115.64 69.7,115.48 71,115.29 72.3,115.09 73.6,114.87 74.9,114.62 76.2,114.35 77.5,114.06 78.8,113.73 80.1,113.38 81.4,113 82.7,112.59 84,112.15 85.3,111.66 86.6,111.14 87.9,110.59 89.2,109.99 90.5,109.35 91.8,108.66 93.1,107.93 94.4,107.16 95.7,106.34 97,105.47 98.3,104.55 99.6,103.58 100.9,102.56 102.2,101.49 103.5,100.38 104.8,99.21 106.1,98 107.4,96.74 108.7,95.44 110,94.09 111.3,92.7 112.6,91.27 113.9,89.81 115.2,88.31 116.5,86.79 117.8,85.24 119.1,83.66 120.4,82.07 121.7,80.46 123,78.85 124.3,77.23 125.6,75.6 126.9,73.98 128.2,72.37 129.5,70.76 130.8,69.17 132.1,67.6 133.4,66.04 134.7,64.51 136,63 137.3,61.51 138.6,60.05 139.9,58.61 141.2,57.2 142.5,55.81 143.8,54.44 145.1,53.09 146.4,51.76 147.7,50.44 149,49.13 150.3,47.83 151.6,46.54 152.9,45.25 154.2,43.96 155.5,42.68 156.8,41.39 158.1,40.11 159.4,38.84 160.7,37.57 162,36.32 163.3,35.1 164.6,33.9 165.9,32.75 167.2,31.65 168.5,30.62 169.8,29.66 171.1,28.8 172.4,28.05 173.7,27.41 175,26.92 176.3,26.57 177.6,26.38 178.9,26.36 180.2,26.52 181.5,26.86 182.8,27.4 184.1,28.13 185.4,29.05 186.7,30.16 188,31.45 189.3,32.92 190.6,34.55 191.9,36.33 193.2,38.25 194.5,40.29 195.8,42.43 197.1,44.67 198.4,46.97 199.7,49.32 201,51.7 202.3,54.1 203.6,56.51 204.9,58.9 206.2,61.27 207.5,63.59 208.8,65.88 210.1,68.11 211.4,70.27 212.7,72.38 214,74.41 215.3,76.38 216.6,78.27 217.9,80.1 219.2,81.85 220.5,83.54 221.8,85.17 223.1,86.74 224.4,88.25 225.7,89.7 227,91.1 228.3,92.45 229.6,93.76 230.9,95.02 232.2,96.25 233.5,97.43 234.8,98.57 236.1,99.67 237.4,100.73 238.7,101.76 240,102.75 241.3,103.71 242.6,104.62 243.9,105.5 245.2,106.34 246.5,107.14 247.8,107.9 249.1,108.63 250.4,109.31 251.7,109.96 253,110.57 254.3,111.14 255.6,111.68 256.9,112.18 258.2,112.64 259.5,113.07 260.8,113.47 262.1,113.84 263.4,114.17 264.7,114.48 266,114.76 267.3,115.02 268.6,115.25 269.9,115.46 271.2,115.64 272.5,115.81 273.8,115.96 275.1,116.1 276.4,116.22 277.7,116.32 279,116.41 280.3,116.49 281.6,116.57 282.9,116.63 284.2,116.68 285.5,116.73 286.8,116.77 288.1,116.81 289.4,116.84 290.7,116.86 292,116.88 293.3,116.9 294.6,116.92 295.9,116.93 297.2,116.94 298.5,116.95 299.8,116.96 301.1,116.97 302.4,116.97 303.7,116.98 305,116.98 306.3,116.99 307.6,116.99 308.9,116.99 310.2,116.99 311.5,116.99 312.8,117 314.1,117 315.4,117 316.7,117 318,117 319.3,117 320.6,117 321.9,117 323.2,117 324.5,117 325.8,117 327.1,117 328.4,117 329.7,117 331,117" fill="none" stroke="#e87c6e" stroke-width="1.3"/>
<line x1="22.7" y1="117" x2="331.6" y2="117" stroke="#c9c08a" stroke-width="1.6" />
<polygon points="22.7,233.7 22.9,233.7 24.2,233.7 25.5,233.7 26.8,233.7 28.1,233.7 29.4,233.7 30.7,233.7 32,233.69 33.3,233.69 34.6,233.69 35.9,233.69 37.2,233.69 38.5,233.68 39.8,233.68 41.1,233.68 42.4,233.67 43.7,233.67 45,233.66 46.3,233.65 47.6,233.65 48.9,233.64 50.2,233.62 51.5,233.61 52.8,233.6 54.1,233.58 55.4,233.56 56.7,233.53 58,233.5 59.3,233.47 60.6,233.44 61.9,233.39 63.2,233.34 64.5,233.29 65.8,233.23 67.1,233.16 68.4,233.07 69.7,232.98 71,232.88 72.3,232.76 73.6,232.64 74.9,232.49 76.2,232.33 77.5,232.15 78.8,231.94 80.1,231.72 81.4,231.47 82.7,231.2 84,230.9 85.3,230.57 86.6,230.2 87.9,229.8 89.2,229.37 90.5,228.9 91.8,228.38 93.1,227.83 94.4,227.22 95.7,226.58 97,225.88 98.3,225.13 99.6,224.32 100.9,223.47 102.2,222.56 103.5,221.59 104.8,220.56 106.1,219.47 107.4,218.33 108.7,217.13 110,215.87 111.3,214.55 112.6,213.18 113.9,211.76 115.2,210.28 116.5,208.75 117.8,207.18 119.1,205.57 120.4,203.92 121.7,202.24 123,200.53 124.3,198.79 125.6,197.04 126.9,195.28 128.2,193.52 129.5,191.76 130.8,190.02 132.1,188.29 133.4,186.59 134.7,184.93 136,183.31 137.3,181.74 138.6,180.24 139.9,178.8 141.2,177.43 142.5,176.15 143.8,174.96 145.1,173.86 146.4,172.87 147.7,171.99 149,171.22 150.3,170.57 151.6,170.04 152.9,169.64 154.2,169.37 155.5,169.22 156.8,169.21 158.1,169.33 159.4,169.58 160.7,169.95 162,170.45 163.3,171.08 164.6,171.83 165.9,172.69 167.2,173.66 168.5,174.73 169.8,175.9 171.1,177.17 172.4,178.52 173.7,179.94 175,181.44 176.3,182.99 177.6,184.6 178.9,186.26 180.2,187.95 181.5,189.67 182.8,191.41 184.1,193.17 185.4,194.93 186.7,196.69 188,198.44 189.3,200.18 190.6,201.9 191.9,203.59 193.2,205.24 194.5,206.86 195.8,208.44 197.1,209.98 198.4,211.47 199.7,212.9 201,214.28 202.3,215.61 203.6,216.88 204.9,218.1 206.2,219.25 207.5,220.35 208.8,221.39 210.1,222.37 211.4,223.29 212.7,224.16 214,224.97 215.3,225.73 216.6,226.44 217.9,227.1 219.2,227.71 220.5,228.28 221.8,228.8 223.1,229.28 224.4,229.72 225.7,230.13 227,230.5 228.3,230.83 229.6,231.14 230.9,231.42 232.2,231.67 233.5,231.9 234.8,232.11 236.1,232.29 237.4,232.46 238.7,232.61 240,232.74 241.3,232.86 242.6,232.96 243.9,233.06 245.2,233.14 246.5,233.21 247.8,233.28 249.1,233.33 250.4,233.38 251.7,233.43 253,233.47 254.3,233.5 255.6,233.53 256.9,233.55 258.2,233.57 259.5,233.59 260.8,233.61 262.1,233.62 263.4,233.63 264.7,233.64 266,233.65 267.3,233.66 268.6,233.67 269.9,233.67 271.2,233.68 272.5,233.68 273.8,233.68 275.1,233.69 276.4,233.69 277.7,233.69 279,233.69 280.3,233.69 281.6,233.69 282.9,233.7 284.2,233.7 285.5,233.7 286.8,233.7 288.1,233.7 289.4,233.7 290.7,233.7 292,233.7 293.3,233.7 294.6,233.7 295.9,233.7 297.2,233.7 298.5,233.7 299.8,233.7 301.1,233.7 302.4,233.7 303.7,233.7 305,233.7 306.3,233.7 307.6,233.7 308.9,233.7 310.2,233.7 311.5,233.7 312.8,233.7 314.1,233.7 315.4,233.7 316.7,233.7 318,233.7 319.3,233.7 320.6,233.7 321.9,233.7 323.2,233.7 324.5,233.7 325.8,233.7 327.1,233.7 328.4,233.7 329.7,233.7 331,233.7 331.6,233.7" fill="url(#ga_p)" fill-opacity="1"/>
<polygon points="22.7,233.7 22.9,233.7 24.2,233.7 25.5,233.7 26.8,233.7 28.1,233.7 29.4,233.7 30.7,233.7 32,233.7 33.3,233.7 34.6,233.7 35.9,233.7 37.2,233.7 38.5,233.7 39.8,233.7 41.1,233.7 42.4,233.7 43.7,233.7 45,233.7 46.3,233.7 47.6,233.7 48.9,233.7 50.2,233.7 51.5,233.7 52.8,233.7 54.1,233.7 55.4,233.7 56.7,233.7 58,233.7 59.3,233.7 60.6,233.7 61.9,233.7 63.2,233.7 64.5,233.7 65.8,233.7 67.1,233.7 68.4,233.7 69.7,233.7 71,233.7 72.3,233.7 73.6,233.7 74.9,233.7 76.2,233.7 77.5,233.7 78.8,233.7 80.1,233.7 81.4,233.7 82.7,233.7 84,233.7 85.3,233.7 86.6,233.7 87.9,233.7 89.2,233.69 90.5,233.69 91.8,233.69 93.1,233.69 94.4,233.69 95.7,233.68 97,233.68 98.3,233.68 99.6,233.67 100.9,233.67 102.2,233.66 103.5,233.65 104.8,233.64 106.1,233.63 107.4,233.62 108.7,233.61 110,233.59 111.3,233.57 112.6,233.55 113.9,233.53 115.2,233.5 116.5,233.47 117.8,233.43 119.1,233.39 120.4,233.35 121.7,233.3 123,233.24 124.3,233.17 125.6,233.1 126.9,233.02 128.2,232.93 129.5,232.83 130.8,232.72 132.1,232.61 133.4,232.48 134.7,232.34 136,232.18 137.3,232.02 138.6,231.84 139.9,231.64 141.2,231.44 142.5,231.22 143.8,230.98 145.1,230.73 146.4,230.47 147.7,230.19 149,229.9 150.3,229.6 151.6,229.28 152.9,228.96 154.2,228.62 155.5,228.27 156.8,227.92 158.1,227.56 159.4,227.19 160.7,226.83 162,226.46 163.3,226.09 164.6,225.72 165.9,225.36 167.2,225.01 168.5,224.66 169.8,224.33 171.1,224.01 172.4,223.71 173.7,223.43 175,223.17 176.3,222.93 177.6,222.71 178.9,222.52 180.2,222.36 181.5,222.23 182.8,222.12 184.1,222.05 185.4,222.01 186.7,222 188,222.02 189.3,222.08 190.6,222.16 191.9,222.28 193.2,222.42 194.5,222.59 195.8,222.79 197.1,223.02 198.4,223.27 199.7,223.54 201,223.83 202.3,224.14 203.6,224.46 204.9,224.8 206.2,225.15 207.5,225.5 208.8,225.87 210.1,226.23 211.4,226.6 212.7,226.97 214,227.34 215.3,227.7 216.6,228.06 217.9,228.41 219.2,228.76 220.5,229.09 221.8,229.41 223.1,229.72 224.4,230.02 225.7,230.3 227,230.58 228.3,230.83 229.6,231.08 230.9,231.31 232.2,231.52 233.5,231.72 234.8,231.91 236.1,232.08 237.4,232.24 238.7,232.39 240,232.53 241.3,232.65 242.6,232.77 243.9,232.87 245.2,232.97 246.5,233.05 247.8,233.13 249.1,233.2 250.4,233.26 251.7,233.32 253,233.37 254.3,233.41 255.6,233.45 256.9,233.48 258.2,233.51 259.5,233.54 260.8,233.56 262.1,233.58 263.4,233.6 264.7,233.61 266,233.63 267.3,233.64 268.6,233.65 269.9,233.66 271.2,233.66 272.5,233.67 273.8,233.67 275.1,233.68 276.4,233.68 277.7,233.69 279,233.69 280.3,233.69 281.6,233.69 282.9,233.69 284.2,233.69 285.5,233.7 286.8,233.7 288.1,233.7 289.4,233.7 290.7,233.7 292,233.7 293.3,233.7 294.6,233.7 295.9,233.7 297.2,233.7 298.5,233.7 299.8,233.7 301.1,233.7 302.4,233.7 303.7,233.7 305,233.7 306.3,233.7 307.6,233.7 308.9,233.7 310.2,233.7 311.5,233.7 312.8,233.7 314.1,233.7 315.4,233.7 316.7,233.7 318,233.7 319.3,233.7 320.6,233.7 321.9,233.7 323.2,233.7 324.5,233.7 325.8,233.7 327.1,233.7 328.4,233.7 329.7,233.7 331,233.7 331.6,233.7" fill="url(#ga_b)" fill-opacity="0.82"/>
<polygon points="22.7,233.7 22.9,233.7 24.2,233.7 25.5,233.7 26.8,233.7 28.1,233.7 29.4,233.7 30.7,233.7 32,233.7 33.3,233.7 34.6,233.7 35.9,233.7 37.2,233.7 38.5,233.7 39.8,233.7 41.1,233.7 42.4,233.7 43.7,233.7 45,233.7 46.3,233.7 47.6,233.7 48.9,233.7 50.2,233.7 51.5,233.7 52.8,233.7 54.1,233.7 55.4,233.7 56.7,233.7 58,233.7 59.3,233.7 60.6,233.7 61.9,233.7 63.2,233.7 64.5,233.7 65.8,233.7 67.1,233.7 68.4,233.7 69.7,233.7 71,233.7 72.3,233.7 73.6,233.7 74.9,233.7 76.2,233.7 77.5,233.7 78.8,233.7 80.1,233.7 81.4,233.7 82.7,233.7 84,233.7 85.3,233.7 86.6,233.7 87.9,233.7 89.2,233.7 90.5,233.7 91.8,233.7 93.1,233.7 94.4,233.7 95.7,233.7 97,233.7 98.3,233.7 99.6,233.7 100.9,233.7 102.2,233.7 103.5,233.7 104.8,233.7 106.1,233.7 107.4,233.7 108.7,233.7 110,233.7 111.3,233.7 112.6,233.7 113.9,233.7 115.2,233.7 116.5,233.7 117.8,233.7 119.1,233.7 120.4,233.7 121.7,233.7 123,233.7 124.3,233.7 125.6,233.7 126.9,233.69 128.2,233.69 129.5,233.69 130.8,233.69 132.1,233.69 133.4,233.69 134.7,233.68 136,233.68 137.3,233.68 138.6,233.67 139.9,233.67 141.2,233.66 142.5,233.65 143.8,233.64 145.1,233.63 146.4,233.62 147.7,233.61 149,233.59 150.3,233.58 151.6,233.56 152.9,233.53 154.2,233.51 155.5,233.48 156.8,233.45 158.1,233.41 159.4,233.37 160.7,233.33 162,233.28 163.3,233.23 164.6,233.17 165.9,233.1 167.2,233.04 168.5,232.96 169.8,232.88 171.1,232.79 172.4,232.7 173.7,232.6 175,232.49 176.3,232.38 177.6,232.26 178.9,232.14 180.2,232.01 181.5,231.88 182.8,231.74 184.1,231.6 185.4,231.45 186.7,231.3 188,231.15 189.3,231 190.6,230.85 191.9,230.7 193.2,230.55 194.5,230.4 195.8,230.26 197.1,230.12 198.4,229.99 199.7,229.87 201,229.75 202.3,229.64 203.6,229.55 204.9,229.46 206.2,229.38 207.5,229.32 208.8,229.27 210.1,229.23 211.4,229.21 212.7,229.2 214,229.2 215.3,229.22 216.6,229.25 217.9,229.3 219.2,229.36 220.5,229.43 221.8,229.51 223.1,229.6 224.4,229.71 225.7,229.82 227,229.94 228.3,230.07 229.6,230.21 230.9,230.35 232.2,230.49 233.5,230.64 234.8,230.79 236.1,230.94 237.4,231.09 238.7,231.24 240,231.39 241.3,231.54 242.6,231.68 243.9,231.82 245.2,231.96 246.5,232.09 247.8,232.21 249.1,232.33 250.4,232.45 251.7,232.56 253,232.66 254.3,232.75 255.6,232.84 256.9,232.93 258.2,233.01 259.5,233.08 260.8,233.14 262.1,233.2 263.4,233.26 264.7,233.31 266,233.36 267.3,233.4 268.6,233.43 269.9,233.47 271.2,233.5 272.5,233.52 273.8,233.55 275.1,233.57 276.4,233.59 277.7,233.6 279,233.62 280.3,233.63 281.6,233.64 282.9,233.65 284.2,233.66 285.5,233.66 286.8,233.67 288.1,233.67 289.4,233.68 290.7,233.68 292,233.69 293.3,233.69 294.6,233.69 295.9,233.69 297.2,233.69 298.5,233.69 299.8,233.7 301.1,233.7 302.4,233.7 303.7,233.7 305,233.7 306.3,233.7 307.6,233.7 308.9,233.7 310.2,233.7 311.5,233.7 312.8,233.7 314.1,233.7 315.4,233.7 316.7,233.7 318,233.7 319.3,233.7 320.6,233.7 321.9,233.7 323.2,233.7 324.5,233.7 325.8,233.7 327.1,233.7 328.4,233.7 329.7,233.7 331,233.7 331.6,233.7" fill="url(#ga_g)" fill-opacity="0.78"/>
<polyline points="22.9,233.7 24.2,233.7 25.5,233.7 26.8,233.7 28.1,233.7 29.4,233.7 30.7,233.7 32,233.69 33.3,233.69 34.6,233.69 35.9,233.69 37.2,233.69 38.5,233.68 39.8,233.68 41.1,233.68 42.4,233.67 43.7,233.67 45,233.66 46.3,233.65 47.6,233.65 48.9,233.64 50.2,233.62 51.5,233.61 52.8,233.6 54.1,233.58 55.4,233.56 56.7,233.53 58,233.5 59.3,233.47 60.6,233.44 61.9,233.39 63.2,233.34 64.5,233.29 65.8,233.23 67.1,233.16 68.4,233.07 69.7,232.98 71,232.88 72.3,232.76 73.6,232.63 74.9,232.49 76.2,232.33 77.5,232.14 78.8,231.94 80.1,231.72 81.4,231.47 82.7,231.2 84,230.9 85.3,230.56 86.6,230.2 87.9,229.8 89.2,229.36 90.5,228.89 91.8,228.37 93.1,227.82 94.4,227.21 95.7,226.56 97,225.86 98.3,225.1 99.6,224.3 100.9,223.43 102.2,222.52 103.5,221.54 104.8,220.5 106.1,219.41 107.4,218.25 108.7,217.04 110,215.76 111.3,214.43 112.6,213.03 113.9,211.58 115.2,210.08 116.5,208.52 117.8,206.92 119.1,205.26 120.4,203.56 121.7,201.83 123,200.06 124.3,198.26 125.6,196.44 126.9,194.6 128.2,192.75 129.5,190.89 130.8,189.03 132.1,187.19 133.4,185.36 134.7,183.55 136,181.77 137.3,180.03 138.6,178.34 139.9,176.7 141.2,175.13 142.5,173.62 143.8,172.18 145.1,170.83 146.4,169.56 147.7,168.39 149,167.31 150.3,166.34 151.6,165.48 152.9,164.73 154.2,164.09 155.5,163.58 156.8,163.18 158.1,162.9 159.4,162.74 160.7,162.71 162,162.79 163.3,162.99 164.6,163.31 165.9,163.75 167.2,164.3 168.5,164.95 169.8,165.71 171.1,166.57 172.4,167.53 173.7,168.57 175,169.7 176.3,170.9 177.6,172.18 178.9,173.52 180.2,174.92 181.5,176.38 182.8,177.88 184.1,179.42 185.4,180.99 186.7,182.59 188,184.22 189.3,185.86 190.6,187.51 191.9,189.16 193.2,190.81 194.5,192.46 195.8,194.1 197.1,195.72 198.4,197.33 199.7,198.91 201,200.47 202.3,201.99 203.6,203.49 204.9,204.95 206.2,206.38 207.5,207.77 208.8,209.12 210.1,210.43 211.4,211.7 212.7,212.93 214,214.12 215.3,215.26 216.6,216.36 217.9,217.41 219.2,218.42 220.5,219.39 221.8,220.32 223.1,221.2 224.4,222.05 225.7,222.85 227,223.61 228.3,224.34 229.6,225.02 230.9,225.67 232.2,226.28 233.5,226.86 234.8,227.41 236.1,227.92 237.4,228.39 238.7,228.84 240,229.26 241.3,229.65 242.6,230.02 243.9,230.35 245.2,230.67 246.5,230.96 247.8,231.22 249.1,231.47 250.4,231.69 251.7,231.9 253,232.09 254.3,232.26 255.6,232.42 256.9,232.56 258.2,232.69 259.5,232.81 260.8,232.91 262.1,233.01 263.4,233.09 264.7,233.17 266,233.24 267.3,233.3 268.6,233.35 269.9,233.4 271.2,233.44 272.5,233.47 273.8,233.51 275.1,233.53 276.4,233.56 277.7,233.58 279,233.6 280.3,233.61 281.6,233.63 282.9,233.64 284.2,233.65 285.5,233.66 286.8,233.66 288.1,233.67 289.4,233.67 290.7,233.68 292,233.68 293.3,233.69 294.6,233.69 295.9,233.69 297.2,233.69 298.5,233.69 299.8,233.69 301.1,233.7 302.4,233.7 303.7,233.7 305,233.7 306.3,233.7 307.6,233.7 308.9,233.7 310.2,233.7 311.5,233.7 312.8,233.7 314.1,233.7 315.4,233.7 316.7,233.7 318,233.7 319.3,233.7 320.6,233.7 321.9,233.7 323.2,233.7 324.5,233.7 325.8,233.7 327.1,233.7 328.4,233.7 329.7,233.7 331,233.7" fill="none" stroke="#e87c6e" stroke-width="1.3"/>
<line x1="22.7" y1="233.7" x2="331.6" y2="233.7" stroke="#c9c08a" stroke-width="1.6" />
<rect x="31.7" y="116.17" width="1.6" height="1.6" fill="#555"/>
<rect x="47" y="115.44" width="1.6" height="1.6" fill="#555"/>
<rect x="62.4" y="115.52" width="1.6" height="1.6" fill="#555"/>
<rect x="77.1" y="113.72" width="1.6" height="1.6" fill="#555"/>
<rect x="92.5" y="106.72" width="1.6" height="1.6" fill="#555"/>
<rect x="108.6" y="93.44" width="1.6" height="1.6" fill="#555"/>
<rect x="123.2" y="77.22" width="1.6" height="1.6" fill="#555"/>
<rect x="138.6" y="58.73" width="1.6" height="1.6" fill="#555"/>
<rect x="154" y="42.05" width="1.6" height="1.6" fill="#555"/>
<rect x="169.1" y="28.56" width="1.6" height="1.6" fill="#555"/>
<rect x="184.1" y="28.45" width="1.6" height="1.6" fill="#555"/>
<rect x="200.2" y="50.99" width="1.6" height="1.6" fill="#555"/>
<rect x="215.2" y="76.01" width="1.6" height="1.6" fill="#555"/>
<rect x="230.2" y="94.39" width="1.6" height="1.6" fill="#555"/>
<rect x="245.2" y="106.62" width="1.6" height="1.6" fill="#555"/>
<rect x="261" y="112.74" width="1.6" height="1.6" fill="#555"/>
<rect x="276" y="114.92" width="1.6" height="1.6" fill="#555"/>
<rect x="291.4" y="116.44" width="1.6" height="1.6" fill="#555"/>
<rect x="306.8" y="116.63" width="1.6" height="1.6" fill="#555"/>
<rect x="321.8" y="115.74" width="1.6" height="1.6" fill="#555"/>
<rect x="31.7" y="232.6" width="1.6" height="1.6" fill="#555"/>
<rect x="47" y="231.9" width="1.6" height="1.6" fill="#555"/>
<rect x="62.4" y="229.9" width="1.6" height="1.6" fill="#555"/>
<rect x="77.1" y="227.2" width="1.6" height="1.6" fill="#555"/>
<rect x="92.5" y="221.3" width="1.6" height="1.6" fill="#555"/>
<rect x="108.6" y="211.8" width="1.6" height="1.6" fill="#555"/>
<rect x="123.2" y="195.7" width="1.6" height="1.6" fill="#555"/>
<rect x="138.6" y="176.9" width="1.6" height="1.6" fill="#555"/>
<rect x="154" y="163.2" width="1.6" height="1.6" fill="#555"/>
<rect x="169.1" y="162.2" width="1.6" height="1.6" fill="#555"/>
<rect x="184.1" y="176.2" width="1.6" height="1.6" fill="#555"/>
<rect x="200.2" y="193" width="1.6" height="1.6" fill="#555"/>
<rect x="215.2" y="210.4" width="1.6" height="1.6" fill="#555"/>
<rect x="230.2" y="217.9" width="1.6" height="1.6" fill="#555"/>
<rect x="245.2" y="225.8" width="1.6" height="1.6" fill="#555"/>
<rect x="261" y="229.2" width="1.6" height="1.6" fill="#555"/>
<rect x="276" y="230.9" width="1.6" height="1.6" fill="#555"/>
<rect x="291.4" y="232.2" width="1.6" height="1.6" fill="#555"/>
<rect x="306.8" y="233" width="1.6" height="1.6" fill="#555"/>
<rect x="321.8" y="233" width="1.6" height="1.6" fill="#555"/>
<rect x="22.7" y="8.7" width="308.9" height="232.3" fill="none" stroke="#2b2b2b" stroke-width="1.4"/>
<line x1="22.7" y1="125" x2="331.6" y2="125" stroke="#2b2b2b" stroke-width="1.4" />
<line x1="47.6" y1="241" x2="47.6" y2="243.5" stroke="#2b2b2b" stroke-width="1.2" />
<line x1="99.6" y1="241" x2="99.6" y2="244.5" stroke="#2b2b2b" stroke-width="1.2" />
<line x1="151.6" y1="241" x2="151.6" y2="243.5" stroke="#2b2b2b" stroke-width="1.2" />
<line x1="203.6" y1="241" x2="203.6" y2="244.5" stroke="#2b2b2b" stroke-width="1.2" />
<line x1="255.6" y1="241" x2="255.6" y2="243.5" stroke="#2b2b2b" stroke-width="1.2" />
<line x1="307.6" y1="241" x2="307.6" y2="244.5" stroke="#2b2b2b" stroke-width="1.2" />
<text x="99.6" y="259.2" font-size="13" text-anchor="middle" >700</text>
<text x="203.6" y="259.2" font-size="13" text-anchor="middle" >720</text>
<text x="307.6" y="259.2" font-size="13" text-anchor="middle" >740</text>
<text x="176" y="277" font-size="14" text-anchor="middle" >Raman shift (cm<tspan dy="-5" font-size="9">-1</tspan><tspan dy="5">)</tspan></text>
<text x="0" y="0" font-size="14" text-anchor="middle" transform="translate(12,131) rotate(-90)">Intensity (a.u.)</text>
<text x="327" y="22.5" font-size="13" text-anchor="end" >NPV</text>
<text x="327" y="139" font-size="13" text-anchor="end" >NPMV</text>
<text x="128" y="85.5" font-size="13" >Free PC</text>
<text x="219" y="66" font-size="13" >Coordinated PC</text>
<line x1="225.9" y1="70.1" x2="192.5" y2="92.2" stroke="#222" stroke-width="1.1" stroke-dasharray="3.5 2.5"/>
<line x1="242.6" y1="75.1" x2="218.4" y2="107.6" stroke="#222" stroke-width="1.1" stroke-dasharray="3.5 2.5"/>
<text x="1" y="16.6" font-size="21.5" >a</text>
<rect x="358.5" y="28.3" width="173.23" height="75.2" fill="#fbbcbf"/>
<rect x="531.73" y="28.3" width="80.97" height="75.2" fill="#8ccde5"/>
<rect x="612.7" y="28.3" width="55.8" height="75.2" fill="#d8e8b6"/>
<rect x="358.5" y="144.8" width="246.76" height="75.4" fill="#fbbcbf"/>
<rect x="605.26" y="144.8" width="49.91" height="75.4" fill="#8ccde5"/>
<rect x="655.17" y="144.8" width="13.33" height="75.4" fill="#d8e8b6"/>
<rect x="358.5" y="8" width="310" height="233" fill="none" stroke="#2b2b2b" stroke-width="1.4"/>
<line x1="358.5" y1="241" x2="358.5" y2="244.8" stroke="#2b2b2b" stroke-width="1.2" />
<line x1="436" y1="241" x2="436" y2="244.8" stroke="#2b2b2b" stroke-width="1.2" />
<line x1="513.5" y1="241" x2="513.5" y2="244.8" stroke="#2b2b2b" stroke-width="1.2" />
<line x1="591" y1="241" x2="591" y2="244.8" stroke="#2b2b2b" stroke-width="1.2" />
<line x1="668.5" y1="241" x2="668.5" y2="244.8" stroke="#2b2b2b" stroke-width="1.2" />
<line x1="356.5" y1="124" x2="360.5" y2="124" stroke="#2b2b2b" stroke-width="1.2" />
<line x1="356.5" y1="241" x2="360.5" y2="241" stroke="#2b2b2b" stroke-width="1.2" />
<text x="358.5" y="259.6" font-size="13.5" text-anchor="middle" >0</text>
<text x="436" y="259.6" font-size="13.5" text-anchor="middle" >25</text>
<text x="513.5" y="259.6" font-size="13.5" text-anchor="middle" >50</text>
<text x="591" y="259.6" font-size="13.5" text-anchor="middle" >75</text>
<text x="668.5" y="259.6" font-size="13.5" text-anchor="middle" >100</text>
<text x="513" y="282" font-size="14" text-anchor="middle" >Peak area ratio (%)</text>
<text x="378.4" y="66" font-size="13" >NPV</text>
<text x="431.5" y="67.5" font-size="13" >55.88%</text>
<text x="436.4" y="126.5" font-size="13" >Free PC</text>
<text x="561" y="126.5" font-size="13" >Coordinated PC</text>
<text x="597" y="67.5" font-size="13" >44.12%</text>
<text x="367.5" y="182.5" font-size="13" >NPMV</text>
<text x="471" y="187.5" font-size="13" >79.60%</text>
<text x="623.5" y="187.5" font-size="13" >20.40%</text>
<rect x="679.6" y="247" width="9" height="16" fill="#fff"/>
<text x="341" y="17" font-size="21.5" >b</text>
<polyline points="704.5,88.75 705.5,88.75 706.5,88.74 707.5,88.74 708.5,88.73 709.5,88.73 710.5,88.72 711.5,88.72 712.5,88.71 713.5,88.71 714.5,88.7 715.5,88.7 716.5,88.69 717.5,88.69 718.5,88.68 719.5,88.68 720.5,88.67 721.5,88.67 722.5,88.66 723.5,88.66 724.5,88.65 725.5,88.64 726.5,88.64 727.5,88.63 728.5,88.62 729.5,88.62 730.5,88.61 731.5,88.61 732.5,88.6 733.5,88.59 734.5,88.59 735.5,88.58 736.5,88.57 737.5,88.56 738.5,88.56 739.5,88.55 740.5,88.54 741.5,88.53 742.5,88.53 743.5,88.52 744.5,88.51 745.5,88.5 746.5,88.49 747.5,88.48 748.5,88.47 749.5,88.47 750.5,88.46 751.5,88.45 752.5,88.44 753.5,88.43 754.5,88.42 755.5,88.41 756.5,88.4 757.5,88.39 758.5,88.38 759.5,88.37 760.5,88.36 761.5,88.34 762.5,88.33 763.5,88.32 764.5,88.31 765.5,88.3 766.5,88.28 767.5,88.27 768.5,88.26 769.5,88.25 770.5,88.23 771.5,88.22 772.5,88.21 773.5,88.19 774.5,88.18 775.5,88.16 776.5,88.15 777.5,88.13 778.5,88.11 779.5,88.1 780.5,88.08 781.5,88.07 782.5,88.05 783.5,88.03 784.5,88.01 785.5,87.99 786.5,87.97 787.5,87.96 788.5,87.94 789.5,87.92 790.5,87.89 791.5,87.87 792.5,87.85 793.5,87.83 794.5,87.81 795.5,87.78 796.5,87.76 797.5,87.74 798.5,87.71 799.5,87.68 799.75,87.68 800,87.67 800.25,87.66 800.5,87.66 800.75,87.65 801,87.64 801.25,87.64 801.5,87.62 801.75,87.6 802,87.52 802.25,87.3 802.5,86.77 802.75,85.64 803,83.67 803.25,80.87 803.5,77.72 803.75,75.18 804,74.26 804.25,76.01 804.5,79.96 804.75,83.98 805,86.71 805.25,88.07 805.5,88.57 805.75,88.66 806,88.57 806.25,88.39 806.5,88.17 806.75,87.96 807,87.78 807.25,87.64 807.5,87.55 807.75,87.49 808,87.46 808.25,87.44 808.5,87.42 808.75,87.41 809,87.41 810,87.37 811,87.34 812,87.3 813,87.26 814,87.23 815,87.19 816,87.15 817,87.11 818,87.07 819,87.02 820,86.98 821,86.93 822,86.89 823,86.84 824,86.79 825,86.74 826,86.69 827,86.63 828,86.58 829,86.52 830,86.46 831,86.4 832,86.33 833,86.27 834,86.2 835,86.13 836,86.06 837,85.99 838,85.91 839,85.83 840,85.75 841,85.67 842,85.58 843,85.49 844,85.4 845,85.3 846,85.2 847,85.1 848,84.99 849,84.88 850,84.76 851,84.65 852,84.52 853,84.4 854,84.26 855,84.13 856,83.98 857,83.84 858,83.68 859,83.52 860,83.36 861,83.18 862,83 863,82.82 864,82.62 865,82.42 866,82.21 867,81.99 868,81.76 869,81.52 870,81.26 871,81 872,80.72 873,80.42 874,80.11 875,79.79 876,79.44 877,79.07 878,78.67 878.25,78.57 878.5,78.47 878.75,78.36 879,78.25 879.25,78.14 879.5,78.03 879.75,77.91 880,77.79 880.25,77.68 880.5,77.55 880.75,77.43 881,77.3 881.25,77.17 881.5,77.04 881.75,76.91 882,76.77 882.25,76.63 882.5,76.48 882.75,76.33 883,76.18 883.25,76.03 883.5,75.87 883.75,75.7 884,75.54 884.25,75.36 884.5,75.19 884.75,75.01 885,74.82 885.25,74.63 885.5,74.43 885.75,74.23 886,74.02 886.25,73.8 886.5,73.58 886.75,73.35 887,73.11 887.25,72.87 887.5,72.62 887.75,72.36 888,72.09 888.25,71.81 888.5,71.52 888.75,71.22 889,70.9 889.25,70.58 889.5,70.24 889.75,69.9 890,69.53 890.25,69.16 890.5,68.76 890.75,68.35 891,67.93 891.25,67.48 891.5,67.02 891.75,66.53 892,66.03 892.25,65.5 892.5,64.94 892.75,64.37 893,63.76 893.25,63.13 893.5,62.46 893.75,61.77 894,61.04 894.25,60.28 894.5,59.48 894.75,58.64 895,57.76 895.25,56.84 895.5,55.88 895.75,54.87 896,53.82 896.25,52.72 896.5,51.57 896.75,50.37 897,49.12 897.25,47.82 897.5,46.48 897.75,45.09 898,43.66 898.25,42.18 898.5,40.68 898.75,39.15 899,37.59 899.25,36.03 899.5,34.47 899.75,32.92 900,31.41 900.25,29.94 900.5,28.53 900.75,27.21 901,25.98 901.25,24.88 901.5,23.92 901.75,23.11 902,22.47 902.25,22.02 902.5,21.76 902.75,21.72 903,21.89 903.25,22.25 903.5,22.79 903.75,23.51 904,24.41 904.25,25.47 904.5,26.7 904.75,28.07 905,29.58 905.25,31.22 905.5,32.98 905.75,34.84 906,36.79 906.25,38.81 906.5,40.9 906.75,43.04 907,45.21 907.25,47.41 907.5,49.62 907.75,51.82 908,54.01 908.25,56.18 908.5,58.31 908.75,60.4 909,62.44 909.25,64.42 909.5,66.33 909.75,68.18 910,69.95 910.25,71.64 910.5,73.25 910.75,74.79 911,76.24 911.25,77.61 911.5,78.89 911.75,80.1 912,81.23 912.25,82.28 912.5,83.26 912.75,84.16 913,85 913.25,85.78 913.5,86.49 913.75,87.15 914,87.75 914.25,88.31 914.5,88.81 914.75,89.27 915,89.66 915.25,90.01 915.5,90.34 915.75,90.63 916,90.89 916.25,91.13 916.5,91.35 916.75,91.55 917,91.73 917.25,91.89 917.5,92.04 917.75,92.18 918,92.31 918.25,92.42 918.5,92.53 918.75,92.63 919,92.72 919.25,92.81 919.5,92.89 919.75,92.96 920,93.03 920.25,93.09 920.5,93.15 920.75,93.2 921,93.25 921.25,93.29 921.5,93.33 921.75,93.36 922,93.4 922.25,93.42 922.5,93.45 922.75,93.46 923,93.48 923.25,93.49 923.5,93.49 923.75,93.5 924,93.49 924.25,93.48 924.5,93.48 924.75,93.47 925,93.46 925.25,93.46 925.5,93.45 925.75,93.45 926,93.44 926.25,93.43 926.5,93.43 926.75,93.42 927,93.41 927.25,93.41 927.5,93.4 927.75,93.39 928.75,93.37 929.75,93.34 930.75,93.31 931.75,93.29 932.75,93.26 933.75,93.24 934.75,93.21 935.75,93.18 936.75,93.16 937.75,93.13 938.75,93.1 939.75,93.08 940.75,93.05 941.75,93.02 942.75,93 943.75,92.97 944.75,92.95 945.75,92.92 946.75,92.89 947.75,92.87 948.75,92.84 949.75,92.81 950.75,92.79 951.75,92.76 952.75,92.74 953.75,92.71 954.75,92.68 955.75,92.66 956.75,92.63 957.75,92.6 958.75,92.58 959.75,92.55 960.75,92.53 961.75,92.5 962.75,92.47 963.75,92.45 964.75,92.42 965.75,92.39 966.75,92.37 967.75,92.34 968.75,92.31 969.75,92.29 970.75,92.26 971.75,92.24 972.75,92.21 973.75,92.18 974.75,92.16 975.75,92.13 976.75,92.1 977.75,92.08 978.75,92.05 979.75,92.03 980.75,92 981.75,91.97 982.75,91.95 983.75,91.92 984.75,91.89 985.75,91.87 986.75,91.84 987.75,91.81 988.75,91.79 989.75,91.76 990.75,91.74 991.75,91.71 992.75,91.68 993.75,91.66 994.75,91.63 995.75,91.6 996.75,91.58 997.75,91.55 998.75,91.53 999.75,91.5 1000.75,91.47 1001.75,91.45 1002.75,91.42 1003.75,91.39 1004.75,91.37 1005.75,91.34 1006.75,91.31 1007.75,91.29 1008.75,91.26 1009.75,91.24 1010.75,91.21" fill="none" stroke="#e8806f" stroke-width="1.3"/>
<polyline points="704.5,204.4 705.5,204.39 706.5,204.39 707.5,204.39 708.5,204.38 709.5,204.38 710.5,204.37 711.5,204.37 712.5,204.37 713.5,204.36 714.5,204.36 715.5,204.35 716.5,204.35 717.5,204.34 718.5,204.34 719.5,204.33 720.5,204.33 721.5,204.32 722.5,204.32 723.5,204.31 724.5,204.31 725.5,204.3 726.5,204.3 727.5,204.29 728.5,204.29 729.5,204.28 730.5,204.27 731.5,204.27 732.5,204.26 733.5,204.26 734.5,204.25 735.5,204.24 736.5,204.24 737.5,204.23 738.5,204.22 739.5,204.22 740.5,204.21 741.5,204.2 742.5,204.2 743.5,204.19 744.5,204.18 745.5,204.18 746.5,204.17 747.5,204.16 748.5,204.15 749.5,204.14 750.5,204.14 751.5,204.13 752.5,204.12 753.5,204.11 754.5,204.1 755.5,204.09 756.5,204.08 757.5,204.08 758.5,204.07 759.5,204.06 760.5,204.05 761.5,204.04 762.5,204.03 763.5,204.02 764.5,204.01 765.5,204 766.5,203.98 767.5,203.97 768.5,203.96 769.5,203.95 770.5,203.94 771.5,203.93 772.5,203.91 773.5,203.9 774.5,203.89 775.5,203.87 776.5,203.86 777.5,203.85 778.5,203.83 779.5,203.82 780.5,203.8 781.5,203.79 782.5,203.77 783.5,203.76 784.5,203.74 785.5,203.73 786.5,203.71 787.5,203.69 788.5,203.68 789.5,203.66 790.5,203.64 791.5,203.62 792.5,203.6 793.5,203.58 794.5,203.56 795.5,203.54 796.5,203.52 797.5,203.5 798.5,203.48 799.5,203.45 799.75,203.45 800,203.44 800.25,203.44 800.5,203.43 800.75,203.42 801,203.42 801.25,203.41 801.5,203.4 801.75,203.37 802,203.3 802.25,203.08 802.5,202.54 802.75,201.42 803,199.45 803.25,196.65 803.5,193.5 803.75,190.96 804,190.05 804.25,191.79 804.5,195.74 804.75,199.77 805,202.5 805.25,203.86 805.5,204.36 805.75,204.45 806,204.36 806.25,204.18 806.5,203.96 806.75,203.75 807,203.57 807.25,203.44 807.5,203.35 807.75,203.29 808,203.26 808.25,203.24 808.5,203.23 808.75,203.22 809,203.21 810,203.18 811,203.15 812,203.12 813,203.08 814,203.05 815,203.02 816,202.98 817,202.95 818,202.91 819,202.87 820,202.83 821,202.79 822,202.75 823,202.71 824,202.67 825,202.62 826,202.58 827,202.53 828,202.48 829,202.43 830,202.38 831,202.32 832,202.27 833,202.21 834,202.15 835,202.09 836,202.03 837,201.96 838,201.9 839,201.83 840,201.76 841,201.68 842,201.61 843,201.53 844,201.45 845,201.36 846,201.28 847,201.19 848,201.09 849,201 850,200.9 851,200.79 852,200.68 853,200.57 854,200.46 855,200.34 856,200.21 857,200.09 858,199.95 859,199.81 860,199.67 861,199.52 862,199.36 863,199.2 864,199.03 865,198.86 866,198.67 867,198.48 868,198.28 869,198.07 870,197.86 871,197.63 872,197.39 873,197.13 874,196.87 875,196.59 876,196.29 877,195.98 878,195.64 879,195.29 879.25,195.19 879.5,195.1 879.75,195 880,194.9 880.25,194.8 880.5,194.7 880.75,194.6 881,194.49 881.25,194.39 881.5,194.28 881.75,194.16 882,194.05 882.25,193.93 882.5,193.81 882.75,193.69 883,193.56 883.25,193.44 883.5,193.31 883.75,193.17 884,193.03 884.25,192.89 884.5,192.75 884.75,192.6 885,192.45 885.25,192.3 885.5,192.14 885.75,191.97 886,191.8 886.25,191.63 886.5,191.45 886.75,191.27 887,191.08 887.25,190.89 887.5,190.68 887.75,190.48 888,190.26 888.25,190.04 888.5,189.81 888.75,189.58 889,189.33 889.25,189.08 889.5,188.82 889.75,188.55 890,188.27 890.25,187.97 890.5,187.67 890.75,187.35 891,187.03 891.25,186.69 891.5,186.33 891.75,185.96 892,185.57 892.25,185.17 892.5,184.75 892.75,184.32 893,183.86 893.25,183.38 893.5,182.88 893.75,182.36 894,181.81 894.25,181.24 894.5,180.64 894.75,180.01 895,179.35 895.25,178.66 895.5,177.94 895.75,177.18 896,176.39 896.25,175.56 896.5,174.69 896.75,173.78 897,172.82 897.25,171.83 897.5,170.79 897.75,169.71 898,168.58 898.25,167.41 898.5,166.19 898.75,164.94 899,163.64 899.25,162.31 899.5,160.95 899.75,159.57 900,158.16 900.25,156.75 900.5,155.34 900.75,153.94 901,152.57 901.25,151.24 901.5,149.97 901.75,148.78 902,147.67 902.25,146.67 902.5,145.8 902.75,145.07 903,144.5 903.25,144.09 903.5,143.86 903.75,143.82 904,144 904.25,144.34 904.5,144.85 904.75,145.52 905,146.35 905.25,147.33 905.5,148.45 905.75,149.71 906,151.09 906.25,152.59 906.5,154.2 906.75,155.9 907,157.68 907.25,159.53 907.5,161.44 907.75,163.39 908,165.37 908.25,167.37 908.5,169.39 908.75,171.4 909,173.4 909.25,175.37 909.5,177.32 909.75,179.23 910,181.09 910.25,182.9 910.5,184.65 910.75,186.34 911,187.96 911.25,189.51 911.5,190.99 911.75,192.39 912,193.72 912.25,194.98 912.5,196.16 912.75,197.28 913,198.32 913.25,199.29 913.5,200.19 913.75,201.03 914,201.81 914.25,202.54 914.5,203.2 914.75,203.82 915,204.39 915.25,204.91 915.5,205.39 915.75,205.83 916,206.18 916.25,206.51 916.5,206.8 916.75,207.07 917,207.32 917.25,207.54 917.5,207.74 917.75,207.93 918,208.1 918.25,208.25 918.5,208.39 918.75,208.52 919,208.64 919.25,208.75 919.5,208.86 919.75,208.95 920,209.04 920.25,209.12 920.5,209.2 920.75,209.27 921,209.33 921.25,209.39 921.5,209.45 921.75,209.5 922,209.55 922.25,209.59 922.5,209.63 922.75,209.67 923,209.7 923.25,209.72 923.5,209.75 923.75,209.76 924,209.78 924.25,209.79 924.5,209.79 924.75,209.8 925,209.79 925.25,209.78 925.5,209.78 925.75,209.77 926,209.76 926.25,209.76 926.5,209.75 926.75,209.75 927,209.74 927.25,209.73 927.5,209.73 927.75,209.72 928,209.71 928.25,209.71 928.5,209.7 928.75,209.69 929.75,209.67 930.75,209.64 931.75,209.61 932.75,209.59 933.75,209.56 934.75,209.54 935.75,209.51 936.75,209.48 937.75,209.46 938.75,209.43 939.75,209.4 940.75,209.38 941.75,209.35 942.75,209.32 943.75,209.3 944.75,209.27 945.75,209.25 946.75,209.22 947.75,209.19 948.75,209.17 949.75,209.14 950.75,209.11 951.75,209.09 952.75,209.06 953.75,209.04 954.75,209.01 955.75,208.98 956.75,208.96 957.75,208.93 958.75,208.9 959.75,208.88 960.75,208.85 961.75,208.83 962.75,208.8 963.75,208.77 964.75,208.75 965.75,208.72 966.75,208.69 967.75,208.67 968.75,208.64 969.75,208.61 970.75,208.59 971.75,208.56 972.75,208.54 973.75,208.51 974.75,208.48 975.75,208.46 976.75,208.43 977.75,208.4 978.75,208.38 979.75,208.35 980.75,208.33 981.75,208.3 982.75,208.27 983.75,208.25 984.75,208.22 985.75,208.19 986.75,208.17 987.75,208.14 988.75,208.11 989.75,208.09 990.75,208.06 991.75,208.04 992.75,208.01 993.75,207.98 994.75,207.96 995.75,207.93 996.75,207.9 997.75,207.88 998.75,207.85 999.75,207.83 1000.75,207.8 1001.75,207.77 1002.75,207.75 1003.75,207.72 1004.75,207.69 1005.75,207.67 1006.75,207.64 1007.75,207.61 1008.75,207.59 1009.75,207.56 1010.75,207.54" fill="none" stroke="#2a78b4" stroke-width="1.3"/>
<rect x="704.5" y="8.2" width="306.8" height="231.3" fill="none" stroke="#2b2b2b" stroke-width="1.4"/>
<line x1="704.5" y1="123.6" x2="1011.3" y2="123.6" stroke="#2b2b2b" stroke-width="1.4" />
<line x1="704.6" y1="239.5" x2="704.6" y2="243.3" stroke="#2b2b2b" stroke-width="1.2" />
<line x1="755.6" y1="239.5" x2="755.6" y2="241.3" stroke="#2b2b2b" stroke-width="1.2" />
<line x1="806.6" y1="239.5" x2="806.6" y2="243.3" stroke="#2b2b2b" stroke-width="1.2" />
<line x1="857.6" y1="239.5" x2="857.6" y2="241.3" stroke="#2b2b2b" stroke-width="1.2" />
<line x1="908.6" y1="239.5" x2="908.6" y2="243.3" stroke="#2b2b2b" stroke-width="1.2" />
<line x1="959.6" y1="239.5" x2="959.6" y2="241.3" stroke="#2b2b2b" stroke-width="1.2" />
<line x1="1010.6" y1="239.5" x2="1010.6" y2="243.3" stroke="#2b2b2b" stroke-width="1.2" />
<text x="704.6" y="258.7" font-size="13.5" text-anchor="middle" >10</text>
<text x="806.6" y="258.7" font-size="13.5" text-anchor="middle" >0</text>
<text x="908.6" y="258.7" font-size="13.5" text-anchor="middle" >−10</text>
<text x="1010.6" y="258.7" font-size="13.5" text-anchor="middle" >−20</text>
<text x="858.5" y="282.3" font-size="14" text-anchor="middle" ><tspan dy="-5" font-size="9.5">23</tspan><tspan dy="5">Na shift (ppm)</tspan></text>
<text x="0" y="0" font-size="14" text-anchor="middle" transform="translate(693,120.5) rotate(-90)">Intensity (a.u.)</text>
<line x1="707" y1="29" x2="735.7" y2="29" stroke="#e8806f" stroke-width="1.3" />
<text x="739.6" y="33.5" font-size="12.5" >NPMV</text>
<line x1="707" y1="154.2" x2="735.7" y2="154.2" stroke="#2a78b4" stroke-width="1.3" />
<text x="739.6" y="158.7" font-size="12.5" >NPV</text>
<text x="920.7" y="56.5" font-size="12.5" >-9.43</text>
<text x="919.7" y="167" font-size="12.5" >-9.52</text>
<text x="684" y="16.6" font-size="21.5" >c</text>
<clipPath id="ce_t"><rect x="486.8" y="296.7" width="272.6" height="206.2"/></clipPath>
<clipPath id="ce_b"><rect x="486.8" y="502.9" width="272.6" height="206.7"/></clipPath>
<g clip-path="url(#ce_t)"><polyline points="486.8,502.9 487.7,502.9 488.5,502.9 489.4,502.9 490.2,502.9 491.1,502.9 491.9,502.9 492.8,502.9 493.6,502.9 494.5,502.9 495.3,502.9 496.2,502.9 497.1,502.9 497.9,502.9 498.8,502.9 499.6,502.9 500.5,502.9 501.3,502.9 502.2,502.9 503.0,502.9 503.9,502.9 504.7,502.9 505.6,502.9 506.5,502.9 507.3,502.9 508.2,502.9 509.0,502.9 509.9,502.9 510.7,502.9 511.6,502.9 512.4,502.9 513.3,502.9 514.1,502.9 515.0,502.9 515.9,502.9 516.7,502.9 517.6,502.9 518.4,502.9 519.3,502.9 520.1,502.9 521.0,502.9 521.8,502.9 522.7,502.9 523.5,502.9 524.4,502.9 525.3,502.9 526.1,502.9 527.0,502.9 527.8,502.9 528.7,502.9 529.5,502.9 530.4,502.9 531.2,502.9 532.1,502.9 532.9,502.9 533.8,502.9 534.7,502.9 535.5,502.9 536.4,502.9 537.2,502.9 538.1,502.9 538.9,502.9 539.8,502.9 540.6,502.9 541.5,502.9 542.3,502.9 543.2,502.9 544.1,502.9 544.9,502.9 545.8,502.8 546.6,502.7 547.5,502.5 548.3,502.3 549.2,500.7 550.0,497.9 550.9,494.6 551.7,491.7 552.6,489.8 553.5,488.0 554.3,486.6 555.2,485.6 556.0,485.2 556.9,485.0 557.7,484.8 558.6,484.7 559.4,484.5 560.3,484.3 561.1,484.2 562.0,484.0 562.9,483.9 563.7,483.8 564.6,483.7 565.4,483.5 566.3,483.4 567.1,483.3 568.0,483.2 568.8,483.1 569.7,483.0 570.5,482.9 571.4,482.7 572.3,482.6 573.1,482.5 574.0,482.4 574.8,482.2 575.7,482.1 576.5,481.9 577.4,481.7 578.2,481.5 579.1,481.3 579.9,481.1 580.8,480.9 581.7,480.6 582.5,480.2 583.4,479.9 584.2,479.4 585.1,479.0 585.9,478.4 586.8,477.9 587.6,477.3 588.5,476.6 589.3,475.9 590.2,475.2 591.1,474.4 591.9,473.7 592.8,472.8 593.6,472.0 594.5,471.1 595.3,470.0 596.2,468.7 597.0,467.3 597.9,465.8 598.7,464.2 599.6,462.5 600.5,460.8 601.3,459.0 602.2,457.3 603.0,455.6 603.9,453.9 604.7,452.3 605.6,450.8 606.4,449.3 607.3,448.0 608.1,446.6 609.0,445.1 609.9,443.7 610.7,442.2 611.6,440.9 612.4,439.6 613.3,438.3 614.1,437.2 615.0,436.2 615.8,435.4 616.7,434.8 617.5,434.2 618.4,433.7 619.3,433.2 620.1,432.7 621.0,432.4 621.8,432.1 622.7,431.8 623.5,431.7 624.4,431.6 625.2,431.5 626.1,431.5 626.9,431.4 627.8,431.3 628.7,431.2 629.5,431.1 630.4,431.0 631.2,430.9 632.1,430.8 632.9,430.7 633.8,430.6 634.6,430.5 635.5,430.4 636.3,430.3 637.2,430.2 638.1,430.1 638.9,430.0 639.8,429.9 640.6,429.7 641.5,429.6 642.3,429.5 643.2,429.4 644.0,429.2 644.9,429.1 645.7,429.0 646.6,428.9 647.5,428.7 648.3,428.6 649.2,428.4 650.0,428.3 650.9,428.2 651.7,428.0 652.6,427.9 653.4,427.7 654.3,427.5 655.1,427.4 656.0,427.2 656.9,427.1 657.7,426.9 658.6,426.7 659.4,426.6 660.3,426.4 661.1,426.2 662.0,426.0 662.8,425.8 663.7,425.6 664.5,425.4 665.4,425.3 666.3,425.0 667.1,424.8 668.0,424.6 668.8,424.4 669.7,424.2 670.5,423.9 671.4,423.7 672.2,423.4 673.1,423.2 673.9,422.9 674.8,422.7 675.7,422.4 676.5,422.1 677.4,421.8 678.2,421.5 679.1,421.2 679.9,420.9 680.8,420.6 681.6,420.3 682.5,420.0 683.3,419.7 684.2,419.3 685.1,419.0 685.9,418.7 686.8,418.3 687.6,418.0 688.5,417.6 689.3,417.2 690.2,416.9 691.0,416.5 691.9,416.1 692.7,415.7 693.6,415.3 694.5,414.9 695.3,414.5 696.2,414.1 697.0,413.7 697.9,413.3 698.7,412.9 699.6,412.5 700.4,412.0 701.3,411.6 702.1,411.1 703.0,410.7 703.9,410.2 704.7,409.7 705.6,409.2 706.4,408.7 707.3,408.1 708.1,407.5 709.0,406.9 709.8,406.3 710.7,405.7 711.5,405.1 712.4,404.4 713.3,403.7 714.1,403.1 715.0,402.4 715.8,401.7 716.7,401.0 717.5,400.3 718.4,399.5 719.2,398.8 720.1,398.1 720.9,397.3 721.8,396.6 722.7,395.8 723.5,395.0 724.4,394.3 725.2,393.5 726.1,392.8 726.9,392.0 727.8,391.2 728.6,390.5 729.5,389.7 730.3,389.0 731.2,388.2 732.1,387.4 732.9,386.6 733.8,385.8 734.6,385.0 735.5,384.2 736.3,383.4 737.2,382.5 738.0,381.7 738.9,380.8 739.7,380.0 740.6,379.1 741.5,378.3 742.3,377.4 743.2,376.5 744.0,375.6 744.9,374.7 745.7,373.8 746.6,372.9 747.4,372.0 748.3,371.1 749.1,370.2 750.0,369.2 750.9,368.3 751.7,367.4 752.6,366.4 753.4,365.4 754.3,364.5 755.1,363.5 756.0,362.5 756.8,361.5 757.7,360.6 758.5,359.6 759.4,358.6" fill="none" stroke="#e07b6c" stroke-width="1.2" stroke-dasharray="3.2 2.6" stroke-linejoin="round"/>
<polyline points="486.8,502.9 487.4,502.9 488.0,502.9 488.6,502.9 489.2,502.9 489.8,502.9 490.4,502.9 491.0,502.9 491.6,502.9 492.2,502.9 492.8,502.9 493.4,502.9 494.0,502.9 494.6,502.9 495.2,502.9 495.8,502.9 496.4,502.9 497.0,502.9 497.6,502.9 498.2,502.9 498.8,502.9 499.4,502.9 500.0,502.9 500.6,502.9 501.2,502.9 501.8,502.9 502.4,502.9 503.0,502.9 503.5,502.9 504.1,502.9 504.7,502.9 505.3,502.9 505.9,502.9 506.5,502.9 507.1,502.9 507.7,502.9 508.3,502.9 508.9,502.9 509.5,502.9 510.1,502.9 510.7,502.9 511.3,502.9 511.9,502.9 512.5,502.9 513.1,502.9 513.7,502.9 514.3,502.9 514.9,502.9 515.5,502.9 516.1,502.9 516.7,502.9 517.3,502.9 517.9,502.9 518.5,502.9 519.1,502.9 519.7,502.9 520.3,502.9 520.9,502.9 521.5,502.9 522.1,502.9 522.7,502.9 523.3,502.9 523.9,502.9 524.5,502.9 525.1,502.9 525.7,502.9 526.3,502.9 526.9,502.9 527.5,502.9 528.1,502.9 528.7,502.9 529.3,502.9 529.9,502.9 530.5,502.9 531.1,502.9 531.7,502.9 532.3,502.9 532.9,502.9 533.5,502.9 534.1,502.9 534.7,502.9 535.3,502.9 535.9,502.9 536.4,502.9 537.0,502.9 537.6,502.9 538.2,502.9 538.8,502.9 539.4,502.9 540.0,502.9 540.6,502.9 541.2,502.9 541.8,502.9 542.4,502.9 543.0,502.9 543.6,502.9 544.2,502.9 544.8,502.9 545.4,502.9 546.0,502.8 546.6,502.7 547.2,502.4 547.8,502.1 548.4,501.5 549.0,499.6 549.6,496.5 550.2,492.8 550.8,488.7 551.4,484.7 552.0,481.3 552.6,478.5 553.2,475.7 553.8,473.0 554.4,470.6 555.0,468.8 555.6,467.7 556.2,467.0 556.8,466.4 557.4,465.8 558.0,465.3 558.6,464.9 559.2,464.5 559.8,464.1 560.4,463.8 561.0,463.5 561.6,463.3 562.2,463.0 562.8,462.8 563.4,462.6 564.0,462.4 564.6,462.3 565.2,462.1 565.8,462.0 566.4,461.8 567.0,461.7 567.6,461.6 568.2,461.5 568.8,461.4 569.3,461.3 569.9,461.2 570.5,461.1 571.1,461.0 571.7,460.9 572.3,460.9 572.9,460.8 573.5,460.7 574.1,460.6 574.7,460.5 575.3,460.4 575.9,460.3 576.5,460.2 577.1,460.1 577.7,460.0 578.3,459.9 578.9,459.7 579.5,459.6 580.1,459.4 580.7,459.2 581.3,459.0 581.9,458.8 582.5,458.6 583.1,458.3 583.7,458.0 584.3,457.7 584.9,457.4 585.5,457.1 586.1,456.7 586.7,456.3 587.3,455.9 587.9,455.4 588.5,455.0 589.1,454.5 589.7,454.0 590.3,453.5 590.9,452.9 591.5,452.3 592.1,451.6 592.7,450.9 593.3,450.0 593.9,449.1 594.5,448.1 595.1,447.0 595.7,445.9 596.3,444.7 596.9,443.5 597.5,442.3 598.1,441.1 598.7,439.8 599.3,438.4 599.9,436.9 600.5,435.2 601.1,433.5 601.7,431.9 602.2,430.3 602.8,428.9 603.4,427.4 604.0,426.0 604.6,424.6 605.2,423.3 605.8,421.9 606.4,420.6 607.0,419.3 607.6,418.0 608.2,416.7 608.8,415.4 609.4,414.1 610.0,412.8 610.6,411.6 611.2,410.3 611.8,409.1 612.4,407.8 613.0,406.6 613.6,405.3 614.2,404.1 614.8,402.8 615.4,401.6 616.0,400.3 616.6,399.0 617.2,397.7 617.8,396.4 618.4,395.1 619.0,393.8 619.6,392.5 620.2,391.1 620.8,389.8 621.4,388.4 622.0,387.0 622.6,385.6 623.2,384.1 623.8,382.7 624.4,381.2 625.0,379.6 625.6,378.1 626.2,376.6 626.8,375.0 627.4,373.4 628.0,371.8 628.6,370.2 629.2,368.6 629.8,366.9 630.4,365.3 631.0,363.6 631.6,361.9 632.2,360.3 632.8,358.6 633.4,356.9 634.0,355.2 634.6,353.5 635.1,351.9 635.7,350.2 636.3,348.5 636.9,346.8 637.5,345.1 638.1,343.5 638.7,341.8 639.3,340.2 639.9,338.6 640.5,336.9 641.1,335.3 641.7,333.7 642.3,332.1 642.9,330.6 643.5,329.0 644.1,327.5 644.7,326.0 645.3,324.5 645.9,323.1 646.5,321.6 647.1,320.2 647.7,318.7 648.3,317.3 648.9,315.8 649.5,314.4 650.1,313.0 650.7,311.6 651.3,310.1 651.9,308.7 652.5,307.2 653.1,305.7 653.7,304.3 654.3,302.8 654.9,301.2 655.5,299.7 656.1,298.1 656.7,296.6" fill="none" stroke="#3aa2cc" stroke-width="1.2" stroke-dasharray="3.2 2.6" stroke-linejoin="round"/>
<polyline points="486.8,502.9 487.7,502.9 488.5,502.9 489.4,502.9 490.2,502.9 491.1,502.9 491.9,502.9 492.8,502.9 493.6,502.9 494.5,502.9 495.3,502.9 496.2,502.9 497.1,502.9 497.9,502.9 498.8,502.9 499.6,502.9 500.5,502.9 501.3,502.9 502.2,502.9 503.0,502.9 503.9,502.9 504.7,502.9 505.6,502.9 506.5,502.9 507.3,502.9 508.2,502.9 509.0,502.9 509.9,502.9 510.7,502.9 511.6,502.9 512.4,502.9 513.3,502.9 514.1,502.9 515.0,502.9 515.9,502.9 516.7,502.9 517.6,502.9 518.4,502.9 519.3,502.9 520.1,502.9 521.0,502.9 521.8,502.9 522.7,502.9 523.5,502.9 524.4,502.9 525.3,502.9 526.1,502.9 527.0,502.9 527.8,502.9 528.7,502.9 529.5,502.9 530.4,502.9 531.2,502.9 532.1,502.9 532.9,502.9 533.8,502.9 534.7,502.9 535.5,502.9 536.4,502.9 537.2,502.9 538.1,502.9 538.9,502.9 539.8,502.9 540.6,502.9 541.5,502.9 542.3,502.9 543.2,502.9 544.1,502.9 544.9,502.9 545.8,502.9 546.6,502.9 547.5,502.9 548.3,502.9 549.2,502.9 550.0,502.9 550.9,502.8 551.7,502.8 552.6,502.8 553.5,502.7 554.3,502.7 555.2,502.6 556.0,502.6 556.9,502.5 557.7,502.5 558.6,502.4 559.4,502.4 560.3,502.3 561.1,502.3 562.0,502.2 562.9,502.2 563.7,502.1 564.6,502.1 565.4,502.0 566.3,502.0 567.1,501.9 568.0,501.9 568.8,501.9 569.7,501.8 570.5,501.8 571.4,501.8 572.3,501.7 573.1,501.7 574.0,501.6 574.8,501.6 575.7,501.6 576.5,501.5 577.4,501.5 578.2,501.5 579.1,501.5 579.9,501.4 580.8,501.4 581.7,501.4 582.5,501.3 583.4,501.3 584.2,501.3 585.1,501.2 585.9,501.2 586.8,501.2 587.6,501.1 588.5,501.1 589.3,501.1 590.2,501.1 591.1,501.0 591.9,501.0 592.8,501.0 593.6,500.9 594.5,500.9 595.3,500.9 596.2,500.8 597.0,500.8 597.9,500.8 598.7,500.8 599.6,500.7 600.5,500.7 601.3,500.7 602.2,500.6 603.0,500.6 603.9,500.6 604.7,500.5 605.6,500.5 606.4,500.5 607.3,500.4 608.1,500.4 609.0,500.4 609.9,500.4 610.7,500.3 611.6,500.3 612.4,500.3 613.3,500.2 614.1,500.2 615.0,500.2 615.8,500.1 616.7,500.1 617.5,500.0 618.4,500.0 619.3,500.0 620.1,499.9 621.0,499.9 621.8,499.9 622.7,499.8 623.5,499.8 624.4,499.7 625.2,499.7 626.1,499.7 626.9,499.6 627.8,499.6 628.7,499.5 629.5,499.5 630.4,499.5 631.2,499.4 632.1,499.4 632.9,499.3 633.8,499.3 634.6,499.3 635.5,499.2 636.3,499.2 637.2,499.1 638.1,499.1 638.9,499.0 639.8,499.0 640.6,498.9 641.5,498.9 642.3,498.8 643.2,498.8 644.0,498.8 644.9,498.7 645.7,498.7 646.6,498.6 647.5,498.6 648.3,498.5 649.2,498.5 650.0,498.4 650.9,498.4 651.7,498.3 652.6,498.3 653.4,498.2 654.3,498.2 655.1,498.1 656.0,498.1 656.9,498.0 657.7,498.0 658.6,497.9 659.4,497.9 660.3,497.8 661.1,497.8 662.0,497.7 662.8,497.7 663.7,497.6 664.5,497.5 665.4,497.5 666.3,497.4 667.1,497.4 668.0,497.3 668.8,497.3 669.7,497.2 670.5,497.2 671.4,497.1 672.2,497.1 673.1,497.0 673.9,497.0 674.8,496.9 675.7,496.8 676.5,496.8 677.4,496.7 678.2,496.7 679.1,496.6 679.9,496.6 680.8,496.5 681.6,496.4 682.5,496.4 683.3,496.3 684.2,496.3 685.1,496.2 685.9,496.1 686.8,496.1 687.6,496.0 688.5,496.0 689.3,495.9 690.2,495.8 691.0,495.8 691.9,495.7 692.7,495.6 693.6,495.6 694.5,495.5 695.3,495.4 696.2,495.4 697.0,495.3 697.9,495.2 698.7,495.2 699.6,495.1 700.4,495.0 701.3,495.0 702.1,494.9 703.0,494.8 703.9,494.8 704.7,494.7 705.6,494.6 706.4,494.6 707.3,494.5 708.1,494.4 709.0,494.4 709.8,494.3 710.7,494.2 711.5,494.2 712.4,494.1 713.3,494.0 714.1,494.0 715.0,493.9 715.8,493.8 716.7,493.8 717.5,493.7 718.4,493.6 719.2,493.6 720.1,493.5 720.9,493.4 721.8,493.4 722.7,493.3 723.5,493.2 724.4,493.2 725.2,493.1 726.1,493.0 726.9,493.0 727.8,492.9 728.6,492.8 729.5,492.8 730.3,492.7 731.2,492.6 732.1,492.6 732.9,492.5 733.8,492.4 734.6,492.3 735.5,492.3 736.3,492.2 737.2,492.1 738.0,492.1 738.9,492.0 739.7,491.9 740.6,491.9 741.5,491.8 742.3,491.7 743.2,491.7 744.0,491.6 744.9,491.5 745.7,491.4 746.6,491.4 747.4,491.3 748.3,491.2 749.1,491.2 750.0,491.1 750.9,491.0 751.7,491.0 752.6,490.9 753.4,490.8 754.3,490.7 755.1,490.7 756.0,490.6 756.8,490.5 757.7,490.5 758.5,490.4 759.4,490.3" fill="none" stroke="#b6d68c" stroke-width="1.2" stroke-dasharray="3.2 2.6" stroke-linejoin="round"/>
<polyline points="486.8,502.9 487.7,502.9 488.5,502.9 489.4,502.9 490.2,502.9 491.1,502.9 491.9,502.9 492.8,502.9 493.6,502.9 494.5,502.9 495.3,502.9 496.2,502.9 497.1,502.9 497.9,502.9 498.8,502.9 499.6,502.9 500.5,502.9 501.3,502.9 502.2,502.9 503.0,502.9 503.9,502.9 504.7,502.9 505.6,502.9 506.5,502.9 507.3,502.9 508.2,502.9 509.0,502.9 509.9,502.9 510.7,502.9 511.6,502.9 512.4,502.9 513.3,502.9 514.1,502.9 515.0,502.9 515.9,502.9 516.7,502.9 517.6,502.9 518.4,502.9 519.3,502.9 520.1,502.9 521.0,502.9 521.8,502.9 522.7,502.9 523.5,502.9 524.4,502.9 525.3,502.9 526.1,502.9 527.0,502.9 527.8,502.9 528.7,502.9 529.5,502.9 530.4,502.9 531.2,502.9 532.1,502.9 532.9,502.9 533.8,502.9 534.7,502.9 535.5,502.9 536.4,502.9 537.2,502.9 538.1,502.9 538.9,502.9 539.8,502.9 540.6,502.9 541.5,502.9 542.3,502.9 543.2,502.8 544.1,502.2 544.9,500.6 545.8,494.3 546.6,481.9 547.5,454.8 548.3,422.1 549.2,387.3 550.0,365.9 550.9,369.4 551.7,387.2 552.6,414.7 553.5,437.0 554.3,455.3 555.2,467.5 556.0,475.8 556.9,481.7 557.7,485.5 558.6,488.2 559.4,490.1 560.3,491.7 561.1,493.1 562.0,494.3 562.9,495.3 563.7,496.1 564.6,496.8 565.4,497.3 566.3,497.8 567.1,498.2 568.0,498.6 568.8,499.3 569.7,498.7 570.5,498.8 571.4,499.3 572.3,499.0 573.1,498.8 574.0,498.4 574.8,498.0 575.7,498.5 576.5,498.3 577.4,497.2 578.2,497.3 579.1,496.6 579.9,496.9 580.8,496.0 581.7,495.2 582.5,495.2 583.4,493.9 584.2,493.4 585.1,493.7 585.9,493.0 586.8,491.8 587.6,490.7 588.5,490.5 589.3,489.9 590.2,488.8 591.1,488.4 591.9,487.3 592.8,486.2 593.6,485.1 594.5,484.3 595.3,483.0 596.2,481.7 597.0,480.2 597.9,479.1 598.7,478.2 599.6,476.4 600.5,476.0 601.3,475.5 602.2,475.7 603.0,474.7 603.9,474.7 604.7,475.3 605.6,474.9 606.4,474.2 607.3,473.9 608.1,473.1 609.0,473.0 609.9,472.0 610.7,471.8 611.6,472.4 612.4,473.4 613.3,475.0 614.1,478.1 615.0,481.8 615.8,485.0 616.7,489.0 617.5,491.8 618.4,494.0 619.3,496.9 620.1,499.1 621.0,499.8 621.8,500.6 622.7,501.2 623.5,501.7 624.4,501.7 625.2,501.6 626.1,501.4 626.9,501.7 627.8,501.9 628.7,501.8 629.5,502.3 630.4,502.3 631.2,501.6 632.1,501.3 632.9,501.8 633.8,502.0 634.6,502.2 635.5,501.9 636.3,501.4 637.2,501.6 638.1,501.8 638.9,501.5 639.8,502.1 640.6,501.8 641.5,501.4 642.3,501.8 643.2,501.9 644.0,502.1 644.9,501.8 645.7,501.4 646.6,502.3 647.5,501.5 648.3,501.5 649.2,501.4 650.0,501.5 650.9,501.5 651.7,501.8 652.6,501.7 653.4,501.8 654.3,502.2 655.1,501.3 656.0,501.6 656.9,502.0 657.7,501.7 658.6,501.7 659.4,501.8 660.3,501.8 661.1,501.6 662.0,501.5 662.8,501.5 663.7,501.6 664.5,502.1 665.4,501.8 666.3,501.9 667.1,501.5 668.0,501.2 668.8,501.2 669.7,501.2 670.5,501.2 671.4,501.7 672.2,501.1 673.1,501.3 673.9,501.8 674.8,501.9 675.7,501.9 676.5,501.1 677.4,501.6 678.2,501.7 679.1,501.2 679.9,501.5 680.8,501.7 681.6,501.6 682.5,501.2 683.3,501.6 684.2,501.4 685.1,500.9 685.9,501.2 686.8,501.3 687.6,501.1 688.5,501.5 689.3,501.1 690.2,501.1 691.0,501.3 691.9,501.3 692.7,500.5 693.6,500.8 694.5,501.1 695.3,500.7 696.2,500.4 697.0,501.2 697.9,501.2 698.7,501.0 699.6,500.4 700.4,500.9 701.3,500.3 702.1,500.3 703.0,500.4 703.9,500.7 704.7,499.9 705.6,500.1 706.4,500.3 707.3,500.6 708.1,500.2 709.0,500.4 709.8,500.2 710.7,500.4 711.5,500.1 712.4,500.7 713.3,500.4 714.1,499.7 715.0,499.8 715.8,500.4 716.7,499.8 717.5,500.3 718.4,499.7 719.2,499.9 720.1,500.2 720.9,500.4 721.8,500.7 722.7,499.8 723.5,500.7 724.4,499.9 725.2,499.8 726.1,500.3 726.9,500.7 727.8,500.0 728.6,500.0 729.5,500.3 730.3,500.5 731.2,500.7 732.1,500.8 732.9,501.0 733.8,500.5 734.6,500.8 735.5,501.1 736.3,501.2 737.2,500.7 738.0,501.1 738.9,500.9 739.7,501.1 740.6,500.5 741.5,500.5 742.3,501.4 743.2,501.3 744.0,501.2 744.9,500.5 745.7,500.7 746.6,501.2 747.4,501.3 748.3,500.9 749.1,500.7 750.0,500.6 750.9,501.3 751.7,500.7 752.6,500.9 753.4,501.1 754.3,500.6 755.1,501.4 756.0,500.9 756.8,501.6 757.7,501.5 758.5,500.8 759.4,501.5" fill="none" stroke="#e07b6c" stroke-width="1.2" stroke-linejoin="round"/>
<polyline points="486.8,502.9 487.7,502.9 488.5,502.9 489.4,502.9 490.2,502.9 491.1,502.9 491.9,502.9 492.8,502.9 493.6,502.9 494.5,502.9 495.3,502.9 496.2,502.9 497.1,502.9 497.9,502.9 498.8,502.9 499.6,502.9 500.5,502.9 501.3,502.9 502.2,502.9 503.0,502.9 503.9,502.9 504.7,502.9 505.6,502.9 506.5,502.9 507.3,502.9 508.2,502.9 509.0,502.9 509.9,502.9 510.7,502.9 511.6,502.9 512.4,502.9 513.3,502.9 514.1,502.9 515.0,502.9 515.9,502.9 516.7,502.9 517.6,502.9 518.4,502.9 519.3,502.9 520.1,502.9 521.0,502.9 521.8,502.9 522.7,502.9 523.5,502.9 524.4,502.9 525.3,502.9 526.1,502.9 527.0,502.9 527.8,502.9 528.7,502.9 529.5,502.9 530.4,502.9 531.2,502.9 532.1,502.9 532.9,502.9 533.8,502.9 534.7,502.9 535.5,502.9 536.4,502.9 537.2,502.9 538.1,502.9 538.9,502.9 539.8,502.9 540.6,502.9 541.5,502.9 542.3,502.9 543.2,502.9 544.1,502.6 544.9,501.3 545.8,498.5 546.6,490.3 547.5,480.5 548.3,468.3 549.2,460.2 550.0,455.8 550.9,455.4 551.7,461.1 552.6,468.5 553.5,477.8 554.3,485.2 555.2,490.5 556.0,494.4 556.9,496.7 557.7,498.5 558.6,499.7 559.4,500.5 560.3,501.1 561.1,501.6 562.0,502.0 562.9,502.2 563.7,502.3 564.6,502.3 565.4,502.3 566.3,502.4 567.1,502.4 568.0,502.5 568.8,502.1 569.7,502.1 570.5,502.9 571.4,502.9 572.3,502.3 573.1,502.4 574.0,502.4 574.8,502.7 575.7,502.4 576.5,502.3 577.4,502.3 578.2,502.5 579.1,502.1 579.9,502.0 580.8,501.6 581.7,501.2 582.5,501.0 583.4,501.2 584.2,501.0 585.1,501.0 585.9,501.0 586.8,500.7 587.6,500.1 588.5,499.9 589.3,499.6 590.2,498.8 591.1,498.7 591.9,498.4 592.8,498.3 593.6,498.1 594.5,497.4 595.3,497.2 596.2,496.6 597.0,495.8 597.9,495.7 598.7,495.7 599.6,494.7 600.5,494.3 601.3,494.0 602.2,493.4 603.0,493.2 603.9,492.8 604.7,492.7 605.6,491.8 606.4,491.3 607.3,491.5 608.1,490.6 609.0,490.3 609.9,490.3 610.7,490.2 611.6,490.5 612.4,491.2 613.3,492.9 614.1,493.9 615.0,495.8 615.8,496.8 616.7,497.9 617.5,499.3 618.4,500.2 619.3,500.6 620.1,501.3 621.0,501.7 621.8,502.0 622.7,502.0 623.5,501.7 624.4,502.1 625.2,501.5 626.1,502.1 626.9,501.5 627.8,502.0 628.7,501.5 629.5,501.7 630.4,501.8 631.2,501.8 632.1,501.7 632.9,501.7 633.8,502.0 634.6,502.0 635.5,501.8 636.3,501.4 637.2,501.7 638.1,502.1 638.9,501.5 639.8,501.5 640.6,501.4 641.5,501.9 642.3,501.5 643.2,502.0 644.0,501.5 644.9,501.8 645.7,501.8 646.6,501.3 647.5,501.9 648.3,501.5 649.2,501.3 650.0,501.7 650.9,501.8 651.7,501.2 652.6,501.5 653.4,501.3 654.3,501.8 655.1,501.5 656.0,501.6 656.9,501.2 657.7,501.7 658.6,500.9 659.4,501.6 660.3,501.0 661.1,501.6 662.0,501.3 662.8,500.8 663.7,501.3 664.5,501.3 665.4,500.8 666.3,501.0 667.1,501.3 668.0,500.5 668.8,501.1 669.7,501.2 670.5,500.9 671.4,500.6 672.2,500.5 673.1,501.0 673.9,500.8 674.8,501.0 675.7,500.6 676.5,500.3 677.4,500.3 678.2,500.1 679.1,500.2 679.9,500.1 680.8,500.2 681.6,500.4 682.5,500.6 683.3,500.2 684.2,500.4 685.1,500.6 685.9,500.3 686.8,499.9 687.6,500.5 688.5,500.1 689.3,500.2 690.2,500.1 691.0,500.3 691.9,499.6 692.7,500.2 693.6,499.9 694.5,500.0 695.3,500.3 696.2,499.8 697.0,500.2 697.9,500.2 698.7,500.2 699.6,500.1 700.4,500.1 701.3,499.6 702.1,499.7 703.0,499.3 703.9,499.3 704.7,499.2 705.6,499.8 706.4,499.6 707.3,499.8 708.1,499.5 709.0,499.5 709.8,499.3 710.7,499.4 711.5,499.7 712.4,499.6 713.3,499.5 714.1,499.9 715.0,499.9 715.8,499.5 716.7,499.8 717.5,499.3 718.4,499.7 719.2,499.8 720.1,499.7 720.9,499.7 721.8,499.7 722.7,499.5 723.5,499.5 724.4,499.6 725.2,499.4 726.1,499.7 726.9,499.2 727.8,499.1 728.6,499.3 729.5,499.6 730.3,499.5 731.2,499.5 732.1,499.9 732.9,499.6 733.8,499.5 734.6,499.8 735.5,499.9 736.3,499.3 737.2,499.7 738.0,499.6 738.9,499.3 739.7,499.5 740.6,499.8 741.5,499.3 742.3,499.8 743.2,500.1 744.0,499.6 744.9,500.1 745.7,499.9 746.6,499.5 747.4,499.6 748.3,500.2 749.1,499.9 750.0,499.9 750.9,499.9 751.7,500.1 752.6,499.8 753.4,500.3 754.3,500.2 755.1,500.1 756.0,499.7 756.8,500.4 757.7,499.9 758.5,500.4 759.4,500.1" fill="none" stroke="#8cc86a" stroke-width="1.2" stroke-linejoin="round"/>
<polyline points="486.8,502.9 487.7,502.9 488.5,502.9 489.4,502.9 490.2,502.9 491.1,502.9 491.9,502.9 492.8,502.9 493.6,502.9 494.5,502.9 495.3,502.9 496.2,502.9 497.1,502.9 497.9,502.9 498.8,502.9 499.6,502.9 500.5,502.9 501.3,502.9 502.2,502.9 503.0,502.9 503.9,502.9 504.7,502.9 505.6,502.9 506.5,502.9 507.3,502.9 508.2,502.9 509.0,502.9 509.9,502.9 510.7,502.9 511.6,502.9 512.4,502.9 513.3,502.9 514.1,502.9 515.0,502.9 515.9,502.9 516.7,502.9 517.6,502.9 518.4,502.9 519.3,502.9 520.1,502.9 521.0,502.9 521.8,502.9 522.7,502.9 523.5,502.9 524.4,502.9 525.3,502.9 526.1,502.9 527.0,502.9 527.8,502.9 528.7,502.9 529.5,502.9 530.4,502.9 531.2,502.9 532.1,502.9 532.9,502.9 533.8,502.9 534.7,502.9 535.5,502.9 536.4,502.9 537.2,502.9 538.1,502.9 538.9,502.9 539.8,502.9 540.6,502.9 541.5,502.9 542.3,502.9 543.2,502.9 544.1,502.7 544.9,501.7 545.8,499.6 546.6,493.2 547.5,486.3 548.3,479.3 549.2,474.4 550.0,471.5 550.9,472.1 551.7,475.1 552.6,479.1 553.5,485.0 554.3,490.0 555.2,493.8 556.0,496.7 556.9,498.4 557.7,499.6 558.6,500.5 559.4,501.1 560.3,501.5 561.1,501.9 562.0,502.2 562.9,502.4 563.7,502.4 564.6,502.5 565.4,502.5 566.3,502.6 567.1,502.6 568.0,502.6 568.8,502.9 569.7,502.6 570.5,502.8 571.4,502.6 572.3,502.6 573.1,503.2 574.0,503.2 574.8,502.4 575.7,502.9 576.5,502.9 577.4,502.1 578.2,502.5 579.1,502.0 579.9,502.3 580.8,502.0 581.7,502.4 582.5,501.8 583.4,501.4 584.2,501.6 585.1,501.3 585.9,501.2 586.8,501.6 587.6,500.7 588.5,500.7 589.3,500.8 590.2,500.9 591.1,499.8 591.9,499.9 592.8,499.4 593.6,499.0 594.5,499.0 595.3,498.5 596.2,498.8 597.0,498.1 597.9,498.2 598.7,497.4 599.6,497.1 600.5,497.6 601.3,497.3 602.2,496.9 603.0,495.8 603.9,496.1 604.7,495.7 605.6,495.8 606.4,495.3 607.3,495.2 608.1,495.0 609.0,494.6 609.9,494.6 610.7,494.4 611.6,495.0 612.4,495.4 613.3,496.1 614.1,496.8 615.0,498.2 615.8,499.8 616.7,499.7 617.5,500.2 618.4,500.8 619.3,501.5 620.1,501.6 621.0,502.2 621.8,501.7 622.7,502.0 623.5,502.3 624.4,502.5 625.2,501.7 626.1,501.5 626.9,502.5 627.8,501.7 628.7,502.1 629.5,502.4 630.4,502.2 631.2,501.7 632.1,501.6 632.9,502.4 633.8,501.9 634.6,502.4 635.5,501.7 636.3,502.1 637.2,501.5 638.1,501.4 638.9,501.9 639.8,501.4 640.6,502.1 641.5,502.3 642.3,501.7 643.2,502.3 644.0,502.1 644.9,501.9 645.7,501.7 646.6,502.1 647.5,502.2 648.3,501.4 649.2,501.9 650.0,501.2 650.9,501.3 651.7,501.8 652.6,501.7 653.4,501.6 654.3,501.5 655.1,501.5 656.0,501.5 656.9,501.4 657.7,501.1 658.6,501.5 659.4,501.5 660.3,501.2 661.1,501.7 662.0,501.6 662.8,500.9 663.7,501.3 664.5,501.2 665.4,501.8 666.3,501.3 667.1,501.1 668.0,501.7 668.8,501.0 669.7,501.0 670.5,501.5 671.4,500.9 672.2,501.0 673.1,500.8 673.9,501.1 674.8,500.7 675.7,500.7 676.5,501.4 677.4,501.3 678.2,500.6 679.1,500.3 679.9,501.0 680.8,500.8 681.6,500.6 682.5,500.9 683.3,500.8 684.2,500.8 685.1,500.7 685.9,500.5 686.8,500.8 687.6,500.6 688.5,500.2 689.3,501.0 690.2,500.4 691.0,500.2 691.9,500.6 692.7,500.6 693.6,500.0 694.5,500.6 695.3,500.6 696.2,500.3 697.0,500.0 697.9,500.6 698.7,500.3 699.6,500.3 700.4,499.8 701.3,500.1 702.1,499.7 703.0,500.4 703.9,500.2 704.7,499.8 705.6,499.6 706.4,500.0 707.3,500.2 708.1,500.3 709.0,499.9 709.8,500.2 710.7,499.6 711.5,499.5 712.4,500.2 713.3,500.1 714.1,499.5 715.0,499.7 715.8,499.5 716.7,500.0 717.5,500.2 718.4,500.0 719.2,499.5 720.1,500.0 720.9,500.0 721.8,499.9 722.7,499.9 723.5,499.9 724.4,499.4 725.2,500.2 726.1,500.3 726.9,499.4 727.8,499.4 728.6,499.3 729.5,499.9 730.3,499.4 731.2,499.4 732.1,500.2 732.9,499.6 733.8,499.5 734.6,499.7 735.5,499.9 736.3,500.1 737.2,500.1 738.0,500.2 738.9,500.4 739.7,499.9 740.6,500.2 741.5,499.7 742.3,500.5 743.2,499.6 744.0,499.8 744.9,499.6 745.7,499.7 746.6,499.7 747.4,500.0 748.3,500.6 749.1,499.9 750.0,500.5 750.9,500.4 751.7,500.1 752.6,500.2 753.4,500.4 754.3,499.9 755.1,500.2 756.0,500.5 756.8,500.7 757.7,500.1 758.5,500.5 759.4,500.2" fill="none" stroke="#3aa2cc" stroke-width="1.2" stroke-linejoin="round"/></g>
<g clip-path="url(#ce_b)"><polyline points="486.8,709.6 487.7,709.6 488.5,709.6 489.4,709.6 490.2,709.6 491.1,709.6 491.9,709.6 492.8,709.6 493.6,709.6 494.5,709.6 495.3,709.6 496.2,709.6 497.1,709.6 497.9,709.6 498.8,709.6 499.6,709.6 500.5,709.6 501.3,709.6 502.2,709.6 503.0,709.6 503.9,709.6 504.7,709.6 505.6,709.6 506.5,709.6 507.3,709.6 508.2,709.6 509.0,709.6 509.9,709.6 510.7,709.6 511.6,709.6 512.4,709.6 513.3,709.6 514.1,709.6 515.0,709.6 515.9,709.6 516.7,709.6 517.6,709.6 518.4,709.6 519.3,709.6 520.1,709.6 521.0,709.6 521.8,709.6 522.7,709.6 523.5,709.6 524.4,709.6 525.3,709.6 526.1,709.6 527.0,709.6 527.8,709.6 528.7,709.6 529.5,709.6 530.4,709.6 531.2,709.6 532.1,709.6 532.9,709.6 533.8,709.6 534.7,709.6 535.5,709.6 536.4,709.6 537.2,709.6 538.1,709.6 538.9,709.6 539.8,709.6 540.6,709.6 541.5,709.6 542.3,709.6 543.2,709.6 544.1,709.6 544.9,709.6 545.8,709.6 546.6,709.2 547.5,708.7 548.3,708.0 549.2,707.3 550.0,706.4 550.9,705.2 551.7,704.0 552.6,703.0 553.5,702.4 554.3,702.2 555.2,702.0 556.0,701.8 556.9,701.7 557.7,701.6 558.6,701.4 559.4,701.3 560.3,701.3 561.1,701.2 562.0,701.1 562.9,701.0 563.7,701.0 564.6,700.9 565.4,700.9 566.3,700.8 567.1,700.8 568.0,700.7 568.8,700.6 569.7,700.6 570.5,700.5 571.4,700.4 572.3,700.3 573.1,700.1 574.0,700.0 574.8,699.8 575.7,699.7 576.5,699.5 577.4,699.3 578.2,699.0 579.1,698.8 579.9,698.6 580.8,698.3 581.7,698.0 582.5,697.7 583.4,697.4 584.2,697.1 585.1,696.8 585.9,696.5 586.8,696.1 587.6,695.8 588.5,695.4 589.3,695.1 590.2,694.7 591.1,694.3 591.9,693.9 592.8,693.6 593.6,693.2 594.5,692.8 595.3,692.4 596.2,692.0 597.0,691.6 597.9,691.1 598.7,690.7 599.6,690.2 600.5,689.6 601.3,689.1 602.2,688.6 603.0,688.0 603.9,687.5 604.7,687.0 605.6,686.5 606.4,686.0 607.3,685.5 608.1,685.0 609.0,684.5 609.9,684.0 610.7,683.5 611.6,682.9 612.4,682.5 613.3,682.0 614.1,681.6 615.0,681.3 615.8,681.1 616.7,680.9 617.5,680.8 618.4,680.6 619.3,680.5 620.1,680.4 621.0,680.3 621.8,680.2 622.7,680.1 623.5,680.0 624.4,679.9 625.2,679.9 626.1,679.8 626.9,679.7 627.8,679.7 628.7,679.6 629.5,679.6 630.4,679.5 631.2,679.5 632.1,679.4 632.9,679.4 633.8,679.3 634.6,679.3 635.5,679.3 636.3,679.2 637.2,679.2 638.1,679.2 638.9,679.2 639.8,679.1 640.6,679.1 641.5,679.1 642.3,679.0 643.2,679.0 644.0,679.0 644.9,679.0 645.7,678.9 646.6,678.9 647.5,678.8 648.3,678.8 649.2,678.8 650.0,678.7 650.9,678.7 651.7,678.6 652.6,678.6 653.4,678.5 654.3,678.5 655.1,678.4 656.0,678.3 656.9,678.2 657.7,678.2 658.6,678.1 659.4,678.0 660.3,677.9 661.1,677.8 662.0,677.7 662.8,677.6 663.7,677.5 664.5,677.4 665.4,677.3 666.3,677.2 667.1,677.1 668.0,677.0 668.8,676.9 669.7,676.8 670.5,676.7 671.4,676.5 672.2,676.4 673.1,676.3 673.9,676.1 674.8,676.0 675.7,675.9 676.5,675.7 677.4,675.6 678.2,675.5 679.1,675.3 679.9,675.2 680.8,675.0 681.6,674.9 682.5,674.7 683.3,674.6 684.2,674.4 685.1,674.3 685.9,674.1 686.8,673.9 687.6,673.8 688.5,673.6 689.3,673.5 690.2,673.3 691.0,673.1 691.9,673.0 692.7,672.8 693.6,672.6 694.5,672.5 695.3,672.3 696.2,672.1 697.0,672.0 697.9,671.8 698.7,671.6 699.6,671.5 700.4,671.3 701.3,671.1 702.1,671.0 703.0,670.8 703.9,670.6 704.7,670.4 705.6,670.3 706.4,670.1 707.3,669.9 708.1,669.8 709.0,669.6 709.8,669.4 710.7,669.2 711.5,669.1 712.4,668.9 713.3,668.7 714.1,668.5 715.0,668.3 715.8,668.1 716.7,667.9 717.5,667.6 718.4,667.4 719.2,667.2 720.1,667.0 720.9,666.8 721.8,666.5 722.7,666.3 723.5,666.1 724.4,665.8 725.2,665.6 726.1,665.4 726.9,665.1 727.8,664.9 728.6,664.6 729.5,664.4 730.3,664.2 731.2,663.9 732.1,663.7 732.9,663.4 733.8,663.2 734.6,662.9 735.5,662.7 736.3,662.4 737.2,662.2 738.0,661.9 738.9,661.7 739.7,661.5 740.6,661.2 741.5,661.0 742.3,660.7 743.2,660.5 744.0,660.3 744.9,660.0 745.7,659.8 746.6,659.6 747.4,659.4 748.3,659.1 749.1,658.9 750.0,658.7 750.9,658.5 751.7,658.3 752.6,658.1 753.4,657.9 754.3,657.7 755.1,657.5 756.0,657.3 756.8,657.1 757.7,656.9 758.5,656.7 759.4,656.6" fill="none" stroke="#e07b6c" stroke-width="1.2" stroke-dasharray="3.2 2.6" stroke-linejoin="round"/>
<polyline points="486.8,709.6 487.7,709.6 488.5,709.6 489.4,709.6 490.2,709.6 491.1,709.6 491.9,709.6 492.8,709.6 493.6,709.6 494.5,709.6 495.3,709.6 496.2,709.6 497.1,709.6 497.9,709.6 498.8,709.6 499.6,709.6 500.5,709.6 501.3,709.6 502.2,709.6 503.0,709.6 503.9,709.6 504.7,709.6 505.6,709.6 506.5,709.6 507.3,709.6 508.2,709.6 509.0,709.6 509.9,709.6 510.7,709.6 511.6,709.6 512.4,709.6 513.3,709.6 514.1,709.6 515.0,709.6 515.9,709.6 516.7,709.6 517.6,709.6 518.4,709.6 519.3,709.6 520.1,709.6 521.0,709.6 521.8,709.6 522.7,709.6 523.5,709.6 524.4,709.6 525.3,709.6 526.1,709.6 527.0,709.6 527.8,709.6 528.7,709.6 529.5,709.6 530.4,709.6 531.2,709.6 532.1,709.6 532.9,709.6 533.8,709.6 534.7,709.6 535.5,709.6 536.4,709.6 537.2,709.6 538.1,709.6 538.9,709.6 539.8,709.6 540.6,709.6 541.5,709.6 542.3,709.6 543.2,709.6 544.1,709.6 544.9,709.6 545.8,709.6 546.6,709.4 547.5,709.0 548.3,708.6 549.2,708.1 550.0,707.5 550.9,707.1 551.7,706.7 552.6,706.4 553.5,706.2 554.3,706.0 555.2,705.8 556.0,705.6 556.9,705.4 557.7,705.2 558.6,705.1 559.4,704.9 560.3,704.8 561.1,704.7 562.0,704.5 562.9,704.4 563.7,704.2 564.6,704.1 565.4,704.0 566.3,703.8 567.1,703.7 568.0,703.5 568.8,703.3 569.7,703.2 570.5,703.0 571.4,702.8 572.3,702.7 573.1,702.5 574.0,702.3 574.8,702.2 575.7,702.0 576.5,701.8 577.4,701.7 578.2,701.5 579.1,701.3 579.9,701.1 580.8,700.9 581.7,700.8 582.5,700.6 583.4,700.4 584.2,700.2 585.1,700.0 585.9,699.7 586.8,699.5 587.6,699.3 588.5,699.1 589.3,698.8 590.2,698.6 591.1,698.3 591.9,698.1 592.8,697.8 593.6,697.6 594.5,697.3 595.3,697.0 596.2,696.8 597.0,696.5 597.9,696.2 598.7,696.0 599.6,695.7 600.5,695.4 601.3,695.1 602.2,694.8 603.0,694.6 603.9,694.3 604.7,694.0 605.6,693.7 606.4,693.4 607.3,693.1 608.1,692.7 609.0,692.4 609.9,692.1 610.7,691.8 611.6,691.5 612.4,691.2 613.3,690.9 614.1,690.5 615.0,690.2 615.8,689.9 616.7,689.6 617.5,689.3 618.4,689.0 619.3,688.8 620.1,688.5 621.0,688.2 621.8,687.9 622.7,687.7 623.5,687.4 624.4,687.2 625.2,686.9 626.1,686.7 626.9,686.4 627.8,686.2 628.7,686.0 629.5,685.7 630.4,685.5 631.2,685.3 632.1,685.0 632.9,684.8 633.8,684.6 634.6,684.3 635.5,684.1 636.3,683.9 637.2,683.6 638.1,683.4 638.9,683.1 639.8,682.9 640.6,682.6 641.5,682.4 642.3,682.1 643.2,681.9 644.0,681.6 644.9,681.3 645.7,681.0 646.6,680.7 647.5,680.4 648.3,680.1 649.2,679.8 650.0,679.5 650.9,679.2 651.7,678.8 652.6,678.5 653.4,678.1 654.3,677.7 655.1,677.3 656.0,676.9 656.9,676.5 657.7,676.1 658.6,675.6 659.4,675.2 660.3,674.7 661.1,674.2 662.0,673.8 662.8,673.3 663.7,672.8 664.5,672.3 665.4,671.7 666.3,671.2 667.1,670.7 668.0,670.1 668.8,669.6 669.7,669.0 670.5,668.4 671.4,667.9 672.2,667.3 673.1,666.7 673.9,666.1 674.8,665.5 675.7,664.9 676.5,664.3 677.4,663.7 678.2,663.0 679.1,662.4 679.9,661.8 680.8,661.2 681.6,660.5 682.5,659.9 683.3,659.2 684.2,658.6 685.1,658.0 685.9,657.3 686.8,656.7 687.6,656.0 688.5,655.4 689.3,654.7 690.2,654.1 691.0,653.4 691.9,652.7 692.7,652.1 693.6,651.4 694.5,650.7 695.3,650.0 696.2,649.3 697.0,648.6 697.9,647.9 698.7,647.2 699.6,646.5 700.4,645.8 701.3,645.0 702.1,644.3 703.0,643.5 703.9,642.7 704.7,641.9 705.6,641.1 706.4,640.3 707.3,639.5 708.1,638.7 709.0,637.8 709.8,636.9 710.7,636.1 711.5,635.2 712.4,634.2 713.3,633.3 714.1,632.4 715.0,631.4 715.8,630.4 716.7,629.4 717.5,628.4 718.4,627.4 719.2,626.3 720.1,625.3 720.9,624.1 721.8,622.9 722.7,621.6 723.5,620.2 724.4,618.8 725.2,617.3 726.1,615.8 726.9,614.3 727.8,612.7 728.6,611.1 729.5,609.5 730.3,607.8 731.2,606.1 732.1,604.5 732.9,602.8 733.8,601.2 734.6,599.5 735.5,597.9 736.3,596.3 737.2,594.7 738.0,593.2 738.9,591.7 739.7,590.2 740.6,588.8 741.5,587.4 742.3,586.0 743.2,584.6 744.0,583.2 744.9,581.9 745.7,580.5 746.6,579.1 747.4,577.8 748.3,576.5 749.1,575.1 750.0,573.8 750.9,572.5 751.7,571.2 752.6,569.9 753.4,568.6 754.3,567.3 755.1,566.0 756.0,564.7 756.8,563.5 757.7,562.2 758.5,561.0 759.4,559.7" fill="none" stroke="#3aa2cc" stroke-width="1.2" stroke-dasharray="3.2 2.6" stroke-linejoin="round"/>
<polyline points="486.8,709.6 487.7,709.6 488.5,709.6 489.4,709.6 490.2,709.6 491.1,709.6 491.9,709.6 492.8,709.6 493.6,709.6 494.5,709.6 495.3,709.6 496.2,709.6 497.1,709.6 497.9,709.6 498.8,709.6 499.6,709.6 500.5,709.6 501.3,709.6 502.2,709.6 503.0,709.6 503.9,709.6 504.7,709.6 505.6,709.6 506.5,709.6 507.3,709.6 508.2,709.6 509.0,709.6 509.9,709.6 510.7,709.6 511.6,709.6 512.4,709.6 513.3,709.6 514.1,709.6 515.0,709.6 515.9,709.6 516.7,709.6 517.6,709.6 518.4,709.6 519.3,709.6 520.1,709.6 521.0,709.6 521.8,709.6 522.7,709.6 523.5,709.6 524.4,709.6 525.3,709.6 526.1,709.6 527.0,709.6 527.8,709.6 528.7,709.6 529.5,709.6 530.4,709.6 531.2,709.6 532.1,709.6 532.9,709.6 533.8,709.6 534.7,709.6 535.5,709.6 536.4,709.6 537.2,709.6 538.1,709.6 538.9,709.6 539.8,709.6 540.6,709.6 541.5,709.6 542.3,709.6 543.2,709.6 544.1,709.6 544.9,709.6 545.8,709.6 546.6,709.5 547.5,709.3 548.3,709.0 549.2,708.7 550.0,708.3 550.9,707.9 551.7,707.6 552.6,707.2 553.5,706.9 554.3,706.6 555.2,706.5 556.0,706.3 556.9,706.2 557.7,706.1 558.6,705.9 559.4,705.8 560.3,705.7 561.1,705.6 562.0,705.5 562.9,705.4 563.7,705.3 564.6,705.2 565.4,705.1 566.3,705.1 567.1,705.0 568.0,704.9 568.8,704.8 569.7,704.7 570.5,704.7 571.4,704.6 572.3,704.5 573.1,704.5 574.0,704.4 574.8,704.3 575.7,704.3 576.5,704.2 577.4,704.1 578.2,704.0 579.1,704.0 579.9,703.9 580.8,703.8 581.7,703.7 582.5,703.7 583.4,703.6 584.2,703.5 585.1,703.4 585.9,703.3 586.8,703.2 587.6,703.1 588.5,703.0 589.3,702.9 590.2,702.8 591.1,702.7 591.9,702.6 592.8,702.5 593.6,702.4 594.5,702.3 595.3,702.2 596.2,702.1 597.0,702.0 597.9,701.9 598.7,701.8 599.6,701.7 600.5,701.6 601.3,701.5 602.2,701.4 603.0,701.3 603.9,701.2 604.7,701.1 605.6,701.0 606.4,700.9 607.3,700.8 608.1,700.7 609.0,700.6 609.9,700.5 610.7,700.4 611.6,700.3 612.4,700.2 613.3,700.1 614.1,700.0 615.0,699.9 615.8,699.8 616.7,699.6 617.5,699.5 618.4,699.4 619.3,699.3 620.1,699.2 621.0,699.1 621.8,699.0 622.7,698.8 623.5,698.7 624.4,698.6 625.2,698.5 626.1,698.3 626.9,698.2 627.8,698.1 628.7,698.0 629.5,697.8 630.4,697.7 631.2,697.6 632.1,697.4 632.9,697.3 633.8,697.2 634.6,697.1 635.5,696.9 636.3,696.8 637.2,696.7 638.1,696.5 638.9,696.4 639.8,696.3 640.6,696.1 641.5,696.0 642.3,695.9 643.2,695.7 644.0,695.6 644.9,695.4 645.7,695.3 646.6,695.1 647.5,695.0 648.3,694.9 649.2,694.7 650.0,694.6 650.9,694.4 651.7,694.2 652.6,694.1 653.4,693.9 654.3,693.8 655.1,693.6 656.0,693.4 656.9,693.3 657.7,693.1 658.6,692.9 659.4,692.7 660.3,692.6 661.1,692.4 662.0,692.2 662.8,692.0 663.7,691.8 664.5,691.6 665.4,691.4 666.3,691.2 667.1,691.0 668.0,690.8 668.8,690.6 669.7,690.4 670.5,690.1 671.4,689.9 672.2,689.7 673.1,689.4 673.9,689.2 674.8,689.0 675.7,688.7 676.5,688.4 677.4,688.2 678.2,687.9 679.1,687.5 679.9,687.2 680.8,686.9 681.6,686.5 682.5,686.2 683.3,685.8 684.2,685.4 685.1,685.0 685.9,684.6 686.8,684.2 687.6,683.8 688.5,683.4 689.3,682.9 690.2,682.5 691.0,682.0 691.9,681.6 692.7,681.1 693.6,680.6 694.5,680.2 695.3,679.7 696.2,679.2 697.0,678.7 697.9,678.2 698.7,677.7 699.6,677.2 700.4,676.7 701.3,676.2 702.1,675.7 703.0,675.2 703.9,674.7 704.7,674.2 705.6,673.7 706.4,673.2 707.3,672.7 708.1,672.2 709.0,671.7 709.8,671.1 710.7,670.6 711.5,670.1 712.4,669.6 713.3,669.1 714.1,668.5 715.0,668.0 715.8,667.5 716.7,666.9 717.5,666.4 718.4,665.8 719.2,665.3 720.1,664.7 720.9,664.2 721.8,663.6 722.7,663.0 723.5,662.5 724.4,661.9 725.2,661.3 726.1,660.7 726.9,660.1 727.8,659.5 728.6,658.9 729.5,658.3 730.3,657.7 731.2,657.1 732.1,656.5 732.9,655.9 733.8,655.3 734.6,654.6 735.5,654.0 736.3,653.4 737.2,652.7 738.0,652.1 738.9,651.5 739.7,650.8 740.6,650.2 741.5,649.5 742.3,648.8 743.2,648.2 744.0,647.5 744.9,646.8 745.7,646.2 746.6,645.5 747.4,644.8 748.3,644.1 749.1,643.4 750.0,642.7 750.9,642.0 751.7,641.3 752.6,640.6 753.4,639.9 754.3,639.2 755.1,638.5 756.0,637.7 756.8,637.0 757.7,636.3 758.5,635.5 759.4,634.7" fill="none" stroke="#8a68e6" stroke-width="1.2" stroke-dasharray="3.2 2.6" stroke-linejoin="round"/>
<polyline points="486.8,709.6 487.7,709.6 488.5,709.6 489.4,709.6 490.2,709.6 491.1,709.6 491.9,709.6 492.8,709.6 493.6,709.6 494.5,709.6 495.3,709.6 496.2,709.6 497.1,709.6 497.9,709.6 498.8,709.6 499.6,709.6 500.5,709.6 501.3,709.6 502.2,709.6 503.0,709.6 503.9,709.6 504.7,709.6 505.6,709.6 506.5,709.6 507.3,709.6 508.2,709.6 509.0,709.6 509.9,709.6 510.7,709.6 511.6,709.6 512.4,709.6 513.3,709.6 514.1,709.6 515.0,709.6 515.9,709.6 516.7,709.6 517.6,709.6 518.4,709.6 519.3,709.6 520.1,709.6 521.0,709.6 521.8,709.6 522.7,709.6 523.5,709.6 524.4,709.6 525.3,709.6 526.1,709.6 527.0,709.6 527.8,709.6 528.7,709.6 529.5,709.6 530.4,709.6 531.2,709.6 532.1,709.6 532.9,709.6 533.8,709.6 534.7,709.6 535.5,709.6 536.4,709.6 537.2,709.6 538.1,709.6 538.9,709.6 539.8,709.6 540.6,709.6 541.5,709.6 542.3,709.6 543.2,709.6 544.1,709.6 544.9,709.6 545.8,709.6 546.6,709.6 547.5,709.6 548.3,709.6 549.2,709.6 550.0,709.6 550.9,709.6 551.7,709.6 552.6,709.6 553.5,709.6 554.3,709.6 555.2,709.6 556.0,709.6 556.9,709.6 557.7,709.6 558.6,709.5 559.4,709.5 560.3,709.5 561.1,709.5 562.0,709.5 562.9,709.5 563.7,709.5 564.6,709.5 565.4,709.5 566.3,709.5 567.1,709.5 568.0,709.5 568.8,709.4 569.7,709.4 570.5,709.4 571.4,709.4 572.3,709.4 573.1,709.4 574.0,709.4 574.8,709.4 575.7,709.4 576.5,709.3 577.4,709.3 578.2,709.3 579.1,709.3 579.9,709.3 580.8,709.3 581.7,709.3 582.5,709.3 583.4,709.2 584.2,709.2 585.1,709.2 585.9,709.2 586.8,709.2 587.6,709.2 588.5,709.2 589.3,709.2 590.2,709.2 591.1,709.1 591.9,709.1 592.8,709.1 593.6,709.1 594.5,709.1 595.3,709.1 596.2,709.1 597.0,709.1 597.9,709.1 598.7,709.1 599.6,709.0 600.5,709.0 601.3,709.0 602.2,709.0 603.0,709.0 603.9,709.0 604.7,709.0 605.6,709.0 606.4,709.0 607.3,709.0 608.1,708.9 609.0,708.9 609.9,708.9 610.7,708.9 611.6,708.9 612.4,708.9 613.3,708.9 614.1,708.9 615.0,708.9 615.8,708.9 616.7,708.8 617.5,708.8 618.4,708.8 619.3,708.8 620.1,708.8 621.0,708.8 621.8,708.8 622.7,708.8 623.5,708.8 624.4,708.8 625.2,708.7 626.1,708.7 626.9,708.7 627.8,708.7 628.7,708.7 629.5,708.7 630.4,708.7 631.2,708.7 632.1,708.7 632.9,708.7 633.8,708.6 634.6,708.6 635.5,708.6 636.3,708.6 637.2,708.6 638.1,708.6 638.9,708.6 639.8,708.6 640.6,708.6 641.5,708.5 642.3,708.5 643.2,708.5 644.0,708.5 644.9,708.5 645.7,708.5 646.6,708.5 647.5,708.5 648.3,708.5 649.2,708.4 650.0,708.4 650.9,708.4 651.7,708.4 652.6,708.4 653.4,708.4 654.3,708.4 655.1,708.4 656.0,708.4 656.9,708.3 657.7,708.3 658.6,708.3 659.4,708.3 660.3,708.3 661.1,708.3 662.0,708.3 662.8,708.3 663.7,708.3 664.5,708.2 665.4,708.2 666.3,708.2 667.1,708.2 668.0,708.2 668.8,708.2 669.7,708.2 670.5,708.2 671.4,708.1 672.2,708.1 673.1,708.1 673.9,708.1 674.8,708.1 675.7,708.1 676.5,708.1 677.4,708.1 678.2,708.0 679.1,708.0 679.9,708.0 680.8,708.0 681.6,708.0 682.5,708.0 683.3,708.0 684.2,707.9 685.1,707.9 685.9,707.9 686.8,707.9 687.6,707.9 688.5,707.9 689.3,707.9 690.2,707.9 691.0,707.8 691.9,707.8 692.7,707.8 693.6,707.8 694.5,707.8 695.3,707.8 696.2,707.8 697.0,707.7 697.9,707.7 698.7,707.7 699.6,707.7 700.4,707.7 701.3,707.7 702.1,707.6 703.0,707.6 703.9,707.6 704.7,707.6 705.6,707.6 706.4,707.6 707.3,707.6 708.1,707.5 709.0,707.5 709.8,707.5 710.7,707.5 711.5,707.5 712.4,707.5 713.3,707.4 714.1,707.4 715.0,707.4 715.8,707.4 716.7,707.4 717.5,707.4 718.4,707.3 719.2,707.3 720.1,707.3 720.9,707.3 721.8,707.3 722.7,707.3 723.5,707.2 724.4,707.2 725.2,707.2 726.1,707.2 726.9,707.2 727.8,707.2 728.6,707.1 729.5,707.1 730.3,707.1 731.2,707.1 732.1,707.1 732.9,707.1 733.8,707.0 734.6,707.0 735.5,707.0 736.3,707.0 737.2,707.0 738.0,707.0 738.9,706.9 739.7,706.9 740.6,706.9 741.5,706.9 742.3,706.9 743.2,706.9 744.0,706.8 744.9,706.8 745.7,706.8 746.6,706.8 747.4,706.8 748.3,706.7 749.1,706.7 750.0,706.7 750.9,706.7 751.7,706.7 752.6,706.6 753.4,706.6 754.3,706.6 755.1,706.6 756.0,706.6 756.8,706.6 757.7,706.5 758.5,706.5 759.4,706.5" fill="none" stroke="#b6d68c" stroke-width="1.2" stroke-dasharray="3.2 2.6" stroke-linejoin="round"/>
<polyline points="486.8,709.6 487.7,709.6 488.5,709.6 489.4,709.6 490.2,709.6 491.1,709.6 491.9,709.6 492.8,709.6 493.6,709.6 494.5,709.6 495.3,709.6 496.2,709.6 497.1,709.6 497.9,709.6 498.8,709.6 499.6,709.6 500.5,709.6 501.3,709.6 502.2,709.6 503.0,709.6 503.9,709.6 504.7,709.6 505.6,709.6 506.5,709.6 507.3,709.6 508.2,709.6 509.0,709.6 509.9,709.6 510.7,709.6 511.6,709.6 512.4,709.6 513.3,709.6 514.1,709.6 515.0,709.6 515.9,709.6 516.7,709.6 517.6,709.6 518.4,709.6 519.3,709.6 520.1,709.6 521.0,709.6 521.8,709.6 522.7,709.6 523.5,709.6 524.4,709.6 525.3,709.6 526.1,709.6 527.0,709.6 527.8,709.6 528.7,709.6 529.5,709.6 530.4,709.6 531.2,709.6 532.1,709.6 532.9,709.6 533.8,709.6 534.7,709.6 535.5,709.6 536.4,709.6 537.2,709.6 538.1,709.6 538.9,709.6 539.8,709.6 540.6,709.6 541.5,709.6 542.3,709.6 543.2,709.5 544.1,708.7 544.9,706.6 545.8,696.9 546.6,677.1 547.5,633.1 548.3,589.9 549.2,552.3 550.0,532.4 550.9,538.2 551.7,560.7 552.6,591.6 553.5,618.2 554.3,641.0 555.2,658.2 556.0,671.6 556.9,681.6 557.7,687.9 558.6,692.9 559.4,696.4 560.3,698.5 561.1,700.0 562.0,701.3 562.9,702.3 563.7,703.2 564.6,703.8 565.4,704.4 566.3,704.9 567.1,705.3 568.0,705.6 568.8,706.0 569.7,706.1 570.5,705.8 571.4,705.9 572.3,705.8 573.1,705.3 574.0,704.6 574.8,704.5 575.7,704.2 576.5,704.4 577.4,703.8 578.2,703.7 579.1,703.4 579.9,703.0 580.8,702.4 581.7,701.3 582.5,700.8 583.4,700.2 584.2,699.6 585.1,699.4 585.9,698.6 586.8,697.4 587.6,696.4 588.5,695.2 589.3,694.1 590.2,693.6 591.1,691.9 591.9,690.6 592.8,689.5 593.6,688.4 594.5,686.9 595.3,685.9 596.2,684.0 597.0,682.7 597.9,681.5 598.7,680.1 599.6,678.1 600.5,676.9 601.3,675.4 602.2,674.3 603.0,673.8 603.9,673.2 604.7,672.5 605.6,672.2 606.4,671.9 607.3,671.3 608.1,670.4 609.0,670.4 609.9,669.7 610.7,668.6 611.6,668.5 612.4,669.0 613.3,672.5 614.1,676.7 615.0,681.0 615.8,686.8 616.7,691.0 617.5,695.5 618.4,698.9 619.3,701.8 620.1,703.9 621.0,705.3 621.8,706.9 622.7,707.4 623.5,707.6 624.4,708.6 625.2,708.9 626.1,708.8 626.9,708.3 627.8,708.5 628.7,708.8 629.5,708.7 630.4,708.8 631.2,708.6 632.1,708.9 632.9,708.4 633.8,708.2 634.6,708.1 635.5,708.3 636.3,708.1 637.2,708.9 638.1,708.7 638.9,708.1 639.8,708.2 640.6,708.5 641.5,708.1 642.3,708.3 643.2,708.2 644.0,708.6 644.9,708.7 645.7,708.5 646.6,708.7 647.5,708.5 648.3,708.0 649.2,708.5 650.0,708.8 650.9,708.8 651.7,708.7 652.6,708.2 653.4,708.5 654.3,708.6 655.1,708.7 656.0,708.0 656.9,708.5 657.7,708.6 658.6,708.8 659.4,708.8 660.3,708.7 661.1,708.3 662.0,708.7 662.8,708.8 663.7,708.4 664.5,708.6 665.4,708.0 666.3,708.7 667.1,708.4 668.0,708.2 668.8,708.5 669.7,708.0 670.5,708.5 671.4,708.7 672.2,708.5 673.1,708.8 673.9,708.5 674.8,708.7 675.7,708.1 676.5,708.2 677.4,708.5 678.2,708.9 679.1,708.7 679.9,708.7 680.8,708.7 681.6,708.7 682.5,708.2 683.3,708.8 684.2,708.9 685.1,708.2 685.9,708.5 686.8,708.1 687.6,708.6 688.5,708.2 689.3,708.4 690.2,708.3 691.0,708.3 691.9,708.5 692.7,708.9 693.6,708.8 694.5,708.2 695.3,708.2 696.2,708.2 697.0,708.7 697.9,708.4 698.7,708.3 699.6,708.4 700.4,708.3 701.3,708.5 702.1,708.4 703.0,708.4 703.9,708.8 704.7,708.2 705.6,708.2 706.4,708.9 707.3,708.2 708.1,708.2 709.0,708.4 709.8,708.9 710.7,708.2 711.5,708.9 712.4,708.2 713.3,708.4 714.1,708.9 715.0,708.8 715.8,708.5 716.7,708.5 717.5,708.4 718.4,708.2 719.2,708.8 720.1,709.0 720.9,708.2 721.8,709.0 722.7,708.3 723.5,708.9 724.4,708.3 725.2,708.3 726.1,708.3 726.9,708.5 727.8,708.3 728.6,708.8 729.5,708.4 730.3,708.7 731.2,708.2 732.1,708.3 732.9,708.6 733.8,708.5 734.6,709.0 735.5,709.0 736.3,708.5 737.2,708.6 738.0,708.3 738.9,708.5 739.7,708.9 740.6,708.7 741.5,708.3 742.3,708.5 743.2,709.0 744.0,708.3 744.9,708.3 745.7,708.9 746.6,708.5 747.4,708.7 748.3,708.3 749.1,708.7 750.0,708.8 750.9,708.6 751.7,708.2 752.6,708.9 753.4,708.9 754.3,708.5 755.1,708.2 756.0,708.6 756.8,708.6 757.7,708.3 758.5,708.3 759.4,708.9" fill="none" stroke="#e07b6c" stroke-width="1.2" stroke-linejoin="round"/>
<polyline points="486.8,709.6 487.7,709.6 488.5,709.6 489.4,709.6 490.2,709.6 491.1,709.6 491.9,709.6 492.8,709.6 493.6,709.6 494.5,709.6 495.3,709.6 496.2,709.6 497.1,709.6 497.9,709.6 498.8,709.6 499.6,709.6 500.5,709.6 501.3,709.6 502.2,709.6 503.0,709.6 503.9,709.6 504.7,709.6 505.6,709.6 506.5,709.6 507.3,709.6 508.2,709.6 509.0,709.6 509.9,709.6 510.7,709.6 511.6,709.6 512.4,709.6 513.3,709.6 514.1,709.6 515.0,709.6 515.9,709.6 516.7,709.6 517.6,709.6 518.4,709.6 519.3,709.6 520.1,709.6 521.0,709.6 521.8,709.6 522.7,709.6 523.5,709.6 524.4,709.6 525.3,709.6 526.1,709.6 527.0,709.6 527.8,709.6 528.7,709.6 529.5,709.6 530.4,709.6 531.2,709.6 532.1,709.6 532.9,709.6 533.8,709.6 534.7,709.6 535.5,709.6 536.4,709.6 537.2,709.6 538.1,709.6 538.9,709.6 539.8,709.6 540.6,709.6 541.5,709.6 542.3,709.6 543.2,709.5 544.1,708.6 544.9,706.7 545.8,699.4 546.6,687.6 547.5,674.0 548.3,660.5 549.2,652.1 550.0,647.9 550.9,651.5 551.7,658.5 552.6,668.4 553.5,679.0 554.3,687.0 555.2,693.8 556.0,698.3 556.9,701.5 557.7,703.9 558.6,705.3 559.4,706.4 560.3,707.3 561.1,708.0 562.0,708.3 562.9,708.5 563.7,708.7 564.6,708.9 565.4,709.0 566.3,709.1 567.1,709.2 568.0,709.2 568.8,709.2 569.7,709.1 570.5,709.0 571.4,708.9 572.3,709.0 573.1,708.9 574.0,709.5 574.8,709.2 575.7,708.8 576.5,709.0 577.4,708.7 578.2,709.2 579.1,709.0 579.9,709.1 580.8,708.8 581.7,708.7 582.5,708.9 583.4,708.7 584.2,708.5 585.1,707.8 585.9,707.8 586.8,708.0 587.6,707.3 588.5,707.6 589.3,707.0 590.2,707.1 591.1,707.0 591.9,706.1 592.8,706.3 593.6,706.0 594.5,705.1 595.3,704.8 596.2,704.8 597.0,703.9 597.9,703.8 598.7,703.4 599.6,703.3 600.5,702.4 601.3,702.2 602.2,701.6 603.0,701.3 603.9,701.2 604.7,700.7 605.6,700.5 606.4,700.3 607.3,700.3 608.1,700.2 609.0,700.3 609.9,701.1 610.7,701.1 611.6,701.9 612.4,702.7 613.3,703.3 614.1,704.4 615.0,705.3 615.8,705.9 616.7,706.6 617.5,707.7 618.4,707.7 619.3,708.6 620.1,708.3 621.0,708.5 621.8,709.2 622.7,708.7 623.5,709.0 624.4,708.9 625.2,709.2 626.1,709.2 626.9,709.1 627.8,708.6 628.7,709.1 629.5,708.7 630.4,708.6 631.2,708.5 632.1,708.9 632.9,708.9 633.8,708.8 634.6,708.6 635.5,709.0 636.3,708.6 637.2,708.5 638.1,708.5 638.9,709.0 639.8,708.4 640.6,708.9 641.5,708.8 642.3,708.6 643.2,708.3 644.0,708.7 644.9,708.3 645.7,708.6 646.6,708.7 647.5,708.7 648.3,708.8 649.2,708.9 650.0,708.8 650.9,708.4 651.7,708.2 652.6,708.8 653.4,708.9 654.3,708.2 655.1,708.5 656.0,708.6 656.9,708.7 657.7,708.5 658.6,708.3 659.4,708.6 660.3,708.6 661.1,708.9 662.0,708.3 662.8,708.9 663.7,708.6 664.5,708.3 665.4,708.8 666.3,708.4 667.1,708.3 668.0,708.5 668.8,708.4 669.7,708.8 670.5,708.6 671.4,708.8 672.2,708.3 673.1,708.7 673.9,708.6 674.8,708.2 675.7,708.3 676.5,708.2 677.4,708.6 678.2,708.6 679.1,708.4 679.9,708.6 680.8,708.7 681.6,708.6 682.5,708.8 683.3,708.7 684.2,708.2 685.1,708.2 685.9,708.5 686.8,708.6 687.6,708.7 688.5,708.8 689.3,708.7 690.2,708.4 691.0,708.3 691.9,708.7 692.7,708.4 693.6,708.4 694.5,708.4 695.3,708.5 696.2,708.4 697.0,708.7 697.9,708.4 698.7,708.7 699.6,708.6 700.4,708.4 701.3,708.4 702.1,708.7 703.0,708.3 703.9,708.5 704.7,708.5 705.6,708.9 706.4,708.5 707.3,708.7 708.1,708.4 709.0,708.6 709.8,708.3 710.7,708.5 711.5,708.4 712.4,708.7 713.3,708.5 714.1,708.4 715.0,708.3 715.8,708.7 716.7,708.3 717.5,708.3 718.4,708.4 719.2,708.2 720.1,708.3 720.9,708.6 721.8,708.5 722.7,708.8 723.5,708.3 724.4,708.3 725.2,708.6 726.1,708.4 726.9,708.4 727.8,708.4 728.6,708.8 729.5,708.4 730.3,708.5 731.2,708.5 732.1,708.6 732.9,708.5 733.8,708.4 734.6,708.5 735.5,708.4 736.3,708.9 737.2,708.8 738.0,708.6 738.9,708.5 739.7,708.8 740.6,708.4 741.5,708.5 742.3,708.9 743.2,708.6 744.0,708.8 744.9,708.9 745.7,708.8 746.6,708.7 747.4,708.8 748.3,708.8 749.1,708.9 750.0,708.6 750.9,708.6 751.7,708.5 752.6,708.5 753.4,708.7 754.3,708.3 755.1,708.9 756.0,708.6 756.8,708.7 757.7,708.6 758.5,708.8 759.4,708.3" fill="none" stroke="#8a68e6" stroke-width="1.2" stroke-linejoin="round"/>
<polyline points="486.8,709.6 487.7,709.6 488.5,709.6 489.4,709.6 490.2,709.6 491.1,709.6 491.9,709.6 492.8,709.6 493.6,709.6 494.5,709.6 495.3,709.6 496.2,709.6 497.1,709.6 497.9,709.6 498.8,709.6 499.6,709.6 500.5,709.6 501.3,709.6 502.2,709.6 503.0,709.6 503.9,709.6 504.7,709.6 505.6,709.6 506.5,709.6 507.3,709.6 508.2,709.6 509.0,709.6 509.9,709.6 510.7,709.6 511.6,709.6 512.4,709.6 513.3,709.6 514.1,709.6 515.0,709.6 515.9,709.6 516.7,709.6 517.6,709.6 518.4,709.6 519.3,709.6 520.1,709.6 521.0,709.6 521.8,709.6 522.7,709.6 523.5,709.6 524.4,709.6 525.3,709.6 526.1,709.6 527.0,709.6 527.8,709.6 528.7,709.6 529.5,709.6 530.4,709.6 531.2,709.6 532.1,709.6 532.9,709.6 533.8,709.6 534.7,709.6 535.5,709.6 536.4,709.6 537.2,709.6 538.1,709.6 538.9,709.6 539.8,709.6 540.6,709.6 541.5,709.6 542.3,709.6 543.2,709.6 544.1,709.4 544.9,708.6 545.8,706.8 546.6,701.9 547.5,696.7 548.3,692.0 549.2,689.1 550.0,687.6 550.9,687.4 551.7,689.7 552.6,692.7 553.5,696.5 554.3,699.8 555.2,702.5 556.0,704.6 556.9,705.9 557.7,706.9 558.6,707.6 559.4,708.1 560.3,708.5 561.1,708.9 562.0,709.1 562.9,709.2 563.7,709.3 564.6,709.3 565.4,709.3 566.3,709.3 567.1,709.3 568.0,709.3 568.8,709.0 569.7,709.0 570.5,709.3 571.4,709.5 572.3,709.7 573.1,709.1 574.0,709.3 574.8,709.0 575.7,709.4 576.5,709.0 577.4,709.4 578.2,709.0 579.1,709.0 579.9,709.2 580.8,709.1 581.7,708.9 582.5,709.2 583.4,708.8 584.2,708.5 585.1,708.8 585.9,708.3 586.8,708.2 587.6,708.0 588.5,708.3 589.3,708.4 590.2,707.7 591.1,707.5 591.9,707.6 592.8,707.7 593.6,707.4 594.5,706.9 595.3,706.9 596.2,706.1 597.0,706.1 597.9,706.2 598.7,705.6 599.6,705.6 600.5,704.9 601.3,704.8 602.2,704.9 603.0,704.6 603.9,704.4 604.7,704.1 605.6,703.8 606.4,704.5 607.3,704.2 608.1,704.1 609.0,704.5 609.9,704.5 610.7,705.2 611.6,704.9 612.4,705.5 613.3,706.3 614.1,706.3 615.0,707.1 615.8,707.6 616.7,707.7 617.5,708.4 618.4,708.7 619.3,708.4 620.1,708.7 621.0,709.3 621.8,708.7 622.7,709.3 623.5,709.0 624.4,708.6 625.2,708.8 626.1,709.0 626.9,709.0 627.8,708.9 628.7,709.1 629.5,708.4 630.4,709.1 631.2,708.8 632.1,708.5 632.9,708.7 633.8,708.2 634.6,708.8 635.5,708.1 636.3,708.1 637.2,708.3 638.1,708.0 638.9,708.4 639.8,708.0 640.6,708.0 641.5,708.2 642.3,708.2 643.2,707.9 644.0,708.1 644.9,708.4 645.7,707.8 646.6,708.2 647.5,707.9 648.3,707.7 649.2,708.2 650.0,708.3 650.9,708.2 651.7,707.8 652.6,708.0 653.4,708.0 654.3,707.9 655.1,707.5 656.0,708.0 656.9,707.9 657.7,707.5 658.6,707.7 659.4,708.0 660.3,707.8 661.1,707.8 662.0,708.0 662.8,707.8 663.7,707.9 664.5,707.5 665.4,707.9 666.3,707.6 667.1,707.3 668.0,707.3 668.8,707.8 669.7,707.6 670.5,707.8 671.4,707.8 672.2,707.7 673.1,707.4 673.9,707.3 674.8,707.8 675.7,708.0 676.5,707.7 677.4,708.0 678.2,708.0 679.1,707.4 679.9,707.9 680.8,707.4 681.6,707.7 682.5,707.2 683.3,707.3 684.2,707.9 685.1,707.8 685.9,707.2 686.8,707.5 687.6,707.6 688.5,707.3 689.3,707.3 690.2,707.6 691.0,707.6 691.9,707.9 692.7,707.7 693.6,707.8 694.5,707.4 695.3,707.5 696.2,707.8 697.0,707.4 697.9,707.9 698.7,707.9 699.6,707.4 700.4,707.6 701.3,707.2 702.1,707.4 703.0,707.4 703.9,707.8 704.7,707.3 705.6,707.9 706.4,707.4 707.3,707.2 708.1,707.2 709.0,707.2 709.8,707.6 710.7,707.4 711.5,707.3 712.4,707.8 713.3,707.2 714.1,707.2 715.0,707.6 715.8,707.3 716.7,707.6 717.5,707.7 718.4,707.4 719.2,707.9 720.1,707.3 720.9,707.2 721.8,707.7 722.7,707.2 723.5,707.9 724.4,707.3 725.2,707.8 726.1,707.2 726.9,707.6 727.8,707.2 728.6,708.0 729.5,707.9 730.3,707.3 731.2,707.5 732.1,707.6 732.9,708.0 733.8,707.9 734.6,707.7 735.5,708.0 736.3,707.2 737.2,707.4 738.0,707.3 738.9,707.5 739.7,707.8 740.6,708.0 741.5,707.5 742.3,708.0 743.2,707.7 744.0,707.7 744.9,707.7 745.7,708.1 746.6,708.1 747.4,707.7 748.3,708.1 749.1,707.7 750.0,708.1 750.9,708.0 751.7,708.1 752.6,707.7 753.4,707.9 754.3,708.0 755.1,708.1 756.0,707.8 756.8,707.5 757.7,707.9 758.5,708.1 759.4,708.0" fill="none" stroke="#3aa2cc" stroke-width="1.2" stroke-linejoin="round"/>
<polyline points="486.8,709.6 487.7,709.6 488.5,709.6 489.4,709.6 490.2,709.6 491.1,709.6 491.9,709.6 492.8,709.6 493.6,709.6 494.5,709.6 495.3,709.6 496.2,709.6 497.1,709.6 497.9,709.6 498.8,709.6 499.6,709.6 500.5,709.6 501.3,709.6 502.2,709.6 503.0,709.6 503.9,709.6 504.7,709.6 505.6,709.6 506.5,709.6 507.3,709.6 508.2,709.6 509.0,709.6 509.9,709.6 510.7,709.6 511.6,709.6 512.4,709.6 513.3,709.6 514.1,709.6 515.0,709.6 515.9,709.6 516.7,709.6 517.6,709.6 518.4,709.6 519.3,709.6 520.1,709.6 521.0,709.6 521.8,709.6 522.7,709.6 523.5,709.6 524.4,709.6 525.3,709.6 526.1,709.6 527.0,709.6 527.8,709.6 528.7,709.6 529.5,709.6 530.4,709.6 531.2,709.6 532.1,709.6 532.9,709.6 533.8,709.6 534.7,709.6 535.5,709.6 536.4,709.6 537.2,709.6 538.1,709.6 538.9,709.6 539.8,709.6 540.6,709.6 541.5,709.6 542.3,709.6 543.2,709.6 544.1,709.4 544.9,708.6 545.8,706.7 546.6,700.9 547.5,694.9 548.3,689.6 549.2,685.6 550.0,683.4 550.9,682.1 551.7,683.1 552.6,686.5 553.5,690.3 554.3,694.7 555.2,698.3 556.0,701.3 556.9,703.6 557.7,705.1 558.6,706.3 559.4,707.2 560.3,707.8 561.1,708.3 562.0,708.7 562.9,708.9 563.7,708.9 564.6,709.0 565.4,709.0 566.3,709.0 567.1,709.0 568.0,709.0 568.8,709.2 569.7,709.3 570.5,708.9 571.4,709.4 572.3,709.0 573.1,709.2 574.0,709.4 574.8,709.1 575.7,709.5 576.5,709.1 577.4,709.4 578.2,709.4 579.1,709.1 579.9,708.7 580.8,709.2 581.7,709.0 582.5,708.6 583.4,708.3 584.2,708.4 585.1,708.5 585.9,707.9 586.8,708.5 587.6,707.7 588.5,708.0 589.3,708.0 590.2,707.9 591.1,707.6 591.9,707.0 592.8,707.3 593.6,706.7 594.5,706.3 595.3,706.3 596.2,705.8 597.0,705.9 597.9,705.6 598.7,705.2 599.6,704.5 600.5,704.4 601.3,704.2 602.2,703.7 603.0,703.5 603.9,703.3 604.7,702.6 605.6,702.4 606.4,702.6 607.3,702.3 608.1,702.4 609.0,702.3 609.9,702.6 610.7,703.3 611.6,703.1 612.4,704.2 613.3,704.5 614.1,704.9 615.0,706.2 615.8,706.6 616.7,707.5 617.5,707.4 618.4,707.8 619.3,708.3 620.1,708.2 621.0,708.7 621.8,708.4 622.7,708.5 623.5,708.5 624.4,708.6 625.2,708.3 626.1,708.2 626.9,708.5 627.8,708.4 628.7,708.8 629.5,708.3 630.4,708.3 631.2,708.0 632.1,708.1 632.9,708.5 633.8,708.4 634.6,708.1 635.5,708.6 636.3,708.2 637.2,708.4 638.1,708.4 638.9,708.4 639.8,707.8 640.6,708.3 641.5,708.1 642.3,708.0 643.2,707.5 644.0,708.1 644.9,707.8 645.7,707.7 646.6,707.4 647.5,707.4 648.3,707.3 649.2,707.8 650.0,707.6 650.9,707.6 651.7,707.2 652.6,707.1 653.4,707.7 654.3,707.7 655.1,707.6 656.0,707.6 656.9,707.3 657.7,707.2 658.6,707.5 659.4,707.6 660.3,707.3 661.1,707.3 662.0,707.1 662.8,706.7 663.7,706.9 664.5,707.0 665.4,706.9 666.3,706.9 667.1,707.3 668.0,706.6 668.8,706.7 669.7,706.6 670.5,706.6 671.4,706.9 672.2,706.9 673.1,707.1 673.9,706.7 674.8,707.1 675.7,707.1 676.5,706.9 677.4,707.0 678.2,706.8 679.1,707.0 679.9,707.0 680.8,706.9 681.6,706.9 682.5,706.7 683.3,707.0 684.2,706.2 685.1,706.4 685.9,706.8 686.8,706.7 687.6,706.6 688.5,706.6 689.3,706.8 690.2,706.2 691.0,706.1 691.9,706.5 692.7,706.5 693.6,706.8 694.5,706.8 695.3,706.6 696.2,706.7 697.0,706.2 697.9,706.8 698.7,706.9 699.6,706.1 700.4,706.5 701.3,706.8 702.1,706.5 703.0,706.9 703.9,706.5 704.7,706.2 705.6,706.3 706.4,706.4 707.3,706.8 708.1,706.7 709.0,706.9 709.8,706.4 710.7,706.6 711.5,706.4 712.4,706.8 713.3,706.8 714.1,706.4 715.0,706.2 715.8,706.4 716.7,706.4 717.5,706.4 718.4,706.5 719.2,706.9 720.1,706.7 720.9,706.8 721.8,707.1 722.7,707.1 723.5,706.9 724.4,706.9 725.2,706.6 726.1,706.4 726.9,706.8 727.8,706.4 728.6,706.4 729.5,706.4 730.3,706.9 731.2,707.1 732.1,707.1 732.9,707.1 733.8,707.1 734.6,706.8 735.5,706.6 736.3,706.6 737.2,706.9 738.0,706.8 738.9,706.7 739.7,707.3 740.6,706.9 741.5,706.7 742.3,706.8 743.2,706.9 744.0,707.1 744.9,707.4 745.7,706.9 746.6,707.3 747.4,706.9 748.3,706.8 749.1,707.3 750.0,707.3 750.9,706.9 751.7,707.1 752.6,707.6 753.4,707.7 754.3,707.7 755.1,707.1 756.0,707.2 756.8,707.7 757.7,707.2 758.5,707.1 759.4,707.4" fill="none" stroke="#8cc86a" stroke-width="1.2" stroke-linejoin="round"/></g>
<rect x="486.8" y="296.7" width="272.6" height="412.9" fill="none" stroke="#2b2b2b" stroke-width="1.4"/>
<line x1="486.8" y1="502.9" x2="759.4" y2="502.9" stroke="#2b2b2b" stroke-width="1.4" />
<line x1="486.8" y1="502.9" x2="482.8" y2="502.9" stroke="#2b2b2b" stroke-width="1.2" />
<line x1="486.8" y1="709.6" x2="482.8" y2="709.6" stroke="#2b2b2b" stroke-width="1.2" />
<line x1="486.8" y1="468.53" x2="484.8" y2="468.53" stroke="#2b2b2b" stroke-width="1.2" />
<line x1="486.8" y1="675.15" x2="484.8" y2="675.15" stroke="#2b2b2b" stroke-width="1.2" />
<line x1="486.8" y1="434.17" x2="482.8" y2="434.17" stroke="#2b2b2b" stroke-width="1.2" />
<line x1="486.8" y1="640.7" x2="482.8" y2="640.7" stroke="#2b2b2b" stroke-width="1.2" />
<line x1="486.8" y1="399.8" x2="484.8" y2="399.8" stroke="#2b2b2b" stroke-width="1.2" />
<line x1="486.8" y1="606.25" x2="484.8" y2="606.25" stroke="#2b2b2b" stroke-width="1.2" />
<line x1="486.8" y1="365.43" x2="482.8" y2="365.43" stroke="#2b2b2b" stroke-width="1.2" />
<line x1="486.8" y1="571.8" x2="482.8" y2="571.8" stroke="#2b2b2b" stroke-width="1.2" />
<line x1="486.8" y1="331.07" x2="484.8" y2="331.07" stroke="#2b2b2b" stroke-width="1.2" />
<line x1="486.8" y1="537.35" x2="484.8" y2="537.35" stroke="#2b2b2b" stroke-width="1.2" />
<line x1="486.8" y1="296.7" x2="482.8" y2="296.7" stroke="#2b2b2b" stroke-width="1.2" />
<line x1="486.8" y1="502.9" x2="482.8" y2="502.9" stroke="#2b2b2b" stroke-width="1.2" />
<line x1="759.4" y1="502.9" x2="763.4" y2="502.9" stroke="#2b2b2b" stroke-width="1.2" />
<line x1="759.4" y1="709.6" x2="763.4" y2="709.6" stroke="#2b2b2b" stroke-width="1.2" />
<line x1="759.4" y1="477.12" x2="761.4" y2="477.12" stroke="#2b2b2b" stroke-width="1.2" />
<line x1="759.4" y1="683.76" x2="761.4" y2="683.76" stroke="#2b2b2b" stroke-width="1.2" />
<line x1="759.4" y1="451.35" x2="763.4" y2="451.35" stroke="#2b2b2b" stroke-width="1.2" />
<line x1="759.4" y1="657.92" x2="763.4" y2="657.92" stroke="#2b2b2b" stroke-width="1.2" />
<line x1="759.4" y1="425.57" x2="761.4" y2="425.57" stroke="#2b2b2b" stroke-width="1.2" />
<line x1="759.4" y1="632.09" x2="761.4" y2="632.09" stroke="#2b2b2b" stroke-width="1.2" />
<line x1="759.4" y1="399.8" x2="763.4" y2="399.8" stroke="#2b2b2b" stroke-width="1.2" />
<line x1="759.4" y1="606.25" x2="763.4" y2="606.25" stroke="#2b2b2b" stroke-width="1.2" />
<line x1="759.4" y1="374.02" x2="761.4" y2="374.02" stroke="#2b2b2b" stroke-width="1.2" />
<line x1="759.4" y1="580.41" x2="761.4" y2="580.41" stroke="#2b2b2b" stroke-width="1.2" />
<line x1="759.4" y1="348.25" x2="763.4" y2="348.25" stroke="#2b2b2b" stroke-width="1.2" />
<line x1="759.4" y1="554.58" x2="763.4" y2="554.58" stroke="#2b2b2b" stroke-width="1.2" />
<line x1="759.4" y1="322.47" x2="761.4" y2="322.47" stroke="#2b2b2b" stroke-width="1.2" />
<line x1="759.4" y1="528.74" x2="761.4" y2="528.74" stroke="#2b2b2b" stroke-width="1.2" />
<line x1="759.4" y1="296.7" x2="763.4" y2="296.7" stroke="#2b2b2b" stroke-width="1.2" />
<line x1="759.4" y1="502.9" x2="763.4" y2="502.9" stroke="#2b2b2b" stroke-width="1.2" />
<line x1="486.8" y1="709.6" x2="486.8" y2="713.6" stroke="#2b2b2b" stroke-width="1.2" />
<line x1="514.06" y1="709.6" x2="514.06" y2="711.6" stroke="#2b2b2b" stroke-width="1.2" />
<line x1="541.32" y1="709.6" x2="541.32" y2="713.6" stroke="#2b2b2b" stroke-width="1.2" />
<line x1="568.58" y1="709.6" x2="568.58" y2="711.6" stroke="#2b2b2b" stroke-width="1.2" />
<line x1="595.84" y1="709.6" x2="595.84" y2="713.6" stroke="#2b2b2b" stroke-width="1.2" />
<line x1="623.1" y1="709.6" x2="623.1" y2="711.6" stroke="#2b2b2b" stroke-width="1.2" />
<line x1="650.36" y1="709.6" x2="650.36" y2="713.6" stroke="#2b2b2b" stroke-width="1.2" />
<line x1="677.62" y1="709.6" x2="677.62" y2="711.6" stroke="#2b2b2b" stroke-width="1.2" />
<line x1="704.88" y1="709.6" x2="704.88" y2="713.6" stroke="#2b2b2b" stroke-width="1.2" />
<line x1="732.14" y1="709.6" x2="732.14" y2="711.6" stroke="#2b2b2b" stroke-width="1.2" />
<line x1="759.4" y1="709.6" x2="759.4" y2="713.6" stroke="#2b2b2b" stroke-width="1.2" />
<text x="482.3" y="300.3" font-size="12.4" text-anchor="end" >60</text>
<text x="482.3" y="369.03" font-size="12.4" text-anchor="end" >40</text>
<text x="482.3" y="437.77" font-size="12.4" text-anchor="end" >20</text>
<text x="482.3" y="506.5" font-size="12.4" text-anchor="end" >60</text>
<text x="482.3" y="575.4" font-size="12.4" text-anchor="end" >40</text>
<text x="482.3" y="644.3" font-size="12.4" text-anchor="end" >20</text>
<text x="482.3" y="713.2" font-size="12.4" text-anchor="end" >0</text>
<text x="764" y="300.9" font-size="12.4" >20</text>
<text x="764" y="352.45" font-size="12.4" >15</text>
<text x="764" y="404" font-size="12.4" >10</text>
<text x="764" y="455.55" font-size="12.4" >5</text>
<text x="764" y="507.1" font-size="12.4" >20</text>
<text x="764" y="558.78" font-size="12.4" >15</text>
<text x="764" y="610.45" font-size="12.4" >10</text>
<text x="764" y="662.12" font-size="12.4" >5</text>
<text x="764" y="713.8" font-size="12.4" >0</text>
<text x="486.8" y="726.3" font-size="12" text-anchor="middle" >0.0</text>
<text x="541.32" y="726.3" font-size="12" text-anchor="middle" >0.2</text>
<text x="595.84" y="726.3" font-size="12" text-anchor="middle" >0.4</text>
<text x="650.36" y="726.3" font-size="12" text-anchor="middle" >0.6</text>
<text x="704.88" y="726.3" font-size="12" text-anchor="middle" >0.8</text>
<text x="759.4" y="726.3" font-size="12" text-anchor="middle" >1.0</text>
<text x="623.5" y="746" font-size="12.3" text-anchor="middle" >Distance (nm)</text>
<text x="0" y="0" font-size="12" text-anchor="middle" transform="translate(461.2,396) rotate(-90)">g (r)</text>
<text x="0" y="0" font-size="12" text-anchor="middle" transform="translate(461.2,606) rotate(-90)">g (r)</text>
<text x="0" y="0" font-size="12" text-anchor="middle" transform="translate(789.3,397) rotate(-90)">N (r)</text>
<text x="0" y="0" font-size="12" text-anchor="middle" transform="translate(789.3,605.5) rotate(-90)">N (r)</text>
<text x="749" y="312.8" font-size="11" text-anchor="end" >NPV</text>
<text x="750.3" y="519.3" font-size="11" text-anchor="end" >NPMV</text>
<line x1="574.4" y1="350.5" x2="600.4" y2="350.5" stroke="#e07b6c" stroke-width="1.3" stroke-dasharray="3.2 2.6"/>
<text x="603.9" y="354.5" font-size="11.2">ClO<tspan font-size="8" dy="2.5">4</tspan></text>
<line x1="574.4" y1="366.9" x2="600.4" y2="366.9" stroke="#3aa2cc" stroke-width="1.3" stroke-dasharray="3.2 2.6"/>
<text x="603.9" y="370.9" font-size="11.2">PC</text>
<line x1="574.4" y1="381.3" x2="600.4" y2="381.3" stroke="#b6d68c" stroke-width="1.3" stroke-dasharray="3.2 2.6"/>
<text x="603.9" y="385.3" font-size="11.2">VC</text>
<line x1="574.4" y1="395.4" x2="600.4" y2="395.4" stroke="#e07b6c" stroke-width="1.3"/>
<text x="603.9" y="399.4" font-size="11.2">Na-O<tspan font-size="8" dy="2.5">ClO4</tspan></text>
<line x1="574.4" y1="412" x2="600.4" y2="412" stroke="#3aa2cc" stroke-width="1.3"/>
<text x="603.9" y="416" font-size="11.2">Na-O<tspan font-size="8" dy="2.5">PC</tspan></text>
<line x1="574.4" y1="428.2" x2="600.4" y2="428.2" stroke="#8cc86a" stroke-width="1.3"/>
<text x="603.9" y="432.2" font-size="11.2">Na-O<tspan font-size="8" dy="2.5">VC</tspan></text>
<line x1="578" y1="542.3" x2="604" y2="542.3" stroke="#e07b6c" stroke-width="1.3" stroke-dasharray="3.2 2.6"/>
<text x="607.5" y="546.3" font-size="11.2">ClO<tspan font-size="8" dy="2.5">4</tspan></text>
<line x1="578" y1="559" x2="604" y2="559" stroke="#8a68e6" stroke-width="1.3" stroke-dasharray="3.2 2.6"/>
<text x="607.5" y="563" font-size="11.2">MB</text>
<line x1="578" y1="573.1" x2="604" y2="573.1" stroke="#3aa2cc" stroke-width="1.3" stroke-dasharray="3.2 2.6"/>
<text x="607.5" y="577.1" font-size="11.2">PC</text>
<line x1="578" y1="586.8" x2="604" y2="586.8" stroke="#b6d68c" stroke-width="1.3" stroke-dasharray="3.2 2.6"/>
<text x="607.5" y="590.8" font-size="11.2">VC</text>
<line x1="578" y1="600.9" x2="604" y2="600.9" stroke="#e07b6c" stroke-width="1.3"/>
<text x="607.5" y="604.9" font-size="11.2">Na-O<tspan font-size="8" dy="2.5">ClO4</tspan></text>
<line x1="578" y1="617.7" x2="604" y2="617.7" stroke="#8a68e6" stroke-width="1.3"/>
<text x="607.5" y="621.7" font-size="11.2">Na-O<tspan font-size="8" dy="2.5">MB</tspan></text>
<line x1="578" y1="634" x2="604" y2="634" stroke="#3aa2cc" stroke-width="1.3"/>
<text x="607.5" y="638" font-size="11.2">Na-O<tspan font-size="8" dy="2.5">PC</tspan></text>
<line x1="578" y1="651" x2="604" y2="651" stroke="#8cc86a" stroke-width="1.3"/>
<text x="607.5" y="655" font-size="11.2">Na-O<tspan font-size="8" dy="2.5">VC</tspan></text>
<text x="425" y="306" font-size="21.5" >e</text>
<defs><linearGradient id="gf_b" x1="0" y1="0" x2="1" y2="0"><stop offset="0" stop-color="#b3def1"/><stop offset="1" stop-color="#74c2dc"/></linearGradient><linearGradient id="gf_p" x1="0" y1="0" x2="1" y2="0"><stop offset="0" stop-color="#fbbfc2"/><stop offset="1" stop-color="#f3aca4"/></linearGradient><linearGradient id="gf_b2" gradientUnits="userSpaceOnUse" x1="833.7" y1="0" x2="1005.8" y2="0"><stop offset="0" stop-color="#b3def1"/><stop offset="1" stop-color="#74c2dc"/></linearGradient></defs>
<rect x="833.7" y="307.12" width="83.75" height="41.3" fill="url(#gf_b)"/>
<rect x="833.7" y="348.43" width="104.48" height="41.3" fill="url(#gf_p)"/>
<rect x="833.7" y="410.57" width="172.16" height="41.3" fill="url(#gf_b)"/>
<rect x="833.7" y="451.88" width="74.45" height="41.3" fill="url(#gf_p)"/>
<rect x="833.7" y="555.33" width="74.45" height="41.3" fill="url(#gf_p)"/>
<rect x="833.7" y="617.48" width="3.38" height="41.3" fill="url(#gf_b)"/>
<rect x="833.7" y="658.77" width="1.27" height="41.3" fill="url(#gf_p)"/>
<line x1="833.7" y1="400.15" x2="1011.3" y2="400.15" stroke="#f1f1f1" stroke-width="1" />
<line x1="833.7" y1="503.6" x2="1011.3" y2="503.6" stroke="#f1f1f1" stroke-width="1" />
<line x1="833.7" y1="607.05" x2="1011.3" y2="607.05" stroke="#f1f1f1" stroke-width="1" />
<rect x="833.7" y="296.7" width="177.6" height="413.8" fill="none" stroke="#2b2b2b" stroke-width="1.4"/>
<line x1="833.7" y1="710.5" x2="833.7" y2="714.5" stroke="#2b2b2b" stroke-width="1.2" />
<text x="833.7" y="726.8" font-size="12" text-anchor="middle" >0</text>
<line x1="876" y1="710.5" x2="876" y2="714.5" stroke="#2b2b2b" stroke-width="1.2" />
<text x="876" y="726.8" font-size="12" text-anchor="middle" >1</text>
<line x1="918.3" y1="710.5" x2="918.3" y2="714.5" stroke="#2b2b2b" stroke-width="1.2" />
<text x="918.3" y="726.8" font-size="12" text-anchor="middle" >2</text>
<line x1="960.6" y1="710.5" x2="960.6" y2="714.5" stroke="#2b2b2b" stroke-width="1.2" />
<text x="960.6" y="726.8" font-size="12" text-anchor="middle" >3</text>
<line x1="1002.9" y1="710.5" x2="1002.9" y2="714.5" stroke="#2b2b2b" stroke-width="1.2" />
<text x="1002.9" y="726.8" font-size="12" text-anchor="middle" >4</text>
<text x="922" y="746.9" font-size="12.3" text-anchor="middle" >Coordination Number</text>
<text x="805.9" y="352.4" font-size="12" >ClO<tspan font-size="8.5" dy="2.5">4</tspan><tspan font-size="8.5" dy="-8">-</tspan></text>
<text x="829.8" y="456.7" font-size="12" text-anchor="end" >PC</text>
<text x="829" y="560.4" font-size="12" text-anchor="end" >MB</text>
<text x="830.3" y="666.1" font-size="12" text-anchor="end" >VC</text>
<line x1="948.7" y1="333.4" x2="963.31" y2="363.88" stroke="#f4a29c" stroke-width="1.4"/><polygon points="967.2,372 959.05,364.82 963.53,364.33 966.71,361.15" fill="#f4a29c"/>
<line x1="962.9" y1="470" x2="951.9" y2="498.89" stroke="#6eaaf0" stroke-width="1.4"/><polygon points="948.7,507.3 948.29,496.44 951.72,499.36 956.23,499.47" fill="#6eaaf0"/>
<line x1="908.3" y1="612.1" x2="896.46" y2="640.59" stroke="#6eaaf0" stroke-width="1.4"/><polygon points="893,648.9 892.91,638.03 896.26,641.05 900.76,641.3" fill="#6eaaf0"/>
<rect x="947.2" y="680.3" width="24.5" height="11.7" fill="url(#gf_b)"/>
<rect x="947.2" y="694.2" width="24.5" height="11.7" fill="url(#gf_p)"/>
<text x="975.9" y="689.8" font-size="11" >NPV</text>
<text x="975.9" y="703.7" font-size="11" >NPMV</text>
<text x="799.5" y="305.7" font-size="21.5" >f</text>
<defs><linearGradient id="gg_b" x1="0" y1="0" x2="0" y2="1"><stop offset="0" stop-color="#68bbda"/><stop offset="1" stop-color="#9bd7f0"/></linearGradient><linearGradient id="gg_p" x1="0" y1="0" x2="0" y2="1"><stop offset="0" stop-color="#f1a69d"/><stop offset="1" stop-color="#fbb9bd"/></linearGradient></defs>
<rect x="88.4" y="835" width="23.3" height="75.5" fill="url(#gg_b)"/>
<text x="100.05" y="831.7" font-size="15.5" text-anchor="middle" >14%</text>
<line x1="100.05" y1="910.5" x2="100.05" y2="915.5" stroke="#2b2b2b" stroke-width="1.2" />
<text x="100.05" y="930.5" font-size="13.5" text-anchor="middle" >10X</text>
<rect x="124.18" y="797.2" width="23.3" height="13.9" fill="url(#gg_b)"/>
<rect x="124.18" y="813.8" width="23.3" height="96.7" fill="url(#gg_b)"/>
<text x="135.83" y="793.9" font-size="15.5" text-anchor="middle" >33%</text>
<line x1="135.83" y1="910.5" x2="135.83" y2="915.5" stroke="#2b2b2b" stroke-width="1.2" />
<text x="135.83" y="930.5" font-size="13.5" text-anchor="middle" >11X</text>
<rect x="159.96" y="805.3" width="23.3" height="5.8" fill="url(#gg_b)"/>
<rect x="159.96" y="813.8" width="23.3" height="96.7" fill="url(#gg_b)"/>
<text x="171.61" y="802" font-size="15.5" text-anchor="middle" >31%</text>
<line x1="171.61" y1="910.5" x2="171.61" y2="915.5" stroke="#2b2b2b" stroke-width="1.2" />
<text x="171.61" y="930.5" font-size="13.5" text-anchor="middle" >12X</text>
<rect x="195.74" y="836.9" width="23.3" height="73.6" fill="url(#gg_b)"/>
<text x="207.39" y="833.6" font-size="15.5" text-anchor="middle" >14%</text>
<line x1="207.39" y1="910.5" x2="207.39" y2="915.5" stroke="#2b2b2b" stroke-width="1.2" />
<text x="207.39" y="930.5" font-size="13.5" text-anchor="middle" >13X</text>
<rect x="231.52" y="899.4" width="23.3" height="11.1" fill="url(#gg_b)"/>
<text x="243.17" y="896.1" font-size="15.5" text-anchor="middle" >2%</text>
<line x1="243.17" y1="910.5" x2="243.17" y2="915.5" stroke="#2b2b2b" stroke-width="1.2" />
<text x="243.17" y="930.5" font-size="13.5" text-anchor="middle" >14X</text>
<rect x="267.3" y="876.6" width="23.3" height="33.9" fill="url(#gg_b)"/>
<text x="278.95" y="873.3" font-size="15.5" text-anchor="middle" >6%</text>
<line x1="278.95" y1="910.5" x2="278.95" y2="915.5" stroke="#2b2b2b" stroke-width="1.2" />
<text x="278.95" y="930.5" font-size="13.5" text-anchor="middle" >others</text>
<rect x="303.08" y="908.4" width="23.3" height="2.1" fill="url(#gg_p)"/>
<text x="314.73" y="905.1" font-size="15.5" text-anchor="middle" >1%</text>
<line x1="314.73" y1="910.5" x2="314.73" y2="915.5" stroke="#2b2b2b" stroke-width="1.2" />
<text x="314.73" y="930.5" font-size="13.5" text-anchor="middle" >100X</text>
<rect x="338.86" y="897.8" width="23.3" height="12.7" fill="url(#gg_p)"/>
<text x="350.51" y="894.5" font-size="15.5" text-anchor="middle" >2%</text>
<line x1="350.51" y1="910.5" x2="350.51" y2="915.5" stroke="#2b2b2b" stroke-width="1.2" />
<text x="350.51" y="930.5" font-size="13.5" text-anchor="middle" >101X</text>
<rect x="374.64" y="896" width="23.3" height="14.5" fill="url(#gg_p)"/>
<text x="386.29" y="892.7" font-size="15.5" text-anchor="middle" >3%</text>
<line x1="386.29" y1="910.5" x2="386.29" y2="915.5" stroke="#2b2b2b" stroke-width="1.2" />
<text x="386.29" y="930.5" font-size="13.5" text-anchor="middle" >102X</text>
<rect x="410.42" y="902.4" width="23.3" height="8.1" fill="url(#gg_p)"/>
<text x="422.07" y="899.1" font-size="15.5" text-anchor="middle" >2%</text>
<line x1="422.07" y1="910.5" x2="422.07" y2="915.5" stroke="#2b2b2b" stroke-width="1.2" />
<text x="422.07" y="930.5" font-size="13.5" text-anchor="middle" >103X</text>
<rect x="446.2" y="902.4" width="23.3" height="8.1" fill="url(#gg_p)"/>
<text x="457.85" y="899.1" font-size="15.5" text-anchor="middle" >2%</text>
<line x1="457.85" y1="910.5" x2="457.85" y2="915.5" stroke="#2b2b2b" stroke-width="1.2" />
<text x="457.85" y="930.5" font-size="13.5" text-anchor="middle" >110X</text>
<rect x="481.98" y="877" width="23.3" height="33.5" fill="url(#gg_p)"/>
<text x="493.63" y="873.7" font-size="15.5" text-anchor="middle" >6%</text>
<line x1="493.63" y1="910.5" x2="493.63" y2="915.5" stroke="#2b2b2b" stroke-width="1.2" />
<text x="493.63" y="930.5" font-size="13.5" text-anchor="middle" >111X</text>
<rect x="517.76" y="862.7" width="23.3" height="47.8" fill="url(#gg_p)"/>
<text x="529.41" y="859.4" font-size="15.5" text-anchor="middle" >9%</text>
<line x1="529.41" y1="910.5" x2="529.41" y2="915.5" stroke="#2b2b2b" stroke-width="1.2" />
<text x="529.41" y="930.5" font-size="13.5" text-anchor="middle" >112X</text>
<rect x="553.54" y="884.1" width="23.3" height="26.4" fill="url(#gg_p)"/>
<text x="565.19" y="880.8" font-size="15.5" text-anchor="middle" >5%</text>
<line x1="565.19" y1="910.5" x2="565.19" y2="915.5" stroke="#2b2b2b" stroke-width="1.2" />
<text x="565.19" y="930.5" font-size="13.5" text-anchor="middle" >113X</text>
<rect x="589.32" y="883" width="23.3" height="27.5" fill="url(#gg_p)"/>
<text x="600.97" y="879.7" font-size="15.5" text-anchor="middle" >5%</text>
<line x1="600.97" y1="910.5" x2="600.97" y2="915.5" stroke="#2b2b2b" stroke-width="1.2" />
<text x="600.97" y="930.5" font-size="13.5" text-anchor="middle" >120X</text>
<rect x="625.1" y="844" width="23.3" height="66.5" fill="url(#gg_p)"/>
<text x="636.75" y="840.7" font-size="15.5" text-anchor="middle" >12%</text>
<line x1="636.75" y1="910.5" x2="636.75" y2="915.5" stroke="#2b2b2b" stroke-width="1.2" />
<text x="636.75" y="930.5" font-size="13.5" text-anchor="middle" >121X</text>
<rect x="660.88" y="826.7" width="23.3" height="83.8" fill="url(#gg_p)"/>
<text x="672.53" y="823.4" font-size="15.5" text-anchor="middle" >16%</text>
<line x1="672.53" y1="910.5" x2="672.53" y2="915.5" stroke="#2b2b2b" stroke-width="1.2" />
<text x="672.53" y="930.5" font-size="13.5" text-anchor="middle" >122X</text>
<rect x="696.66" y="870.2" width="23.3" height="40.3" fill="url(#gg_p)"/>
<text x="708.31" y="866.9" font-size="15.5" text-anchor="middle" >7%</text>
<line x1="708.31" y1="910.5" x2="708.31" y2="915.5" stroke="#2b2b2b" stroke-width="1.2" />
<text x="708.31" y="930.5" font-size="13.5" text-anchor="middle" >123X</text>
<rect x="732.44" y="896.6" width="23.3" height="13.9" fill="url(#gg_p)"/>
<text x="744.09" y="893.3" font-size="15.5" text-anchor="middle" >3%</text>
<line x1="744.09" y1="910.5" x2="744.09" y2="915.5" stroke="#2b2b2b" stroke-width="1.2" />
<text x="744.09" y="930.5" font-size="13.5" text-anchor="middle" >130X</text>
<rect x="768.22" y="871.8" width="23.3" height="38.7" fill="url(#gg_p)"/>
<text x="779.87" y="868.5" font-size="15.5" text-anchor="middle" >7%</text>
<line x1="779.87" y1="910.5" x2="779.87" y2="915.5" stroke="#2b2b2b" stroke-width="1.2" />
<text x="779.87" y="930.5" font-size="13.5" text-anchor="middle" >131X</text>
<rect x="804" y="867.7" width="23.3" height="42.8" fill="url(#gg_p)"/>
<text x="815.65" y="864.4" font-size="15.5" text-anchor="middle" >8%</text>
<line x1="815.65" y1="910.5" x2="815.65" y2="915.5" stroke="#2b2b2b" stroke-width="1.2" />
<text x="815.65" y="930.5" font-size="13.5" text-anchor="middle" >132X</text>
<rect x="839.78" y="906.6" width="23.3" height="3.9" fill="url(#gg_p)"/>
<text x="851.43" y="903.3" font-size="15.5" text-anchor="middle" >1%</text>
<line x1="851.43" y1="910.5" x2="851.43" y2="915.5" stroke="#2b2b2b" stroke-width="1.2" />
<text x="851.43" y="930.5" font-size="13.5" text-anchor="middle" >133X</text>
<rect x="875.56" y="902.4" width="23.3" height="8.1" fill="url(#gg_p)"/>
<text x="887.21" y="899.1" font-size="15.5" text-anchor="middle" >1%</text>
<line x1="887.21" y1="910.5" x2="887.21" y2="915.5" stroke="#2b2b2b" stroke-width="1.2" />
<text x="887.21" y="930.5" font-size="13.5" text-anchor="middle" >140X</text>
<rect x="911.34" y="895.4" width="23.3" height="15.1" fill="url(#gg_p)"/>
<text x="922.99" y="892.1" font-size="15.5" text-anchor="middle" >3%</text>
<line x1="922.99" y1="910.5" x2="922.99" y2="915.5" stroke="#2b2b2b" stroke-width="1.2" />
<text x="922.99" y="930.5" font-size="13.5" text-anchor="middle" >141X</text>
<rect x="947.12" y="901.6" width="23.3" height="8.9" fill="url(#gg_p)"/>
<text x="958.77" y="898.3" font-size="15.5" text-anchor="middle" >2%</text>
<line x1="958.77" y1="910.5" x2="958.77" y2="915.5" stroke="#2b2b2b" stroke-width="1.2" />
<text x="958.77" y="930.5" font-size="13.5" text-anchor="middle" >142X</text>
<rect x="982.9" y="874.7" width="23.3" height="35.8" fill="url(#gg_p)"/>
<text x="994.55" y="871.4" font-size="15.5" text-anchor="middle" >7%</text>
<line x1="994.55" y1="910.5" x2="994.55" y2="915.5" stroke="#2b2b2b" stroke-width="1.2" />
<text x="994.55" y="930.5" font-size="13.5" text-anchor="middle" >others</text>
<rect x="82.4" y="771.3" width="929.6" height="139.2" fill="none" stroke="#2b2b2b" stroke-width="1.4"/>
<line x1="297.8" y1="771.3" x2="297.8" y2="910.5" stroke="#333" stroke-width="1.3" stroke-dasharray="4.5 3"/>
<line x1="82.4" y1="910.2" x2="77.4" y2="910.2" stroke="#2b2b2b" stroke-width="1.2" />
<line x1="82.4" y1="889.3" x2="79.9" y2="889.3" stroke="#2b2b2b" stroke-width="1.2" />
<line x1="82.4" y1="867.5" x2="77.4" y2="867.5" stroke="#2b2b2b" stroke-width="1.2" />
<line x1="82.4" y1="846.4" x2="79.9" y2="846.4" stroke="#2b2b2b" stroke-width="1.2" />
<line x1="82.4" y1="824.7" x2="77.4" y2="824.7" stroke="#2b2b2b" stroke-width="1.2" />
<line x1="82.4" y1="800.8" x2="77.4" y2="800.8" stroke="#2b2b2b" stroke-width="1.2" />
<line x1="82.4" y1="778.6" x2="79.9" y2="778.6" stroke="#2b2b2b" stroke-width="1.2" />
<polygon points="77.3,813.1 87.8,810.3 87.8,812.6 77.3,815.4" fill="#fff"/>
<line x1="77.3" y1="813.1" x2="87.8" y2="810.3" stroke="#2b2b2b" stroke-width="1.2" />
<line x1="77.3" y1="815.4" x2="87.8" y2="812.6" stroke="#2b2b2b" stroke-width="1.2" />
<polygon points="1006.5,813.1 1015.5,810.3 1015.5,812.6 1006.5,815.4" fill="#fff"/>
<line x1="1006.5" y1="813.1" x2="1015.5" y2="810.3" stroke="#2b2b2b" stroke-width="1.2" />
<line x1="1006.5" y1="815.4" x2="1015.5" y2="812.6" stroke="#2b2b2b" stroke-width="1.2" />
<text x="72" y="916" font-size="15.5" text-anchor="end" >0%</text>
<text x="72" y="872.9" font-size="15.5" text-anchor="end" >8%</text>
<text x="72" y="830.1" font-size="15.5" text-anchor="end" >16%</text>
<text x="72" y="806.2" font-size="15.5" text-anchor="end" >32%</text>
<text x="0" y="0" font-size="17" text-anchor="middle" transform="translate(32.3,840) rotate(-90)">Frequency</text>
<rect x="304" y="775.8" width="34.2" height="16.5" fill="url(#gg_b)"/>
<text x="343.4" y="789.5" font-size="15" >NPV</text>
<text x="391.3" y="789.5" font-size="15.5" >11X : Na(1)ClO<tspan font-size="10" dy="3">4</tspan><tspan font-size="10" dy="-9">-</tspan><tspan dy="6">(1)PC(X)</tspan></text>
<rect x="606.2" y="775.3" width="34" height="17" fill="url(#gg_p)"/>
<text x="644.7" y="789.5" font-size="15" >NPMV</text>
<text x="706.8" y="789.5" font-size="15.5" >111X : Na(1)ClO<tspan font-size="10" dy="3">4</tspan><tspan font-size="10" dy="-9">-</tspan><tspan dy="6">(1)MB(1)PC(X)</tspan></text>
<text x="0" y="792.5" font-size="21.5" >g</text>
</svg>
</body></html>
